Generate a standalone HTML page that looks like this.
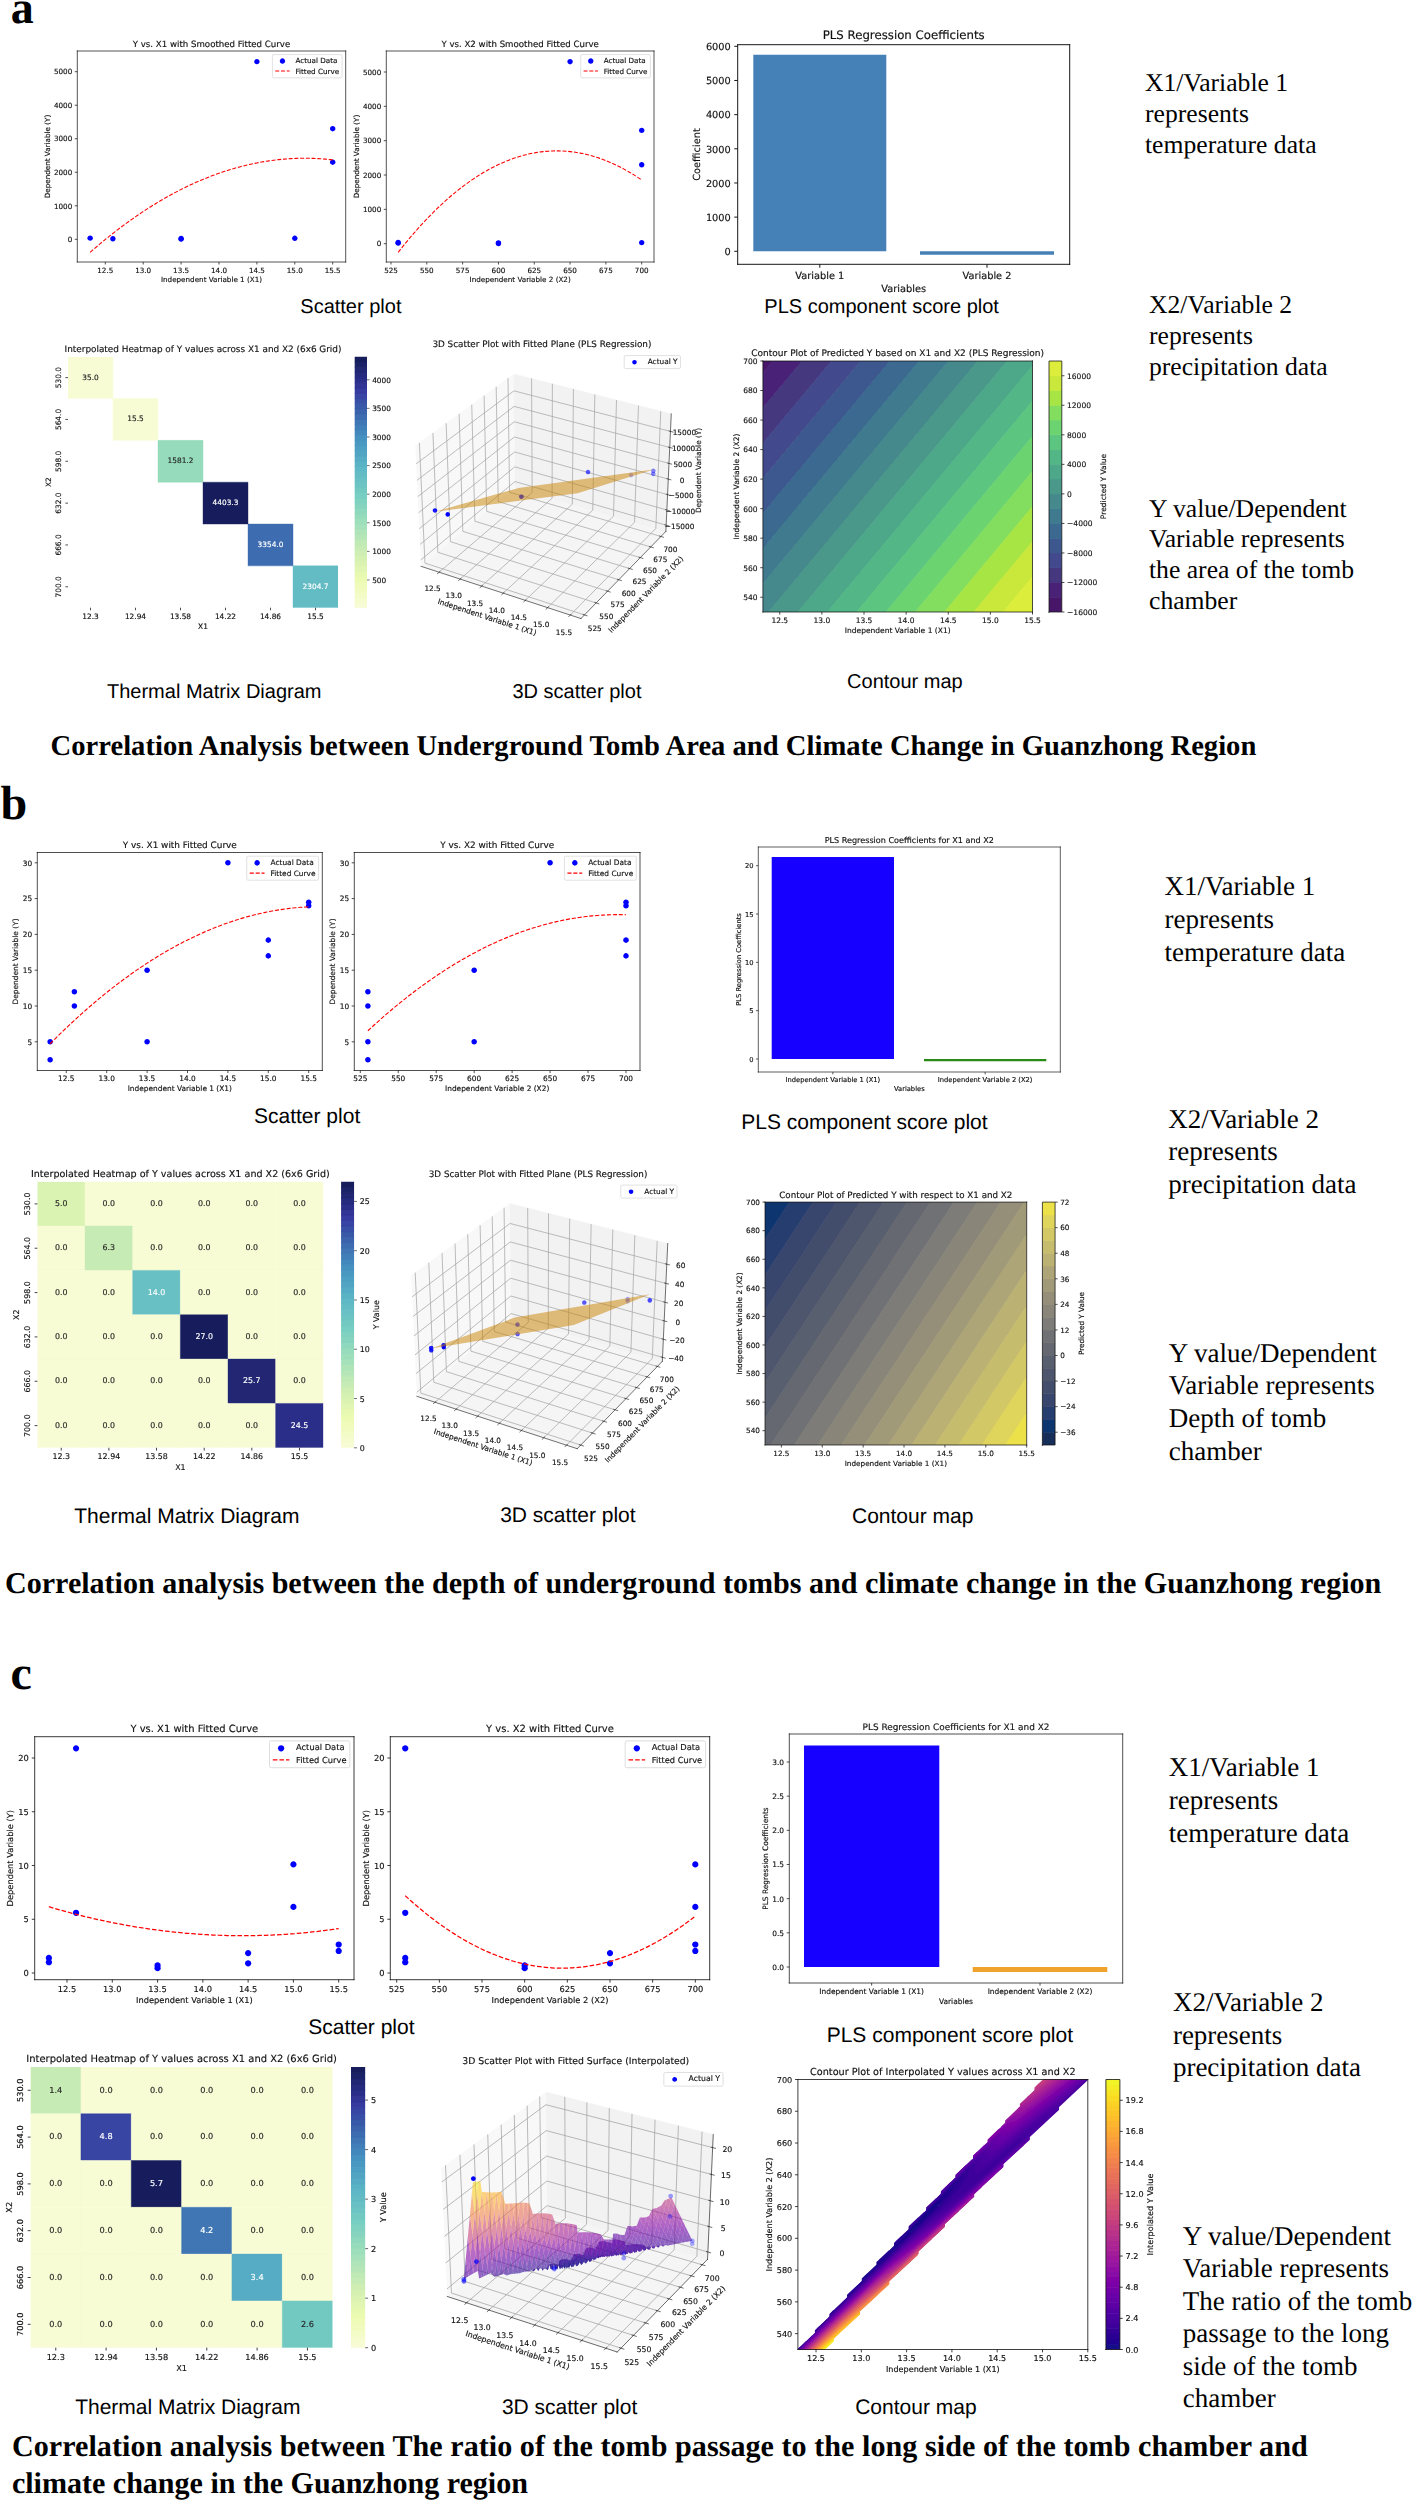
<!DOCTYPE html>
<html lang="en"><head><meta charset="utf-8"><title>Correlation analysis figures</title>
<style>
html,body{margin:0;padding:0;background:#fff}
#page{position:relative;width:1413px;height:2500px;overflow:hidden;background:#fff}
#page svg{position:absolute;left:0;top:0}
svg text{text-rendering:geometricPrecision}
.fig text{font-family:"DejaVu Sans",sans-serif}
.ar{font-family:"Liberation Sans",sans-serif;fill:#000}
.se{font-family:"Liberation Serif",serif;fill:#000}
.bd{font-family:"Liberation Serif",serif;font-weight:bold;fill:#000}
</style></head><body><div id="page">

<svg width="1413" height="2500" viewBox="0 0 1413 2500">
<defs>
<style type="text/css">*{stroke-linejoin: round; stroke-linecap: butt}</style>
</defs>
<filter id="soft" x="0" y="0" width="1" height="1" filterUnits="objectBoundingBox"><feGaussianBlur stdDeviation="0.4"/></filter><g class="fig" filter="url(#soft)">
<g><path d="M 0 2500 L 1413 2500 L 1413 0 L 0 0 z" style="fill: #ffffff"/></g>
<g><g><path d="M 77.3 262 L 345.7 262 L 345.7 51 L 77.3 51 z" style="fill: #ffffff"/></g>
<g id="matplotlib.axis_1">
<g><g><defs>
<path id="m2ba249a6d5" d="M 0 0 L 0 2.52" style="stroke: #111111; stroke-width: 0.72"/>
</defs>
<g><use href="#m2ba249a6d5" x="105.3" y="262" style="fill: #111111; stroke: #111111; stroke-width: 0.72"/></g></g>
<g><text style="font-size: 7.2px; text-anchor: middle; fill: #111111; stroke: #111111; stroke-width: 0.15" x="105.3" y="272.51">12.5</text></g></g>
<g><g><g><use href="#m2ba249a6d5" x="143.2" y="262" style="fill: #111111; stroke: #111111; stroke-width: 0.72"/></g></g>
<g><text style="font-size: 7.2px; text-anchor: middle; fill: #111111; stroke: #111111; stroke-width: 0.15" x="143.2" y="272.51">13.0</text></g></g>
<g><g><g><use href="#m2ba249a6d5" x="181.1" y="262" style="fill: #111111; stroke: #111111; stroke-width: 0.72"/></g></g>
<g><text style="font-size: 7.2px; text-anchor: middle; fill: #111111; stroke: #111111; stroke-width: 0.15" x="181.1" y="272.51">13.5</text></g></g>
<g><g><g><use href="#m2ba249a6d5" x="219" y="262" style="fill: #111111; stroke: #111111; stroke-width: 0.72"/></g></g>
<g><text style="font-size: 7.2px; text-anchor: middle; fill: #111111; stroke: #111111; stroke-width: 0.15" x="219" y="272.51">14.0</text></g></g>
<g><g><g><use href="#m2ba249a6d5" x="256.9" y="262" style="fill: #111111; stroke: #111111; stroke-width: 0.72"/></g></g>
<g><text style="font-size: 7.2px; text-anchor: middle; fill: #111111; stroke: #111111; stroke-width: 0.15" x="256.9" y="272.51">14.5</text></g></g>
<g><g><g><use href="#m2ba249a6d5" x="294.8" y="262" style="fill: #111111; stroke: #111111; stroke-width: 0.72"/></g></g>
<g><text style="font-size: 7.2px; text-anchor: middle; fill: #111111; stroke: #111111; stroke-width: 0.15" x="294.8" y="272.51">15.0</text></g></g>
<g><g><g><use href="#m2ba249a6d5" x="332.7" y="262" style="fill: #111111; stroke: #111111; stroke-width: 0.72"/></g></g>
<g><text style="font-size: 7.2px; text-anchor: middle; fill: #111111; stroke: #111111; stroke-width: 0.15" x="332.7" y="272.51">15.5</text></g></g>
<g><text style="font-size: 7.2px; text-anchor: middle; fill: #111111; stroke: #111111; stroke-width: 0.15" x="211.5" y="282.36">Independent Variable 1 (X1)</text></g></g>
<g id="matplotlib.axis_2">
<g><g><defs>
<path id="m06bb2922c9" d="M 0 0 L -2.52 0" style="stroke: #111111; stroke-width: 0.72"/>
</defs>
<g><use href="#m06bb2922c9" x="77.3" y="239.3" style="fill: #111111; stroke: #111111; stroke-width: 0.72"/></g></g>
<g><text style="font-size: 7.2px; text-anchor: end; fill: #111111; stroke: #111111; stroke-width: 0.15" x="72.26" y="242.04">0</text></g></g>
<g><g><g><use href="#m06bb2922c9" x="77.3" y="205.78" style="fill: #111111; stroke: #111111; stroke-width: 0.72"/></g></g>
<g><text style="font-size: 7.2px; text-anchor: end; fill: #111111; stroke: #111111; stroke-width: 0.15" x="72.26" y="208.52">1000</text></g></g>
<g><g><g><use href="#m06bb2922c9" x="77.3" y="172.26" style="fill: #111111; stroke: #111111; stroke-width: 0.72"/></g></g>
<g><text style="font-size: 7.2px; text-anchor: end; fill: #111111; stroke: #111111; stroke-width: 0.15" x="72.26" y="175">2000</text></g></g>
<g><g><g><use href="#m06bb2922c9" x="77.3" y="138.74" style="fill: #111111; stroke: #111111; stroke-width: 0.72"/></g></g>
<g><text style="font-size: 7.2px; text-anchor: end; fill: #111111; stroke: #111111; stroke-width: 0.15" x="72.26" y="141.48">3000</text></g></g>
<g><g><g><use href="#m06bb2922c9" x="77.3" y="105.22" style="fill: #111111; stroke: #111111; stroke-width: 0.72"/></g></g>
<g><text style="font-size: 7.2px; text-anchor: end; fill: #111111; stroke: #111111; stroke-width: 0.15" x="72.26" y="107.96">4000</text></g></g>
<g><g><g><use href="#m06bb2922c9" x="77.3" y="71.7" style="fill: #111111; stroke: #111111; stroke-width: 0.72"/></g></g>
<g><text style="font-size: 7.2px; text-anchor: end; fill: #111111; stroke: #111111; stroke-width: 0.15" x="72.26" y="74.44">5000</text></g></g>
<g><text style="font-size: 7.2px; text-anchor: middle; fill: #111111; stroke: #111111; stroke-width: 0.15" x="49.56" y="156.5" transform="rotate(-90 49.56 156.5)">Dependent Variable (Y)</text></g></g>
<g><path d="M 77.3 262 L 77.3 51" style="fill: none; stroke: #111111; stroke-width: 0.72; stroke-linejoin: miter; stroke-linecap: square"/></g>
<g><path d="M 345.7 262 L 345.7 51" style="fill: none; stroke: #111111; stroke-width: 0.72; stroke-linejoin: miter; stroke-linecap: square"/></g>
<g><path d="M 77.3 262 L 345.7 262" style="fill: none; stroke: #111111; stroke-width: 0.72; stroke-linejoin: miter; stroke-linecap: square"/></g>
<g><path d="M 77.3 51 L 345.7 51" style="fill: none; stroke: #111111; stroke-width: 0.72; stroke-linejoin: miter; stroke-linecap: square"/></g>
<g><defs>
<path id="m46b98c2aea" d="M 0 2.7 C 0.72 2.7 1.4 2.42 1.91 1.91 C 2.42 1.4 2.7 0.72 2.7 0 C 2.7 -0.72 2.42 -1.4 1.91 -1.91 C 1.4 -2.42 0.72 -2.7 0 -2.7 C -0.72 -2.7 -1.4 -2.42 -1.91 -1.91 C -2.42 -1.4 -2.7 -0.72 -2.7 0 C -2.7 0.72 -2.42 1.4 -1.91 1.91 C -1.4 2.42 -0.72 2.7 0 2.7 z"/>
</defs>
<g clip-path="url(#p2ca0eb7456)">
<use href="#m46b98c2aea" x="90.14" y="238.13" style="fill: #0000ff"/>
<use href="#m46b98c2aea" x="112.88" y="238.78" style="fill: #0000ff"/>
<use href="#m46b98c2aea" x="181.1" y="238.46" style="fill: #0000ff"/>
<use href="#m46b98c2aea" x="181.1" y="239.13" style="fill: #0000ff"/>
<use href="#m46b98c2aea" x="256.9" y="61.64" style="fill: #0000ff"/>
<use href="#m46b98c2aea" x="294.8" y="238.29" style="fill: #0000ff"/>
<use href="#m46b98c2aea" x="332.7" y="128.68" style="fill: #0000ff"/>
<use href="#m46b98c2aea" x="332.7" y="162.2" style="fill: #0000ff"/></g></g>
<g><text style="font-size: 8.64px; text-anchor: middle; fill: #111111; stroke: #111111; stroke-width: 0.15" x="211.5" y="46.68">Y vs. X1 with Smoothed Fitted Curve</text></g>
<g><path d="M 90.14 252.32 L 92.59 250.18 L 95.04 248.07 L 97.49 245.98 L 99.94 243.92 L 102.39 241.88 L 104.84 239.87 L 107.29 237.88 L 109.74 235.91 L 112.19 233.97 L 114.64 232.06 L 117.09 230.16 L 119.54 228.3 L 121.99 226.46 L 124.44 224.64 L 126.89 222.85 L 129.34 221.08 L 131.79 219.33 L 134.24 217.61 L 136.69 215.92 L 139.14 214.25 L 141.59 212.6 L 144.04 210.98 L 146.49 209.39 L 148.94 207.81 L 151.39 206.27 L 153.84 204.74 L 156.29 203.24 L 158.74 201.77 L 161.19 200.32 L 163.64 198.9 L 166.09 197.5 L 168.54 196.12 L 170.99 194.77 L 173.44 193.44 L 175.89 192.14 L 178.34 190.86 L 180.79 189.61 L 183.24 188.38 L 185.69 187.18 L 188.14 186 L 190.59 184.84 L 193.04 183.71 L 195.49 182.61 L 197.94 181.53 L 200.39 180.47 L 202.84 179.44 L 205.29 178.43 L 207.74 177.45 L 210.19 176.49 L 212.65 175.55 L 215.1 174.64 L 217.55 173.76 L 220 172.9 L 222.45 172.06 L 224.9 171.25 L 227.35 170.47 L 229.8 169.7 L 232.25 168.97 L 234.7 168.25 L 237.15 167.56 L 239.6 166.9 L 242.05 166.26 L 244.5 165.65 L 246.95 165.06 L 249.4 164.49 L 251.85 163.95 L 254.3 163.43 L 256.75 162.94 L 259.2 162.47 L 261.65 162.03 L 264.1 161.61 L 266.55 161.22 L 269 160.85 L 271.45 160.5 L 273.9 160.18 L 276.35 159.89 L 278.8 159.62 L 281.25 159.37 L 283.7 159.15 L 286.15 158.95 L 288.6 158.78 L 291.05 158.63 L 293.5 158.5 L 295.95 158.4 L 298.4 158.33 L 300.85 158.28 L 303.3 158.25 L 305.75 158.25 L 308.2 158.27 L 310.65 158.32 L 313.1 158.39 L 315.55 158.49 L 318 158.61 L 320.45 158.76 L 322.9 158.93 L 325.35 159.12 L 327.8 159.34 L 330.25 159.59 L 332.7 159.86" clip-path="url(#p2ca0eb7456)" style="fill: none; stroke-dasharray: 4,1.73; stroke-dashoffset: 0; stroke: #ff0000; stroke-width: 1.08"/></g>
<g><g><path d="M 273.82 77.9 L 340.66 77.9 Q 342.1 77.9 342.1 76.46 L 342.1 56.04 Q 342.1 54.6 340.66 54.6 L 273.82 54.6 Q 272.38 54.6 272.38 56.04 L 272.38 76.46 Q 272.38 77.9 273.82 77.9 z" style="fill: #ffffff; opacity: 0.8; stroke: #cccccc; stroke-width: 0.72; stroke-linejoin: miter"/></g>
<g><g><use href="#m46b98c2aea" x="282.46" y="61.06" style="fill: #0000ff"/></g></g>
<g><text style="font-size: 7.2px; text-anchor: start; fill: #111111; stroke: #111111; stroke-width: 0.15" x="295.42" y="62.95">Actual Data</text></g>
<g><path d="M 275.26 71 L 282.46 71 L 289.66 71" style="fill: none; stroke-dasharray: 4,1.73; stroke-dashoffset: 0; stroke: #ff0000; stroke-width: 1.08"/></g>
<g><text style="font-size: 7.2px; text-anchor: start; fill: #111111; stroke: #111111; stroke-width: 0.15" x="295.42" y="73.52">Fitted Curve</text></g></g></g>
<g><g><path d="M 386.3 262 L 654 262 L 654 51 L 386.3 51 z" style="fill: #ffffff"/></g>
<g id="matplotlib.axis_3">
<g><g><g><use href="#m2ba249a6d5" x="391" y="262" style="fill: #111111; stroke: #111111; stroke-width: 0.72"/></g></g>
<g><text style="font-size: 7.2px; text-anchor: middle; fill: #111111; stroke: #111111; stroke-width: 0.15" x="391" y="272.51">525</text></g></g>
<g><g><g><use href="#m2ba249a6d5" x="426.81" y="262" style="fill: #111111; stroke: #111111; stroke-width: 0.72"/></g></g>
<g><text style="font-size: 7.2px; text-anchor: middle; fill: #111111; stroke: #111111; stroke-width: 0.15" x="426.81" y="272.51">550</text></g></g>
<g><g><g><use href="#m2ba249a6d5" x="462.63" y="262" style="fill: #111111; stroke: #111111; stroke-width: 0.72"/></g></g>
<g><text style="font-size: 7.2px; text-anchor: middle; fill: #111111; stroke: #111111; stroke-width: 0.15" x="462.63" y="272.51">575</text></g></g>
<g><g><g><use href="#m2ba249a6d5" x="498.44" y="262" style="fill: #111111; stroke: #111111; stroke-width: 0.72"/></g></g>
<g><text style="font-size: 7.2px; text-anchor: middle; fill: #111111; stroke: #111111; stroke-width: 0.15" x="498.44" y="272.51">600</text></g></g>
<g><g><g><use href="#m2ba249a6d5" x="534.26" y="262" style="fill: #111111; stroke: #111111; stroke-width: 0.72"/></g></g>
<g><text style="font-size: 7.2px; text-anchor: middle; fill: #111111; stroke: #111111; stroke-width: 0.15" x="534.26" y="272.51">625</text></g></g>
<g><g><g><use href="#m2ba249a6d5" x="570.07" y="262" style="fill: #111111; stroke: #111111; stroke-width: 0.72"/></g></g>
<g><text style="font-size: 7.2px; text-anchor: middle; fill: #111111; stroke: #111111; stroke-width: 0.15" x="570.07" y="272.51">650</text></g></g>
<g><g><g><use href="#m2ba249a6d5" x="605.89" y="262" style="fill: #111111; stroke: #111111; stroke-width: 0.72"/></g></g>
<g><text style="font-size: 7.2px; text-anchor: middle; fill: #111111; stroke: #111111; stroke-width: 0.15" x="605.89" y="272.51">675</text></g></g>
<g><g><g><use href="#m2ba249a6d5" x="641.7" y="262" style="fill: #111111; stroke: #111111; stroke-width: 0.72"/></g></g>
<g><text style="font-size: 7.2px; text-anchor: middle; fill: #111111; stroke: #111111; stroke-width: 0.15" x="641.7" y="272.51">700</text></g></g>
<g><text style="font-size: 7.2px; text-anchor: middle; fill: #111111; stroke: #111111; stroke-width: 0.15" x="520.15" y="282.36">Independent Variable 2 (X2)</text></g></g>
<g id="matplotlib.axis_4">
<g><g><g><use href="#m06bb2922c9" x="386.3" y="243.7" style="fill: #111111; stroke: #111111; stroke-width: 0.72"/></g></g>
<g><text style="font-size: 7.2px; text-anchor: end; fill: #111111; stroke: #111111; stroke-width: 0.15" x="381.26" y="246.44">0</text></g></g>
<g><g><g><use href="#m06bb2922c9" x="386.3" y="209.36" style="fill: #111111; stroke: #111111; stroke-width: 0.72"/></g></g>
<g><text style="font-size: 7.2px; text-anchor: end; fill: #111111; stroke: #111111; stroke-width: 0.15" x="381.26" y="212.1">1000</text></g></g>
<g><g><g><use href="#m06bb2922c9" x="386.3" y="175.02" style="fill: #111111; stroke: #111111; stroke-width: 0.72"/></g></g>
<g><text style="font-size: 7.2px; text-anchor: end; fill: #111111; stroke: #111111; stroke-width: 0.15" x="381.26" y="177.76">2000</text></g></g>
<g><g><g><use href="#m06bb2922c9" x="386.3" y="140.68" style="fill: #111111; stroke: #111111; stroke-width: 0.72"/></g></g>
<g><text style="font-size: 7.2px; text-anchor: end; fill: #111111; stroke: #111111; stroke-width: 0.15" x="381.26" y="143.42">3000</text></g></g>
<g><g><g><use href="#m06bb2922c9" x="386.3" y="106.34" style="fill: #111111; stroke: #111111; stroke-width: 0.72"/></g></g>
<g><text style="font-size: 7.2px; text-anchor: end; fill: #111111; stroke: #111111; stroke-width: 0.15" x="381.26" y="109.08">4000</text></g></g>
<g><g><g><use href="#m06bb2922c9" x="386.3" y="72" style="fill: #111111; stroke: #111111; stroke-width: 0.72"/></g></g>
<g><text style="font-size: 7.2px; text-anchor: end; fill: #111111; stroke: #111111; stroke-width: 0.15" x="381.26" y="74.74">5000</text></g></g>
<g><text style="font-size: 7.2px; text-anchor: middle; fill: #111111; stroke: #111111; stroke-width: 0.15" x="358.56" y="156.5" transform="rotate(-90 358.56 156.5)">Dependent Variable (Y)</text></g></g>
<g><path d="M 386.3 262 L 386.3 51" style="fill: none; stroke: #111111; stroke-width: 0.72; stroke-linejoin: miter; stroke-linecap: square"/></g>
<g><path d="M 654 262 L 654 51" style="fill: none; stroke: #111111; stroke-width: 0.72; stroke-linejoin: miter; stroke-linecap: square"/></g>
<g><path d="M 386.3 262 L 654 262" style="fill: none; stroke: #111111; stroke-width: 0.72; stroke-linejoin: miter; stroke-linecap: square"/></g>
<g><path d="M 386.3 51 L 654 51" style="fill: none; stroke: #111111; stroke-width: 0.72; stroke-linejoin: miter; stroke-linecap: square"/></g>
<g><g clip-path="url(#p0b103eb5af)">
<use href="#m46b98c2aea" x="398.16" y="242.5" style="fill: #0000ff"/>
<use href="#m46b98c2aea" x="398.16" y="243.17" style="fill: #0000ff"/>
<use href="#m46b98c2aea" x="498.44" y="242.84" style="fill: #0000ff"/>
<use href="#m46b98c2aea" x="498.44" y="243.53" style="fill: #0000ff"/>
<use href="#m46b98c2aea" x="570.07" y="61.7" style="fill: #0000ff"/>
<use href="#m46b98c2aea" x="641.7" y="242.67" style="fill: #0000ff"/>
<use href="#m46b98c2aea" x="641.7" y="130.38" style="fill: #0000ff"/>
<use href="#m46b98c2aea" x="641.7" y="164.72" style="fill: #0000ff"/></g></g>
<g><text style="font-size: 8.64px; text-anchor: middle; fill: #111111; stroke: #111111; stroke-width: 0.15" x="520.15" y="46.68">Y vs. X2 with Smoothed Fitted Curve</text></g>
<g><path d="M 398.16 252.32 L 400.62 249.19 L 403.08 246.12 L 405.54 243.1 L 408 240.12 L 410.46 237.19 L 412.92 234.31 L 415.38 231.48 L 417.84 228.7 L 420.3 225.97 L 422.76 223.29 L 425.22 220.65 L 427.68 218.07 L 430.14 215.53 L 432.6 213.04 L 435.06 210.6 L 437.52 208.21 L 439.98 205.87 L 442.44 203.58 L 444.9 201.34 L 447.36 199.14 L 449.82 196.99 L 452.28 194.9 L 454.74 192.85 L 457.2 190.85 L 459.66 188.9 L 462.12 186.99 L 464.58 185.14 L 467.04 183.34 L 469.5 181.58 L 471.96 179.87 L 474.42 178.22 L 476.88 176.61 L 479.34 175.05 L 481.8 173.53 L 484.26 172.07 L 486.72 170.66 L 489.18 169.29 L 491.64 167.98 L 494.1 166.71 L 496.56 165.49 L 499.02 164.32 L 501.48 163.2 L 503.94 162.13 L 506.4 161.1 L 508.86 160.13 L 511.32 159.2 L 513.78 158.33 L 516.24 157.5 L 518.7 156.72 L 521.16 155.99 L 523.62 155.31 L 526.08 154.67 L 528.54 154.09 L 531 153.55 L 533.46 153.07 L 535.92 152.63 L 538.38 152.24 L 540.84 151.9 L 543.3 151.61 L 545.76 151.37 L 548.22 151.17 L 550.68 151.03 L 553.14 150.93 L 555.6 150.88 L 558.06 150.89 L 560.52 150.94 L 562.98 151.04 L 565.44 151.18 L 567.9 151.38 L 570.36 151.63 L 572.82 151.92 L 575.28 152.26 L 577.74 152.66 L 580.2 153.1 L 582.66 153.59 L 585.12 154.13 L 587.58 154.71 L 590.04 155.35 L 592.5 156.03 L 594.96 156.77 L 597.42 157.55 L 599.88 158.38 L 602.34 159.26 L 604.8 160.19 L 607.26 161.17 L 609.72 162.2 L 612.18 163.27 L 614.64 164.4 L 617.1 165.57 L 619.56 166.79 L 622.02 168.06 L 624.48 169.38 L 626.94 170.75 L 629.4 172.17 L 631.86 173.63 L 634.32 175.15 L 636.78 176.71 L 639.24 178.33 L 641.7 179.99" clip-path="url(#p0b103eb5af)" style="fill: none; stroke-dasharray: 4,1.73; stroke-dashoffset: 0; stroke: #ff0000; stroke-width: 1.08"/></g>
<g><g><path d="M 582.12 77.9 L 648.96 77.9 Q 650.4 77.9 650.4 76.46 L 650.4 56.04 Q 650.4 54.6 648.96 54.6 L 582.12 54.6 Q 580.68 54.6 580.68 56.04 L 580.68 76.46 Q 580.68 77.9 582.12 77.9 z" style="fill: #ffffff; opacity: 0.8; stroke: #cccccc; stroke-width: 0.72; stroke-linejoin: miter"/></g>
<g><g><use href="#m46b98c2aea" x="590.76" y="61.06" style="fill: #0000ff"/></g></g>
<g><text style="font-size: 7.2px; text-anchor: start; fill: #111111; stroke: #111111; stroke-width: 0.15" x="603.72" y="62.95">Actual Data</text></g>
<g><path d="M 583.56 71 L 590.76 71 L 597.96 71" style="fill: none; stroke-dasharray: 4,1.73; stroke-dashoffset: 0; stroke: #ff0000; stroke-width: 1.08"/></g>
<g><text style="font-size: 7.2px; text-anchor: start; fill: #111111; stroke: #111111; stroke-width: 0.15" x="603.72" y="73.52">Fitted Curve</text></g></g></g>
<g><g><path d="M 37.3 1070.5 L 322.3 1070.5 L 322.3 852.5 L 37.3 852.5 z" style="fill: #ffffff"/></g>
<g id="matplotlib.axis_5">
<g><g><defs>
<path id="m5240af882c" d="M 0 0 L 0 2.6" style="stroke: #111111; stroke-width: 0.74"/>
</defs>
<g><use href="#m5240af882c" x="66.3" y="1070.5" style="fill: #111111; stroke: #111111; stroke-width: 0.74"/></g></g>
<g><text style="font-size: 7.42px; text-anchor: middle; fill: #111111; stroke: #111111; stroke-width: 0.15" x="66.3" y="1081.33">12.5</text></g></g>
<g><g><g><use href="#m5240af882c" x="106.7" y="1070.5" style="fill: #111111; stroke: #111111; stroke-width: 0.74"/></g></g>
<g><text style="font-size: 7.42px; text-anchor: middle; fill: #111111; stroke: #111111; stroke-width: 0.15" x="106.7" y="1081.33">13.0</text></g></g>
<g><g><g><use href="#m5240af882c" x="147.1" y="1070.5" style="fill: #111111; stroke: #111111; stroke-width: 0.74"/></g></g>
<g><text style="font-size: 7.42px; text-anchor: middle; fill: #111111; stroke: #111111; stroke-width: 0.15" x="147.1" y="1081.33">13.5</text></g></g>
<g><g><g><use href="#m5240af882c" x="187.5" y="1070.5" style="fill: #111111; stroke: #111111; stroke-width: 0.74"/></g></g>
<g><text style="font-size: 7.42px; text-anchor: middle; fill: #111111; stroke: #111111; stroke-width: 0.15" x="187.5" y="1081.33">14.0</text></g></g>
<g><g><g><use href="#m5240af882c" x="227.9" y="1070.5" style="fill: #111111; stroke: #111111; stroke-width: 0.74"/></g></g>
<g><text style="font-size: 7.42px; text-anchor: middle; fill: #111111; stroke: #111111; stroke-width: 0.15" x="227.9" y="1081.33">14.5</text></g></g>
<g><g><g><use href="#m5240af882c" x="268.3" y="1070.5" style="fill: #111111; stroke: #111111; stroke-width: 0.74"/></g></g>
<g><text style="font-size: 7.42px; text-anchor: middle; fill: #111111; stroke: #111111; stroke-width: 0.15" x="268.3" y="1081.33">15.0</text></g></g>
<g><g><g><use href="#m5240af882c" x="308.7" y="1070.5" style="fill: #111111; stroke: #111111; stroke-width: 0.74"/></g></g>
<g><text style="font-size: 7.42px; text-anchor: middle; fill: #111111; stroke: #111111; stroke-width: 0.15" x="308.7" y="1081.33">15.5</text></g></g>
<g><text style="font-size: 7.42px; text-anchor: middle; fill: #111111; stroke: #111111; stroke-width: 0.15" x="179.8" y="1091.48">Independent Variable 1 (X1)</text></g></g>
<g id="matplotlib.axis_6">
<g><g><defs>
<path id="mcc1464dc10" d="M 0 0 L -2.6 0" style="stroke: #111111; stroke-width: 0.74"/>
</defs>
<g><use href="#mcc1464dc10" x="37.3" y="1041.8" style="fill: #111111; stroke: #111111; stroke-width: 0.74"/></g></g>
<g><text style="font-size: 7.42px; text-anchor: end; fill: #111111; stroke: #111111; stroke-width: 0.15" x="32.11" y="1044.62">5</text></g></g>
<g><g><g><use href="#mcc1464dc10" x="37.3" y="1006" style="fill: #111111; stroke: #111111; stroke-width: 0.74"/></g></g>
<g><text style="font-size: 7.42px; text-anchor: end; fill: #111111; stroke: #111111; stroke-width: 0.15" x="32.11" y="1008.82">10</text></g></g>
<g><g><g><use href="#mcc1464dc10" x="37.3" y="970.2" style="fill: #111111; stroke: #111111; stroke-width: 0.74"/></g></g>
<g><text style="font-size: 7.42px; text-anchor: end; fill: #111111; stroke: #111111; stroke-width: 0.15" x="32.11" y="973.02">15</text></g></g>
<g><g><g><use href="#mcc1464dc10" x="37.3" y="934.4" style="fill: #111111; stroke: #111111; stroke-width: 0.74"/></g></g>
<g><text style="font-size: 7.42px; text-anchor: end; fill: #111111; stroke: #111111; stroke-width: 0.15" x="32.11" y="937.22">20</text></g></g>
<g><g><g><use href="#mcc1464dc10" x="37.3" y="898.6" style="fill: #111111; stroke: #111111; stroke-width: 0.74"/></g></g>
<g><text style="font-size: 7.42px; text-anchor: end; fill: #111111; stroke: #111111; stroke-width: 0.15" x="32.11" y="901.42">25</text></g></g>
<g><g><g><use href="#mcc1464dc10" x="37.3" y="862.8" style="fill: #111111; stroke: #111111; stroke-width: 0.74"/></g></g>
<g><text style="font-size: 7.42px; text-anchor: end; fill: #111111; stroke: #111111; stroke-width: 0.15" x="32.11" y="865.62">30</text></g></g>
<g><text style="font-size: 7.42px; text-anchor: middle; fill: #111111; stroke: #111111; stroke-width: 0.15" x="18.15" y="961.5" transform="rotate(-90 18.15 961.5)">Dependent Variable (Y)</text></g></g>
<g><path d="M 37.3 1070.5 L 37.3 852.5" style="fill: none; stroke: #111111; stroke-width: 0.74; stroke-linejoin: miter; stroke-linecap: square"/></g>
<g><path d="M 322.3 1070.5 L 322.3 852.5" style="fill: none; stroke: #111111; stroke-width: 0.74; stroke-linejoin: miter; stroke-linecap: square"/></g>
<g><path d="M 37.3 1070.5 L 322.3 1070.5" style="fill: none; stroke: #111111; stroke-width: 0.74; stroke-linejoin: miter; stroke-linecap: square"/></g>
<g><path d="M 37.3 852.5 L 322.3 852.5" style="fill: none; stroke: #111111; stroke-width: 0.74; stroke-linejoin: miter; stroke-linecap: square"/></g>
<g><defs>
<path id="m7fffdc0427" d="M 0 2.78 C 0.74 2.78 1.45 2.49 1.97 1.97 C 2.49 1.45 2.78 0.74 2.78 0 C 2.78 -0.74 2.49 -1.45 1.97 -1.97 C 1.45 -2.49 0.74 -2.78 0 -2.78 C -0.74 -2.78 -1.45 -2.49 -1.97 -1.97 C -2.49 -1.45 -2.78 -0.74 -2.78 0 C -2.78 0.74 -2.49 1.45 -1.97 1.97 C -1.45 2.49 -0.74 2.78 0 2.78 z"/>
</defs>
<g clip-path="url(#p9f50dae199)">
<use href="#m7fffdc0427" x="50.14" y="1041.8" style="fill: #0000ff"/>
<use href="#m7fffdc0427" x="50.14" y="1059.7" style="fill: #0000ff"/>
<use href="#m7fffdc0427" x="74.38" y="991.68" style="fill: #0000ff"/>
<use href="#m7fffdc0427" x="74.38" y="1006" style="fill: #0000ff"/>
<use href="#m7fffdc0427" x="147.1" y="970.2" style="fill: #0000ff"/>
<use href="#m7fffdc0427" x="147.1" y="1041.8" style="fill: #0000ff"/>
<use href="#m7fffdc0427" x="227.9" y="862.8" style="fill: #0000ff"/>
<use href="#m7fffdc0427" x="268.3" y="940.13" style="fill: #0000ff"/>
<use href="#m7fffdc0427" x="268.3" y="955.88" style="fill: #0000ff"/>
<use href="#m7fffdc0427" x="308.7" y="902.18" style="fill: #0000ff"/>
<use href="#m7fffdc0427" x="308.7" y="905.76" style="fill: #0000ff"/></g></g>
<g><text style="font-size: 8.9px; text-anchor: middle; fill: #111111; stroke: #111111; stroke-width: 0.15" x="179.8" y="848.05">Y vs. X1 with Fitted Curve</text></g>
<g><path d="M 50.14 1043.8 L 52.75 1041.17 L 55.36 1038.57 L 57.98 1035.99 L 60.59 1033.43 L 63.2 1030.9 L 65.81 1028.4 L 68.42 1025.92 L 71.03 1023.46 L 73.65 1021.04 L 76.26 1018.63 L 78.87 1016.26 L 81.48 1013.91 L 84.09 1011.58 L 86.7 1009.28 L 89.32 1007 L 91.93 1004.75 L 94.54 1002.53 L 97.15 1000.33 L 99.76 998.16 L 102.37 996.01 L 104.99 993.89 L 107.6 991.79 L 110.21 989.72 L 112.82 987.67 L 115.43 985.65 L 118.04 983.66 L 120.66 981.69 L 123.27 979.75 L 125.88 977.83 L 128.49 975.93 L 131.1 974.07 L 133.71 972.22 L 136.33 970.41 L 138.94 968.62 L 141.55 966.85 L 144.16 965.11 L 146.77 963.4 L 149.39 961.71 L 152 960.04 L 154.61 958.4 L 157.22 956.79 L 159.83 955.2 L 162.44 953.64 L 165.06 952.11 L 167.67 950.6 L 170.28 949.11 L 172.89 947.65 L 175.5 946.22 L 178.11 944.81 L 180.73 943.42 L 183.34 942.06 L 185.95 940.73 L 188.56 939.42 L 191.17 938.14 L 193.78 936.89 L 196.4 935.66 L 199.01 934.45 L 201.62 933.27 L 204.23 932.12 L 206.84 930.99 L 209.45 929.89 L 212.07 928.81 L 214.68 927.75 L 217.29 926.73 L 219.9 925.73 L 222.51 924.75 L 225.13 923.8 L 227.74 922.87 L 230.35 921.98 L 232.96 921.1 L 235.57 920.25 L 238.18 919.43 L 240.8 918.63 L 243.41 917.86 L 246.02 917.11 L 248.63 916.39 L 251.24 915.7 L 253.85 915.03 L 256.47 914.38 L 259.08 913.76 L 261.69 913.17 L 264.3 912.6 L 266.91 912.06 L 269.52 911.54 L 272.14 911.05 L 274.75 910.58 L 277.36 910.14 L 279.97 909.72 L 282.58 909.33 L 285.19 908.97 L 287.81 908.63 L 290.42 908.32 L 293.03 908.03 L 295.64 907.77 L 298.25 907.53 L 300.86 907.32 L 303.48 907.13 L 306.09 906.97 L 308.7 906.83" clip-path="url(#p9f50dae199)" style="fill: none; stroke-dasharray: 4.12,1.78; stroke-dashoffset: 0; stroke: #ff0000; stroke-width: 1.11"/></g>
<g><g><path d="M 248.23 880.22 L 317.11 880.22 Q 318.59 880.22 318.59 878.73 L 318.59 857.69 Q 318.59 856.21 317.11 856.21 L 248.23 856.21 Q 246.74 856.21 246.74 857.69 L 246.74 878.73 Q 246.74 880.22 248.23 880.22 z" style="fill: #ffffff; opacity: 0.8; stroke: #cccccc; stroke-width: 0.74; stroke-linejoin: miter"/></g>
<g><g><use href="#m7fffdc0427" x="257.13" y="862.87" style="fill: #0000ff"/></g></g>
<g><text style="font-size: 7.42px; text-anchor: start; fill: #111111; stroke: #111111; stroke-width: 0.15" x="270.49" y="864.82">Actual Data</text></g>
<g><path d="M 249.71 873.11 L 257.13 873.11 L 264.55 873.11" style="fill: none; stroke-dasharray: 4.12,1.78; stroke-dashoffset: 0; stroke: #ff0000; stroke-width: 1.11"/></g>
<g><text style="font-size: 7.42px; text-anchor: start; fill: #111111; stroke: #111111; stroke-width: 0.15" x="270.49" y="875.71">Fitted Curve</text></g></g></g>
<g><g><path d="M 354.3 1070.5 L 640 1070.5 L 640 852.5 L 354.3 852.5 z" style="fill: #ffffff"/></g>
<g id="matplotlib.axis_7">
<g><g><g><use href="#m5240af882c" x="360.3" y="1070.5" style="fill: #111111; stroke: #111111; stroke-width: 0.74"/></g></g>
<g><text style="font-size: 7.42px; text-anchor: middle; fill: #111111; stroke: #111111; stroke-width: 0.15" x="360.3" y="1081.33">525</text></g></g>
<g><g><g><use href="#m5240af882c" x="398.26" y="1070.5" style="fill: #111111; stroke: #111111; stroke-width: 0.74"/></g></g>
<g><text style="font-size: 7.42px; text-anchor: middle; fill: #111111; stroke: #111111; stroke-width: 0.15" x="398.26" y="1081.33">550</text></g></g>
<g><g><g><use href="#m5240af882c" x="436.21" y="1070.5" style="fill: #111111; stroke: #111111; stroke-width: 0.74"/></g></g>
<g><text style="font-size: 7.42px; text-anchor: middle; fill: #111111; stroke: #111111; stroke-width: 0.15" x="436.21" y="1081.33">575</text></g></g>
<g><g><g><use href="#m5240af882c" x="474.17" y="1070.5" style="fill: #111111; stroke: #111111; stroke-width: 0.74"/></g></g>
<g><text style="font-size: 7.42px; text-anchor: middle; fill: #111111; stroke: #111111; stroke-width: 0.15" x="474.17" y="1081.33">600</text></g></g>
<g><g><g><use href="#m5240af882c" x="512.13" y="1070.5" style="fill: #111111; stroke: #111111; stroke-width: 0.74"/></g></g>
<g><text style="font-size: 7.42px; text-anchor: middle; fill: #111111; stroke: #111111; stroke-width: 0.15" x="512.13" y="1081.33">625</text></g></g>
<g><g><g><use href="#m5240af882c" x="550.09" y="1070.5" style="fill: #111111; stroke: #111111; stroke-width: 0.74"/></g></g>
<g><text style="font-size: 7.42px; text-anchor: middle; fill: #111111; stroke: #111111; stroke-width: 0.15" x="550.09" y="1081.33">650</text></g></g>
<g><g><g><use href="#m5240af882c" x="588.04" y="1070.5" style="fill: #111111; stroke: #111111; stroke-width: 0.74"/></g></g>
<g><text style="font-size: 7.42px; text-anchor: middle; fill: #111111; stroke: #111111; stroke-width: 0.15" x="588.04" y="1081.33">675</text></g></g>
<g><g><g><use href="#m5240af882c" x="626" y="1070.5" style="fill: #111111; stroke: #111111; stroke-width: 0.74"/></g></g>
<g><text style="font-size: 7.42px; text-anchor: middle; fill: #111111; stroke: #111111; stroke-width: 0.15" x="626" y="1081.33">700</text></g></g>
<g><text style="font-size: 7.42px; text-anchor: middle; fill: #111111; stroke: #111111; stroke-width: 0.15" x="497.15" y="1091.48">Independent Variable 2 (X2)</text></g></g>
<g id="matplotlib.axis_8">
<g><g><g><use href="#mcc1464dc10" x="354.3" y="1041.8" style="fill: #111111; stroke: #111111; stroke-width: 0.74"/></g></g>
<g><text style="font-size: 7.42px; text-anchor: end; fill: #111111; stroke: #111111; stroke-width: 0.15" x="349.11" y="1044.62">5</text></g></g>
<g><g><g><use href="#mcc1464dc10" x="354.3" y="1006" style="fill: #111111; stroke: #111111; stroke-width: 0.74"/></g></g>
<g><text style="font-size: 7.42px; text-anchor: end; fill: #111111; stroke: #111111; stroke-width: 0.15" x="349.11" y="1008.82">10</text></g></g>
<g><g><g><use href="#mcc1464dc10" x="354.3" y="970.2" style="fill: #111111; stroke: #111111; stroke-width: 0.74"/></g></g>
<g><text style="font-size: 7.42px; text-anchor: end; fill: #111111; stroke: #111111; stroke-width: 0.15" x="349.11" y="973.02">15</text></g></g>
<g><g><g><use href="#mcc1464dc10" x="354.3" y="934.4" style="fill: #111111; stroke: #111111; stroke-width: 0.74"/></g></g>
<g><text style="font-size: 7.42px; text-anchor: end; fill: #111111; stroke: #111111; stroke-width: 0.15" x="349.11" y="937.22">20</text></g></g>
<g><g><g><use href="#mcc1464dc10" x="354.3" y="898.6" style="fill: #111111; stroke: #111111; stroke-width: 0.74"/></g></g>
<g><text style="font-size: 7.42px; text-anchor: end; fill: #111111; stroke: #111111; stroke-width: 0.15" x="349.11" y="901.42">25</text></g></g>
<g><g><g><use href="#mcc1464dc10" x="354.3" y="862.8" style="fill: #111111; stroke: #111111; stroke-width: 0.74"/></g></g>
<g><text style="font-size: 7.42px; text-anchor: end; fill: #111111; stroke: #111111; stroke-width: 0.15" x="349.11" y="865.62">30</text></g></g>
<g><text style="font-size: 7.42px; text-anchor: middle; fill: #111111; stroke: #111111; stroke-width: 0.15" x="335.15" y="961.5" transform="rotate(-90 335.15 961.5)">Dependent Variable (Y)</text></g></g>
<g><path d="M 354.3 1070.5 L 354.3 852.5" style="fill: none; stroke: #111111; stroke-width: 0.74; stroke-linejoin: miter; stroke-linecap: square"/></g>
<g><path d="M 640 1070.5 L 640 852.5" style="fill: none; stroke: #111111; stroke-width: 0.74; stroke-linejoin: miter; stroke-linecap: square"/></g>
<g><path d="M 354.3 1070.5 L 640 1070.5" style="fill: none; stroke: #111111; stroke-width: 0.74; stroke-linejoin: miter; stroke-linecap: square"/></g>
<g><path d="M 354.3 852.5 L 640 852.5" style="fill: none; stroke: #111111; stroke-width: 0.74; stroke-linejoin: miter; stroke-linecap: square"/></g>
<g><g clip-path="url(#p8e01f671bc)">
<use href="#m7fffdc0427" x="367.89" y="1041.8" style="fill: #0000ff"/>
<use href="#m7fffdc0427" x="367.89" y="1059.7" style="fill: #0000ff"/>
<use href="#m7fffdc0427" x="367.89" y="991.68" style="fill: #0000ff"/>
<use href="#m7fffdc0427" x="367.89" y="1006" style="fill: #0000ff"/>
<use href="#m7fffdc0427" x="474.17" y="970.2" style="fill: #0000ff"/>
<use href="#m7fffdc0427" x="474.17" y="1041.8" style="fill: #0000ff"/>
<use href="#m7fffdc0427" x="550.09" y="862.8" style="fill: #0000ff"/>
<use href="#m7fffdc0427" x="626" y="940.13" style="fill: #0000ff"/>
<use href="#m7fffdc0427" x="626" y="955.88" style="fill: #0000ff"/>
<use href="#m7fffdc0427" x="626" y="902.18" style="fill: #0000ff"/>
<use href="#m7fffdc0427" x="626" y="905.76" style="fill: #0000ff"/></g></g>
<g><text style="font-size: 8.9px; text-anchor: middle; fill: #111111; stroke: #111111; stroke-width: 0.15" x="497.15" y="848.05">Y vs. X2 with Fitted Curve</text></g>
<g><path d="M 367.89 1030.77 L 370.5 1028.36 L 373.11 1025.98 L 375.71 1023.62 L 378.32 1021.29 L 380.93 1018.98 L 383.53 1016.69 L 386.14 1014.43 L 388.75 1012.2 L 391.36 1009.99 L 393.96 1007.81 L 396.57 1005.65 L 399.18 1003.52 L 401.78 1001.42 L 404.39 999.33 L 407 997.28 L 409.61 995.25 L 412.21 993.24 L 414.82 991.26 L 417.43 989.31 L 420.03 987.38 L 422.64 985.47 L 425.25 983.59 L 427.86 981.74 L 430.46 979.91 L 433.07 978.11 L 435.68 976.33 L 438.28 974.58 L 440.89 972.85 L 443.5 971.15 L 446.11 969.47 L 448.71 967.82 L 451.32 966.19 L 453.93 964.59 L 456.53 963.01 L 459.14 961.46 L 461.75 959.94 L 464.36 958.44 L 466.96 956.96 L 469.57 955.51 L 472.18 954.09 L 474.78 952.69 L 477.39 951.32 L 480 949.97 L 482.61 948.64 L 485.21 947.35 L 487.82 946.07 L 490.43 944.83 L 493.03 943.6 L 495.64 942.41 L 498.25 941.23 L 500.86 940.09 L 503.46 938.97 L 506.07 937.87 L 508.68 936.8 L 511.29 935.76 L 513.89 934.74 L 516.5 933.74 L 519.11 932.77 L 521.71 931.83 L 524.32 930.91 L 526.93 930.01 L 529.54 929.15 L 532.14 928.3 L 534.75 927.49 L 537.36 926.69 L 539.96 925.93 L 542.57 925.18 L 545.18 924.47 L 547.79 923.78 L 550.39 923.11 L 553 922.47 L 555.61 921.85 L 558.21 921.26 L 560.82 920.7 L 563.43 920.16 L 566.04 919.64 L 568.64 919.15 L 571.25 918.69 L 573.86 918.25 L 576.46 917.84 L 579.07 917.45 L 581.68 917.09 L 584.29 916.75 L 586.89 916.44 L 589.5 916.15 L 592.11 915.89 L 594.71 915.65 L 597.32 915.44 L 599.93 915.25 L 602.54 915.09 L 605.14 914.96 L 607.75 914.85 L 610.36 914.76 L 612.96 914.7 L 615.57 914.67 L 618.18 914.66 L 620.79 914.67 L 623.39 914.71 L 626 914.78" clip-path="url(#p8e01f671bc)" style="fill: none; stroke-dasharray: 4.12,1.78; stroke-dashoffset: 0; stroke: #ff0000; stroke-width: 1.11"/></g>
<g><g><path d="M 565.93 880.22 L 634.81 880.22 Q 636.29 880.22 636.29 878.73 L 636.29 857.69 Q 636.29 856.21 634.81 856.21 L 565.93 856.21 Q 564.44 856.21 564.44 857.69 L 564.44 878.73 Q 564.44 880.22 565.93 880.22 z" style="fill: #ffffff; opacity: 0.8; stroke: #cccccc; stroke-width: 0.74; stroke-linejoin: miter"/></g>
<g><g><use href="#m7fffdc0427" x="574.83" y="862.87" style="fill: #0000ff"/></g></g>
<g><text style="font-size: 7.42px; text-anchor: start; fill: #111111; stroke: #111111; stroke-width: 0.15" x="588.19" y="864.82">Actual Data</text></g>
<g><path d="M 567.41 873.11 L 574.83 873.11 L 582.25 873.11" style="fill: none; stroke-dasharray: 4.12,1.78; stroke-dashoffset: 0; stroke: #ff0000; stroke-width: 1.11"/></g>
<g><text style="font-size: 7.42px; text-anchor: start; fill: #111111; stroke: #111111; stroke-width: 0.15" x="588.19" y="875.71">Fitted Curve</text></g></g></g>
<g><g><path d="M 34.7 1979.7 L 354 1979.7 L 354 1736.7 L 34.7 1736.7 z" style="fill: #ffffff"/></g>
<g id="matplotlib.axis_9">
<g><g><defs>
<path id="m8047508dfc" d="M 0 0 L 0 2.9" style="stroke: #111111; stroke-width: 0.83"/>
</defs>
<g><use href="#m8047508dfc" x="67" y="1979.7" style="fill: #111111; stroke: #111111; stroke-width: 0.83"/></g></g>
<g><text style="font-size: 8.3px; text-anchor: middle; fill: #111111; stroke: #111111; stroke-width: 0.15" x="67" y="1991.82">12.5</text></g></g>
<g><g><g><use href="#m8047508dfc" x="112.28" y="1979.7" style="fill: #111111; stroke: #111111; stroke-width: 0.83"/></g></g>
<g><text style="font-size: 8.3px; text-anchor: middle; fill: #111111; stroke: #111111; stroke-width: 0.15" x="112.28" y="1991.82">13.0</text></g></g>
<g><g><g><use href="#m8047508dfc" x="157.57" y="1979.7" style="fill: #111111; stroke: #111111; stroke-width: 0.83"/></g></g>
<g><text style="font-size: 8.3px; text-anchor: middle; fill: #111111; stroke: #111111; stroke-width: 0.15" x="157.57" y="1991.82">13.5</text></g></g>
<g><g><g><use href="#m8047508dfc" x="202.85" y="1979.7" style="fill: #111111; stroke: #111111; stroke-width: 0.83"/></g></g>
<g><text style="font-size: 8.3px; text-anchor: middle; fill: #111111; stroke: #111111; stroke-width: 0.15" x="202.85" y="1991.82">14.0</text></g></g>
<g><g><g><use href="#m8047508dfc" x="248.13" y="1979.7" style="fill: #111111; stroke: #111111; stroke-width: 0.83"/></g></g>
<g><text style="font-size: 8.3px; text-anchor: middle; fill: #111111; stroke: #111111; stroke-width: 0.15" x="248.13" y="1991.82">14.5</text></g></g>
<g><g><g><use href="#m8047508dfc" x="293.42" y="1979.7" style="fill: #111111; stroke: #111111; stroke-width: 0.83"/></g></g>
<g><text style="font-size: 8.3px; text-anchor: middle; fill: #111111; stroke: #111111; stroke-width: 0.15" x="293.42" y="1991.82">15.0</text></g></g>
<g><g><g><use href="#m8047508dfc" x="338.7" y="1979.7" style="fill: #111111; stroke: #111111; stroke-width: 0.83"/></g></g>
<g><text style="font-size: 8.3px; text-anchor: middle; fill: #111111; stroke: #111111; stroke-width: 0.15" x="338.7" y="1991.82">15.5</text></g></g>
<g><text style="font-size: 8.3px; text-anchor: middle; fill: #111111; stroke: #111111; stroke-width: 0.15" x="194.35" y="2003.17">Independent Variable 1 (X1)</text></g></g>
<g id="matplotlib.axis_10">
<g><g><defs>
<path id="mdbe08dea62" d="M 0 0 L -2.9 0" style="stroke: #111111; stroke-width: 0.83"/>
</defs>
<g><use href="#mdbe08dea62" x="34.7" y="1973" style="fill: #111111; stroke: #111111; stroke-width: 0.83"/></g></g>
<g><text style="font-size: 8.3px; text-anchor: end; fill: #111111; stroke: #111111; stroke-width: 0.15" x="28.89" y="1976.15">0</text></g></g>
<g><g><g><use href="#mdbe08dea62" x="34.7" y="1919.25" style="fill: #111111; stroke: #111111; stroke-width: 0.83"/></g></g>
<g><text style="font-size: 8.3px; text-anchor: end; fill: #111111; stroke: #111111; stroke-width: 0.15" x="28.89" y="1922.4">5</text></g></g>
<g><g><g><use href="#mdbe08dea62" x="34.7" y="1865.5" style="fill: #111111; stroke: #111111; stroke-width: 0.83"/></g></g>
<g><text style="font-size: 8.3px; text-anchor: end; fill: #111111; stroke: #111111; stroke-width: 0.15" x="28.89" y="1868.65">10</text></g></g>
<g><g><g><use href="#mdbe08dea62" x="34.7" y="1811.75" style="fill: #111111; stroke: #111111; stroke-width: 0.83"/></g></g>
<g><text style="font-size: 8.3px; text-anchor: end; fill: #111111; stroke: #111111; stroke-width: 0.15" x="28.89" y="1814.9">15</text></g></g>
<g><g><g><use href="#mdbe08dea62" x="34.7" y="1758" style="fill: #111111; stroke: #111111; stroke-width: 0.83"/></g></g>
<g><text style="font-size: 8.3px; text-anchor: end; fill: #111111; stroke: #111111; stroke-width: 0.15" x="28.89" y="1761.15">20</text></g></g>
<g><text style="font-size: 8.3px; text-anchor: middle; fill: #111111; stroke: #111111; stroke-width: 0.15" x="13.28" y="1858.2" transform="rotate(-90 13.28 1858.2)">Dependent Variable (Y)</text></g></g>
<g><path d="M 34.7 1979.7 L 34.7 1736.7" style="fill: none; stroke: #111111; stroke-width: 0.83; stroke-linejoin: miter; stroke-linecap: square"/></g>
<g><path d="M 354 1979.7 L 354 1736.7" style="fill: none; stroke: #111111; stroke-width: 0.83; stroke-linejoin: miter; stroke-linecap: square"/></g>
<g><path d="M 34.7 1979.7 L 354 1979.7" style="fill: none; stroke: #111111; stroke-width: 0.83; stroke-linejoin: miter; stroke-linecap: square"/></g>
<g><path d="M 34.7 1736.7 L 354 1736.7" style="fill: none; stroke: #111111; stroke-width: 0.83; stroke-linejoin: miter; stroke-linecap: square"/></g>
<g><defs>
<path id="m84793958a3" d="M 0 3.11 C 0.83 3.11 1.62 2.78 2.2 2.2 C 2.78 1.62 3.11 0.83 3.11 0 C 3.11 -0.83 2.78 -1.62 2.2 -2.2 C 1.62 -2.78 0.83 -3.11 0 -3.11 C -0.83 -3.11 -1.62 -2.78 -2.2 -2.2 C -2.78 -1.62 -3.11 -0.83 -3.11 0 C -3.11 0.83 -2.78 1.62 -2.2 2.2 C -1.62 2.78 -0.83 3.11 0 3.11 z"/>
</defs>
<g clip-path="url(#pada82138fc)">
<use href="#m84793958a3" x="48.89" y="1957.95" style="fill: #0000ff"/>
<use href="#m84793958a3" x="48.89" y="1962.25" style="fill: #0000ff"/>
<use href="#m84793958a3" x="76.06" y="1748.33" style="fill: #0000ff"/>
<use href="#m84793958a3" x="76.06" y="1912.8" style="fill: #0000ff"/>
<use href="#m84793958a3" x="157.57" y="1965.47" style="fill: #0000ff"/>
<use href="#m84793958a3" x="157.57" y="1968.16" style="fill: #0000ff"/>
<use href="#m84793958a3" x="248.13" y="1953.11" style="fill: #0000ff"/>
<use href="#m84793958a3" x="248.13" y="1963.33" style="fill: #0000ff"/>
<use href="#m84793958a3" x="293.42" y="1864.42" style="fill: #0000ff"/>
<use href="#m84793958a3" x="293.42" y="1906.89" style="fill: #0000ff"/>
<use href="#m84793958a3" x="338.7" y="1944.51" style="fill: #0000ff"/>
<use href="#m84793958a3" x="338.7" y="1950.96" style="fill: #0000ff"/></g></g>
<g><text style="font-size: 9.96px; text-anchor: middle; fill: #111111; stroke: #111111; stroke-width: 0.15" x="194.35" y="1731.72">Y vs. X1 with Fitted Curve</text></g>
<g><path d="M 48.89 1906.72 L 51.81 1907.59 L 54.74 1908.44 L 57.67 1909.29 L 60.6 1910.11 L 63.52 1910.93 L 66.45 1911.73 L 69.38 1912.52 L 72.31 1913.3 L 75.23 1914.06 L 78.16 1914.81 L 81.09 1915.55 L 84.02 1916.27 L 86.94 1916.98 L 89.87 1917.68 L 92.8 1918.36 L 95.73 1919.03 L 98.65 1919.69 L 101.58 1920.33 L 104.51 1920.96 L 107.43 1921.58 L 110.36 1922.18 L 113.29 1922.77 L 116.22 1923.35 L 119.14 1923.92 L 122.07 1924.47 L 125 1925.01 L 127.93 1925.53 L 130.85 1926.04 L 133.78 1926.54 L 136.71 1927.03 L 139.64 1927.5 L 142.56 1927.96 L 145.49 1928.4 L 148.42 1928.84 L 151.35 1929.26 L 154.27 1929.66 L 157.2 1930.05 L 160.13 1930.43 L 163.06 1930.8 L 165.98 1931.15 L 168.91 1931.49 L 171.84 1931.82 L 174.77 1932.13 L 177.69 1932.43 L 180.62 1932.72 L 183.55 1932.99 L 186.47 1933.26 L 189.4 1933.5 L 192.33 1933.74 L 195.26 1933.96 L 198.18 1934.17 L 201.11 1934.36 L 204.04 1934.54 L 206.97 1934.71 L 209.89 1934.87 L 212.82 1935.01 L 215.75 1935.14 L 218.68 1935.25 L 221.6 1935.35 L 224.53 1935.44 L 227.46 1935.52 L 230.39 1935.58 L 233.31 1935.63 L 236.24 1935.67 L 239.17 1935.69 L 242.1 1935.7 L 245.02 1935.69 L 247.95 1935.68 L 250.88 1935.65 L 253.81 1935.6 L 256.73 1935.55 L 259.66 1935.48 L 262.59 1935.4 L 265.51 1935.3 L 268.44 1935.19 L 271.37 1935.07 L 274.3 1934.93 L 277.22 1934.78 L 280.15 1934.62 L 283.08 1934.45 L 286.01 1934.26 L 288.93 1934.05 L 291.86 1933.84 L 294.79 1933.61 L 297.72 1933.37 L 300.64 1933.12 L 303.57 1932.85 L 306.5 1932.57 L 309.43 1932.27 L 312.35 1931.96 L 315.28 1931.64 L 318.21 1931.31 L 321.14 1930.96 L 324.06 1930.6 L 326.99 1930.23 L 329.92 1929.84 L 332.85 1929.44 L 335.77 1929.03 L 338.7 1928.6" clip-path="url(#pada82138fc)" style="fill: none; stroke-dasharray: 4.61,1.99; stroke-dashoffset: 0; stroke: #ff0000; stroke-width: 1.25"/></g>
<g><g><path d="M 271.14 1767.71 L 348.19 1767.71 Q 349.85 1767.71 349.85 1766.05 L 349.85 1742.51 Q 349.85 1740.85 348.19 1740.85 L 271.14 1740.85 Q 269.48 1740.85 269.48 1742.51 L 269.48 1766.05 Q 269.48 1767.71 271.14 1767.71 z" style="fill: #ffffff; opacity: 0.8; stroke: #cccccc; stroke-width: 0.83; stroke-linejoin: miter"/></g>
<g><g><use href="#m84793958a3" x="281.1" y="1748.3" style="fill: #0000ff"/></g></g>
<g><text style="font-size: 8.3px; text-anchor: start; fill: #111111; stroke: #111111; stroke-width: 0.15" x="296.04" y="1750.48">Actual Data</text></g>
<g><path d="M 272.8 1759.75 L 281.1 1759.75 L 289.4 1759.75" style="fill: none; stroke-dasharray: 4.61,1.99; stroke-dashoffset: 0; stroke: #ff0000; stroke-width: 1.25"/></g>
<g><text style="font-size: 8.3px; text-anchor: start; fill: #111111; stroke: #111111; stroke-width: 0.15" x="296.04" y="1762.66">Fitted Curve</text></g></g></g>
<g><g><path d="M 390.3 1979.7 L 709.7 1979.7 L 709.7 1736.7 L 390.3 1736.7 z" style="fill: #ffffff"/></g>
<g id="matplotlib.axis_11">
<g><g><g><use href="#m8047508dfc" x="396.7" y="1979.7" style="fill: #111111; stroke: #111111; stroke-width: 0.83"/></g></g>
<g><text style="font-size: 8.3px; text-anchor: middle; fill: #111111; stroke: #111111; stroke-width: 0.15" x="396.7" y="1991.82">525</text></g></g>
<g><g><g><use href="#m8047508dfc" x="439.36" y="1979.7" style="fill: #111111; stroke: #111111; stroke-width: 0.83"/></g></g>
<g><text style="font-size: 8.3px; text-anchor: middle; fill: #111111; stroke: #111111; stroke-width: 0.15" x="439.36" y="1991.82">550</text></g></g>
<g><g><g><use href="#m8047508dfc" x="482.01" y="1979.7" style="fill: #111111; stroke: #111111; stroke-width: 0.83"/></g></g>
<g><text style="font-size: 8.3px; text-anchor: middle; fill: #111111; stroke: #111111; stroke-width: 0.15" x="482.01" y="1991.82">575</text></g></g>
<g><g><g><use href="#m8047508dfc" x="524.67" y="1979.7" style="fill: #111111; stroke: #111111; stroke-width: 0.83"/></g></g>
<g><text style="font-size: 8.3px; text-anchor: middle; fill: #111111; stroke: #111111; stroke-width: 0.15" x="524.67" y="1991.82">600</text></g></g>
<g><g><g><use href="#m8047508dfc" x="567.33" y="1979.7" style="fill: #111111; stroke: #111111; stroke-width: 0.83"/></g></g>
<g><text style="font-size: 8.3px; text-anchor: middle; fill: #111111; stroke: #111111; stroke-width: 0.15" x="567.33" y="1991.82">625</text></g></g>
<g><g><g><use href="#m8047508dfc" x="609.99" y="1979.7" style="fill: #111111; stroke: #111111; stroke-width: 0.83"/></g></g>
<g><text style="font-size: 8.3px; text-anchor: middle; fill: #111111; stroke: #111111; stroke-width: 0.15" x="609.99" y="1991.82">650</text></g></g>
<g><g><g><use href="#m8047508dfc" x="652.64" y="1979.7" style="fill: #111111; stroke: #111111; stroke-width: 0.83"/></g></g>
<g><text style="font-size: 8.3px; text-anchor: middle; fill: #111111; stroke: #111111; stroke-width: 0.15" x="652.64" y="1991.82">675</text></g></g>
<g><g><g><use href="#m8047508dfc" x="695.3" y="1979.7" style="fill: #111111; stroke: #111111; stroke-width: 0.83"/></g></g>
<g><text style="font-size: 8.3px; text-anchor: middle; fill: #111111; stroke: #111111; stroke-width: 0.15" x="695.3" y="1991.82">700</text></g></g>
<g><text style="font-size: 8.3px; text-anchor: middle; fill: #111111; stroke: #111111; stroke-width: 0.15" x="550" y="2003.17">Independent Variable 2 (X2)</text></g></g>
<g id="matplotlib.axis_12">
<g><g><g><use href="#mdbe08dea62" x="390.3" y="1973" style="fill: #111111; stroke: #111111; stroke-width: 0.83"/></g></g>
<g><text style="font-size: 8.3px; text-anchor: end; fill: #111111; stroke: #111111; stroke-width: 0.15" x="384.49" y="1976.15">0</text></g></g>
<g><g><g><use href="#mdbe08dea62" x="390.3" y="1919.25" style="fill: #111111; stroke: #111111; stroke-width: 0.83"/></g></g>
<g><text style="font-size: 8.3px; text-anchor: end; fill: #111111; stroke: #111111; stroke-width: 0.15" x="384.49" y="1922.4">5</text></g></g>
<g><g><g><use href="#mdbe08dea62" x="390.3" y="1865.5" style="fill: #111111; stroke: #111111; stroke-width: 0.83"/></g></g>
<g><text style="font-size: 8.3px; text-anchor: end; fill: #111111; stroke: #111111; stroke-width: 0.15" x="384.49" y="1868.65">10</text></g></g>
<g><g><g><use href="#mdbe08dea62" x="390.3" y="1811.75" style="fill: #111111; stroke: #111111; stroke-width: 0.83"/></g></g>
<g><text style="font-size: 8.3px; text-anchor: end; fill: #111111; stroke: #111111; stroke-width: 0.15" x="384.49" y="1814.9">15</text></g></g>
<g><g><g><use href="#mdbe08dea62" x="390.3" y="1758" style="fill: #111111; stroke: #111111; stroke-width: 0.83"/></g></g>
<g><text style="font-size: 8.3px; text-anchor: end; fill: #111111; stroke: #111111; stroke-width: 0.15" x="384.49" y="1761.15">20</text></g></g>
<g><text style="font-size: 8.3px; text-anchor: middle; fill: #111111; stroke: #111111; stroke-width: 0.15" x="368.88" y="1858.2" transform="rotate(-90 368.88 1858.2)">Dependent Variable (Y)</text></g></g>
<g><path d="M 390.3 1979.7 L 390.3 1736.7" style="fill: none; stroke: #111111; stroke-width: 0.83; stroke-linejoin: miter; stroke-linecap: square"/></g>
<g><path d="M 709.7 1979.7 L 709.7 1736.7" style="fill: none; stroke: #111111; stroke-width: 0.83; stroke-linejoin: miter; stroke-linecap: square"/></g>
<g><path d="M 390.3 1979.7 L 709.7 1979.7" style="fill: none; stroke: #111111; stroke-width: 0.83; stroke-linejoin: miter; stroke-linecap: square"/></g>
<g><path d="M 390.3 1736.7 L 709.7 1736.7" style="fill: none; stroke: #111111; stroke-width: 0.83; stroke-linejoin: miter; stroke-linecap: square"/></g>
<g><g clip-path="url(#p652fbb1881)">
<use href="#m84793958a3" x="405.23" y="1957.95" style="fill: #0000ff"/>
<use href="#m84793958a3" x="405.23" y="1962.25" style="fill: #0000ff"/>
<use href="#m84793958a3" x="405.23" y="1748.33" style="fill: #0000ff"/>
<use href="#m84793958a3" x="405.23" y="1912.8" style="fill: #0000ff"/>
<use href="#m84793958a3" x="524.67" y="1965.47" style="fill: #0000ff"/>
<use href="#m84793958a3" x="524.67" y="1968.16" style="fill: #0000ff"/>
<use href="#m84793958a3" x="609.99" y="1953.11" style="fill: #0000ff"/>
<use href="#m84793958a3" x="609.99" y="1963.33" style="fill: #0000ff"/>
<use href="#m84793958a3" x="695.3" y="1864.42" style="fill: #0000ff"/>
<use href="#m84793958a3" x="695.3" y="1906.89" style="fill: #0000ff"/>
<use href="#m84793958a3" x="695.3" y="1944.51" style="fill: #0000ff"/>
<use href="#m84793958a3" x="695.3" y="1950.96" style="fill: #0000ff"/></g></g>
<g><text style="font-size: 9.96px; text-anchor: middle; fill: #111111; stroke: #111111; stroke-width: 0.15" x="550" y="1731.72">Y vs. X2 with Fitted Curve</text></g>
<g><path d="M 405.23 1895.67 L 408.16 1898.35 L 411.09 1900.98 L 414.02 1903.56 L 416.95 1906.09 L 419.88 1908.57 L 422.81 1911 L 425.74 1913.38 L 428.67 1915.7 L 431.6 1917.98 L 434.53 1920.21 L 437.46 1922.38 L 440.39 1924.51 L 443.32 1926.58 L 446.25 1928.61 L 449.18 1930.58 L 452.11 1932.5 L 455.04 1934.38 L 457.97 1936.2 L 460.9 1937.97 L 463.83 1939.69 L 466.76 1941.36 L 469.69 1942.98 L 472.62 1944.55 L 475.55 1946.07 L 478.48 1947.54 L 481.41 1948.96 L 484.34 1950.33 L 487.27 1951.65 L 490.2 1952.91 L 493.13 1954.13 L 496.06 1955.29 L 498.99 1956.41 L 501.92 1957.47 L 504.85 1958.49 L 507.78 1959.45 L 510.71 1960.37 L 513.64 1961.23 L 516.57 1962.04 L 519.5 1962.8 L 522.43 1963.52 L 525.36 1964.18 L 528.29 1964.79 L 531.22 1965.35 L 534.15 1965.86 L 537.08 1966.32 L 540.01 1966.72 L 542.94 1967.08 L 545.87 1967.39 L 548.8 1967.65 L 551.73 1967.85 L 554.66 1968.01 L 557.59 1968.11 L 560.52 1968.17 L 563.45 1968.17 L 566.38 1968.13 L 569.31 1968.03 L 572.24 1967.88 L 575.17 1967.69 L 578.1 1967.44 L 581.03 1967.14 L 583.96 1966.79 L 586.89 1966.39 L 589.82 1965.94 L 592.75 1965.44 L 595.68 1964.89 L 598.61 1964.29 L 601.54 1963.64 L 604.47 1962.94 L 607.4 1962.18 L 610.33 1961.38 L 613.26 1960.53 L 616.19 1959.62 L 619.12 1958.67 L 622.05 1957.66 L 624.98 1956.61 L 627.91 1955.5 L 630.84 1954.34 L 633.77 1953.14 L 636.7 1951.88 L 639.63 1950.57 L 642.56 1949.21 L 645.49 1947.8 L 648.42 1946.34 L 651.35 1944.83 L 654.28 1943.27 L 657.21 1941.66 L 660.14 1940 L 663.07 1938.29 L 666 1936.52 L 668.93 1934.71 L 671.86 1932.85 L 674.79 1930.93 L 677.72 1928.97 L 680.65 1926.95 L 683.58 1924.89 L 686.51 1922.77 L 689.44 1920.61 L 692.37 1918.39 L 695.3 1916.12" clip-path="url(#p652fbb1881)" style="fill: none; stroke-dasharray: 4.61,1.99; stroke-dashoffset: 0; stroke: #ff0000; stroke-width: 1.25"/></g>
<g><g><path d="M 626.84 1767.71 L 703.89 1767.71 Q 705.55 1767.71 705.55 1766.05 L 705.55 1742.51 Q 705.55 1740.85 703.89 1740.85 L 626.84 1740.85 Q 625.18 1740.85 625.18 1742.51 L 625.18 1766.05 Q 625.18 1767.71 626.84 1767.71 z" style="fill: #ffffff; opacity: 0.8; stroke: #cccccc; stroke-width: 0.83; stroke-linejoin: miter"/></g>
<g><g><use href="#m84793958a3" x="636.8" y="1748.3" style="fill: #0000ff"/></g></g>
<g><text style="font-size: 8.3px; text-anchor: start; fill: #111111; stroke: #111111; stroke-width: 0.15" x="651.74" y="1750.48">Actual Data</text></g>
<g><path d="M 628.5 1759.75 L 636.8 1759.75 L 645.1 1759.75" style="fill: none; stroke-dasharray: 4.61,1.99; stroke-dashoffset: 0; stroke: #ff0000; stroke-width: 1.25"/></g>
<g><text style="font-size: 8.3px; text-anchor: start; fill: #111111; stroke: #111111; stroke-width: 0.15" x="651.74" y="1762.66">Fitted Curve</text></g></g></g>
<g><g><path d="M 737.7 264.3 L 1069.7 264.3 L 1069.7 44.7 L 737.7 44.7 z" style="fill: #ffffff"/></g>
<g><path d="M 753.3 251.3 L 886.3 251.3 L 886.3 54.84 L 753.3 54.84 z" clip-path="url(#pcd8ccc15bb)" style="fill: #4481b7"/></g>
<g><path d="M 920 251.3 L 1054 251.3 L 1054 254.72 L 920 254.72 z" clip-path="url(#pcd8ccc15bb)" style="fill: #4481b7"/></g>
<g id="matplotlib.axis_13">
<g><g><defs>
<path id="m2ddc53ecc3" d="M 0 0 L 0 3.43" style="stroke: #111111; stroke-width: 0.98"/>
</defs>
<g><use href="#m2ddc53ecc3" x="819.8" y="264.3" style="fill: #111111; stroke: #111111; stroke-width: 0.98"/></g></g>
<g><text style="font-size: 9.8px; text-anchor: middle; fill: #111111; stroke: #111111; stroke-width: 0.15" x="819.8" y="278.61">Variable 1</text></g></g>
<g><g><g><use href="#m2ddc53ecc3" x="987" y="264.3" style="fill: #111111; stroke: #111111; stroke-width: 0.98"/></g></g>
<g><text style="font-size: 9.8px; text-anchor: middle; fill: #111111; stroke: #111111; stroke-width: 0.15" x="987" y="278.61">Variable 2</text></g></g>
<g><text style="font-size: 9.8px; text-anchor: middle; fill: #111111; stroke: #111111; stroke-width: 0.15" x="903.7" y="292.01">Variables</text></g></g>
<g id="matplotlib.axis_14">
<g><g><defs>
<path id="m979627d5b2" d="M 0 0 L -3.43 0" style="stroke: #111111; stroke-width: 0.98"/>
</defs>
<g><use href="#m979627d5b2" x="737.7" y="251.3" style="fill: #111111; stroke: #111111; stroke-width: 0.98"/></g></g>
<g><text style="font-size: 9.8px; text-anchor: end; fill: #111111; stroke: #111111; stroke-width: 0.15" x="730.84" y="255.02">0</text></g></g>
<g><g><g><use href="#m979627d5b2" x="737.7" y="217.13" style="fill: #111111; stroke: #111111; stroke-width: 0.98"/></g></g>
<g><text style="font-size: 9.8px; text-anchor: end; fill: #111111; stroke: #111111; stroke-width: 0.15" x="730.84" y="220.86">1000</text></g></g>
<g><g><g><use href="#m979627d5b2" x="737.7" y="182.97" style="fill: #111111; stroke: #111111; stroke-width: 0.98"/></g></g>
<g><text style="font-size: 9.8px; text-anchor: end; fill: #111111; stroke: #111111; stroke-width: 0.15" x="730.84" y="186.69">2000</text></g></g>
<g><g><g><use href="#m979627d5b2" x="737.7" y="148.8" style="fill: #111111; stroke: #111111; stroke-width: 0.98"/></g></g>
<g><text style="font-size: 9.8px; text-anchor: end; fill: #111111; stroke: #111111; stroke-width: 0.15" x="730.84" y="152.52">3000</text></g></g>
<g><g><g><use href="#m979627d5b2" x="737.7" y="114.63" style="fill: #111111; stroke: #111111; stroke-width: 0.98"/></g></g>
<g><text style="font-size: 9.8px; text-anchor: end; fill: #111111; stroke: #111111; stroke-width: 0.15" x="730.84" y="118.36">4000</text></g></g>
<g><g><g><use href="#m979627d5b2" x="737.7" y="80.47" style="fill: #111111; stroke: #111111; stroke-width: 0.98"/></g></g>
<g><text style="font-size: 9.8px; text-anchor: end; fill: #111111; stroke: #111111; stroke-width: 0.15" x="730.84" y="84.19">5000</text></g></g>
<g><g><g><use href="#m979627d5b2" x="737.7" y="46.3" style="fill: #111111; stroke: #111111; stroke-width: 0.98"/></g></g>
<g><text style="font-size: 9.8px; text-anchor: end; fill: #111111; stroke: #111111; stroke-width: 0.15" x="730.84" y="50.02">6000</text></g></g>
<g><text style="font-size: 9.8px; text-anchor: middle; fill: #111111; stroke: #111111; stroke-width: 0.15" x="699.94" y="154.5" transform="rotate(-90 699.94 154.5)">Coefficient</text></g></g>
<g><path d="M 737.7 264.3 L 737.7 44.7" style="fill: none; stroke: #111111; stroke-width: 0.98; stroke-linejoin: miter; stroke-linecap: square"/></g>
<g><path d="M 1069.7 264.3 L 1069.7 44.7" style="fill: none; stroke: #111111; stroke-width: 0.98; stroke-linejoin: miter; stroke-linecap: square"/></g>
<g><path d="M 737.7 264.3 L 1069.7 264.3" style="fill: none; stroke: #111111; stroke-width: 0.98; stroke-linejoin: miter; stroke-linecap: square"/></g>
<g><path d="M 737.7 44.7 L 1069.7 44.7" style="fill: none; stroke: #111111; stroke-width: 0.98; stroke-linejoin: miter; stroke-linecap: square"/></g>
<g><text style="font-size: 11.76px; text-anchor: middle; fill: #111111; stroke: #111111; stroke-width: 0.15" x="903.7" y="38.82">PLS Regression Coefficients</text></g></g>
<g><g><path d="M 758.3 1072 L 1060.3 1072 L 1060.3 847 L 758.3 847 z" style="fill: #ffffff"/></g>
<g><path d="M 771.7 1059 L 894 1059 L 894 857 L 771.7 857 z" clip-path="url(#p6da63e842f)" style="fill: #1800ff"/></g>
<g><path d="M 924 1059 L 1046.3 1059 L 1046.3 1061.32 L 924 1061.32 z" clip-path="url(#p6da63e842f)" style="fill: #2a8a12"/></g>
<g id="matplotlib.axis_15">
<g><g><defs>
<path id="m7d9d31eb48" d="M 0 0 L 0 2.36" style="stroke: #111111; stroke-width: 0.67"/>
</defs>
<g><use href="#m7d9d31eb48" x="832.85" y="1072" style="fill: #111111; stroke: #111111; stroke-width: 0.67"/></g></g>
<g><text style="font-size: 6.73px; text-anchor: middle; fill: #111111; stroke: #111111; stroke-width: 0.15" x="832.85" y="1081.82">Independent Variable 1 (X1)</text></g></g>
<g><g><g><use href="#m7d9d31eb48" x="985.15" y="1072" style="fill: #111111; stroke: #111111; stroke-width: 0.67"/></g></g>
<g><text style="font-size: 6.73px; text-anchor: middle; fill: #111111; stroke: #111111; stroke-width: 0.15" x="985.15" y="1081.82">Independent Variable 2 (X2)</text></g></g>
<g><text style="font-size: 6.73px; text-anchor: middle; fill: #111111; stroke: #111111; stroke-width: 0.15" x="909.3" y="1091.03">Variables</text></g></g>
<g id="matplotlib.axis_16">
<g><g><defs>
<path id="mab981449fa" d="M 0 0 L -2.36 0" style="stroke: #111111; stroke-width: 0.67"/>
</defs>
<g><use href="#mab981449fa" x="758.3" y="1059" style="fill: #111111; stroke: #111111; stroke-width: 0.67"/></g></g>
<g><text style="font-size: 6.73px; text-anchor: end; fill: #111111; stroke: #111111; stroke-width: 0.15" x="753.59" y="1061.56">0</text></g></g>
<g><g><g><use href="#mab981449fa" x="758.3" y="1010.67" style="fill: #111111; stroke: #111111; stroke-width: 0.67"/></g></g>
<g><text style="font-size: 6.73px; text-anchor: end; fill: #111111; stroke: #111111; stroke-width: 0.15" x="753.59" y="1013.23">5</text></g></g>
<g><g><g><use href="#mab981449fa" x="758.3" y="962.35" style="fill: #111111; stroke: #111111; stroke-width: 0.67"/></g></g>
<g><text style="font-size: 6.73px; text-anchor: end; fill: #111111; stroke: #111111; stroke-width: 0.15" x="753.59" y="964.91">10</text></g></g>
<g><g><g><use href="#mab981449fa" x="758.3" y="914.02" style="fill: #111111; stroke: #111111; stroke-width: 0.67"/></g></g>
<g><text style="font-size: 6.73px; text-anchor: end; fill: #111111; stroke: #111111; stroke-width: 0.15" x="753.59" y="916.58">15</text></g></g>
<g><g><g><use href="#mab981449fa" x="758.3" y="865.7" style="fill: #111111; stroke: #111111; stroke-width: 0.67"/></g></g>
<g><text style="font-size: 6.73px; text-anchor: end; fill: #111111; stroke: #111111; stroke-width: 0.15" x="753.59" y="868.26">20</text></g></g>
<g><text style="font-size: 6.73px; text-anchor: middle; fill: #111111; stroke: #111111; stroke-width: 0.15" x="740.93" y="959.5" transform="rotate(-90 740.93 959.5)">PLS Regression Coefficients</text></g></g>
<g><path d="M 758.3 1072 L 758.3 847" style="fill: none; stroke: #111111; stroke-width: 0.67; stroke-linejoin: miter; stroke-linecap: square"/></g>
<g><path d="M 1060.3 1072 L 1060.3 847" style="fill: none; stroke: #111111; stroke-width: 0.67; stroke-linejoin: miter; stroke-linecap: square"/></g>
<g><path d="M 758.3 1072 L 1060.3 1072" style="fill: none; stroke: #111111; stroke-width: 0.67; stroke-linejoin: miter; stroke-linecap: square"/></g>
<g><path d="M 758.3 847 L 1060.3 847" style="fill: none; stroke: #111111; stroke-width: 0.67; stroke-linejoin: miter; stroke-linecap: square"/></g>
<g><text style="font-size: 8.08px; text-anchor: middle; fill: #111111; stroke: #111111; stroke-width: 0.15" x="909.3" y="842.96">PLS Regression Coefficients for X1 and X2</text></g></g>
<g><g><path d="M 789.3 1983 L 1122.7 1983 L 1122.7 1734 L 789.3 1734 z" style="fill: #ffffff"/></g>
<g><path d="M 804 1967 L 939.3 1967 L 939.3 1745.6 L 804 1745.6 z" clip-path="url(#pa552bdaac4)" style="fill: #1800ff"/></g>
<g><path d="M 972.7 1967 L 1107.3 1967 L 1107.3 1971.99 L 972.7 1971.99 z" clip-path="url(#pa552bdaac4)" style="fill: #f0a22e"/></g>
<g id="matplotlib.axis_17">
<g><g><defs>
<path id="m0c88253aad" d="M 0 0 L 0 2.61" style="stroke: #111111; stroke-width: 0.74"/>
</defs>
<g><use href="#m0c88253aad" x="871.65" y="1983" style="fill: #111111; stroke: #111111; stroke-width: 0.74"/></g></g>
<g><text style="font-size: 7.45px; text-anchor: middle; fill: #111111; stroke: #111111; stroke-width: 0.15" x="871.65" y="1993.88">Independent Variable 1 (X1)</text></g></g>
<g><g><g><use href="#m0c88253aad" x="1040" y="1983" style="fill: #111111; stroke: #111111; stroke-width: 0.74"/></g></g>
<g><text style="font-size: 7.45px; text-anchor: middle; fill: #111111; stroke: #111111; stroke-width: 0.15" x="1040" y="1993.88">Independent Variable 2 (X2)</text></g></g>
<g><text style="font-size: 7.45px; text-anchor: middle; fill: #111111; stroke: #111111; stroke-width: 0.15" x="956" y="2004.07">Variables</text></g></g>
<g id="matplotlib.axis_18">
<g><g><defs>
<path id="m0a42006f51" d="M 0 0 L -2.61 0" style="stroke: #111111; stroke-width: 0.74"/>
</defs>
<g><use href="#m0a42006f51" x="789.3" y="1967" style="fill: #111111; stroke: #111111; stroke-width: 0.74"/></g></g>
<g><text style="font-size: 7.45px; text-anchor: end; fill: #111111; stroke: #111111; stroke-width: 0.15" x="784.09" y="1969.83">0.0</text></g></g>
<g><g><g><use href="#m0a42006f51" x="789.3" y="1932.83" style="fill: #111111; stroke: #111111; stroke-width: 0.74"/></g></g>
<g><text style="font-size: 7.45px; text-anchor: end; fill: #111111; stroke: #111111; stroke-width: 0.15" x="784.09" y="1935.66">0.5</text></g></g>
<g><g><g><use href="#m0a42006f51" x="789.3" y="1898.67" style="fill: #111111; stroke: #111111; stroke-width: 0.74"/></g></g>
<g><text style="font-size: 7.45px; text-anchor: end; fill: #111111; stroke: #111111; stroke-width: 0.15" x="784.09" y="1901.5">1.0</text></g></g>
<g><g><g><use href="#m0a42006f51" x="789.3" y="1864.5" style="fill: #111111; stroke: #111111; stroke-width: 0.74"/></g></g>
<g><text style="font-size: 7.45px; text-anchor: end; fill: #111111; stroke: #111111; stroke-width: 0.15" x="784.09" y="1867.33">1.5</text></g></g>
<g><g><g><use href="#m0a42006f51" x="789.3" y="1830.33" style="fill: #111111; stroke: #111111; stroke-width: 0.74"/></g></g>
<g><text style="font-size: 7.45px; text-anchor: end; fill: #111111; stroke: #111111; stroke-width: 0.15" x="784.09" y="1833.16">2.0</text></g></g>
<g><g><g><use href="#m0a42006f51" x="789.3" y="1796.17" style="fill: #111111; stroke: #111111; stroke-width: 0.74"/></g></g>
<g><text style="font-size: 7.45px; text-anchor: end; fill: #111111; stroke: #111111; stroke-width: 0.15" x="784.09" y="1799">2.5</text></g></g>
<g><g><g><use href="#m0a42006f51" x="789.3" y="1762" style="fill: #111111; stroke: #111111; stroke-width: 0.74"/></g></g>
<g><text style="font-size: 7.45px; text-anchor: end; fill: #111111; stroke: #111111; stroke-width: 0.15" x="784.09" y="1764.83">3.0</text></g></g>
<g><text style="font-size: 7.45px; text-anchor: middle; fill: #111111; stroke: #111111; stroke-width: 0.15" x="767.71" y="1858.5" transform="rotate(-90 767.71 1858.5)">PLS Regression Coefficients</text></g></g>
<g><path d="M 789.3 1983 L 789.3 1734" style="fill: none; stroke: #111111; stroke-width: 0.74; stroke-linejoin: miter; stroke-linecap: square"/></g>
<g><path d="M 1122.7 1983 L 1122.7 1734" style="fill: none; stroke: #111111; stroke-width: 0.74; stroke-linejoin: miter; stroke-linecap: square"/></g>
<g><path d="M 789.3 1983 L 1122.7 1983" style="fill: none; stroke: #111111; stroke-width: 0.74; stroke-linejoin: miter; stroke-linecap: square"/></g>
<g><path d="M 789.3 1734 L 1122.7 1734" style="fill: none; stroke: #111111; stroke-width: 0.74; stroke-linejoin: miter; stroke-linecap: square"/></g>
<g><text style="font-size: 8.94px; text-anchor: middle; fill: #111111; stroke: #111111; stroke-width: 0.15" x="956" y="1729.53">PLS Regression Coefficients for X1 and X2</text></g></g>
<g><g><path d="M 68 607.7 L 338 607.7 L 338 356.7 L 68 356.7 z" style="fill: #ffffff"/></g>
<g><path d="M 68 356.7 L 113 356.7 L 113 398.53 L 68 398.53 L 68 356.7" clip-path="url(#p2136cf4d94)" style="fill: #f8fcd5; stroke: #f8fcd5; stroke-width: 0.4"/>
<path d="M 113 356.7 L 158 356.7 L 158 398.53 L 113 398.53 L 113 356.7" clip-path="url(#p2136cf4d94)" style="fill: none"/>
<path d="M 158 356.7 L 203 356.7 L 203 398.53 L 158 398.53 L 158 356.7" clip-path="url(#p2136cf4d94)" style="fill: none"/>
<path d="M 203 356.7 L 248 356.7 L 248 398.53 L 203 398.53 L 203 356.7" clip-path="url(#p2136cf4d94)" style="fill: none"/>
<path d="M 248 356.7 L 293 356.7 L 293 398.53 L 248 398.53 L 248 356.7" clip-path="url(#p2136cf4d94)" style="fill: none"/>
<path d="M 293 356.7 L 338 356.7 L 338 398.53 L 293 398.53 L 293 356.7" clip-path="url(#p2136cf4d94)" style="fill: none"/>
<path d="M 68 398.53 L 113 398.53 L 113 440.37 L 68 440.37 L 68 398.53" clip-path="url(#p2136cf4d94)" style="fill: none"/>
<path d="M 113 398.53 L 158 398.53 L 158 440.37 L 113 440.37 L 113 398.53" clip-path="url(#p2136cf4d94)" style="fill: #f8fcd5; stroke: #f8fcd5; stroke-width: 0.4"/>
<path d="M 158 398.53 L 203 398.53 L 203 440.37 L 158 440.37 L 158 398.53" clip-path="url(#p2136cf4d94)" style="fill: none"/>
<path d="M 203 398.53 L 248 398.53 L 248 440.37 L 203 440.37 L 203 398.53" clip-path="url(#p2136cf4d94)" style="fill: none"/>
<path d="M 248 398.53 L 293 398.53 L 293 440.37 L 248 440.37 L 248 398.53" clip-path="url(#p2136cf4d94)" style="fill: none"/>
<path d="M 293 398.53 L 338 398.53 L 338 440.37 L 293 440.37 L 293 398.53" clip-path="url(#p2136cf4d94)" style="fill: none"/>
<path d="M 68 440.37 L 113 440.37 L 113 482.2 L 68 482.2 L 68 440.37" clip-path="url(#p2136cf4d94)" style="fill: none"/>
<path d="M 113 440.37 L 158 440.37 L 158 482.2 L 113 482.2 L 113 440.37" clip-path="url(#p2136cf4d94)" style="fill: none"/>
<path d="M 158 440.37 L 203 440.37 L 203 482.2 L 158 482.2 L 158 440.37" clip-path="url(#p2136cf4d94)" style="fill: #95dbbc; stroke: #95dbbc; stroke-width: 0.4"/>
<path d="M 203 440.37 L 248 440.37 L 248 482.2 L 203 482.2 L 203 440.37" clip-path="url(#p2136cf4d94)" style="fill: none"/>
<path d="M 248 440.37 L 293 440.37 L 293 482.2 L 248 482.2 L 248 440.37" clip-path="url(#p2136cf4d94)" style="fill: none"/>
<path d="M 293 440.37 L 338 440.37 L 338 482.2 L 293 482.2 L 293 440.37" clip-path="url(#p2136cf4d94)" style="fill: none"/>
<path d="M 68 482.2 L 113 482.2 L 113 524.03 L 68 524.03 L 68 482.2" clip-path="url(#p2136cf4d94)" style="fill: none"/>
<path d="M 113 482.2 L 158 482.2 L 158 524.03 L 113 524.03 L 113 482.2" clip-path="url(#p2136cf4d94)" style="fill: none"/>
<path d="M 158 482.2 L 203 482.2 L 203 524.03 L 158 524.03 L 158 482.2" clip-path="url(#p2136cf4d94)" style="fill: none"/>
<path d="M 203 482.2 L 248 482.2 L 248 524.03 L 203 524.03 L 203 482.2" clip-path="url(#p2136cf4d94)" style="fill: #171f5c; stroke: #171f5c; stroke-width: 0.4"/>
<path d="M 248 482.2 L 293 482.2 L 293 524.03 L 248 524.03 L 248 482.2" clip-path="url(#p2136cf4d94)" style="fill: none"/>
<path d="M 293 482.2 L 338 482.2 L 338 524.03 L 293 524.03 L 293 482.2" clip-path="url(#p2136cf4d94)" style="fill: none"/>
<path d="M 68 524.03 L 113 524.03 L 113 565.87 L 68 565.87 L 68 524.03" clip-path="url(#p2136cf4d94)" style="fill: none"/>
<path d="M 113 524.03 L 158 524.03 L 158 565.87 L 113 565.87 L 113 524.03" clip-path="url(#p2136cf4d94)" style="fill: none"/>
<path d="M 158 524.03 L 203 524.03 L 203 565.87 L 158 565.87 L 158 524.03" clip-path="url(#p2136cf4d94)" style="fill: none"/>
<path d="M 203 524.03 L 248 524.03 L 248 565.87 L 203 565.87 L 203 524.03" clip-path="url(#p2136cf4d94)" style="fill: none"/>
<path d="M 248 524.03 L 293 524.03 L 293 565.87 L 248 565.87 L 248 524.03" clip-path="url(#p2136cf4d94)" style="fill: #3c6cb0; stroke: #3c6cb0; stroke-width: 0.4"/>
<path d="M 293 524.03 L 338 524.03 L 338 565.87 L 293 565.87 L 293 524.03" clip-path="url(#p2136cf4d94)" style="fill: none"/>
<path d="M 68 565.87 L 113 565.87 L 113 607.7 L 68 607.7 L 68 565.87" clip-path="url(#p2136cf4d94)" style="fill: none"/>
<path d="M 113 565.87 L 158 565.87 L 158 607.7 L 113 607.7 L 113 565.87" clip-path="url(#p2136cf4d94)" style="fill: none"/>
<path d="M 158 565.87 L 203 565.87 L 203 607.7 L 158 607.7 L 158 565.87" clip-path="url(#p2136cf4d94)" style="fill: none"/>
<path d="M 203 565.87 L 248 565.87 L 248 607.7 L 203 607.7 L 203 565.87" clip-path="url(#p2136cf4d94)" style="fill: none"/>
<path d="M 248 565.87 L 293 565.87 L 293 607.7 L 248 607.7 L 248 565.87" clip-path="url(#p2136cf4d94)" style="fill: none"/>
<path d="M 293 565.87 L 338 565.87 L 338 607.7 L 293 607.7 L 293 565.87" clip-path="url(#p2136cf4d94)" style="fill: #63bcc4; stroke: #63bcc4; stroke-width: 0.4"/></g>
<g id="matplotlib.axis_19">
<g><g><defs>
<path id="m7bb74257d6" d="M 0 0 L 0 2.59" style="stroke: #111111; stroke-width: 0.74"/>
</defs>
<g><use href="#m7bb74257d6" x="90.5" y="607.7" style="fill: #111111; stroke: #111111; stroke-width: 0.74"/></g></g>
<g><text style="font-size: 7.4px; text-anchor: middle; fill: #111111; stroke: #111111; stroke-width: 0.15" x="90.5" y="618.5">12.3</text></g></g>
<g><g><g><use href="#m7bb74257d6" x="135.5" y="607.7" style="fill: #111111; stroke: #111111; stroke-width: 0.74"/></g></g>
<g><text style="font-size: 7.4px; text-anchor: middle; fill: #111111; stroke: #111111; stroke-width: 0.15" x="135.5" y="618.5">12.94</text></g></g>
<g><g><g><use href="#m7bb74257d6" x="180.5" y="607.7" style="fill: #111111; stroke: #111111; stroke-width: 0.74"/></g></g>
<g><text style="font-size: 7.4px; text-anchor: middle; fill: #111111; stroke: #111111; stroke-width: 0.15" x="180.5" y="618.5">13.58</text></g></g>
<g><g><g><use href="#m7bb74257d6" x="225.5" y="607.7" style="fill: #111111; stroke: #111111; stroke-width: 0.74"/></g></g>
<g><text style="font-size: 7.4px; text-anchor: middle; fill: #111111; stroke: #111111; stroke-width: 0.15" x="225.5" y="618.5">14.22</text></g></g>
<g><g><g><use href="#m7bb74257d6" x="270.5" y="607.7" style="fill: #111111; stroke: #111111; stroke-width: 0.74"/></g></g>
<g><text style="font-size: 7.4px; text-anchor: middle; fill: #111111; stroke: #111111; stroke-width: 0.15" x="270.5" y="618.5">14.86</text></g></g>
<g><g><g><use href="#m7bb74257d6" x="315.5" y="607.7" style="fill: #111111; stroke: #111111; stroke-width: 0.74"/></g></g>
<g><text style="font-size: 7.4px; text-anchor: middle; fill: #111111; stroke: #111111; stroke-width: 0.15" x="315.5" y="618.5">15.5</text></g></g>
<g><text style="font-size: 7.4px; text-anchor: middle; fill: #111111; stroke: #111111; stroke-width: 0.15" x="203" y="628.62">X1</text></g></g>
<g id="matplotlib.axis_20">
<g><g><defs>
<path id="m932d576c75" d="M 0 0 L -2.59 0" style="stroke: #111111; stroke-width: 0.74"/>
</defs>
<g><use href="#m932d576c75" x="68" y="377.62" style="fill: #111111; stroke: #111111; stroke-width: 0.74"/></g></g>
<g><text style="font-size: 7.4px; fill: #111111; stroke: #111111; stroke-width: 0.15" transform="translate(61.28 388.21) rotate(-90)">530.0</text></g></g>
<g><g><g><use href="#m932d576c75" x="68" y="419.45" style="fill: #111111; stroke: #111111; stroke-width: 0.74"/></g></g>
<g><text style="font-size: 7.4px; fill: #111111; stroke: #111111; stroke-width: 0.15" transform="translate(61.28 430.04) rotate(-90)">564.0</text></g></g>
<g><g><g><use href="#m932d576c75" x="68" y="461.28" style="fill: #111111; stroke: #111111; stroke-width: 0.74"/></g></g>
<g><text style="font-size: 7.4px; fill: #111111; stroke: #111111; stroke-width: 0.15" transform="translate(61.28 471.88) rotate(-90)">598.0</text></g></g>
<g><g><g><use href="#m932d576c75" x="68" y="503.12" style="fill: #111111; stroke: #111111; stroke-width: 0.74"/></g></g>
<g><text style="font-size: 7.4px; fill: #111111; stroke: #111111; stroke-width: 0.15" transform="translate(61.28 513.71) rotate(-90)">632.0</text></g></g>
<g><g><g><use href="#m932d576c75" x="68" y="544.95" style="fill: #111111; stroke: #111111; stroke-width: 0.74"/></g></g>
<g><text style="font-size: 7.4px; fill: #111111; stroke: #111111; stroke-width: 0.15" transform="translate(61.28 555.54) rotate(-90)">666.0</text></g></g>
<g><g><g><use href="#m932d576c75" x="68" y="586.78" style="fill: #111111; stroke: #111111; stroke-width: 0.74"/></g></g>
<g><text style="font-size: 7.4px; fill: #111111; stroke: #111111; stroke-width: 0.15" transform="translate(61.28 597.38) rotate(-90)">700.0</text></g></g>
<g><text style="font-size: 7.4px; text-anchor: middle; fill: #111111; stroke: #111111; stroke-width: 0.15" x="51.16" y="482.2" transform="rotate(-90 51.16 482.2)">X2</text></g></g>
<g><text style="font-size: 7.4px; text-anchor: middle; fill: #262626; stroke: #262626; stroke-width: 0.15" x="90.5" y="379.66">35.0</text></g>
<g><text style="font-size: 7.4px; text-anchor: middle; fill: #262626; stroke: #262626; stroke-width: 0.15" x="135.5" y="421.49">15.5</text></g>
<g><text style="font-size: 7.4px; text-anchor: middle; fill: #262626; stroke: #262626; stroke-width: 0.15" x="180.5" y="463.33">1581.2</text></g>
<g><text style="font-size: 7.4px; text-anchor: middle; fill: #ffffff; stroke: #ffffff; stroke-width: 0.15" x="225.5" y="505.16">4403.3</text></g>
<g><text style="font-size: 7.4px; text-anchor: middle; fill: #ffffff; stroke: #ffffff; stroke-width: 0.15" x="270.5" y="546.99">3354.0</text></g>
<g><text style="font-size: 7.4px; text-anchor: middle; fill: #ffffff; stroke: #ffffff; stroke-width: 0.15" x="315.5" y="588.83">2304.7</text></g>
<g><text style="font-size: 8.88px; text-anchor: middle; fill: #111111; stroke: #111111; stroke-width: 0.15" x="203" y="352.26">Interpolated Heatmap of Y values across X1 and X2 (6x6 Grid)</text></g></g>
<g><g><path d="M 354.7 607.7 L 367 607.7 L 367 356.7 L 354.7 356.7 z" style="fill: #ffffff"/></g>
<g><path d="M 354.7 607.7 L 367 607.7 L 367 602.47 L 354.7 602.47 L 354.7 607.7" clip-path="url(#p40abf83371)" style="fill: #f8fcd5; stroke: #f8fcd5; stroke-width: 0.9"/>
<path d="M 354.7 602.47 L 367 602.47 L 367 597.24 L 354.7 597.24 L 354.7 602.47" clip-path="url(#p40abf83371)" style="fill: #f6fcce; stroke: #f6fcce; stroke-width: 0.9"/>
<path d="M 354.7 597.24 L 367 597.24 L 367 592.01 L 354.7 592.01 L 354.7 597.24" clip-path="url(#p40abf83371)" style="fill: #f3fcc7; stroke: #f3fcc7; stroke-width: 0.9"/>
<path d="M 354.7 592.01 L 367 592.01 L 367 586.78 L 354.7 586.78 L 354.7 592.01" clip-path="url(#p40abf83371)" style="fill: #f1fbc0; stroke: #f1fbc0; stroke-width: 0.9"/>
<path d="M 354.7 586.78 L 367 586.78 L 367 581.55 L 354.7 581.55 L 354.7 586.78" clip-path="url(#p40abf83371)" style="fill: #effbb9; stroke: #effbb9; stroke-width: 0.9"/>
<path d="M 354.7 581.55 L 367 581.55 L 367 576.33 L 354.7 576.33 L 354.7 581.55" clip-path="url(#p40abf83371)" style="fill: #ecfbb2; stroke: #ecfbb2; stroke-width: 0.9"/>
<path d="M 354.7 576.33 L 367 576.33 L 367 571.1 L 354.7 571.1 L 354.7 576.33" clip-path="url(#p40abf83371)" style="fill: #e7f9b1; stroke: #e7f9b1; stroke-width: 0.9"/>
<path d="M 354.7 571.1 L 367 571.1 L 367 565.87 L 354.7 565.87 L 354.7 571.1" clip-path="url(#p40abf83371)" style="fill: #e1f6b2; stroke: #e1f6b2; stroke-width: 0.9"/>
<path d="M 354.7 565.87 L 367 565.87 L 367 560.64 L 354.7 560.64 L 354.7 565.87" clip-path="url(#p40abf83371)" style="fill: #dbf3b2; stroke: #dbf3b2; stroke-width: 0.9"/>
<path d="M 354.7 560.64 L 367 560.64 L 367 555.41 L 354.7 555.41 L 354.7 560.64" clip-path="url(#p40abf83371)" style="fill: #d5f1b2; stroke: #d5f1b2; stroke-width: 0.9"/>
<path d="M 354.7 555.41 L 367 555.41 L 367 550.18 L 354.7 550.18 L 354.7 555.41" clip-path="url(#p40abf83371)" style="fill: #cfeeb3; stroke: #cfeeb3; stroke-width: 0.9"/>
<path d="M 354.7 550.18 L 367 550.18 L 367 544.95 L 354.7 544.95 L 354.7 550.18" clip-path="url(#p40abf83371)" style="fill: #c7ebb4; stroke: #c7ebb4; stroke-width: 0.9"/>
<path d="M 354.7 544.95 L 367 544.95 L 367 539.72 L 354.7 539.72 L 354.7 544.95" clip-path="url(#p40abf83371)" style="fill: #bfe9b5; stroke: #bfe9b5; stroke-width: 0.9"/>
<path d="M 354.7 539.72 L 367 539.72 L 367 534.49 L 354.7 534.49 L 354.7 539.72" clip-path="url(#p40abf83371)" style="fill: #b6e6b7; stroke: #b6e6b7; stroke-width: 0.9"/>
<path d="M 354.7 534.49 L 367 534.49 L 367 529.26 L 354.7 529.26 L 354.7 534.49" clip-path="url(#p40abf83371)" style="fill: #aee4b8; stroke: #aee4b8; stroke-width: 0.9"/>
<path d="M 354.7 529.26 L 367 529.26 L 367 524.03 L 354.7 524.03 L 354.7 529.26" clip-path="url(#p40abf83371)" style="fill: #a5e1ba; stroke: #a5e1ba; stroke-width: 0.9"/>
<path d="M 354.7 524.03 L 367 524.03 L 367 518.8 L 354.7 518.8 L 354.7 524.03" clip-path="url(#p40abf83371)" style="fill: #9ddfbb; stroke: #9ddfbb; stroke-width: 0.9"/>
<path d="M 354.7 518.8 L 367 518.8 L 367 513.58 L 354.7 513.58 L 354.7 518.8" clip-path="url(#p40abf83371)" style="fill: #95dbbc; stroke: #95dbbc; stroke-width: 0.9"/>
<path d="M 354.7 513.58 L 367 513.58 L 367 508.35 L 354.7 508.35 L 354.7 513.58" clip-path="url(#p40abf83371)" style="fill: #8ed8be; stroke: #8ed8be; stroke-width: 0.9"/>
<path d="M 354.7 508.35 L 367 508.35 L 367 503.12 L 354.7 503.12 L 354.7 508.35" clip-path="url(#p40abf83371)" style="fill: #86d4bf; stroke: #86d4bf; stroke-width: 0.9"/>
<path d="M 354.7 503.12 L 367 503.12 L 367 497.89 L 354.7 497.89 L 354.7 503.12" clip-path="url(#p40abf83371)" style="fill: #7fd1c0; stroke: #7fd1c0; stroke-width: 0.9"/>
<path d="M 354.7 497.89 L 367 497.89 L 367 492.66 L 354.7 492.66 L 354.7 497.89" clip-path="url(#p40abf83371)" style="fill: #77cec2; stroke: #77cec2; stroke-width: 0.9"/>
<path d="M 354.7 492.66 L 367 492.66 L 367 487.43 L 354.7 487.43 L 354.7 492.66" clip-path="url(#p40abf83371)" style="fill: #72c9c2; stroke: #72c9c2; stroke-width: 0.9"/>
<path d="M 354.7 487.43 L 367 487.43 L 367 482.2 L 354.7 482.2 L 354.7 487.43" clip-path="url(#p40abf83371)" style="fill: #6dc5c3; stroke: #6dc5c3; stroke-width: 0.9"/>
<path d="M 354.7 482.2 L 367 482.2 L 367 476.97 L 354.7 476.97 L 354.7 482.2" clip-path="url(#p40abf83371)" style="fill: #68c0c4; stroke: #68c0c4; stroke-width: 0.9"/>
<path d="M 354.7 476.97 L 367 476.97 L 367 471.74 L 354.7 471.74 L 354.7 476.97" clip-path="url(#p40abf83371)" style="fill: #63bcc4; stroke: #63bcc4; stroke-width: 0.9"/>
<path d="M 354.7 471.74 L 367 471.74 L 367 466.51 L 354.7 466.51 L 354.7 471.74" clip-path="url(#p40abf83371)" style="fill: #5eb8c5; stroke: #5eb8c5; stroke-width: 0.9"/>
<path d="M 354.7 466.51 L 367 466.51 L 367 461.28 L 354.7 461.28 L 354.7 466.51" clip-path="url(#p40abf83371)" style="fill: #59b3c5; stroke: #59b3c5; stroke-width: 0.9"/>
<path d="M 354.7 461.28 L 367 461.28 L 367 456.05 L 354.7 456.05 L 354.7 461.28" clip-path="url(#p40abf83371)" style="fill: #55acc4; stroke: #55acc4; stroke-width: 0.9"/>
<path d="M 354.7 456.05 L 367 456.05 L 367 450.82 L 354.7 450.82 L 354.7 456.05" clip-path="url(#p40abf83371)" style="fill: #51a5c3; stroke: #51a5c3; stroke-width: 0.9"/>
<path d="M 354.7 450.82 L 367 450.82 L 367 445.6 L 354.7 445.6 L 354.7 450.82" clip-path="url(#p40abf83371)" style="fill: #4d9fc3; stroke: #4d9fc3; stroke-width: 0.9"/>
<path d="M 354.7 445.6 L 367 445.6 L 367 440.37 L 354.7 440.37 L 354.7 445.6" clip-path="url(#p40abf83371)" style="fill: #4998c2; stroke: #4998c2; stroke-width: 0.9"/>
<path d="M 354.7 440.37 L 367 440.37 L 367 435.14 L 354.7 435.14 L 354.7 440.37" clip-path="url(#p40abf83371)" style="fill: #4592c1; stroke: #4592c1; stroke-width: 0.9"/>
<path d="M 354.7 435.14 L 367 435.14 L 367 429.91 L 354.7 429.91 L 354.7 435.14" clip-path="url(#p40abf83371)" style="fill: #4388bd; stroke: #4388bd; stroke-width: 0.9"/>
<path d="M 354.7 429.91 L 367 429.91 L 367 424.68 L 354.7 424.68 L 354.7 429.91" clip-path="url(#p40abf83371)" style="fill: #417fb8; stroke: #417fb8; stroke-width: 0.9"/>
<path d="M 354.7 424.68 L 367 424.68 L 367 419.45 L 354.7 419.45 L 354.7 424.68" clip-path="url(#p40abf83371)" style="fill: #3f76b4; stroke: #3f76b4; stroke-width: 0.9"/>
<path d="M 354.7 419.45 L 367 419.45 L 367 414.22 L 354.7 414.22 L 354.7 419.45" clip-path="url(#p40abf83371)" style="fill: #3c6cb0; stroke: #3c6cb0; stroke-width: 0.9"/>
<path d="M 354.7 414.22 L 367 414.22 L 367 408.99 L 354.7 408.99 L 354.7 414.22" clip-path="url(#p40abf83371)" style="fill: #3a63ac; stroke: #3a63ac; stroke-width: 0.9"/>
<path d="M 354.7 408.99 L 367 408.99 L 367 403.76 L 354.7 403.76 L 354.7 408.99" clip-path="url(#p40abf83371)" style="fill: #3959a8; stroke: #3959a8; stroke-width: 0.9"/>
<path d="M 354.7 403.76 L 367 403.76 L 367 398.53 L 354.7 398.53 L 354.7 403.76" clip-path="url(#p40abf83371)" style="fill: #384fa6; stroke: #384fa6; stroke-width: 0.9"/>
<path d="M 354.7 398.53 L 367 398.53 L 367 393.3 L 354.7 393.3 L 354.7 398.53" clip-path="url(#p40abf83371)" style="fill: #3744a3; stroke: #3744a3; stroke-width: 0.9"/>
<path d="M 354.7 393.3 L 367 393.3 L 367 388.07 L 354.7 388.07 L 354.7 393.3" clip-path="url(#p40abf83371)" style="fill: #353a9f; stroke: #353a9f; stroke-width: 0.9"/>
<path d="M 354.7 388.07 L 367 388.07 L 367 382.85 L 354.7 382.85 L 354.7 388.07" clip-path="url(#p40abf83371)" style="fill: #303494; stroke: #303494; stroke-width: 0.9"/>
<path d="M 354.7 382.85 L 367 382.85 L 367 377.62 L 354.7 377.62 L 354.7 382.85" clip-path="url(#p40abf83371)" style="fill: #2a2e89; stroke: #2a2e89; stroke-width: 0.9"/>
<path d="M 354.7 377.62 L 367 377.62 L 367 372.39 L 354.7 372.39 L 354.7 377.62" clip-path="url(#p40abf83371)" style="fill: #252a7e; stroke: #252a7e; stroke-width: 0.9"/>
<path d="M 354.7 372.39 L 367 372.39 L 367 367.16 L 354.7 367.16 L 354.7 372.39" clip-path="url(#p40abf83371)" style="fill: #202773; stroke: #202773; stroke-width: 0.9"/>
<path d="M 354.7 367.16 L 367 367.16 L 367 361.93 L 354.7 361.93 L 354.7 367.16" clip-path="url(#p40abf83371)" style="fill: #1c2367; stroke: #1c2367; stroke-width: 0.9"/>
<path d="M 354.7 361.93 L 367 361.93 L 367 356.7 L 354.7 356.7 L 354.7 361.93" clip-path="url(#p40abf83371)" style="fill: #171f5c; stroke: #171f5c; stroke-width: 0.9"/></g>
<g id="matplotlib.axis_21"/>
<g id="matplotlib.axis_22">
<g><g><defs>
<path id="m17a43ba12e" d="M 0 0 L 2.59 0" style="stroke: #111111; stroke-width: 0.59"/>
</defs>
<g><use href="#m17a43ba12e" x="367" y="579.98" style="fill: #111111; stroke: #111111; stroke-width: 0.59"/></g></g>
<g><text style="font-size: 7.4px; text-anchor: start; fill: #111111; stroke: #111111; stroke-width: 0.15" x="372.18" y="582.8">500</text></g></g>
<g><g><g><use href="#m17a43ba12e" x="367" y="551.38" style="fill: #111111; stroke: #111111; stroke-width: 0.59"/></g></g>
<g><text style="font-size: 7.4px; text-anchor: start; fill: #111111; stroke: #111111; stroke-width: 0.15" x="372.18" y="554.19">1000</text></g></g>
<g><g><g><use href="#m17a43ba12e" x="367" y="522.78" style="fill: #111111; stroke: #111111; stroke-width: 0.59"/></g></g>
<g><text style="font-size: 7.4px; text-anchor: start; fill: #111111; stroke: #111111; stroke-width: 0.15" x="372.18" y="525.59">1500</text></g></g>
<g><g><g><use href="#m17a43ba12e" x="367" y="494.18" style="fill: #111111; stroke: #111111; stroke-width: 0.59"/></g></g>
<g><text style="font-size: 7.4px; text-anchor: start; fill: #111111; stroke: #111111; stroke-width: 0.15" x="372.18" y="496.99">2000</text></g></g>
<g><g><g><use href="#m17a43ba12e" x="367" y="465.58" style="fill: #111111; stroke: #111111; stroke-width: 0.59"/></g></g>
<g><text style="font-size: 7.4px; text-anchor: start; fill: #111111; stroke: #111111; stroke-width: 0.15" x="372.18" y="468.39">2500</text></g></g>
<g><g><g><use href="#m17a43ba12e" x="367" y="436.97" style="fill: #111111; stroke: #111111; stroke-width: 0.59"/></g></g>
<g><text style="font-size: 7.4px; text-anchor: start; fill: #111111; stroke: #111111; stroke-width: 0.15" x="372.18" y="439.79">3000</text></g></g>
<g><g><g><use href="#m17a43ba12e" x="367" y="408.37" style="fill: #111111; stroke: #111111; stroke-width: 0.59"/></g></g>
<g><text style="font-size: 7.4px; text-anchor: start; fill: #111111; stroke: #111111; stroke-width: 0.15" x="372.18" y="411.18">3500</text></g></g>
<g><g><g><use href="#m17a43ba12e" x="367" y="379.77" style="fill: #111111; stroke: #111111; stroke-width: 0.59"/></g></g>
<g><text style="font-size: 7.4px; text-anchor: start; fill: #111111; stroke: #111111; stroke-width: 0.15" x="372.18" y="382.58">4000</text></g></g></g>
<g id="LineCollection_1"/></g>
<g><g><path d="M 37.4 1447.8 L 323.3 1447.8 L 323.3 1181.7 L 37.4 1181.7 z" style="fill: #ffffff"/></g>
<g><path d="M 37.4 1181.7 L 85.05 1181.7 L 85.05 1226.05 L 37.4 1226.05 L 37.4 1181.7" clip-path="url(#p9fa69020cc)" style="fill: #dbf3b2; stroke: #dbf3b2; stroke-width: 0.4"/>
<path d="M 85.05 1181.7 L 132.7 1181.7 L 132.7 1226.05 L 85.05 1226.05 L 85.05 1181.7" clip-path="url(#p9fa69020cc)" style="fill: #f8fcd5; stroke: #f8fcd5; stroke-width: 0.4"/>
<path d="M 132.7 1181.7 L 180.35 1181.7 L 180.35 1226.05 L 132.7 1226.05 L 132.7 1181.7" clip-path="url(#p9fa69020cc)" style="fill: #f8fcd5; stroke: #f8fcd5; stroke-width: 0.4"/>
<path d="M 180.35 1181.7 L 228 1181.7 L 228 1226.05 L 180.35 1226.05 L 180.35 1181.7" clip-path="url(#p9fa69020cc)" style="fill: #f8fcd5; stroke: #f8fcd5; stroke-width: 0.4"/>
<path d="M 228 1181.7 L 275.65 1181.7 L 275.65 1226.05 L 228 1226.05 L 228 1181.7" clip-path="url(#p9fa69020cc)" style="fill: #f8fcd5; stroke: #f8fcd5; stroke-width: 0.4"/>
<path d="M 275.65 1181.7 L 323.3 1181.7 L 323.3 1226.05 L 275.65 1226.05 L 275.65 1181.7" clip-path="url(#p9fa69020cc)" style="fill: #f8fcd5; stroke: #f8fcd5; stroke-width: 0.4"/>
<path d="M 37.4 1226.05 L 85.05 1226.05 L 85.05 1270.4 L 37.4 1270.4 L 37.4 1226.05" clip-path="url(#p9fa69020cc)" style="fill: #f8fcd5; stroke: #f8fcd5; stroke-width: 0.4"/>
<path d="M 85.05 1226.05 L 132.7 1226.05 L 132.7 1270.4 L 85.05 1270.4 L 85.05 1226.05" clip-path="url(#p9fa69020cc)" style="fill: #c7ebb4; stroke: #c7ebb4; stroke-width: 0.4"/>
<path d="M 132.7 1226.05 L 180.35 1226.05 L 180.35 1270.4 L 132.7 1270.4 L 132.7 1226.05" clip-path="url(#p9fa69020cc)" style="fill: #f8fcd5; stroke: #f8fcd5; stroke-width: 0.4"/>
<path d="M 180.35 1226.05 L 228 1226.05 L 228 1270.4 L 180.35 1270.4 L 180.35 1226.05" clip-path="url(#p9fa69020cc)" style="fill: #f8fcd5; stroke: #f8fcd5; stroke-width: 0.4"/>
<path d="M 228 1226.05 L 275.65 1226.05 L 275.65 1270.4 L 228 1270.4 L 228 1226.05" clip-path="url(#p9fa69020cc)" style="fill: #f8fcd5; stroke: #f8fcd5; stroke-width: 0.4"/>
<path d="M 275.65 1226.05 L 323.3 1226.05 L 323.3 1270.4 L 275.65 1270.4 L 275.65 1226.05" clip-path="url(#p9fa69020cc)" style="fill: #f8fcd5; stroke: #f8fcd5; stroke-width: 0.4"/>
<path d="M 37.4 1270.4 L 85.05 1270.4 L 85.05 1314.75 L 37.4 1314.75 L 37.4 1270.4" clip-path="url(#p9fa69020cc)" style="fill: #f8fcd5; stroke: #f8fcd5; stroke-width: 0.4"/>
<path d="M 85.05 1270.4 L 132.7 1270.4 L 132.7 1314.75 L 85.05 1314.75 L 85.05 1270.4" clip-path="url(#p9fa69020cc)" style="fill: #f8fcd5; stroke: #f8fcd5; stroke-width: 0.4"/>
<path d="M 132.7 1270.4 L 180.35 1270.4 L 180.35 1314.75 L 132.7 1314.75 L 132.7 1270.4" clip-path="url(#p9fa69020cc)" style="fill: #68c0c4; stroke: #68c0c4; stroke-width: 0.4"/>
<path d="M 180.35 1270.4 L 228 1270.4 L 228 1314.75 L 180.35 1314.75 L 180.35 1270.4" clip-path="url(#p9fa69020cc)" style="fill: #f8fcd5; stroke: #f8fcd5; stroke-width: 0.4"/>
<path d="M 228 1270.4 L 275.65 1270.4 L 275.65 1314.75 L 228 1314.75 L 228 1270.4" clip-path="url(#p9fa69020cc)" style="fill: #f8fcd5; stroke: #f8fcd5; stroke-width: 0.4"/>
<path d="M 275.65 1270.4 L 323.3 1270.4 L 323.3 1314.75 L 275.65 1314.75 L 275.65 1270.4" clip-path="url(#p9fa69020cc)" style="fill: #f8fcd5; stroke: #f8fcd5; stroke-width: 0.4"/>
<path d="M 37.4 1314.75 L 85.05 1314.75 L 85.05 1359.1 L 37.4 1359.1 L 37.4 1314.75" clip-path="url(#p9fa69020cc)" style="fill: #f8fcd5; stroke: #f8fcd5; stroke-width: 0.4"/>
<path d="M 85.05 1314.75 L 132.7 1314.75 L 132.7 1359.1 L 85.05 1359.1 L 85.05 1314.75" clip-path="url(#p9fa69020cc)" style="fill: #f8fcd5; stroke: #f8fcd5; stroke-width: 0.4"/>
<path d="M 132.7 1314.75 L 180.35 1314.75 L 180.35 1359.1 L 132.7 1359.1 L 132.7 1314.75" clip-path="url(#p9fa69020cc)" style="fill: #f8fcd5; stroke: #f8fcd5; stroke-width: 0.4"/>
<path d="M 180.35 1314.75 L 228 1314.75 L 228 1359.1 L 180.35 1359.1 L 180.35 1314.75" clip-path="url(#p9fa69020cc)" style="fill: #171f5c; stroke: #171f5c; stroke-width: 0.4"/>
<path d="M 228 1314.75 L 275.65 1314.75 L 275.65 1359.1 L 228 1359.1 L 228 1314.75" clip-path="url(#p9fa69020cc)" style="fill: #f8fcd5; stroke: #f8fcd5; stroke-width: 0.4"/>
<path d="M 275.65 1314.75 L 323.3 1314.75 L 323.3 1359.1 L 275.65 1359.1 L 275.65 1314.75" clip-path="url(#p9fa69020cc)" style="fill: #f8fcd5; stroke: #f8fcd5; stroke-width: 0.4"/>
<path d="M 37.4 1359.1 L 85.05 1359.1 L 85.05 1403.45 L 37.4 1403.45 L 37.4 1359.1" clip-path="url(#p9fa69020cc)" style="fill: #f8fcd5; stroke: #f8fcd5; stroke-width: 0.4"/>
<path d="M 85.05 1359.1 L 132.7 1359.1 L 132.7 1403.45 L 85.05 1403.45 L 85.05 1359.1" clip-path="url(#p9fa69020cc)" style="fill: #f8fcd5; stroke: #f8fcd5; stroke-width: 0.4"/>
<path d="M 132.7 1359.1 L 180.35 1359.1 L 180.35 1403.45 L 132.7 1403.45 L 132.7 1359.1" clip-path="url(#p9fa69020cc)" style="fill: #f8fcd5; stroke: #f8fcd5; stroke-width: 0.4"/>
<path d="M 180.35 1359.1 L 228 1359.1 L 228 1403.45 L 180.35 1403.45 L 180.35 1359.1" clip-path="url(#p9fa69020cc)" style="fill: #f8fcd5; stroke: #f8fcd5; stroke-width: 0.4"/>
<path d="M 228 1359.1 L 275.65 1359.1 L 275.65 1403.45 L 228 1403.45 L 228 1359.1" clip-path="url(#p9fa69020cc)" style="fill: #202773; stroke: #202773; stroke-width: 0.4"/>
<path d="M 275.65 1359.1 L 323.3 1359.1 L 323.3 1403.45 L 275.65 1403.45 L 275.65 1359.1" clip-path="url(#p9fa69020cc)" style="fill: #f8fcd5; stroke: #f8fcd5; stroke-width: 0.4"/>
<path d="M 37.4 1403.45 L 85.05 1403.45 L 85.05 1447.8 L 37.4 1447.8 L 37.4 1403.45" clip-path="url(#p9fa69020cc)" style="fill: #f8fcd5; stroke: #f8fcd5; stroke-width: 0.4"/>
<path d="M 85.05 1403.45 L 132.7 1403.45 L 132.7 1447.8 L 85.05 1447.8 L 85.05 1403.45" clip-path="url(#p9fa69020cc)" style="fill: #f8fcd5; stroke: #f8fcd5; stroke-width: 0.4"/>
<path d="M 132.7 1403.45 L 180.35 1403.45 L 180.35 1447.8 L 132.7 1447.8 L 132.7 1403.45" clip-path="url(#p9fa69020cc)" style="fill: #f8fcd5; stroke: #f8fcd5; stroke-width: 0.4"/>
<path d="M 180.35 1403.45 L 228 1403.45 L 228 1447.8 L 180.35 1447.8 L 180.35 1403.45" clip-path="url(#p9fa69020cc)" style="fill: #f8fcd5; stroke: #f8fcd5; stroke-width: 0.4"/>
<path d="M 228 1403.45 L 275.65 1403.45 L 275.65 1447.8 L 228 1447.8 L 228 1403.45" clip-path="url(#p9fa69020cc)" style="fill: #f8fcd5; stroke: #f8fcd5; stroke-width: 0.4"/>
<path d="M 275.65 1403.45 L 323.3 1403.45 L 323.3 1447.8 L 275.65 1447.8 L 275.65 1403.45" clip-path="url(#p9fa69020cc)" style="fill: #2a2e89; stroke: #2a2e89; stroke-width: 0.4"/></g>
<g id="matplotlib.axis_23">
<g><g><defs>
<path id="mee3710aee1" d="M 0 0 L 0 2.77" style="stroke: #111111; stroke-width: 0.79"/>
</defs>
<g><use href="#mee3710aee1" x="61.23" y="1447.8" style="fill: #111111; stroke: #111111; stroke-width: 0.79"/></g></g>
<g><text style="font-size: 7.9px; text-anchor: middle; fill: #111111; stroke: #111111; stroke-width: 0.15" x="61.23" y="1459.33">12.3</text></g></g>
<g><g><g><use href="#mee3710aee1" x="108.88" y="1447.8" style="fill: #111111; stroke: #111111; stroke-width: 0.79"/></g></g>
<g><text style="font-size: 7.9px; text-anchor: middle; fill: #111111; stroke: #111111; stroke-width: 0.15" x="108.88" y="1459.33">12.94</text></g></g>
<g><g><g><use href="#mee3710aee1" x="156.53" y="1447.8" style="fill: #111111; stroke: #111111; stroke-width: 0.79"/></g></g>
<g><text style="font-size: 7.9px; text-anchor: middle; fill: #111111; stroke: #111111; stroke-width: 0.15" x="156.53" y="1459.33">13.58</text></g></g>
<g><g><g><use href="#mee3710aee1" x="204.18" y="1447.8" style="fill: #111111; stroke: #111111; stroke-width: 0.79"/></g></g>
<g><text style="font-size: 7.9px; text-anchor: middle; fill: #111111; stroke: #111111; stroke-width: 0.15" x="204.18" y="1459.33">14.22</text></g></g>
<g><g><g><use href="#mee3710aee1" x="251.82" y="1447.8" style="fill: #111111; stroke: #111111; stroke-width: 0.79"/></g></g>
<g><text style="font-size: 7.9px; text-anchor: middle; fill: #111111; stroke: #111111; stroke-width: 0.15" x="251.82" y="1459.33">14.86</text></g></g>
<g><g><g><use href="#mee3710aee1" x="299.48" y="1447.8" style="fill: #111111; stroke: #111111; stroke-width: 0.79"/></g></g>
<g><text style="font-size: 7.9px; text-anchor: middle; fill: #111111; stroke: #111111; stroke-width: 0.15" x="299.48" y="1459.33">15.5</text></g></g>
<g><text style="font-size: 7.9px; text-anchor: middle; fill: #111111; stroke: #111111; stroke-width: 0.15" x="180.35" y="1470.14">X1</text></g></g>
<g id="matplotlib.axis_24">
<g><g><defs>
<path id="m83c83ac491" d="M 0 0 L -2.77 0" style="stroke: #111111; stroke-width: 0.79"/>
</defs>
<g><use href="#m83c83ac491" x="37.4" y="1203.88" style="fill: #111111; stroke: #111111; stroke-width: 0.79"/></g></g>
<g><text style="font-size: 7.9px; fill: #111111; stroke: #111111; stroke-width: 0.15" transform="translate(30.23 1215.18) rotate(-90)">530.0</text></g></g>
<g><g><g><use href="#m83c83ac491" x="37.4" y="1248.22" style="fill: #111111; stroke: #111111; stroke-width: 0.79"/></g></g>
<g><text style="font-size: 7.9px; fill: #111111; stroke: #111111; stroke-width: 0.15" transform="translate(30.23 1259.53) rotate(-90)">564.0</text></g></g>
<g><g><g><use href="#m83c83ac491" x="37.4" y="1292.58" style="fill: #111111; stroke: #111111; stroke-width: 0.79"/></g></g>
<g><text style="font-size: 7.9px; fill: #111111; stroke: #111111; stroke-width: 0.15" transform="translate(30.23 1303.88) rotate(-90)">598.0</text></g></g>
<g><g><g><use href="#m83c83ac491" x="37.4" y="1336.92" style="fill: #111111; stroke: #111111; stroke-width: 0.79"/></g></g>
<g><text style="font-size: 7.9px; fill: #111111; stroke: #111111; stroke-width: 0.15" transform="translate(30.23 1348.23) rotate(-90)">632.0</text></g></g>
<g><g><g><use href="#m83c83ac491" x="37.4" y="1381.28" style="fill: #111111; stroke: #111111; stroke-width: 0.79"/></g></g>
<g><text style="font-size: 7.9px; fill: #111111; stroke: #111111; stroke-width: 0.15" transform="translate(30.23 1392.58) rotate(-90)">666.0</text></g></g>
<g><g><g><use href="#m83c83ac491" x="37.4" y="1425.62" style="fill: #111111; stroke: #111111; stroke-width: 0.79"/></g></g>
<g><text style="font-size: 7.9px; fill: #111111; stroke: #111111; stroke-width: 0.15" transform="translate(30.23 1436.93) rotate(-90)">700.0</text></g></g>
<g><text style="font-size: 7.9px; text-anchor: middle; fill: #111111; stroke: #111111; stroke-width: 0.15" x="19.42" y="1314.75" transform="rotate(-90 19.42 1314.75)">X2</text></g></g>
<g><text style="font-size: 7.9px; text-anchor: middle; fill: #262626; stroke: #262626; stroke-width: 0.15" x="61.23" y="1206.05">5.0</text></g>
<g><text style="font-size: 7.9px; text-anchor: middle; fill: #262626; stroke: #262626; stroke-width: 0.15" x="108.88" y="1206.05">0.0</text></g>
<g><text style="font-size: 7.9px; text-anchor: middle; fill: #262626; stroke: #262626; stroke-width: 0.15" x="156.53" y="1206.05">0.0</text></g>
<g><text style="font-size: 7.9px; text-anchor: middle; fill: #262626; stroke: #262626; stroke-width: 0.15" x="204.18" y="1206.05">0.0</text></g>
<g><text style="font-size: 7.9px; text-anchor: middle; fill: #262626; stroke: #262626; stroke-width: 0.15" x="251.82" y="1206.05">0.0</text></g>
<g><text style="font-size: 7.9px; text-anchor: middle; fill: #262626; stroke: #262626; stroke-width: 0.15" x="299.48" y="1206.05">0.0</text></g>
<g><text style="font-size: 7.9px; text-anchor: middle; fill: #262626; stroke: #262626; stroke-width: 0.15" x="61.23" y="1250.4">0.0</text></g>
<g><text style="font-size: 7.9px; text-anchor: middle; fill: #262626; stroke: #262626; stroke-width: 0.15" x="108.88" y="1250.4">6.3</text></g>
<g><text style="font-size: 7.9px; text-anchor: middle; fill: #262626; stroke: #262626; stroke-width: 0.15" x="156.53" y="1250.4">0.0</text></g>
<g><text style="font-size: 7.9px; text-anchor: middle; fill: #262626; stroke: #262626; stroke-width: 0.15" x="204.18" y="1250.4">0.0</text></g>
<g><text style="font-size: 7.9px; text-anchor: middle; fill: #262626; stroke: #262626; stroke-width: 0.15" x="251.82" y="1250.4">0.0</text></g>
<g><text style="font-size: 7.9px; text-anchor: middle; fill: #262626; stroke: #262626; stroke-width: 0.15" x="299.48" y="1250.4">0.0</text></g>
<g><text style="font-size: 7.9px; text-anchor: middle; fill: #262626; stroke: #262626; stroke-width: 0.15" x="61.23" y="1294.75">0.0</text></g>
<g><text style="font-size: 7.9px; text-anchor: middle; fill: #262626; stroke: #262626; stroke-width: 0.15" x="108.88" y="1294.75">0.0</text></g>
<g><text style="font-size: 7.9px; text-anchor: middle; fill: #ffffff; stroke: #ffffff; stroke-width: 0.15" x="156.53" y="1294.75">14.0</text></g>
<g><text style="font-size: 7.9px; text-anchor: middle; fill: #262626; stroke: #262626; stroke-width: 0.15" x="204.18" y="1294.75">0.0</text></g>
<g><text style="font-size: 7.9px; text-anchor: middle; fill: #262626; stroke: #262626; stroke-width: 0.15" x="251.82" y="1294.75">0.0</text></g>
<g><text style="font-size: 7.9px; text-anchor: middle; fill: #262626; stroke: #262626; stroke-width: 0.15" x="299.48" y="1294.75">0.0</text></g>
<g><text style="font-size: 7.9px; text-anchor: middle; fill: #262626; stroke: #262626; stroke-width: 0.15" x="61.23" y="1339.1">0.0</text></g>
<g><text style="font-size: 7.9px; text-anchor: middle; fill: #262626; stroke: #262626; stroke-width: 0.15" x="108.88" y="1339.1">0.0</text></g>
<g><text style="font-size: 7.9px; text-anchor: middle; fill: #262626; stroke: #262626; stroke-width: 0.15" x="156.53" y="1339.1">0.0</text></g>
<g><text style="font-size: 7.9px; text-anchor: middle; fill: #ffffff; stroke: #ffffff; stroke-width: 0.15" x="204.18" y="1339.1">27.0</text></g>
<g><text style="font-size: 7.9px; text-anchor: middle; fill: #262626; stroke: #262626; stroke-width: 0.15" x="251.82" y="1339.1">0.0</text></g>
<g><text style="font-size: 7.9px; text-anchor: middle; fill: #262626; stroke: #262626; stroke-width: 0.15" x="299.48" y="1339.1">0.0</text></g>
<g><text style="font-size: 7.9px; text-anchor: middle; fill: #262626; stroke: #262626; stroke-width: 0.15" x="61.23" y="1383.45">0.0</text></g>
<g><text style="font-size: 7.9px; text-anchor: middle; fill: #262626; stroke: #262626; stroke-width: 0.15" x="108.88" y="1383.45">0.0</text></g>
<g><text style="font-size: 7.9px; text-anchor: middle; fill: #262626; stroke: #262626; stroke-width: 0.15" x="156.53" y="1383.45">0.0</text></g>
<g><text style="font-size: 7.9px; text-anchor: middle; fill: #262626; stroke: #262626; stroke-width: 0.15" x="204.18" y="1383.45">0.0</text></g>
<g><text style="font-size: 7.9px; text-anchor: middle; fill: #ffffff; stroke: #ffffff; stroke-width: 0.15" x="251.82" y="1383.45">25.7</text></g>
<g><text style="font-size: 7.9px; text-anchor: middle; fill: #262626; stroke: #262626; stroke-width: 0.15" x="299.48" y="1383.45">0.0</text></g>
<g><text style="font-size: 7.9px; text-anchor: middle; fill: #262626; stroke: #262626; stroke-width: 0.15" x="61.23" y="1427.8">0.0</text></g>
<g><text style="font-size: 7.9px; text-anchor: middle; fill: #262626; stroke: #262626; stroke-width: 0.15" x="108.88" y="1427.8">0.0</text></g>
<g><text style="font-size: 7.9px; text-anchor: middle; fill: #262626; stroke: #262626; stroke-width: 0.15" x="156.53" y="1427.8">0.0</text></g>
<g><text style="font-size: 7.9px; text-anchor: middle; fill: #262626; stroke: #262626; stroke-width: 0.15" x="204.18" y="1427.8">0.0</text></g>
<g><text style="font-size: 7.9px; text-anchor: middle; fill: #262626; stroke: #262626; stroke-width: 0.15" x="251.82" y="1427.8">0.0</text></g>
<g><text style="font-size: 7.9px; text-anchor: middle; fill: #ffffff; stroke: #ffffff; stroke-width: 0.15" x="299.48" y="1427.8">24.5</text></g>
<g><text style="font-size: 9.59px; text-anchor: middle; fill: #111111; stroke: #111111; stroke-width: 0.15" x="180.35" y="1176.96">Interpolated Heatmap of Y values across X1 and X2 (6x6 Grid)</text></g></g>
<g><g><path d="M 341.1 1447.8 L 354.1 1447.8 L 354.1 1181.7 L 341.1 1181.7 z" style="fill: #ffffff"/></g>
<g><path d="M 341.1 1447.8 L 354.1 1447.8 L 354.1 1442.26 L 341.1 1442.26 L 341.1 1447.8" clip-path="url(#p4d873676b3)" style="fill: #f8fcd5; stroke: #f8fcd5; stroke-width: 0.9"/>
<path d="M 341.1 1442.26 L 354.1 1442.26 L 354.1 1436.71 L 341.1 1436.71 L 341.1 1442.26" clip-path="url(#p4d873676b3)" style="fill: #f6fcce; stroke: #f6fcce; stroke-width: 0.9"/>
<path d="M 341.1 1436.71 L 354.1 1436.71 L 354.1 1431.17 L 341.1 1431.17 L 341.1 1436.71" clip-path="url(#p4d873676b3)" style="fill: #f3fcc7; stroke: #f3fcc7; stroke-width: 0.9"/>
<path d="M 341.1 1431.17 L 354.1 1431.17 L 354.1 1425.62 L 341.1 1425.62 L 341.1 1431.17" clip-path="url(#p4d873676b3)" style="fill: #f1fbc0; stroke: #f1fbc0; stroke-width: 0.9"/>
<path d="M 341.1 1425.62 L 354.1 1425.62 L 354.1 1420.08 L 341.1 1420.08 L 341.1 1425.62" clip-path="url(#p4d873676b3)" style="fill: #effbb9; stroke: #effbb9; stroke-width: 0.9"/>
<path d="M 341.1 1420.08 L 354.1 1420.08 L 354.1 1414.54 L 341.1 1414.54 L 341.1 1420.08" clip-path="url(#p4d873676b3)" style="fill: #ecfbb2; stroke: #ecfbb2; stroke-width: 0.9"/>
<path d="M 341.1 1414.54 L 354.1 1414.54 L 354.1 1408.99 L 341.1 1408.99 L 341.1 1414.54" clip-path="url(#p4d873676b3)" style="fill: #e7f9b1; stroke: #e7f9b1; stroke-width: 0.9"/>
<path d="M 341.1 1408.99 L 354.1 1408.99 L 354.1 1403.45 L 341.1 1403.45 L 341.1 1408.99" clip-path="url(#p4d873676b3)" style="fill: #e1f6b2; stroke: #e1f6b2; stroke-width: 0.9"/>
<path d="M 341.1 1403.45 L 354.1 1403.45 L 354.1 1397.91 L 341.1 1397.91 L 341.1 1403.45" clip-path="url(#p4d873676b3)" style="fill: #dbf3b2; stroke: #dbf3b2; stroke-width: 0.9"/>
<path d="M 341.1 1397.91 L 354.1 1397.91 L 354.1 1392.36 L 341.1 1392.36 L 341.1 1397.91" clip-path="url(#p4d873676b3)" style="fill: #d5f1b2; stroke: #d5f1b2; stroke-width: 0.9"/>
<path d="M 341.1 1392.36 L 354.1 1392.36 L 354.1 1386.82 L 341.1 1386.82 L 341.1 1392.36" clip-path="url(#p4d873676b3)" style="fill: #cfeeb3; stroke: #cfeeb3; stroke-width: 0.9"/>
<path d="M 341.1 1386.82 L 354.1 1386.82 L 354.1 1381.28 L 341.1 1381.28 L 341.1 1386.82" clip-path="url(#p4d873676b3)" style="fill: #c7ebb4; stroke: #c7ebb4; stroke-width: 0.9"/>
<path d="M 341.1 1381.28 L 354.1 1381.28 L 354.1 1375.73 L 341.1 1375.73 L 341.1 1381.28" clip-path="url(#p4d873676b3)" style="fill: #bfe9b5; stroke: #bfe9b5; stroke-width: 0.9"/>
<path d="M 341.1 1375.73 L 354.1 1375.73 L 354.1 1370.19 L 341.1 1370.19 L 341.1 1375.73" clip-path="url(#p4d873676b3)" style="fill: #b6e6b7; stroke: #b6e6b7; stroke-width: 0.9"/>
<path d="M 341.1 1370.19 L 354.1 1370.19 L 354.1 1364.64 L 341.1 1364.64 L 341.1 1370.19" clip-path="url(#p4d873676b3)" style="fill: #aee4b8; stroke: #aee4b8; stroke-width: 0.9"/>
<path d="M 341.1 1364.64 L 354.1 1364.64 L 354.1 1359.1 L 341.1 1359.1 L 341.1 1364.64" clip-path="url(#p4d873676b3)" style="fill: #a5e1ba; stroke: #a5e1ba; stroke-width: 0.9"/>
<path d="M 341.1 1359.1 L 354.1 1359.1 L 354.1 1353.56 L 341.1 1353.56 L 341.1 1359.1" clip-path="url(#p4d873676b3)" style="fill: #9ddfbb; stroke: #9ddfbb; stroke-width: 0.9"/>
<path d="M 341.1 1353.56 L 354.1 1353.56 L 354.1 1348.01 L 341.1 1348.01 L 341.1 1353.56" clip-path="url(#p4d873676b3)" style="fill: #95dbbc; stroke: #95dbbc; stroke-width: 0.9"/>
<path d="M 341.1 1348.01 L 354.1 1348.01 L 354.1 1342.47 L 341.1 1342.47 L 341.1 1348.01" clip-path="url(#p4d873676b3)" style="fill: #8ed8be; stroke: #8ed8be; stroke-width: 0.9"/>
<path d="M 341.1 1342.47 L 354.1 1342.47 L 354.1 1336.92 L 341.1 1336.92 L 341.1 1342.47" clip-path="url(#p4d873676b3)" style="fill: #86d4bf; stroke: #86d4bf; stroke-width: 0.9"/>
<path d="M 341.1 1336.92 L 354.1 1336.92 L 354.1 1331.38 L 341.1 1331.38 L 341.1 1336.92" clip-path="url(#p4d873676b3)" style="fill: #7fd1c0; stroke: #7fd1c0; stroke-width: 0.9"/>
<path d="M 341.1 1331.38 L 354.1 1331.38 L 354.1 1325.84 L 341.1 1325.84 L 341.1 1331.38" clip-path="url(#p4d873676b3)" style="fill: #77cec2; stroke: #77cec2; stroke-width: 0.9"/>
<path d="M 341.1 1325.84 L 354.1 1325.84 L 354.1 1320.29 L 341.1 1320.29 L 341.1 1325.84" clip-path="url(#p4d873676b3)" style="fill: #72c9c2; stroke: #72c9c2; stroke-width: 0.9"/>
<path d="M 341.1 1320.29 L 354.1 1320.29 L 354.1 1314.75 L 341.1 1314.75 L 341.1 1320.29" clip-path="url(#p4d873676b3)" style="fill: #6dc5c3; stroke: #6dc5c3; stroke-width: 0.9"/>
<path d="M 341.1 1314.75 L 354.1 1314.75 L 354.1 1309.21 L 341.1 1309.21 L 341.1 1314.75" clip-path="url(#p4d873676b3)" style="fill: #68c0c4; stroke: #68c0c4; stroke-width: 0.9"/>
<path d="M 341.1 1309.21 L 354.1 1309.21 L 354.1 1303.66 L 341.1 1303.66 L 341.1 1309.21" clip-path="url(#p4d873676b3)" style="fill: #63bcc4; stroke: #63bcc4; stroke-width: 0.9"/>
<path d="M 341.1 1303.66 L 354.1 1303.66 L 354.1 1298.12 L 341.1 1298.12 L 341.1 1303.66" clip-path="url(#p4d873676b3)" style="fill: #5eb8c5; stroke: #5eb8c5; stroke-width: 0.9"/>
<path d="M 341.1 1298.12 L 354.1 1298.12 L 354.1 1292.58 L 341.1 1292.58 L 341.1 1298.12" clip-path="url(#p4d873676b3)" style="fill: #59b3c5; stroke: #59b3c5; stroke-width: 0.9"/>
<path d="M 341.1 1292.58 L 354.1 1292.58 L 354.1 1287.03 L 341.1 1287.03 L 341.1 1292.58" clip-path="url(#p4d873676b3)" style="fill: #55acc4; stroke: #55acc4; stroke-width: 0.9"/>
<path d="M 341.1 1287.03 L 354.1 1287.03 L 354.1 1281.49 L 341.1 1281.49 L 341.1 1287.03" clip-path="url(#p4d873676b3)" style="fill: #51a5c3; stroke: #51a5c3; stroke-width: 0.9"/>
<path d="M 341.1 1281.49 L 354.1 1281.49 L 354.1 1275.94 L 341.1 1275.94 L 341.1 1281.49" clip-path="url(#p4d873676b3)" style="fill: #4d9fc3; stroke: #4d9fc3; stroke-width: 0.9"/>
<path d="M 341.1 1275.94 L 354.1 1275.94 L 354.1 1270.4 L 341.1 1270.4 L 341.1 1275.94" clip-path="url(#p4d873676b3)" style="fill: #4998c2; stroke: #4998c2; stroke-width: 0.9"/>
<path d="M 341.1 1270.4 L 354.1 1270.4 L 354.1 1264.86 L 341.1 1264.86 L 341.1 1270.4" clip-path="url(#p4d873676b3)" style="fill: #4592c1; stroke: #4592c1; stroke-width: 0.9"/>
<path d="M 341.1 1264.86 L 354.1 1264.86 L 354.1 1259.31 L 341.1 1259.31 L 341.1 1264.86" clip-path="url(#p4d873676b3)" style="fill: #4388bd; stroke: #4388bd; stroke-width: 0.9"/>
<path d="M 341.1 1259.31 L 354.1 1259.31 L 354.1 1253.77 L 341.1 1253.77 L 341.1 1259.31" clip-path="url(#p4d873676b3)" style="fill: #417fb8; stroke: #417fb8; stroke-width: 0.9"/>
<path d="M 341.1 1253.77 L 354.1 1253.77 L 354.1 1248.22 L 341.1 1248.22 L 341.1 1253.77" clip-path="url(#p4d873676b3)" style="fill: #3f76b4; stroke: #3f76b4; stroke-width: 0.9"/>
<path d="M 341.1 1248.22 L 354.1 1248.22 L 354.1 1242.68 L 341.1 1242.68 L 341.1 1248.22" clip-path="url(#p4d873676b3)" style="fill: #3c6cb0; stroke: #3c6cb0; stroke-width: 0.9"/>
<path d="M 341.1 1242.68 L 354.1 1242.68 L 354.1 1237.14 L 341.1 1237.14 L 341.1 1242.68" clip-path="url(#p4d873676b3)" style="fill: #3a63ac; stroke: #3a63ac; stroke-width: 0.9"/>
<path d="M 341.1 1237.14 L 354.1 1237.14 L 354.1 1231.59 L 341.1 1231.59 L 341.1 1237.14" clip-path="url(#p4d873676b3)" style="fill: #3959a8; stroke: #3959a8; stroke-width: 0.9"/>
<path d="M 341.1 1231.59 L 354.1 1231.59 L 354.1 1226.05 L 341.1 1226.05 L 341.1 1231.59" clip-path="url(#p4d873676b3)" style="fill: #384fa6; stroke: #384fa6; stroke-width: 0.9"/>
<path d="M 341.1 1226.05 L 354.1 1226.05 L 354.1 1220.51 L 341.1 1220.51 L 341.1 1226.05" clip-path="url(#p4d873676b3)" style="fill: #3744a3; stroke: #3744a3; stroke-width: 0.9"/>
<path d="M 341.1 1220.51 L 354.1 1220.51 L 354.1 1214.96 L 341.1 1214.96 L 341.1 1220.51" clip-path="url(#p4d873676b3)" style="fill: #353a9f; stroke: #353a9f; stroke-width: 0.9"/>
<path d="M 341.1 1214.96 L 354.1 1214.96 L 354.1 1209.42 L 341.1 1209.42 L 341.1 1214.96" clip-path="url(#p4d873676b3)" style="fill: #303494; stroke: #303494; stroke-width: 0.9"/>
<path d="M 341.1 1209.42 L 354.1 1209.42 L 354.1 1203.88 L 341.1 1203.88 L 341.1 1209.42" clip-path="url(#p4d873676b3)" style="fill: #2a2e89; stroke: #2a2e89; stroke-width: 0.9"/>
<path d="M 341.1 1203.88 L 354.1 1203.88 L 354.1 1198.33 L 341.1 1198.33 L 341.1 1203.88" clip-path="url(#p4d873676b3)" style="fill: #252a7e; stroke: #252a7e; stroke-width: 0.9"/>
<path d="M 341.1 1198.33 L 354.1 1198.33 L 354.1 1192.79 L 341.1 1192.79 L 341.1 1198.33" clip-path="url(#p4d873676b3)" style="fill: #202773; stroke: #202773; stroke-width: 0.9"/>
<path d="M 341.1 1192.79 L 354.1 1192.79 L 354.1 1187.24 L 341.1 1187.24 L 341.1 1192.79" clip-path="url(#p4d873676b3)" style="fill: #1c2367; stroke: #1c2367; stroke-width: 0.9"/>
<path d="M 341.1 1187.24 L 354.1 1187.24 L 354.1 1181.7 L 341.1 1181.7 L 341.1 1187.24" clip-path="url(#p4d873676b3)" style="fill: #171f5c; stroke: #171f5c; stroke-width: 0.9"/></g>
<g id="matplotlib.axis_25"/>
<g id="matplotlib.axis_26">
<g><g><defs>
<path id="mfd2addb60a" d="M 0 0 L 2.77 0" style="stroke: #111111; stroke-width: 0.63"/>
</defs>
<g><use href="#mfd2addb60a" x="354.1" y="1447.8" style="fill: #111111; stroke: #111111; stroke-width: 0.63"/></g></g>
<g><text style="font-size: 7.9px; text-anchor: start; fill: #111111; stroke: #111111; stroke-width: 0.15" x="359.63" y="1450.8">0</text></g></g>
<g><g><g><use href="#mfd2addb60a" x="354.1" y="1398.52" style="fill: #111111; stroke: #111111; stroke-width: 0.63"/></g></g>
<g><text style="font-size: 7.9px; text-anchor: start; fill: #111111; stroke: #111111; stroke-width: 0.15" x="359.63" y="1401.52">5</text></g></g>
<g><g><g><use href="#mfd2addb60a" x="354.1" y="1349.24" style="fill: #111111; stroke: #111111; stroke-width: 0.63"/></g></g>
<g><text style="font-size: 7.9px; text-anchor: start; fill: #111111; stroke: #111111; stroke-width: 0.15" x="359.63" y="1352.25">10</text></g></g>
<g><g><g><use href="#mfd2addb60a" x="354.1" y="1299.97" style="fill: #111111; stroke: #111111; stroke-width: 0.63"/></g></g>
<g><text style="font-size: 7.9px; text-anchor: start; fill: #111111; stroke: #111111; stroke-width: 0.15" x="359.63" y="1302.97">15</text></g></g>
<g><g><g><use href="#mfd2addb60a" x="354.1" y="1250.69" style="fill: #111111; stroke: #111111; stroke-width: 0.63"/></g></g>
<g><text style="font-size: 7.9px; text-anchor: start; fill: #111111; stroke: #111111; stroke-width: 0.15" x="359.63" y="1253.69">20</text></g></g>
<g><g><g><use href="#mfd2addb60a" x="354.1" y="1201.41" style="fill: #111111; stroke: #111111; stroke-width: 0.63"/></g></g>
<g><text style="font-size: 7.9px; text-anchor: start; fill: #111111; stroke: #111111; stroke-width: 0.15" x="359.63" y="1204.41">25</text></g></g>
<g><text style="font-size: 7.9px; text-anchor: middle; fill: #111111; stroke: #111111; stroke-width: 0.15" x="378.85" y="1314.75" transform="rotate(-90 378.85 1314.75)">Y Value</text></g></g>
<g id="LineCollection_2"/></g>
<g><g><path d="M 30.6 2347.7 L 332.6 2347.7 L 332.6 2066.9 L 30.6 2066.9 z" style="fill: #ffffff"/></g>
<g><path d="M 30.6 2066.9 L 80.93 2066.9 L 80.93 2113.7 L 30.6 2113.7 L 30.6 2066.9" clip-path="url(#p22197df7d2)" style="fill: #c7ebb4; stroke: #c7ebb4; stroke-width: 0.4"/>
<path d="M 80.93 2066.9 L 131.27 2066.9 L 131.27 2113.7 L 80.93 2113.7 L 80.93 2066.9" clip-path="url(#p22197df7d2)" style="fill: #f8fcd5; stroke: #f8fcd5; stroke-width: 0.4"/>
<path d="M 131.27 2066.9 L 181.6 2066.9 L 181.6 2113.7 L 131.27 2113.7 L 131.27 2066.9" clip-path="url(#p22197df7d2)" style="fill: #f8fcd5; stroke: #f8fcd5; stroke-width: 0.4"/>
<path d="M 181.6 2066.9 L 231.93 2066.9 L 231.93 2113.7 L 181.6 2113.7 L 181.6 2066.9" clip-path="url(#p22197df7d2)" style="fill: #f8fcd5; stroke: #f8fcd5; stroke-width: 0.4"/>
<path d="M 231.93 2066.9 L 282.27 2066.9 L 282.27 2113.7 L 231.93 2113.7 L 231.93 2066.9" clip-path="url(#p22197df7d2)" style="fill: #f8fcd5; stroke: #f8fcd5; stroke-width: 0.4"/>
<path d="M 282.27 2066.9 L 332.6 2066.9 L 332.6 2113.7 L 282.27 2113.7 L 282.27 2066.9" clip-path="url(#p22197df7d2)" style="fill: #f8fcd5; stroke: #f8fcd5; stroke-width: 0.4"/>
<path d="M 30.6 2113.7 L 80.93 2113.7 L 80.93 2160.5 L 30.6 2160.5 L 30.6 2113.7" clip-path="url(#p22197df7d2)" style="fill: #f8fcd5; stroke: #f8fcd5; stroke-width: 0.4"/>
<path d="M 80.93 2113.7 L 131.27 2113.7 L 131.27 2160.5 L 80.93 2160.5 L 80.93 2113.7" clip-path="url(#p22197df7d2)" style="fill: #3744a3; stroke: #3744a3; stroke-width: 0.4"/>
<path d="M 131.27 2113.7 L 181.6 2113.7 L 181.6 2160.5 L 131.27 2160.5 L 131.27 2113.7" clip-path="url(#p22197df7d2)" style="fill: #f8fcd5; stroke: #f8fcd5; stroke-width: 0.4"/>
<path d="M 181.6 2113.7 L 231.93 2113.7 L 231.93 2160.5 L 181.6 2160.5 L 181.6 2113.7" clip-path="url(#p22197df7d2)" style="fill: #f8fcd5; stroke: #f8fcd5; stroke-width: 0.4"/>
<path d="M 231.93 2113.7 L 282.27 2113.7 L 282.27 2160.5 L 231.93 2160.5 L 231.93 2113.7" clip-path="url(#p22197df7d2)" style="fill: #f8fcd5; stroke: #f8fcd5; stroke-width: 0.4"/>
<path d="M 282.27 2113.7 L 332.6 2113.7 L 332.6 2160.5 L 282.27 2160.5 L 282.27 2113.7" clip-path="url(#p22197df7d2)" style="fill: #f8fcd5; stroke: #f8fcd5; stroke-width: 0.4"/>
<path d="M 30.6 2160.5 L 80.93 2160.5 L 80.93 2207.3 L 30.6 2207.3 L 30.6 2160.5" clip-path="url(#p22197df7d2)" style="fill: #f8fcd5; stroke: #f8fcd5; stroke-width: 0.4"/>
<path d="M 80.93 2160.5 L 131.27 2160.5 L 131.27 2207.3 L 80.93 2207.3 L 80.93 2160.5" clip-path="url(#p22197df7d2)" style="fill: #f8fcd5; stroke: #f8fcd5; stroke-width: 0.4"/>
<path d="M 131.27 2160.5 L 181.6 2160.5 L 181.6 2207.3 L 131.27 2207.3 L 131.27 2160.5" clip-path="url(#p22197df7d2)" style="fill: #171f5c; stroke: #171f5c; stroke-width: 0.4"/>
<path d="M 181.6 2160.5 L 231.93 2160.5 L 231.93 2207.3 L 181.6 2207.3 L 181.6 2160.5" clip-path="url(#p22197df7d2)" style="fill: #f8fcd5; stroke: #f8fcd5; stroke-width: 0.4"/>
<path d="M 231.93 2160.5 L 282.27 2160.5 L 282.27 2207.3 L 231.93 2207.3 L 231.93 2160.5" clip-path="url(#p22197df7d2)" style="fill: #f8fcd5; stroke: #f8fcd5; stroke-width: 0.4"/>
<path d="M 282.27 2160.5 L 332.6 2160.5 L 332.6 2207.3 L 282.27 2207.3 L 282.27 2160.5" clip-path="url(#p22197df7d2)" style="fill: #f8fcd5; stroke: #f8fcd5; stroke-width: 0.4"/>
<path d="M 30.6 2207.3 L 80.93 2207.3 L 80.93 2254.1 L 30.6 2254.1 L 30.6 2207.3" clip-path="url(#p22197df7d2)" style="fill: #f8fcd5; stroke: #f8fcd5; stroke-width: 0.4"/>
<path d="M 80.93 2207.3 L 131.27 2207.3 L 131.27 2254.1 L 80.93 2254.1 L 80.93 2207.3" clip-path="url(#p22197df7d2)" style="fill: #f8fcd5; stroke: #f8fcd5; stroke-width: 0.4"/>
<path d="M 131.27 2207.3 L 181.6 2207.3 L 181.6 2254.1 L 131.27 2254.1 L 131.27 2207.3" clip-path="url(#p22197df7d2)" style="fill: #f8fcd5; stroke: #f8fcd5; stroke-width: 0.4"/>
<path d="M 181.6 2207.3 L 231.93 2207.3 L 231.93 2254.1 L 181.6 2254.1 L 181.6 2207.3" clip-path="url(#p22197df7d2)" style="fill: #3f76b4; stroke: #3f76b4; stroke-width: 0.4"/>
<path d="M 231.93 2207.3 L 282.27 2207.3 L 282.27 2254.1 L 231.93 2254.1 L 231.93 2207.3" clip-path="url(#p22197df7d2)" style="fill: #f8fcd5; stroke: #f8fcd5; stroke-width: 0.4"/>
<path d="M 282.27 2207.3 L 332.6 2207.3 L 332.6 2254.1 L 282.27 2254.1 L 282.27 2207.3" clip-path="url(#p22197df7d2)" style="fill: #f8fcd5; stroke: #f8fcd5; stroke-width: 0.4"/>
<path d="M 30.6 2254.1 L 80.93 2254.1 L 80.93 2300.9 L 30.6 2300.9 L 30.6 2254.1" clip-path="url(#p22197df7d2)" style="fill: #f8fcd5; stroke: #f8fcd5; stroke-width: 0.4"/>
<path d="M 80.93 2254.1 L 131.27 2254.1 L 131.27 2300.9 L 80.93 2300.9 L 80.93 2254.1" clip-path="url(#p22197df7d2)" style="fill: #f8fcd5; stroke: #f8fcd5; stroke-width: 0.4"/>
<path d="M 131.27 2254.1 L 181.6 2254.1 L 181.6 2300.9 L 131.27 2300.9 L 131.27 2254.1" clip-path="url(#p22197df7d2)" style="fill: #f8fcd5; stroke: #f8fcd5; stroke-width: 0.4"/>
<path d="M 181.6 2254.1 L 231.93 2254.1 L 231.93 2300.9 L 181.6 2300.9 L 181.6 2254.1" clip-path="url(#p22197df7d2)" style="fill: #f8fcd5; stroke: #f8fcd5; stroke-width: 0.4"/>
<path d="M 231.93 2254.1 L 282.27 2254.1 L 282.27 2300.9 L 231.93 2300.9 L 231.93 2254.1" clip-path="url(#p22197df7d2)" style="fill: #55acc4; stroke: #55acc4; stroke-width: 0.4"/>
<path d="M 282.27 2254.1 L 332.6 2254.1 L 332.6 2300.9 L 282.27 2300.9 L 282.27 2254.1" clip-path="url(#p22197df7d2)" style="fill: #f8fcd5; stroke: #f8fcd5; stroke-width: 0.4"/>
<path d="M 30.6 2300.9 L 80.93 2300.9 L 80.93 2347.7 L 30.6 2347.7 L 30.6 2300.9" clip-path="url(#p22197df7d2)" style="fill: #f8fcd5; stroke: #f8fcd5; stroke-width: 0.4"/>
<path d="M 80.93 2300.9 L 131.27 2300.9 L 131.27 2347.7 L 80.93 2347.7 L 80.93 2300.9" clip-path="url(#p22197df7d2)" style="fill: #f8fcd5; stroke: #f8fcd5; stroke-width: 0.4"/>
<path d="M 131.27 2300.9 L 181.6 2300.9 L 181.6 2347.7 L 131.27 2347.7 L 131.27 2300.9" clip-path="url(#p22197df7d2)" style="fill: #f8fcd5; stroke: #f8fcd5; stroke-width: 0.4"/>
<path d="M 181.6 2300.9 L 231.93 2300.9 L 231.93 2347.7 L 181.6 2347.7 L 181.6 2300.9" clip-path="url(#p22197df7d2)" style="fill: #f8fcd5; stroke: #f8fcd5; stroke-width: 0.4"/>
<path d="M 231.93 2300.9 L 282.27 2300.9 L 282.27 2347.7 L 231.93 2347.7 L 231.93 2300.9" clip-path="url(#p22197df7d2)" style="fill: #f8fcd5; stroke: #f8fcd5; stroke-width: 0.4"/>
<path d="M 282.27 2300.9 L 332.6 2300.9 L 332.6 2347.7 L 282.27 2347.7 L 282.27 2300.9" clip-path="url(#p22197df7d2)" style="fill: #72c9c2; stroke: #72c9c2; stroke-width: 0.4"/></g>
<g id="matplotlib.axis_27">
<g><g><defs>
<path id="ma626953b0b" d="M 0 0 L 0 2.87" style="stroke: #111111; stroke-width: 0.82"/>
</defs>
<g><use href="#ma626953b0b" x="55.77" y="2347.7" style="fill: #111111; stroke: #111111; stroke-width: 0.82"/></g></g>
<g><text style="font-size: 8.2px; text-anchor: middle; fill: #111111; stroke: #111111; stroke-width: 0.15" x="55.77" y="2359.67">12.3</text></g></g>
<g><g><g><use href="#ma626953b0b" x="106.1" y="2347.7" style="fill: #111111; stroke: #111111; stroke-width: 0.82"/></g></g>
<g><text style="font-size: 8.2px; text-anchor: middle; fill: #111111; stroke: #111111; stroke-width: 0.15" x="106.1" y="2359.67">12.94</text></g></g>
<g><g><g><use href="#ma626953b0b" x="156.43" y="2347.7" style="fill: #111111; stroke: #111111; stroke-width: 0.82"/></g></g>
<g><text style="font-size: 8.2px; text-anchor: middle; fill: #111111; stroke: #111111; stroke-width: 0.15" x="156.43" y="2359.67">13.58</text></g></g>
<g><g><g><use href="#ma626953b0b" x="206.77" y="2347.7" style="fill: #111111; stroke: #111111; stroke-width: 0.82"/></g></g>
<g><text style="font-size: 8.2px; text-anchor: middle; fill: #111111; stroke: #111111; stroke-width: 0.15" x="206.77" y="2359.67">14.22</text></g></g>
<g><g><g><use href="#ma626953b0b" x="257.1" y="2347.7" style="fill: #111111; stroke: #111111; stroke-width: 0.82"/></g></g>
<g><text style="font-size: 8.2px; text-anchor: middle; fill: #111111; stroke: #111111; stroke-width: 0.15" x="257.1" y="2359.67">14.86</text></g></g>
<g><g><g><use href="#ma626953b0b" x="307.43" y="2347.7" style="fill: #111111; stroke: #111111; stroke-width: 0.82"/></g></g>
<g><text style="font-size: 8.2px; text-anchor: middle; fill: #111111; stroke: #111111; stroke-width: 0.15" x="307.43" y="2359.67">15.5</text></g></g>
<g><text style="font-size: 8.2px; text-anchor: middle; fill: #111111; stroke: #111111; stroke-width: 0.15" x="181.6" y="2370.89">X1</text></g></g>
<g id="matplotlib.axis_28">
<g><g><defs>
<path id="m98f815550e" d="M 0 0 L -2.87 0" style="stroke: #111111; stroke-width: 0.82"/>
</defs>
<g><use href="#m98f815550e" x="30.6" y="2090.3" style="fill: #111111; stroke: #111111; stroke-width: 0.82"/></g></g>
<g><text style="font-size: 8.2px; fill: #111111; stroke: #111111; stroke-width: 0.15" transform="translate(23.15 2102.04) rotate(-90)">530.0</text></g></g>
<g><g><g><use href="#m98f815550e" x="30.6" y="2137.1" style="fill: #111111; stroke: #111111; stroke-width: 0.82"/></g></g>
<g><text style="font-size: 8.2px; fill: #111111; stroke: #111111; stroke-width: 0.15" transform="translate(23.15 2148.84) rotate(-90)">564.0</text></g></g>
<g><g><g><use href="#m98f815550e" x="30.6" y="2183.9" style="fill: #111111; stroke: #111111; stroke-width: 0.82"/></g></g>
<g><text style="font-size: 8.2px; fill: #111111; stroke: #111111; stroke-width: 0.15" transform="translate(23.15 2195.64) rotate(-90)">598.0</text></g></g>
<g><g><g><use href="#m98f815550e" x="30.6" y="2230.7" style="fill: #111111; stroke: #111111; stroke-width: 0.82"/></g></g>
<g><text style="font-size: 8.2px; fill: #111111; stroke: #111111; stroke-width: 0.15" transform="translate(23.15 2242.44) rotate(-90)">632.0</text></g></g>
<g><g><g><use href="#m98f815550e" x="30.6" y="2277.5" style="fill: #111111; stroke: #111111; stroke-width: 0.82"/></g></g>
<g><text style="font-size: 8.2px; fill: #111111; stroke: #111111; stroke-width: 0.15" transform="translate(23.15 2289.24) rotate(-90)">666.0</text></g></g>
<g><g><g><use href="#m98f815550e" x="30.6" y="2324.3" style="fill: #111111; stroke: #111111; stroke-width: 0.82"/></g></g>
<g><text style="font-size: 8.2px; fill: #111111; stroke: #111111; stroke-width: 0.15" transform="translate(23.15 2336.04) rotate(-90)">700.0</text></g></g>
<g><text style="font-size: 8.2px; text-anchor: middle; fill: #111111; stroke: #111111; stroke-width: 0.15" x="11.94" y="2207.3" transform="rotate(-90 11.94 2207.3)">X2</text></g></g>
<g><text style="font-size: 8.2px; text-anchor: middle; fill: #262626; stroke: #262626; stroke-width: 0.15" x="55.77" y="2092.56">1.4</text></g>
<g><text style="font-size: 8.2px; text-anchor: middle; fill: #262626; stroke: #262626; stroke-width: 0.15" x="106.1" y="2092.56">0.0</text></g>
<g><text style="font-size: 8.2px; text-anchor: middle; fill: #262626; stroke: #262626; stroke-width: 0.15" x="156.43" y="2092.56">0.0</text></g>
<g><text style="font-size: 8.2px; text-anchor: middle; fill: #262626; stroke: #262626; stroke-width: 0.15" x="206.77" y="2092.56">0.0</text></g>
<g><text style="font-size: 8.2px; text-anchor: middle; fill: #262626; stroke: #262626; stroke-width: 0.15" x="257.1" y="2092.56">0.0</text></g>
<g><text style="font-size: 8.2px; text-anchor: middle; fill: #262626; stroke: #262626; stroke-width: 0.15" x="307.43" y="2092.56">0.0</text></g>
<g><text style="font-size: 8.2px; text-anchor: middle; fill: #262626; stroke: #262626; stroke-width: 0.15" x="55.77" y="2139.36">0.0</text></g>
<g><text style="font-size: 8.2px; text-anchor: middle; fill: #ffffff; stroke: #ffffff; stroke-width: 0.15" x="106.1" y="2139.36">4.8</text></g>
<g><text style="font-size: 8.2px; text-anchor: middle; fill: #262626; stroke: #262626; stroke-width: 0.15" x="156.43" y="2139.36">0.0</text></g>
<g><text style="font-size: 8.2px; text-anchor: middle; fill: #262626; stroke: #262626; stroke-width: 0.15" x="206.77" y="2139.36">0.0</text></g>
<g><text style="font-size: 8.2px; text-anchor: middle; fill: #262626; stroke: #262626; stroke-width: 0.15" x="257.1" y="2139.36">0.0</text></g>
<g><text style="font-size: 8.2px; text-anchor: middle; fill: #262626; stroke: #262626; stroke-width: 0.15" x="307.43" y="2139.36">0.0</text></g>
<g><text style="font-size: 8.2px; text-anchor: middle; fill: #262626; stroke: #262626; stroke-width: 0.15" x="55.77" y="2186.16">0.0</text></g>
<g><text style="font-size: 8.2px; text-anchor: middle; fill: #262626; stroke: #262626; stroke-width: 0.15" x="106.1" y="2186.16">0.0</text></g>
<g><text style="font-size: 8.2px; text-anchor: middle; fill: #ffffff; stroke: #ffffff; stroke-width: 0.15" x="156.43" y="2186.16">5.7</text></g>
<g><text style="font-size: 8.2px; text-anchor: middle; fill: #262626; stroke: #262626; stroke-width: 0.15" x="206.77" y="2186.16">0.0</text></g>
<g><text style="font-size: 8.2px; text-anchor: middle; fill: #262626; stroke: #262626; stroke-width: 0.15" x="257.1" y="2186.16">0.0</text></g>
<g><text style="font-size: 8.2px; text-anchor: middle; fill: #262626; stroke: #262626; stroke-width: 0.15" x="307.43" y="2186.16">0.0</text></g>
<g><text style="font-size: 8.2px; text-anchor: middle; fill: #262626; stroke: #262626; stroke-width: 0.15" x="55.77" y="2232.96">0.0</text></g>
<g><text style="font-size: 8.2px; text-anchor: middle; fill: #262626; stroke: #262626; stroke-width: 0.15" x="106.1" y="2232.96">0.0</text></g>
<g><text style="font-size: 8.2px; text-anchor: middle; fill: #262626; stroke: #262626; stroke-width: 0.15" x="156.43" y="2232.96">0.0</text></g>
<g><text style="font-size: 8.2px; text-anchor: middle; fill: #ffffff; stroke: #ffffff; stroke-width: 0.15" x="206.77" y="2232.96">4.2</text></g>
<g><text style="font-size: 8.2px; text-anchor: middle; fill: #262626; stroke: #262626; stroke-width: 0.15" x="257.1" y="2232.96">0.0</text></g>
<g><text style="font-size: 8.2px; text-anchor: middle; fill: #262626; stroke: #262626; stroke-width: 0.15" x="307.43" y="2232.96">0.0</text></g>
<g><text style="font-size: 8.2px; text-anchor: middle; fill: #262626; stroke: #262626; stroke-width: 0.15" x="55.77" y="2279.76">0.0</text></g>
<g><text style="font-size: 8.2px; text-anchor: middle; fill: #262626; stroke: #262626; stroke-width: 0.15" x="106.1" y="2279.76">0.0</text></g>
<g><text style="font-size: 8.2px; text-anchor: middle; fill: #262626; stroke: #262626; stroke-width: 0.15" x="156.43" y="2279.76">0.0</text></g>
<g><text style="font-size: 8.2px; text-anchor: middle; fill: #262626; stroke: #262626; stroke-width: 0.15" x="206.77" y="2279.76">0.0</text></g>
<g><text style="font-size: 8.2px; text-anchor: middle; fill: #ffffff; stroke: #ffffff; stroke-width: 0.15" x="257.1" y="2279.76">3.4</text></g>
<g><text style="font-size: 8.2px; text-anchor: middle; fill: #262626; stroke: #262626; stroke-width: 0.15" x="307.43" y="2279.76">0.0</text></g>
<g><text style="font-size: 8.2px; text-anchor: middle; fill: #262626; stroke: #262626; stroke-width: 0.15" x="55.77" y="2326.56">0.0</text></g>
<g><text style="font-size: 8.2px; text-anchor: middle; fill: #262626; stroke: #262626; stroke-width: 0.15" x="106.1" y="2326.56">0.0</text></g>
<g><text style="font-size: 8.2px; text-anchor: middle; fill: #262626; stroke: #262626; stroke-width: 0.15" x="156.43" y="2326.56">0.0</text></g>
<g><text style="font-size: 8.2px; text-anchor: middle; fill: #262626; stroke: #262626; stroke-width: 0.15" x="206.77" y="2326.56">0.0</text></g>
<g><text style="font-size: 8.2px; text-anchor: middle; fill: #262626; stroke: #262626; stroke-width: 0.15" x="257.1" y="2326.56">0.0</text></g>
<g><text style="font-size: 8.2px; text-anchor: middle; fill: #262626; stroke: #262626; stroke-width: 0.15" x="307.43" y="2326.56">2.6</text></g>
<g><text style="font-size: 9.96px; text-anchor: middle; fill: #111111; stroke: #111111; stroke-width: 0.15" x="181.6" y="2061.98">Interpolated Heatmap of Y values across X1 and X2 (6x6 Grid)</text></g></g>
<g><g><path d="M 351 2347.7 L 365.2 2347.7 L 365.2 2066.9 L 351 2066.9 z" style="fill: #ffffff"/></g>
<g><path d="M 351 2347.7 L 365.2 2347.7 L 365.2 2341.85 L 351 2341.85 L 351 2347.7" clip-path="url(#pb5b67e1386)" style="fill: #f8fcd5; stroke: #f8fcd5; stroke-width: 0.9"/>
<path d="M 351 2341.85 L 365.2 2341.85 L 365.2 2336 L 351 2336 L 351 2341.85" clip-path="url(#pb5b67e1386)" style="fill: #f6fcce; stroke: #f6fcce; stroke-width: 0.9"/>
<path d="M 351 2336 L 365.2 2336 L 365.2 2330.15 L 351 2330.15 L 351 2336" clip-path="url(#pb5b67e1386)" style="fill: #f3fcc7; stroke: #f3fcc7; stroke-width: 0.9"/>
<path d="M 351 2330.15 L 365.2 2330.15 L 365.2 2324.3 L 351 2324.3 L 351 2330.15" clip-path="url(#pb5b67e1386)" style="fill: #f1fbc0; stroke: #f1fbc0; stroke-width: 0.9"/>
<path d="M 351 2324.3 L 365.2 2324.3 L 365.2 2318.45 L 351 2318.45 L 351 2324.3" clip-path="url(#pb5b67e1386)" style="fill: #effbb9; stroke: #effbb9; stroke-width: 0.9"/>
<path d="M 351 2318.45 L 365.2 2318.45 L 365.2 2312.6 L 351 2312.6 L 351 2318.45" clip-path="url(#pb5b67e1386)" style="fill: #ecfbb2; stroke: #ecfbb2; stroke-width: 0.9"/>
<path d="M 351 2312.6 L 365.2 2312.6 L 365.2 2306.75 L 351 2306.75 L 351 2312.6" clip-path="url(#pb5b67e1386)" style="fill: #e7f9b1; stroke: #e7f9b1; stroke-width: 0.9"/>
<path d="M 351 2306.75 L 365.2 2306.75 L 365.2 2300.9 L 351 2300.9 L 351 2306.75" clip-path="url(#pb5b67e1386)" style="fill: #e1f6b2; stroke: #e1f6b2; stroke-width: 0.9"/>
<path d="M 351 2300.9 L 365.2 2300.9 L 365.2 2295.05 L 351 2295.05 L 351 2300.9" clip-path="url(#pb5b67e1386)" style="fill: #dbf3b2; stroke: #dbf3b2; stroke-width: 0.9"/>
<path d="M 351 2295.05 L 365.2 2295.05 L 365.2 2289.2 L 351 2289.2 L 351 2295.05" clip-path="url(#pb5b67e1386)" style="fill: #d5f1b2; stroke: #d5f1b2; stroke-width: 0.9"/>
<path d="M 351 2289.2 L 365.2 2289.2 L 365.2 2283.35 L 351 2283.35 L 351 2289.2" clip-path="url(#pb5b67e1386)" style="fill: #cfeeb3; stroke: #cfeeb3; stroke-width: 0.9"/>
<path d="M 351 2283.35 L 365.2 2283.35 L 365.2 2277.5 L 351 2277.5 L 351 2283.35" clip-path="url(#pb5b67e1386)" style="fill: #c7ebb4; stroke: #c7ebb4; stroke-width: 0.9"/>
<path d="M 351 2277.5 L 365.2 2277.5 L 365.2 2271.65 L 351 2271.65 L 351 2277.5" clip-path="url(#pb5b67e1386)" style="fill: #bfe9b5; stroke: #bfe9b5; stroke-width: 0.9"/>
<path d="M 351 2271.65 L 365.2 2271.65 L 365.2 2265.8 L 351 2265.8 L 351 2271.65" clip-path="url(#pb5b67e1386)" style="fill: #b6e6b7; stroke: #b6e6b7; stroke-width: 0.9"/>
<path d="M 351 2265.8 L 365.2 2265.8 L 365.2 2259.95 L 351 2259.95 L 351 2265.8" clip-path="url(#pb5b67e1386)" style="fill: #aee4b8; stroke: #aee4b8; stroke-width: 0.9"/>
<path d="M 351 2259.95 L 365.2 2259.95 L 365.2 2254.1 L 351 2254.1 L 351 2259.95" clip-path="url(#pb5b67e1386)" style="fill: #a5e1ba; stroke: #a5e1ba; stroke-width: 0.9"/>
<path d="M 351 2254.1 L 365.2 2254.1 L 365.2 2248.25 L 351 2248.25 L 351 2254.1" clip-path="url(#pb5b67e1386)" style="fill: #9ddfbb; stroke: #9ddfbb; stroke-width: 0.9"/>
<path d="M 351 2248.25 L 365.2 2248.25 L 365.2 2242.4 L 351 2242.4 L 351 2248.25" clip-path="url(#pb5b67e1386)" style="fill: #95dbbc; stroke: #95dbbc; stroke-width: 0.9"/>
<path d="M 351 2242.4 L 365.2 2242.4 L 365.2 2236.55 L 351 2236.55 L 351 2242.4" clip-path="url(#pb5b67e1386)" style="fill: #8ed8be; stroke: #8ed8be; stroke-width: 0.9"/>
<path d="M 351 2236.55 L 365.2 2236.55 L 365.2 2230.7 L 351 2230.7 L 351 2236.55" clip-path="url(#pb5b67e1386)" style="fill: #86d4bf; stroke: #86d4bf; stroke-width: 0.9"/>
<path d="M 351 2230.7 L 365.2 2230.7 L 365.2 2224.85 L 351 2224.85 L 351 2230.7" clip-path="url(#pb5b67e1386)" style="fill: #7fd1c0; stroke: #7fd1c0; stroke-width: 0.9"/>
<path d="M 351 2224.85 L 365.2 2224.85 L 365.2 2219 L 351 2219 L 351 2224.85" clip-path="url(#pb5b67e1386)" style="fill: #77cec2; stroke: #77cec2; stroke-width: 0.9"/>
<path d="M 351 2219 L 365.2 2219 L 365.2 2213.15 L 351 2213.15 L 351 2219" clip-path="url(#pb5b67e1386)" style="fill: #72c9c2; stroke: #72c9c2; stroke-width: 0.9"/>
<path d="M 351 2213.15 L 365.2 2213.15 L 365.2 2207.3 L 351 2207.3 L 351 2213.15" clip-path="url(#pb5b67e1386)" style="fill: #6dc5c3; stroke: #6dc5c3; stroke-width: 0.9"/>
<path d="M 351 2207.3 L 365.2 2207.3 L 365.2 2201.45 L 351 2201.45 L 351 2207.3" clip-path="url(#pb5b67e1386)" style="fill: #68c0c4; stroke: #68c0c4; stroke-width: 0.9"/>
<path d="M 351 2201.45 L 365.2 2201.45 L 365.2 2195.6 L 351 2195.6 L 351 2201.45" clip-path="url(#pb5b67e1386)" style="fill: #63bcc4; stroke: #63bcc4; stroke-width: 0.9"/>
<path d="M 351 2195.6 L 365.2 2195.6 L 365.2 2189.75 L 351 2189.75 L 351 2195.6" clip-path="url(#pb5b67e1386)" style="fill: #5eb8c5; stroke: #5eb8c5; stroke-width: 0.9"/>
<path d="M 351 2189.75 L 365.2 2189.75 L 365.2 2183.9 L 351 2183.9 L 351 2189.75" clip-path="url(#pb5b67e1386)" style="fill: #59b3c5; stroke: #59b3c5; stroke-width: 0.9"/>
<path d="M 351 2183.9 L 365.2 2183.9 L 365.2 2178.05 L 351 2178.05 L 351 2183.9" clip-path="url(#pb5b67e1386)" style="fill: #55acc4; stroke: #55acc4; stroke-width: 0.9"/>
<path d="M 351 2178.05 L 365.2 2178.05 L 365.2 2172.2 L 351 2172.2 L 351 2178.05" clip-path="url(#pb5b67e1386)" style="fill: #51a5c3; stroke: #51a5c3; stroke-width: 0.9"/>
<path d="M 351 2172.2 L 365.2 2172.2 L 365.2 2166.35 L 351 2166.35 L 351 2172.2" clip-path="url(#pb5b67e1386)" style="fill: #4d9fc3; stroke: #4d9fc3; stroke-width: 0.9"/>
<path d="M 351 2166.35 L 365.2 2166.35 L 365.2 2160.5 L 351 2160.5 L 351 2166.35" clip-path="url(#pb5b67e1386)" style="fill: #4998c2; stroke: #4998c2; stroke-width: 0.9"/>
<path d="M 351 2160.5 L 365.2 2160.5 L 365.2 2154.65 L 351 2154.65 L 351 2160.5" clip-path="url(#pb5b67e1386)" style="fill: #4592c1; stroke: #4592c1; stroke-width: 0.9"/>
<path d="M 351 2154.65 L 365.2 2154.65 L 365.2 2148.8 L 351 2148.8 L 351 2154.65" clip-path="url(#pb5b67e1386)" style="fill: #4388bd; stroke: #4388bd; stroke-width: 0.9"/>
<path d="M 351 2148.8 L 365.2 2148.8 L 365.2 2142.95 L 351 2142.95 L 351 2148.8" clip-path="url(#pb5b67e1386)" style="fill: #417fb8; stroke: #417fb8; stroke-width: 0.9"/>
<path d="M 351 2142.95 L 365.2 2142.95 L 365.2 2137.1 L 351 2137.1 L 351 2142.95" clip-path="url(#pb5b67e1386)" style="fill: #3f76b4; stroke: #3f76b4; stroke-width: 0.9"/>
<path d="M 351 2137.1 L 365.2 2137.1 L 365.2 2131.25 L 351 2131.25 L 351 2137.1" clip-path="url(#pb5b67e1386)" style="fill: #3c6cb0; stroke: #3c6cb0; stroke-width: 0.9"/>
<path d="M 351 2131.25 L 365.2 2131.25 L 365.2 2125.4 L 351 2125.4 L 351 2131.25" clip-path="url(#pb5b67e1386)" style="fill: #3a63ac; stroke: #3a63ac; stroke-width: 0.9"/>
<path d="M 351 2125.4 L 365.2 2125.4 L 365.2 2119.55 L 351 2119.55 L 351 2125.4" clip-path="url(#pb5b67e1386)" style="fill: #3959a8; stroke: #3959a8; stroke-width: 0.9"/>
<path d="M 351 2119.55 L 365.2 2119.55 L 365.2 2113.7 L 351 2113.7 L 351 2119.55" clip-path="url(#pb5b67e1386)" style="fill: #384fa6; stroke: #384fa6; stroke-width: 0.9"/>
<path d="M 351 2113.7 L 365.2 2113.7 L 365.2 2107.85 L 351 2107.85 L 351 2113.7" clip-path="url(#pb5b67e1386)" style="fill: #3744a3; stroke: #3744a3; stroke-width: 0.9"/>
<path d="M 351 2107.85 L 365.2 2107.85 L 365.2 2102 L 351 2102 L 351 2107.85" clip-path="url(#pb5b67e1386)" style="fill: #353a9f; stroke: #353a9f; stroke-width: 0.9"/>
<path d="M 351 2102 L 365.2 2102 L 365.2 2096.15 L 351 2096.15 L 351 2102" clip-path="url(#pb5b67e1386)" style="fill: #303494; stroke: #303494; stroke-width: 0.9"/>
<path d="M 351 2096.15 L 365.2 2096.15 L 365.2 2090.3 L 351 2090.3 L 351 2096.15" clip-path="url(#pb5b67e1386)" style="fill: #2a2e89; stroke: #2a2e89; stroke-width: 0.9"/>
<path d="M 351 2090.3 L 365.2 2090.3 L 365.2 2084.45 L 351 2084.45 L 351 2090.3" clip-path="url(#pb5b67e1386)" style="fill: #252a7e; stroke: #252a7e; stroke-width: 0.9"/>
<path d="M 351 2084.45 L 365.2 2084.45 L 365.2 2078.6 L 351 2078.6 L 351 2084.45" clip-path="url(#pb5b67e1386)" style="fill: #202773; stroke: #202773; stroke-width: 0.9"/>
<path d="M 351 2078.6 L 365.2 2078.6 L 365.2 2072.75 L 351 2072.75 L 351 2078.6" clip-path="url(#pb5b67e1386)" style="fill: #1c2367; stroke: #1c2367; stroke-width: 0.9"/>
<path d="M 351 2072.75 L 365.2 2072.75 L 365.2 2066.9 L 351 2066.9 L 351 2072.75" clip-path="url(#pb5b67e1386)" style="fill: #171f5c; stroke: #171f5c; stroke-width: 0.9"/></g>
<g id="matplotlib.axis_29"/>
<g id="matplotlib.axis_30">
<g><g><defs>
<path id="m76a1e75292" d="M 0 0 L 2.87 0" style="stroke: #111111; stroke-width: 0.66"/>
</defs>
<g><use href="#m76a1e75292" x="365.2" y="2347.7" style="fill: #111111; stroke: #111111; stroke-width: 0.66"/></g></g>
<g><text style="font-size: 8.2px; text-anchor: start; fill: #111111; stroke: #111111; stroke-width: 0.15" x="370.94" y="2350.82">0</text></g></g>
<g><g><g><use href="#m76a1e75292" x="365.2" y="2298.18" style="fill: #111111; stroke: #111111; stroke-width: 0.66"/></g></g>
<g><text style="font-size: 8.2px; text-anchor: start; fill: #111111; stroke: #111111; stroke-width: 0.15" x="370.94" y="2301.29">1</text></g></g>
<g><g><g><use href="#m76a1e75292" x="365.2" y="2248.65" style="fill: #111111; stroke: #111111; stroke-width: 0.66"/></g></g>
<g><text style="font-size: 8.2px; text-anchor: start; fill: #111111; stroke: #111111; stroke-width: 0.15" x="370.94" y="2251.77">2</text></g></g>
<g><g><g><use href="#m76a1e75292" x="365.2" y="2199.13" style="fill: #111111; stroke: #111111; stroke-width: 0.66"/></g></g>
<g><text style="font-size: 8.2px; text-anchor: start; fill: #111111; stroke: #111111; stroke-width: 0.15" x="370.94" y="2202.24">3</text></g></g>
<g><g><g><use href="#m76a1e75292" x="365.2" y="2149.6" style="fill: #111111; stroke: #111111; stroke-width: 0.66"/></g></g>
<g><text style="font-size: 8.2px; text-anchor: start; fill: #111111; stroke: #111111; stroke-width: 0.15" x="370.94" y="2152.72">4</text></g></g>
<g><g><g><use href="#m76a1e75292" x="365.2" y="2100.08" style="fill: #111111; stroke: #111111; stroke-width: 0.66"/></g></g>
<g><text style="font-size: 8.2px; text-anchor: start; fill: #111111; stroke: #111111; stroke-width: 0.15" x="370.94" y="2103.2">5</text></g></g>
<g><text style="font-size: 8.2px; text-anchor: middle; fill: #111111; stroke: #111111; stroke-width: 0.15" x="385.67" y="2207.3" transform="rotate(-90 385.67 2207.3)">Y Value</text></g></g>
<g id="LineCollection_3"/></g>
<g><g><path d="M 762.9 612 L 1032.5 612 L 1032.5 361 L 762.9 361 z" style="fill: #ffffff"/></g>
<g><path d="M 772.86 361 L 762.9 361 L 762.9 372.95 z" clip-path="url(#pacffe6cf81)" style="fill: #471867; stroke: #471867; stroke-width: 0.8"/>
<path d="M 802.17 361 L 772.86 361 L 762.9 372.95 L 762.9 408.11 z" clip-path="url(#pacffe6cf81)" style="fill: #4a2277; stroke: #4a2277; stroke-width: 0.8"/>
<path d="M 831.47 361 L 802.17 361 L 762.9 408.11 L 762.9 443.26 z" clip-path="url(#pacffe6cf81)" style="fill: #44377f; stroke: #44377f; stroke-width: 0.8"/>
<path d="M 860.78 361 L 831.47 361 L 762.9 443.26 L 762.9 478.41 z" clip-path="url(#pacffe6cf81)" style="fill: #42498c; stroke: #42498c; stroke-width: 0.8"/>
<path d="M 785.46 486.5 L 890.08 361 L 860.78 361 L 762.9 478.41 L 762.9 486.5 L 762.9 513.57 z" clip-path="url(#pacffe6cf81)" style="fill: #3d598e; stroke: #3d598e; stroke-width: 0.8"/>
<path d="M 814.77 486.5 L 897.7 387.01 L 919.39 361 L 897.7 361 L 890.08 361 L 785.46 486.5 L 762.9 513.57 L 762.9 548.72 z" clip-path="url(#pacffe6cf81)" style="fill: #3a698f; stroke: #3a698f; stroke-width: 0.8"/>
<path d="M 844.07 486.5 L 897.7 422.17 L 948.69 361 L 919.39 361 L 897.7 387.01 L 814.77 486.5 L 762.9 548.72 L 762.9 583.88 z" clip-path="url(#pacffe6cf81)" style="fill: #3f7a8f; stroke: #3f7a8f; stroke-width: 0.8"/>
<path d="M 873.38 486.5 L 897.7 457.32 L 977.99 361 L 948.69 361 L 897.7 422.17 L 844.07 486.5 L 762.9 583.88 L 762.9 612 L 768.76 612 z" clip-path="url(#pacffe6cf81)" style="fill: #44898c; stroke: #44898c; stroke-width: 0.8"/>
<path d="M 897.7 492.48 L 902.68 486.5 L 1007.3 361 L 977.99 361 L 897.7 457.32 L 873.38 486.5 L 768.76 612 L 798.07 612 z" clip-path="url(#pacffe6cf81)" style="fill: #499889; stroke: #499889; stroke-width: 0.8"/>
<path d="M 897.7 527.63 L 931.99 486.5 L 1032.5 365.92 L 1032.5 361 L 1007.3 361 L 902.68 486.5 L 897.7 492.48 L 798.07 612 L 827.37 612 z" clip-path="url(#pacffe6cf81)" style="fill: #4ea789; stroke: #4ea789; stroke-width: 0.8"/>
<path d="M 897.7 562.78 L 961.29 486.5 L 1032.5 401.08 L 1032.5 365.92 L 931.99 486.5 L 897.7 527.63 L 827.37 612 L 856.67 612 z" clip-path="url(#pacffe6cf81)" style="fill: #52b687; stroke: #52b687; stroke-width: 0.8"/>
<path d="M 897.7 597.94 L 990.59 486.5 L 1032.5 436.23 L 1032.5 401.08 L 961.29 486.5 L 897.7 562.78 L 856.67 612 L 885.98 612 z" clip-path="url(#pacffe6cf81)" style="fill: #5cc580; stroke: #5cc580; stroke-width: 0.8"/>
<path d="M 897.7 612 L 915.28 612 L 1019.9 486.5 L 1032.5 471.38 L 1032.5 436.23 L 990.59 486.5 L 897.7 597.94 L 885.98 612 z" clip-path="url(#pacffe6cf81)" style="fill: #6cd371; stroke: #6cd371; stroke-width: 0.8"/>
<path d="M 1032.5 506.54 L 1032.5 486.5 L 1032.5 471.38 L 1019.9 486.5 L 915.28 612 L 944.59 612 z" clip-path="url(#pacffe6cf81)" style="fill: #83de5f; stroke: #83de5f; stroke-width: 0.8"/>
<path d="M 1032.5 541.69 L 1032.5 506.54 L 944.59 612 L 973.89 612 z" clip-path="url(#pacffe6cf81)" style="fill: #a7e545; stroke: #a7e545; stroke-width: 0.8"/>
<path d="M 1032.5 576.85 L 1032.5 541.69 L 973.89 612 L 1003.2 612 z" clip-path="url(#pacffe6cf81)" style="fill: #cae83a; stroke: #cae83a; stroke-width: 0.8"/>
<path d="M 1032.5 612 L 1032.5 576.85 L 1003.2 612 z" clip-path="url(#pacffe6cf81)" style="fill: #dced3b; stroke: #dced3b; stroke-width: 0.8"/></g>
<g id="matplotlib.axis_31">
<g><g><defs>
<path id="m515dc5b088" d="M 0 0 L 0 2.63" style="stroke: #111111; stroke-width: 0.75"/>
</defs>
<g><use href="#m515dc5b088" x="779.75" y="612" style="fill: #111111; stroke: #111111; stroke-width: 0.75"/></g></g>
<g><text style="font-size: 7.52px; text-anchor: middle; fill: #111111; stroke: #111111; stroke-width: 0.15" x="779.75" y="622.98">12.5</text></g></g>
<g><g><g><use href="#m515dc5b088" x="821.88" y="612" style="fill: #111111; stroke: #111111; stroke-width: 0.75"/></g></g>
<g><text style="font-size: 7.52px; text-anchor: middle; fill: #111111; stroke: #111111; stroke-width: 0.15" x="821.88" y="622.98">13.0</text></g></g>
<g><g><g><use href="#m515dc5b088" x="864" y="612" style="fill: #111111; stroke: #111111; stroke-width: 0.75"/></g></g>
<g><text style="font-size: 7.52px; text-anchor: middle; fill: #111111; stroke: #111111; stroke-width: 0.15" x="864" y="622.98">13.5</text></g></g>
<g><g><g><use href="#m515dc5b088" x="906.12" y="612" style="fill: #111111; stroke: #111111; stroke-width: 0.75"/></g></g>
<g><text style="font-size: 7.52px; text-anchor: middle; fill: #111111; stroke: #111111; stroke-width: 0.15" x="906.12" y="622.98">14.0</text></g></g>
<g><g><g><use href="#m515dc5b088" x="948.25" y="612" style="fill: #111111; stroke: #111111; stroke-width: 0.75"/></g></g>
<g><text style="font-size: 7.52px; text-anchor: middle; fill: #111111; stroke: #111111; stroke-width: 0.15" x="948.25" y="622.98">14.5</text></g></g>
<g><g><g><use href="#m515dc5b088" x="990.38" y="612" style="fill: #111111; stroke: #111111; stroke-width: 0.75"/></g></g>
<g><text style="font-size: 7.52px; text-anchor: middle; fill: #111111; stroke: #111111; stroke-width: 0.15" x="990.38" y="622.98">15.0</text></g></g>
<g><g><g><use href="#m515dc5b088" x="1032.5" y="612" style="fill: #111111; stroke: #111111; stroke-width: 0.75"/></g></g>
<g><text style="font-size: 7.52px; text-anchor: middle; fill: #111111; stroke: #111111; stroke-width: 0.15" x="1032.5" y="622.98">15.5</text></g></g>
<g><text style="font-size: 7.52px; text-anchor: middle; fill: #111111; stroke: #111111; stroke-width: 0.15" x="897.7" y="633.26">Independent Variable 1 (X1)</text></g></g>
<g id="matplotlib.axis_32">
<g><g><defs>
<path id="m73d420f9c3" d="M 0 0 L -2.63 0" style="stroke: #111111; stroke-width: 0.75"/>
</defs>
<g><use href="#m73d420f9c3" x="762.9" y="597.24" style="fill: #111111; stroke: #111111; stroke-width: 0.75"/></g></g>
<g><text style="font-size: 7.52px; text-anchor: end; fill: #111111; stroke: #111111; stroke-width: 0.15" x="757.64" y="600.09">540</text></g></g>
<g><g><g><use href="#m73d420f9c3" x="762.9" y="567.71" style="fill: #111111; stroke: #111111; stroke-width: 0.75"/></g></g>
<g><text style="font-size: 7.52px; text-anchor: end; fill: #111111; stroke: #111111; stroke-width: 0.15" x="757.64" y="570.56">560</text></g></g>
<g><g><g><use href="#m73d420f9c3" x="762.9" y="538.18" style="fill: #111111; stroke: #111111; stroke-width: 0.75"/></g></g>
<g><text style="font-size: 7.52px; text-anchor: end; fill: #111111; stroke: #111111; stroke-width: 0.15" x="757.64" y="541.03">580</text></g></g>
<g><g><g><use href="#m73d420f9c3" x="762.9" y="508.65" style="fill: #111111; stroke: #111111; stroke-width: 0.75"/></g></g>
<g><text style="font-size: 7.52px; text-anchor: end; fill: #111111; stroke: #111111; stroke-width: 0.15" x="757.64" y="511.5">600</text></g></g>
<g><g><g><use href="#m73d420f9c3" x="762.9" y="479.12" style="fill: #111111; stroke: #111111; stroke-width: 0.75"/></g></g>
<g><text style="font-size: 7.52px; text-anchor: end; fill: #111111; stroke: #111111; stroke-width: 0.15" x="757.64" y="481.97">620</text></g></g>
<g><g><g><use href="#m73d420f9c3" x="762.9" y="449.59" style="fill: #111111; stroke: #111111; stroke-width: 0.75"/></g></g>
<g><text style="font-size: 7.52px; text-anchor: end; fill: #111111; stroke: #111111; stroke-width: 0.15" x="757.64" y="452.45">640</text></g></g>
<g><g><g><use href="#m73d420f9c3" x="762.9" y="420.06" style="fill: #111111; stroke: #111111; stroke-width: 0.75"/></g></g>
<g><text style="font-size: 7.52px; text-anchor: end; fill: #111111; stroke: #111111; stroke-width: 0.15" x="757.64" y="422.92">660</text></g></g>
<g><g><g><use href="#m73d420f9c3" x="762.9" y="390.53" style="fill: #111111; stroke: #111111; stroke-width: 0.75"/></g></g>
<g><text style="font-size: 7.52px; text-anchor: end; fill: #111111; stroke: #111111; stroke-width: 0.15" x="757.64" y="393.39">680</text></g></g>
<g><g><g><use href="#m73d420f9c3" x="762.9" y="361" style="fill: #111111; stroke: #111111; stroke-width: 0.75"/></g></g>
<g><text style="font-size: 7.52px; text-anchor: end; fill: #111111; stroke: #111111; stroke-width: 0.15" x="757.64" y="363.86">700</text></g></g>
<g><text style="font-size: 7.52px; text-anchor: middle; fill: #111111; stroke: #111111; stroke-width: 0.15" x="738.71" y="486.5" transform="rotate(-90 738.71 486.5)">Independent Variable 2 (X2)</text></g></g>
<g><path d="M 762.9 612 L 762.9 361" style="fill: none; stroke: #111111; stroke-width: 0.75; stroke-linejoin: miter; stroke-linecap: square"/></g>
<g><path d="M 1032.5 612 L 1032.5 361" style="fill: none; stroke: #111111; stroke-width: 0.75; stroke-linejoin: miter; stroke-linecap: square"/></g>
<g><path d="M 762.9 612 L 1032.5 612" style="fill: none; stroke: #111111; stroke-width: 0.75; stroke-linejoin: miter; stroke-linecap: square"/></g>
<g><path d="M 762.9 361 L 1032.5 361" style="fill: none; stroke: #111111; stroke-width: 0.75; stroke-linejoin: miter; stroke-linecap: square"/></g>
<g><text style="font-size: 9.02px; text-anchor: middle; fill: #111111; stroke: #111111; stroke-width: 0.15" x="897.7" y="356.49">Contour Plot of Predicted Y based on X1 and X2 (PLS Regression)</text></g></g>
<g><g><path d="M 1049 612 L 1061.8 612 L 1061.8 361 L 1049 361 z" style="fill: #ffffff"/></g>
<g><path d="M 1049 612 L 1061.8 612 L 1061.8 597.24 L 1049 597.24 L 1049 612" clip-path="url(#p66155dbe3a)" style="fill: #471867; stroke: #471867; stroke-width: 0.75"/>
<path d="M 1049 597.24 L 1061.8 597.24 L 1061.8 582.47 L 1049 582.47 L 1049 597.24" clip-path="url(#p66155dbe3a)" style="fill: #4a2277; stroke: #4a2277; stroke-width: 0.75"/>
<path d="M 1049 582.47 L 1061.8 582.47 L 1061.8 567.71 L 1049 567.71 L 1049 582.47" clip-path="url(#p66155dbe3a)" style="fill: #44377f; stroke: #44377f; stroke-width: 0.75"/>
<path d="M 1049 567.71 L 1061.8 567.71 L 1061.8 552.94 L 1049 552.94 L 1049 567.71" clip-path="url(#p66155dbe3a)" style="fill: #42498c; stroke: #42498c; stroke-width: 0.75"/>
<path d="M 1049 552.94 L 1061.8 552.94 L 1061.8 538.18 L 1049 538.18 L 1049 552.94" clip-path="url(#p66155dbe3a)" style="fill: #3d598e; stroke: #3d598e; stroke-width: 0.75"/>
<path d="M 1049 538.18 L 1061.8 538.18 L 1061.8 523.41 L 1049 523.41 L 1049 538.18" clip-path="url(#p66155dbe3a)" style="fill: #3a698f; stroke: #3a698f; stroke-width: 0.75"/>
<path d="M 1049 523.41 L 1061.8 523.41 L 1061.8 508.65 L 1049 508.65 L 1049 523.41" clip-path="url(#p66155dbe3a)" style="fill: #3f7a8f; stroke: #3f7a8f; stroke-width: 0.75"/>
<path d="M 1049 508.65 L 1061.8 508.65 L 1061.8 493.88 L 1049 493.88 L 1049 508.65" clip-path="url(#p66155dbe3a)" style="fill: #44898c; stroke: #44898c; stroke-width: 0.75"/>
<path d="M 1049 493.88 L 1061.8 493.88 L 1061.8 479.12 L 1049 479.12 L 1049 493.88" clip-path="url(#p66155dbe3a)" style="fill: #499889; stroke: #499889; stroke-width: 0.75"/>
<path d="M 1049 479.12 L 1061.8 479.12 L 1061.8 464.35 L 1049 464.35 L 1049 479.12" clip-path="url(#p66155dbe3a)" style="fill: #4ea789; stroke: #4ea789; stroke-width: 0.75"/>
<path d="M 1049 464.35 L 1061.8 464.35 L 1061.8 449.59 L 1049 449.59 L 1049 464.35" clip-path="url(#p66155dbe3a)" style="fill: #52b687; stroke: #52b687; stroke-width: 0.75"/>
<path d="M 1049 449.59 L 1061.8 449.59 L 1061.8 434.82 L 1049 434.82 L 1049 449.59" clip-path="url(#p66155dbe3a)" style="fill: #5cc580; stroke: #5cc580; stroke-width: 0.75"/>
<path d="M 1049 434.82 L 1061.8 434.82 L 1061.8 420.06 L 1049 420.06 L 1049 434.82" clip-path="url(#p66155dbe3a)" style="fill: #6cd371; stroke: #6cd371; stroke-width: 0.75"/>
<path d="M 1049 420.06 L 1061.8 420.06 L 1061.8 405.29 L 1049 405.29 L 1049 420.06" clip-path="url(#p66155dbe3a)" style="fill: #83de5f; stroke: #83de5f; stroke-width: 0.75"/>
<path d="M 1049 405.29 L 1061.8 405.29 L 1061.8 390.53 L 1049 390.53 L 1049 405.29" clip-path="url(#p66155dbe3a)" style="fill: #a7e545; stroke: #a7e545; stroke-width: 0.75"/>
<path d="M 1049 390.53 L 1061.8 390.53 L 1061.8 375.76 L 1049 375.76 L 1049 390.53" clip-path="url(#p66155dbe3a)" style="fill: #cae83a; stroke: #cae83a; stroke-width: 0.75"/>
<path d="M 1049 375.76 L 1061.8 375.76 L 1061.8 361 L 1049 361 L 1049 375.76" clip-path="url(#p66155dbe3a)" style="fill: #dced3b; stroke: #dced3b; stroke-width: 0.75"/></g>
<g id="matplotlib.axis_33"/>
<g id="matplotlib.axis_34">
<g><g><defs>
<path id="mac444cfc15" d="M 0 0 L 2.63 0" style="stroke: #111111; stroke-width: 0.75"/>
</defs>
<g><use href="#mac444cfc15" x="1061.8" y="612" style="fill: #111111; stroke: #111111; stroke-width: 0.75"/></g></g>
<g><text style="font-size: 7.52px; text-anchor: start; fill: #111111; stroke: #111111; stroke-width: 0.15" x="1067.06" y="614.86">−16000</text></g></g>
<g><g><g><use href="#mac444cfc15" x="1061.8" y="582.47" style="fill: #111111; stroke: #111111; stroke-width: 0.75"/></g></g>
<g><text style="font-size: 7.52px; text-anchor: start; fill: #111111; stroke: #111111; stroke-width: 0.15" x="1067.06" y="585.33">−12000</text></g></g>
<g><g><g><use href="#mac444cfc15" x="1061.8" y="552.94" style="fill: #111111; stroke: #111111; stroke-width: 0.75"/></g></g>
<g><text style="font-size: 7.52px; text-anchor: start; fill: #111111; stroke: #111111; stroke-width: 0.15" x="1067.06" y="555.8">−8000</text></g></g>
<g><g><g><use href="#mac444cfc15" x="1061.8" y="523.41" style="fill: #111111; stroke: #111111; stroke-width: 0.75"/></g></g>
<g><text style="font-size: 7.52px; text-anchor: start; fill: #111111; stroke: #111111; stroke-width: 0.15" x="1067.06" y="526.27">−4000</text></g></g>
<g><g><g><use href="#mac444cfc15" x="1061.8" y="493.88" style="fill: #111111; stroke: #111111; stroke-width: 0.75"/></g></g>
<g><text style="font-size: 7.52px; text-anchor: start; fill: #111111; stroke: #111111; stroke-width: 0.15" x="1067.06" y="496.74">0</text></g></g>
<g><g><g><use href="#mac444cfc15" x="1061.8" y="464.35" style="fill: #111111; stroke: #111111; stroke-width: 0.75"/></g></g>
<g><text style="font-size: 7.52px; text-anchor: start; fill: #111111; stroke: #111111; stroke-width: 0.15" x="1067.06" y="467.21">4000</text></g></g>
<g><g><g><use href="#mac444cfc15" x="1061.8" y="434.82" style="fill: #111111; stroke: #111111; stroke-width: 0.75"/></g></g>
<g><text style="font-size: 7.52px; text-anchor: start; fill: #111111; stroke: #111111; stroke-width: 0.15" x="1067.06" y="437.68">8000</text></g></g>
<g><g><g><use href="#mac444cfc15" x="1061.8" y="405.29" style="fill: #111111; stroke: #111111; stroke-width: 0.75"/></g></g>
<g><text style="font-size: 7.52px; text-anchor: start; fill: #111111; stroke: #111111; stroke-width: 0.15" x="1067.06" y="408.15">12000</text></g></g>
<g><g><g><use href="#mac444cfc15" x="1061.8" y="375.76" style="fill: #111111; stroke: #111111; stroke-width: 0.75"/></g></g>
<g><text style="font-size: 7.52px; text-anchor: start; fill: #111111; stroke: #111111; stroke-width: 0.15" x="1067.06" y="378.62">16000</text></g></g>
<g><text style="font-size: 7.52px; text-anchor: middle; fill: #111111; stroke: #111111; stroke-width: 0.15" x="1106.01" y="486.5" transform="rotate(-90 1106.01 486.5)">Predicted Y Value</text></g></g>
<g id="LineCollection_4"/>
<g><path d="M 1049 612 L 1055.4 612 L 1061.8 612 L 1061.8 361 L 1055.4 361 L 1049 361 L 1049 612 z" style="fill: none; stroke: #111111; stroke-width: 0.75; stroke-linejoin: miter; stroke-linecap: square"/></g></g>
<g><g><path d="M 765 1445 L 1026.7 1445 L 1026.7 1202.1 L 765 1202.1 z" style="fill: #ffffff"/></g>
<g><path d="M 766.17 1202.1 L 765 1202.1 L 765 1203.89 z" clip-path="url(#pdb44d9960f)" style="fill: #152e58; stroke: #152e58; stroke-width: 0.8"/>
<path d="M 789.65 1202.1 L 766.17 1202.1 L 765 1203.89 L 765 1239.61 z" clip-path="url(#pdb44d9960f)" style="fill: #113670; stroke: #113670; stroke-width: 0.8"/>
<path d="M 813.13 1202.1 L 789.65 1202.1 L 765 1239.61 L 765 1275.33 z" clip-path="url(#pdb44d9960f)" style="fill: #283d6f; stroke: #283d6f; stroke-width: 0.8"/>
<path d="M 836.61 1202.1 L 813.13 1202.1 L 765 1275.33 L 765 1311.05 z" clip-path="url(#pdb44d9960f)" style="fill: #39456d; stroke: #39456d; stroke-width: 0.8"/>
<path d="M 780.26 1323.55 L 860.09 1202.1 L 836.61 1202.1 L 765 1311.05 L 765 1323.55 L 765 1346.77 z" clip-path="url(#pdb44d9960f)" style="fill: #434d6c; stroke: #434d6c; stroke-width: 0.8"/>
<path d="M 803.74 1323.55 L 883.56 1202.1 L 860.09 1202.1 L 780.26 1323.55 L 765 1346.77 L 765 1382.49 z" clip-path="url(#pdb44d9960f)" style="fill: #4e566c; stroke: #4e566c; stroke-width: 0.8"/>
<path d="M 827.22 1323.55 L 895.85 1219.13 L 907.04 1202.1 L 895.85 1202.1 L 883.56 1202.1 L 803.74 1323.55 L 765 1382.49 L 765 1418.21 z" clip-path="url(#pdb44d9960f)" style="fill: #595e6e; stroke: #595e6e; stroke-width: 0.8"/>
<path d="M 850.69 1323.55 L 895.85 1254.85 L 930.52 1202.1 L 907.04 1202.1 L 895.85 1219.13 L 827.22 1323.55 L 765 1418.21 L 765 1445 L 770.87 1445 z" clip-path="url(#pdb44d9960f)" style="fill: #656870; stroke: #656870; stroke-width: 0.8"/>
<path d="M 874.17 1323.55 L 895.85 1290.57 L 954 1202.1 L 930.52 1202.1 L 895.85 1254.85 L 850.69 1323.55 L 770.87 1445 L 794.35 1445 z" clip-path="url(#pdb44d9960f)" style="fill: #707174; stroke: #707174; stroke-width: 0.8"/>
<path d="M 895.85 1326.29 L 897.65 1323.55 L 977.47 1202.1 L 954 1202.1 L 895.85 1290.57 L 874.17 1323.55 L 794.35 1445 L 817.83 1445 z" clip-path="url(#pdb44d9960f)" style="fill: #7d7c78; stroke: #7d7c78; stroke-width: 0.8"/>
<path d="M 895.85 1362.01 L 921.13 1323.55 L 1000.95 1202.1 L 977.47 1202.1 L 897.65 1323.55 L 895.85 1326.29 L 817.83 1445 L 841.3 1445 z" clip-path="url(#pdb44d9960f)" style="fill: #898679; stroke: #898679; stroke-width: 0.8"/>
<path d="M 895.85 1397.73 L 944.61 1323.55 L 1024.43 1202.1 L 1000.95 1202.1 L 921.13 1323.55 L 895.85 1362.01 L 841.3 1445 L 864.78 1445 z" clip-path="url(#pdb44d9960f)" style="fill: #958f79; stroke: #958f79; stroke-width: 0.8"/>
<path d="M 895.85 1433.45 L 968.08 1323.55 L 1026.7 1234.37 L 1026.7 1202.1 L 1024.43 1202.1 L 944.61 1323.55 L 895.85 1397.73 L 864.78 1445 L 888.26 1445 z" clip-path="url(#pdb44d9960f)" style="fill: #a19a79; stroke: #a19a79; stroke-width: 0.8"/>
<path d="M 895.85 1445 L 911.74 1445 L 991.56 1323.55 L 1026.7 1270.09 L 1026.7 1234.37 L 968.08 1323.55 L 895.85 1433.45 L 888.26 1445 z" clip-path="url(#pdb44d9960f)" style="fill: #ada477; stroke: #ada477; stroke-width: 0.8"/>
<path d="M 1015.04 1323.55 L 1026.7 1305.81 L 1026.7 1270.09 L 991.56 1323.55 L 911.74 1445 L 935.21 1445 z" clip-path="url(#pdb44d9960f)" style="fill: #bab173; stroke: #bab173; stroke-width: 0.8"/>
<path d="M 1026.7 1341.53 L 1026.7 1323.55 L 1026.7 1305.81 L 1015.04 1323.55 L 935.21 1445 L 958.69 1445 z" clip-path="url(#pdb44d9960f)" style="fill: #c6bc6e; stroke: #c6bc6e; stroke-width: 0.8"/>
<path d="M 1026.7 1377.25 L 1026.7 1341.53 L 958.69 1445 L 982.17 1445 z" clip-path="url(#pdb44d9960f)" style="fill: #d3c866; stroke: #d3c866; stroke-width: 0.8"/>
<path d="M 1026.7 1412.97 L 1026.7 1377.25 L 982.17 1445 L 1005.65 1445 z" clip-path="url(#pdb44d9960f)" style="fill: #dfd45b; stroke: #dfd45b; stroke-width: 0.8"/>
<path d="M 1026.7 1445 L 1026.7 1412.97 L 1005.65 1445 z" clip-path="url(#pdb44d9960f)" style="fill: #ece149; stroke: #ece149; stroke-width: 0.8"/></g>
<g id="matplotlib.axis_35">
<g><g><defs>
<path id="m507b48fec6" d="M 0 0 L 0 2.55" style="stroke: #111111; stroke-width: 0.73"/>
</defs>
<g><use href="#m507b48fec6" x="781.36" y="1445" style="fill: #111111; stroke: #111111; stroke-width: 0.73"/></g></g>
<g><text style="font-size: 7.28px; text-anchor: middle; fill: #111111; stroke: #111111; stroke-width: 0.15" x="781.36" y="1455.63">12.5</text></g></g>
<g><g><g><use href="#m507b48fec6" x="822.25" y="1445" style="fill: #111111; stroke: #111111; stroke-width: 0.73"/></g></g>
<g><text style="font-size: 7.28px; text-anchor: middle; fill: #111111; stroke: #111111; stroke-width: 0.15" x="822.25" y="1455.63">13.0</text></g></g>
<g><g><g><use href="#m507b48fec6" x="863.14" y="1445" style="fill: #111111; stroke: #111111; stroke-width: 0.73"/></g></g>
<g><text style="font-size: 7.28px; text-anchor: middle; fill: #111111; stroke: #111111; stroke-width: 0.15" x="863.14" y="1455.63">13.5</text></g></g>
<g><g><g><use href="#m507b48fec6" x="904.03" y="1445" style="fill: #111111; stroke: #111111; stroke-width: 0.73"/></g></g>
<g><text style="font-size: 7.28px; text-anchor: middle; fill: #111111; stroke: #111111; stroke-width: 0.15" x="904.03" y="1455.63">14.0</text></g></g>
<g><g><g><use href="#m507b48fec6" x="944.92" y="1445" style="fill: #111111; stroke: #111111; stroke-width: 0.73"/></g></g>
<g><text style="font-size: 7.28px; text-anchor: middle; fill: #111111; stroke: #111111; stroke-width: 0.15" x="944.92" y="1455.63">14.5</text></g></g>
<g><g><g><use href="#m507b48fec6" x="985.81" y="1445" style="fill: #111111; stroke: #111111; stroke-width: 0.73"/></g></g>
<g><text style="font-size: 7.28px; text-anchor: middle; fill: #111111; stroke: #111111; stroke-width: 0.15" x="985.81" y="1455.63">15.0</text></g></g>
<g><g><g><use href="#m507b48fec6" x="1026.7" y="1445" style="fill: #111111; stroke: #111111; stroke-width: 0.73"/></g></g>
<g><text style="font-size: 7.28px; text-anchor: middle; fill: #111111; stroke: #111111; stroke-width: 0.15" x="1026.7" y="1455.63">15.5</text></g></g>
<g><text style="font-size: 7.28px; text-anchor: middle; fill: #111111; stroke: #111111; stroke-width: 0.15" x="895.85" y="1465.59">Independent Variable 1 (X1)</text></g></g>
<g id="matplotlib.axis_36">
<g><g><defs>
<path id="m28702d7c6e" d="M 0 0 L -2.55 0" style="stroke: #111111; stroke-width: 0.73"/>
</defs>
<g><use href="#m28702d7c6e" x="765" y="1430.71" style="fill: #111111; stroke: #111111; stroke-width: 0.73"/></g></g>
<g><text style="font-size: 7.28px; text-anchor: end; fill: #111111; stroke: #111111; stroke-width: 0.15" x="759.9" y="1433.48">540</text></g></g>
<g><g><g><use href="#m28702d7c6e" x="765" y="1402.14" style="fill: #111111; stroke: #111111; stroke-width: 0.73"/></g></g>
<g><text style="font-size: 7.28px; text-anchor: end; fill: #111111; stroke: #111111; stroke-width: 0.15" x="759.9" y="1404.9">560</text></g></g>
<g><g><g><use href="#m28702d7c6e" x="765" y="1373.56" style="fill: #111111; stroke: #111111; stroke-width: 0.73"/></g></g>
<g><text style="font-size: 7.28px; text-anchor: end; fill: #111111; stroke: #111111; stroke-width: 0.15" x="759.9" y="1376.32">580</text></g></g>
<g><g><g><use href="#m28702d7c6e" x="765" y="1344.98" style="fill: #111111; stroke: #111111; stroke-width: 0.73"/></g></g>
<g><text style="font-size: 7.28px; text-anchor: end; fill: #111111; stroke: #111111; stroke-width: 0.15" x="759.9" y="1347.75">600</text></g></g>
<g><g><g><use href="#m28702d7c6e" x="765" y="1316.41" style="fill: #111111; stroke: #111111; stroke-width: 0.73"/></g></g>
<g><text style="font-size: 7.28px; text-anchor: end; fill: #111111; stroke: #111111; stroke-width: 0.15" x="759.9" y="1319.17">620</text></g></g>
<g><g><g><use href="#m28702d7c6e" x="765" y="1287.83" style="fill: #111111; stroke: #111111; stroke-width: 0.73"/></g></g>
<g><text style="font-size: 7.28px; text-anchor: end; fill: #111111; stroke: #111111; stroke-width: 0.15" x="759.9" y="1290.6">640</text></g></g>
<g><g><g><use href="#m28702d7c6e" x="765" y="1259.25" style="fill: #111111; stroke: #111111; stroke-width: 0.73"/></g></g>
<g><text style="font-size: 7.28px; text-anchor: end; fill: #111111; stroke: #111111; stroke-width: 0.15" x="759.9" y="1262.02">660</text></g></g>
<g><g><g><use href="#m28702d7c6e" x="765" y="1230.68" style="fill: #111111; stroke: #111111; stroke-width: 0.73"/></g></g>
<g><text style="font-size: 7.28px; text-anchor: end; fill: #111111; stroke: #111111; stroke-width: 0.15" x="759.9" y="1233.44">680</text></g></g>
<g><g><g><use href="#m28702d7c6e" x="765" y="1202.1" style="fill: #111111; stroke: #111111; stroke-width: 0.73"/></g></g>
<g><text style="font-size: 7.28px; text-anchor: end; fill: #111111; stroke: #111111; stroke-width: 0.15" x="759.9" y="1204.87">700</text></g></g>
<g><text style="font-size: 7.28px; text-anchor: middle; fill: #111111; stroke: #111111; stroke-width: 0.15" x="741.58" y="1323.55" transform="rotate(-90 741.58 1323.55)">Independent Variable 2 (X2)</text></g></g>
<g><path d="M 765 1445 L 765 1202.1" style="fill: none; stroke: #111111; stroke-width: 0.73; stroke-linejoin: miter; stroke-linecap: square"/></g>
<g><path d="M 1026.7 1445 L 1026.7 1202.1" style="fill: none; stroke: #111111; stroke-width: 0.73; stroke-linejoin: miter; stroke-linecap: square"/></g>
<g><path d="M 765 1445 L 1026.7 1445" style="fill: none; stroke: #111111; stroke-width: 0.73; stroke-linejoin: miter; stroke-linecap: square"/></g>
<g><path d="M 765 1202.1 L 1026.7 1202.1" style="fill: none; stroke: #111111; stroke-width: 0.73; stroke-linejoin: miter; stroke-linecap: square"/></g>
<g><text style="font-size: 8.74px; text-anchor: middle; fill: #111111; stroke: #111111; stroke-width: 0.15" x="895.85" y="1197.73">Contour Plot of Predicted Y with respect to X1 and X2</text></g></g>
<g><g><path d="M 1042.4 1445 L 1055.1 1445 L 1055.1 1202.1 L 1042.4 1202.1 z" style="fill: #ffffff"/></g>
<g><path d="M 1042.4 1445 L 1055.1 1445 L 1055.1 1432.22 L 1042.4 1432.22 L 1042.4 1445" clip-path="url(#pf51bc879b7)" style="fill: #152e58; stroke: #152e58; stroke-width: 0.73"/>
<path d="M 1042.4 1432.22 L 1055.1 1432.22 L 1055.1 1419.43 L 1042.4 1419.43 L 1042.4 1432.22" clip-path="url(#pf51bc879b7)" style="fill: #113670; stroke: #113670; stroke-width: 0.73"/>
<path d="M 1042.4 1419.43 L 1055.1 1419.43 L 1055.1 1406.65 L 1042.4 1406.65 L 1042.4 1419.43" clip-path="url(#pf51bc879b7)" style="fill: #283d6f; stroke: #283d6f; stroke-width: 0.73"/>
<path d="M 1042.4 1406.65 L 1055.1 1406.65 L 1055.1 1393.86 L 1042.4 1393.86 L 1042.4 1406.65" clip-path="url(#pf51bc879b7)" style="fill: #39456d; stroke: #39456d; stroke-width: 0.73"/>
<path d="M 1042.4 1393.86 L 1055.1 1393.86 L 1055.1 1381.08 L 1042.4 1381.08 L 1042.4 1393.86" clip-path="url(#pf51bc879b7)" style="fill: #434d6c; stroke: #434d6c; stroke-width: 0.73"/>
<path d="M 1042.4 1381.08 L 1055.1 1381.08 L 1055.1 1368.29 L 1042.4 1368.29 L 1042.4 1381.08" clip-path="url(#pf51bc879b7)" style="fill: #4e566c; stroke: #4e566c; stroke-width: 0.73"/>
<path d="M 1042.4 1368.29 L 1055.1 1368.29 L 1055.1 1355.51 L 1042.4 1355.51 L 1042.4 1368.29" clip-path="url(#pf51bc879b7)" style="fill: #595e6e; stroke: #595e6e; stroke-width: 0.73"/>
<path d="M 1042.4 1355.51 L 1055.1 1355.51 L 1055.1 1342.73 L 1042.4 1342.73 L 1042.4 1355.51" clip-path="url(#pf51bc879b7)" style="fill: #656870; stroke: #656870; stroke-width: 0.73"/>
<path d="M 1042.4 1342.73 L 1055.1 1342.73 L 1055.1 1329.94 L 1042.4 1329.94 L 1042.4 1342.73" clip-path="url(#pf51bc879b7)" style="fill: #707174; stroke: #707174; stroke-width: 0.73"/>
<path d="M 1042.4 1329.94 L 1055.1 1329.94 L 1055.1 1317.16 L 1042.4 1317.16 L 1042.4 1329.94" clip-path="url(#pf51bc879b7)" style="fill: #7d7c78; stroke: #7d7c78; stroke-width: 0.73"/>
<path d="M 1042.4 1317.16 L 1055.1 1317.16 L 1055.1 1304.37 L 1042.4 1304.37 L 1042.4 1317.16" clip-path="url(#pf51bc879b7)" style="fill: #898679; stroke: #898679; stroke-width: 0.73"/>
<path d="M 1042.4 1304.37 L 1055.1 1304.37 L 1055.1 1291.59 L 1042.4 1291.59 L 1042.4 1304.37" clip-path="url(#pf51bc879b7)" style="fill: #958f79; stroke: #958f79; stroke-width: 0.73"/>
<path d="M 1042.4 1291.59 L 1055.1 1291.59 L 1055.1 1278.81 L 1042.4 1278.81 L 1042.4 1291.59" clip-path="url(#pf51bc879b7)" style="fill: #a19a79; stroke: #a19a79; stroke-width: 0.73"/>
<path d="M 1042.4 1278.81 L 1055.1 1278.81 L 1055.1 1266.02 L 1042.4 1266.02 L 1042.4 1278.81" clip-path="url(#pf51bc879b7)" style="fill: #ada477; stroke: #ada477; stroke-width: 0.73"/>
<path d="M 1042.4 1266.02 L 1055.1 1266.02 L 1055.1 1253.24 L 1042.4 1253.24 L 1042.4 1266.02" clip-path="url(#pf51bc879b7)" style="fill: #bab173; stroke: #bab173; stroke-width: 0.73"/>
<path d="M 1042.4 1253.24 L 1055.1 1253.24 L 1055.1 1240.45 L 1042.4 1240.45 L 1042.4 1253.24" clip-path="url(#pf51bc879b7)" style="fill: #c6bc6e; stroke: #c6bc6e; stroke-width: 0.73"/>
<path d="M 1042.4 1240.45 L 1055.1 1240.45 L 1055.1 1227.67 L 1042.4 1227.67 L 1042.4 1240.45" clip-path="url(#pf51bc879b7)" style="fill: #d3c866; stroke: #d3c866; stroke-width: 0.73"/>
<path d="M 1042.4 1227.67 L 1055.1 1227.67 L 1055.1 1214.88 L 1042.4 1214.88 L 1042.4 1227.67" clip-path="url(#pf51bc879b7)" style="fill: #dfd45b; stroke: #dfd45b; stroke-width: 0.73"/>
<path d="M 1042.4 1214.88 L 1055.1 1214.88 L 1055.1 1202.1 L 1042.4 1202.1 L 1042.4 1214.88" clip-path="url(#pf51bc879b7)" style="fill: #ece149; stroke: #ece149; stroke-width: 0.73"/></g>
<g id="matplotlib.axis_37"/>
<g id="matplotlib.axis_38">
<g><g><defs>
<path id="m152755891c" d="M 0 0 L 2.55 0" style="stroke: #111111; stroke-width: 0.73"/>
</defs>
<g><use href="#m152755891c" x="1055.1" y="1432.22" style="fill: #111111; stroke: #111111; stroke-width: 0.73"/></g></g>
<g><text style="font-size: 7.28px; text-anchor: start; fill: #111111; stroke: #111111; stroke-width: 0.15" x="1060.2" y="1434.98">−36</text></g></g>
<g><g><g><use href="#m152755891c" x="1055.1" y="1406.65" style="fill: #111111; stroke: #111111; stroke-width: 0.73"/></g></g>
<g><text style="font-size: 7.28px; text-anchor: start; fill: #111111; stroke: #111111; stroke-width: 0.15" x="1060.2" y="1409.41">−24</text></g></g>
<g><g><g><use href="#m152755891c" x="1055.1" y="1381.08" style="fill: #111111; stroke: #111111; stroke-width: 0.73"/></g></g>
<g><text style="font-size: 7.28px; text-anchor: start; fill: #111111; stroke: #111111; stroke-width: 0.15" x="1060.2" y="1383.84">−12</text></g></g>
<g><g><g><use href="#m152755891c" x="1055.1" y="1355.51" style="fill: #111111; stroke: #111111; stroke-width: 0.73"/></g></g>
<g><text style="font-size: 7.28px; text-anchor: start; fill: #111111; stroke: #111111; stroke-width: 0.15" x="1060.2" y="1358.28">0</text></g></g>
<g><g><g><use href="#m152755891c" x="1055.1" y="1329.94" style="fill: #111111; stroke: #111111; stroke-width: 0.73"/></g></g>
<g><text style="font-size: 7.28px; text-anchor: start; fill: #111111; stroke: #111111; stroke-width: 0.15" x="1060.2" y="1332.71">12</text></g></g>
<g><g><g><use href="#m152755891c" x="1055.1" y="1304.37" style="fill: #111111; stroke: #111111; stroke-width: 0.73"/></g></g>
<g><text style="font-size: 7.28px; text-anchor: start; fill: #111111; stroke: #111111; stroke-width: 0.15" x="1060.2" y="1307.14">24</text></g></g>
<g><g><g><use href="#m152755891c" x="1055.1" y="1278.81" style="fill: #111111; stroke: #111111; stroke-width: 0.73"/></g></g>
<g><text style="font-size: 7.28px; text-anchor: start; fill: #111111; stroke: #111111; stroke-width: 0.15" x="1060.2" y="1281.57">36</text></g></g>
<g><g><g><use href="#m152755891c" x="1055.1" y="1253.24" style="fill: #111111; stroke: #111111; stroke-width: 0.73"/></g></g>
<g><text style="font-size: 7.28px; text-anchor: start; fill: #111111; stroke: #111111; stroke-width: 0.15" x="1060.2" y="1256">48</text></g></g>
<g><g><g><use href="#m152755891c" x="1055.1" y="1227.67" style="fill: #111111; stroke: #111111; stroke-width: 0.73"/></g></g>
<g><text style="font-size: 7.28px; text-anchor: start; fill: #111111; stroke: #111111; stroke-width: 0.15" x="1060.2" y="1230.43">60</text></g></g>
<g><g><g><use href="#m152755891c" x="1055.1" y="1202.1" style="fill: #111111; stroke: #111111; stroke-width: 0.73"/></g></g>
<g><text style="font-size: 7.28px; text-anchor: start; fill: #111111; stroke: #111111; stroke-width: 0.15" x="1060.2" y="1204.87">72</text></g></g>
<g><text style="font-size: 7.28px; text-anchor: middle; fill: #111111; stroke: #111111; stroke-width: 0.15" x="1084" y="1323.55" transform="rotate(-90 1084 1323.55)">Predicted Y Value</text></g></g>
<g id="LineCollection_5"/>
<g><path d="M 1042.4 1445 L 1048.75 1445 L 1055.1 1445 L 1055.1 1202.1 L 1048.75 1202.1 L 1042.4 1202.1 L 1042.4 1445 z" style="fill: none; stroke: #111111; stroke-width: 0.73; stroke-linejoin: miter; stroke-linecap: square"/></g></g>
<g><path d="M 399.6 636.5 L 684.2 636.5 L 684.2 351.9 L 399.6 351.9 L 399.6 636.5 z" style="fill: none; opacity: 0"/></g>
<g><g><path d="M 421.09 566.33 L 515.07 487.55 L 513.77 373.93 L 415.29 445.8" style="fill: #f2f2f2; opacity: 0.5; stroke: #f2f2f2; stroke-width: 0.44; stroke-linejoin: miter"/></g></g>
<g><g><path d="M 515.07 487.55 L 665.88 531.38 L 671.27 413.85 L 513.77 373.93" style="fill: #e6e6e6; opacity: 0.5; stroke: #e6e6e6; stroke-width: 0.44; stroke-linejoin: miter"/></g></g>
<g><g><path d="M 421.09 566.33 L 580.96 618.54 L 665.88 531.38 L 515.07 487.55" style="fill: #ececec; opacity: 0.5; stroke: #ececec; stroke-width: 0.44; stroke-linejoin: miter"/></g></g>
<g><g><path d="M 439.12 572.22 L 532.15 492.51 L 531.57 378.45" style="fill: none; stroke: #a4a4a4; stroke-width: 0.73"/>
<path d="M 460.2 579.1 L 552.1 498.31 L 552.37 383.72" style="fill: none; stroke: #a4a4a4; stroke-width: 0.73"/>
<path d="M 481.59 586.09 L 572.3 504.18 L 573.45 389.06" style="fill: none; stroke: #a4a4a4; stroke-width: 0.73"/>
<path d="M 503.28 593.17 L 592.77 510.13 L 594.83 394.48" style="fill: none; stroke: #a4a4a4; stroke-width: 0.73"/>
<path d="M 525.28 600.36 L 613.52 516.16 L 616.5 399.97" style="fill: none; stroke: #a4a4a4; stroke-width: 0.73"/>
<path d="M 547.61 607.65 L 634.54 522.27 L 638.48 405.54" style="fill: none; stroke: #a4a4a4; stroke-width: 0.73"/>
<path d="M 570.27 615.05 L 655.84 528.46 L 660.76 411.19" style="fill: none; stroke: #a4a4a4; stroke-width: 0.73"/></g></g>
<g><g><path d="M 419.36 442.83 L 424.96 563.08 L 584.47 614.93" style="fill: none; stroke: #a4a4a4; stroke-width: 0.73"/>
<path d="M 432.92 432.93 L 437.86 552.27 L 596.17 602.93" style="fill: none; stroke: #a4a4a4; stroke-width: 0.73"/>
<path d="M 446.16 423.27 L 450.48 541.69 L 607.59 591.2" style="fill: none; stroke: #a4a4a4; stroke-width: 0.73"/>
<path d="M 459.1 413.83 L 462.81 531.35 L 618.75 579.75" style="fill: none; stroke: #a4a4a4; stroke-width: 0.73"/>
<path d="M 471.74 404.6 L 474.88 521.24 L 629.65 568.56" style="fill: none; stroke: #a4a4a4; stroke-width: 0.73"/>
<path d="M 484.1 395.58 L 486.69 511.34 L 640.31 557.63" style="fill: none; stroke: #a4a4a4; stroke-width: 0.73"/>
<path d="M 496.18 386.76 L 498.24 501.66 L 650.73 546.94" style="fill: none; stroke: #a4a4a4; stroke-width: 0.73"/>
<path d="M 508 378.14 L 509.55 492.18 L 660.92 536.48" style="fill: none; stroke: #a4a4a4; stroke-width: 0.73"/></g></g>
<g><g><path d="M 666.17 525.18 L 515 481.54 L 420.78 559.97" style="fill: none; stroke: #a4a4a4; stroke-width: 0.73"/>
<path d="M 666.86 510 L 514.84 466.84 L 420.03 544.43" style="fill: none; stroke: #a4a4a4; stroke-width: 0.73"/>
<path d="M 667.57 494.64 L 514.66 451.98 L 419.28 528.69" style="fill: none; stroke: #a4a4a4; stroke-width: 0.73"/>
<path d="M 668.28 479.1 L 514.49 436.95 L 418.51 512.77" style="fill: none; stroke: #a4a4a4; stroke-width: 0.73"/>
<path d="M 669 463.39 L 514.32 421.76 L 417.73 496.64" style="fill: none; stroke: #a4a4a4; stroke-width: 0.73"/>
<path d="M 669.73 447.48 L 514.14 406.39 L 416.95 480.33" style="fill: none; stroke: #a4a4a4; stroke-width: 0.73"/>
<path d="M 670.46 431.39 L 513.96 390.85 L 416.15 463.81" style="fill: none; stroke: #a4a4a4; stroke-width: 0.73"/></g></g>
<g><g><path d="M 421.09 566.33 L 580.96 618.54" style="fill: none; stroke: #111111; stroke-width: 0.59; stroke-linecap: square"/></g>
<g><g><path d="M 439.93 571.52 L 437.5 573.61" style="fill: none; stroke: #111111; stroke-width: 0.59; stroke-linecap: square"/></g>
<g><text style="font-size: 7.35px; text-anchor: middle; fill: #111111; stroke: #111111; stroke-width: 0.15" x="432.62" y="591.43">12.5</text></g></g>
<g><g><path d="M 461 578.4 L 458.6 580.51" style="fill: none; stroke: #111111; stroke-width: 0.59; stroke-linecap: square"/></g>
<g><text style="font-size: 7.35px; text-anchor: middle; fill: #111111; stroke: #111111; stroke-width: 0.15" x="453.72" y="598.44">13.0</text></g></g>
<g><g><path d="M 482.38 585.37 L 480 587.52" style="fill: none; stroke: #111111; stroke-width: 0.59; stroke-linecap: square"/></g>
<g><text style="font-size: 7.35px; text-anchor: middle; fill: #111111; stroke: #111111; stroke-width: 0.15" x="475.12" y="605.54">13.5</text></g></g>
<g><g><path d="M 504.06 592.45 L 501.71 594.62" style="fill: none; stroke: #111111; stroke-width: 0.59; stroke-linecap: square"/></g>
<g><text style="font-size: 7.35px; text-anchor: middle; fill: #111111; stroke: #111111; stroke-width: 0.15" x="496.83" y="612.75">14.0</text></g></g>
<g><g><path d="M 526.06 599.62 L 523.74 601.83" style="fill: none; stroke: #111111; stroke-width: 0.59; stroke-linecap: square"/></g>
<g><text style="font-size: 7.35px; text-anchor: middle; fill: #111111; stroke: #111111; stroke-width: 0.15" x="518.86" y="620.06">14.5</text></g></g>
<g><g><path d="M 548.37 606.9 L 546.09 609.14" style="fill: none; stroke: #111111; stroke-width: 0.59; stroke-linecap: square"/></g>
<g><text style="font-size: 7.35px; text-anchor: middle; fill: #111111; stroke: #111111; stroke-width: 0.15" x="541.21" y="627.48">15.0</text></g></g>
<g><g><path d="M 571.02 614.29 L 568.77 616.57" style="fill: none; stroke: #111111; stroke-width: 0.59; stroke-linecap: square"/></g>
<g><text style="font-size: 7.35px; text-anchor: middle; fill: #111111; stroke: #111111; stroke-width: 0.15" x="563.89" y="635.01">15.5</text></g></g>
<g><text style="font-size: 7.35px; text-anchor: middle; fill: #111111; stroke: #111111; stroke-width: 0.15" x="486.34" y="619.53" transform="rotate(-341.91 486.34 619.53)">Independent Variable 1 (X1)</text></g></g>
<g><g><path d="M 665.88 531.38 L 580.96 618.54" style="fill: none; stroke: #111111; stroke-width: 0.59; stroke-linecap: square"/></g>
<g><g><path d="M 583.13 614.5 L 587.16 615.81" style="fill: none; stroke: #111111; stroke-width: 0.59; stroke-linecap: square"/></g>
<g><text style="font-size: 7.35px; text-anchor: middle; fill: #111111; stroke: #111111; stroke-width: 0.15" x="594.74" y="631.23">525</text></g></g>
<g><g><path d="M 594.83 602.5 L 598.84 603.78" style="fill: none; stroke: #111111; stroke-width: 0.59; stroke-linecap: square"/></g>
<g><text style="font-size: 7.35px; text-anchor: middle; fill: #111111; stroke: #111111; stroke-width: 0.15" x="606.32" y="619.09">550</text></g></g>
<g><g><path d="M 606.27 590.79 L 610.24 592.04" style="fill: none; stroke: #111111; stroke-width: 0.59; stroke-linecap: square"/></g>
<g><text style="font-size: 7.35px; text-anchor: middle; fill: #111111; stroke: #111111; stroke-width: 0.15" x="617.63" y="607.24">575</text></g></g>
<g><g><path d="M 617.44 579.35 L 621.38 580.57" style="fill: none; stroke: #111111; stroke-width: 0.59; stroke-linecap: square"/></g>
<g><text style="font-size: 7.35px; text-anchor: middle; fill: #111111; stroke: #111111; stroke-width: 0.15" x="628.68" y="595.66">600</text></g></g>
<g><g><path d="M 628.35 568.17 L 632.26 569.36" style="fill: none; stroke: #111111; stroke-width: 0.59; stroke-linecap: square"/></g>
<g><text style="font-size: 7.35px; text-anchor: middle; fill: #111111; stroke: #111111; stroke-width: 0.15" x="639.48" y="584.35">625</text></g></g>
<g><g><path d="M 639.02 557.24 L 642.9 558.41" style="fill: none; stroke: #111111; stroke-width: 0.59; stroke-linecap: square"/></g>
<g><text style="font-size: 7.35px; text-anchor: middle; fill: #111111; stroke: #111111; stroke-width: 0.15" x="650.03" y="573.29">650</text></g></g>
<g><g><path d="M 649.45 546.56 L 653.29 547.7" style="fill: none; stroke: #111111; stroke-width: 0.59; stroke-linecap: square"/></g>
<g><text style="font-size: 7.35px; text-anchor: middle; fill: #111111; stroke: #111111; stroke-width: 0.15" x="660.34" y="562.48">675</text></g></g>
<g><g><path d="M 659.65 536.11 L 663.46 537.23" style="fill: none; stroke: #111111; stroke-width: 0.59; stroke-linecap: square"/></g>
<g><text style="font-size: 7.35px; text-anchor: middle; fill: #111111; stroke: #111111; stroke-width: 0.15" x="670.43" y="551.91">700</text></g></g>
<g><text style="font-size: 7.35px; text-anchor: middle; fill: #111111; stroke: #111111; stroke-width: 0.15" x="647.67" y="596.13" transform="rotate(-45.74 647.67 596.13)">Independent Variable 2 (X2)</text></g></g>
<g><g><path d="M 665.88 531.38 L 671.27 413.85" style="fill: none; stroke: #111111; stroke-width: 0.59; stroke-linecap: square"/></g>
<g><g><path d="M 664.9 524.81 L 668.71 525.91" style="fill: none; stroke: #111111; stroke-width: 0.59; stroke-linecap: square"/></g>
<g><text style="font-size: 7.35px; text-anchor: middle; fill: #111111; stroke: #111111; stroke-width: 0.15" x="679.63" y="528.85">−15000</text></g></g>
<g><g><path d="M 665.59 509.64 L 669.42 510.72" style="fill: none; stroke: #111111; stroke-width: 0.59; stroke-linecap: square"/></g>
<g><text style="font-size: 7.35px; text-anchor: middle; fill: #111111; stroke: #111111; stroke-width: 0.15" x="680.4" y="513.69">−10000</text></g></g>
<g><g><path d="M 666.28 494.28 L 670.14 495.36" style="fill: none; stroke: #111111; stroke-width: 0.59; stroke-linecap: square"/></g>
<g><text style="font-size: 7.35px; text-anchor: middle; fill: #111111; stroke: #111111; stroke-width: 0.15" x="681.18" y="498.36">−5000</text></g></g>
<g><g><path d="M 666.99 478.75 L 670.87 479.81" style="fill: none; stroke: #111111; stroke-width: 0.59; stroke-linecap: square"/></g>
<g><text style="font-size: 7.35px; text-anchor: middle; fill: #111111; stroke: #111111; stroke-width: 0.15" x="681.97" y="482.84">0</text></g></g>
<g><g><path d="M 667.7 463.04 L 671.6 464.09" style="fill: none; stroke: #111111; stroke-width: 0.59; stroke-linecap: square"/></g>
<g><text style="font-size: 7.35px; text-anchor: middle; fill: #111111; stroke: #111111; stroke-width: 0.15" x="682.76" y="467.15">5000</text></g></g>
<g><g><path d="M 668.42 447.14 L 672.35 448.17" style="fill: none; stroke: #111111; stroke-width: 0.59; stroke-linecap: square"/></g>
<g><text style="font-size: 7.35px; text-anchor: middle; fill: #111111; stroke: #111111; stroke-width: 0.15" x="683.57" y="451.27">10000</text></g></g>
<g><g><path d="M 669.15 431.05 L 673.1 432.07" style="fill: none; stroke: #111111; stroke-width: 0.59; stroke-linecap: square"/></g>
<g><text style="font-size: 7.35px; text-anchor: middle; fill: #111111; stroke: #111111; stroke-width: 0.15" x="684.39" y="435.2">15000</text></g></g></g>
<g><g><defs>
<path id="C0_0_483770eff7" d="M 0 2.28 C 0.6 2.28 1.18 2.04 1.61 1.61 C 2.04 1.18 2.28 0.6 2.28 -0 C 2.28 -0.6 2.04 -1.18 1.61 -1.61 C 1.18 -2.04 0.6 -2.28 0 -2.28 C -0.6 -2.28 -1.18 -2.04 -1.61 -1.61 C -2.04 -1.18 -2.28 -0.6 -2.28 0 C -2.28 0.6 -2.04 1.18 -1.61 1.61 C -1.18 2.04 -0.6 2.28 0 2.28 z"/>
</defs>
<g clip-path="url(#peca098c1ae)">
<use href="#C0_0_483770eff7" x="631.11" y="475.05" style="fill: #0000ff; fill-opacity: 0.3"/></g>
<g clip-path="url(#peca098c1ae)">
<use href="#C0_0_483770eff7" x="653.23" y="473.95" style="fill: #0000ff; fill-opacity: 0.45"/></g>
<g clip-path="url(#peca098c1ae)">
<use href="#C0_0_483770eff7" x="653.35" y="470.8" style="fill: #0000ff; fill-opacity: 0.47"/></g>
<g clip-path="url(#peca098c1ae)">
<use href="#C0_0_483770eff7" x="588.01" y="472.09" style="fill: #0000ff; fill-opacity: 0.64"/></g>
<g clip-path="url(#peca098c1ae)">
<use href="#C0_0_483770eff7" x="521.41" y="496.72" style="fill: #0000ff; fill-opacity: 0.68"/></g>
<g clip-path="url(#peca098c1ae)">
<use href="#C0_0_483770eff7" x="521.41" y="496.66" style="fill: #0000ff; fill-opacity: 0.68"/></g>
<g clip-path="url(#peca098c1ae)">
<use href="#C0_0_483770eff7" x="434.97" y="510.43" style="fill: #0000ff; fill-opacity: 0.93"/></g>
<g clip-path="url(#peca098c1ae)">
<use href="#C0_0_483770eff7" x="447.72" y="514.4" style="fill: #0000ff"/></g></g>
<g><text style="font-size: 8.82px; text-anchor: middle; fill: #111111; stroke: #111111; stroke-width: 0.15" x="541.9" y="347.49">3D Scatter Plot with Fitted Plane (PLS Regression)</text></g>
<g><path d="M 435.03 511.83 L 577.57 493.26 L 653.4 469.48 L 518.69 487.89 z" clip-path="url(#peca098c1ae)" style="fill: #c98200; fill-opacity: 0.5"/></g>
<g><g><path d="M 625.68 368.57 L 679.05 368.57 Q 680.52 368.57 680.52 367.1 L 680.52 357.05 Q 680.52 355.57 679.05 355.57 L 625.68 355.57 Q 624.21 355.57 624.21 357.05 L 624.21 367.1 Q 624.21 368.57 625.68 368.57 z" style="fill: #ffffff; opacity: 0.8; stroke: #cccccc; stroke-width: 0.73; stroke-linejoin: miter"/></g>
<g><defs>
<path id="m2e65d9a366" d="M 0 2.28 C 0.6 2.28 1.18 2.04 1.61 1.61 C 2.04 1.18 2.28 0.6 2.28 0 C 2.28 -0.6 2.04 -1.18 1.61 -1.61 C 1.18 -2.04 0.6 -2.28 0 -2.28 C -0.6 -2.28 -1.18 -2.04 -1.61 -1.61 C -2.04 -1.18 -2.28 -0.6 -2.28 0 C -2.28 0.6 -2.04 1.18 -1.61 1.61 C -1.18 2.04 -0.6 2.28 0 2.28 z"/>
</defs>
<g><use href="#m2e65d9a366" x="634.5" y="362.17" style="fill: #0000ff"/></g></g>
<g><text style="font-size: 7.35px; text-anchor: start; fill: #111111; stroke: #111111; stroke-width: 0.15" x="647.73" y="364.1">Actual Y</text></g></g></g>
<g><path d="M 395.4 1466.7 L 680.7 1466.7 L 680.7 1181.4 L 395.4 1181.4 L 395.4 1466.7 z" style="fill: none; opacity: 0"/></g>
<g><g><path d="M 416.94 1396.35 L 511.16 1317.38 L 509.85 1203.49 L 411.12 1275.53" style="fill: #f2f2f2; opacity: 0.5; stroke: #f2f2f2; stroke-width: 0.44; stroke-linejoin: miter"/></g></g>
<g><g><path d="M 511.16 1317.38 L 662.34 1361.32 L 667.73 1243.51 L 509.85 1203.49" style="fill: #e6e6e6; opacity: 0.5; stroke: #e6e6e6; stroke-width: 0.44; stroke-linejoin: miter"/></g></g>
<g><g><path d="M 416.94 1396.35 L 577.2 1448.7 L 662.34 1361.32 L 511.16 1317.38" style="fill: #ececec; opacity: 0.5; stroke: #ececec; stroke-width: 0.44; stroke-linejoin: miter"/></g></g>
<g><g><path d="M 435.02 1402.26 L 528.28 1322.36 L 527.69 1208.01" style="fill: none; stroke: #a4a4a4; stroke-width: 0.73"/>
<path d="M 456.15 1409.16 L 548.27 1328.17 L 548.55 1213.3" style="fill: none; stroke: #a4a4a4; stroke-width: 0.73"/>
<path d="M 477.59 1416.16 L 568.53 1334.06 L 569.68 1218.65" style="fill: none; stroke: #a4a4a4; stroke-width: 0.73"/>
<path d="M 499.33 1423.26 L 589.05 1340.02 L 591.11 1224.09" style="fill: none; stroke: #a4a4a4; stroke-width: 0.73"/>
<path d="M 521.39 1430.47 L 609.84 1346.07 L 612.84 1229.59" style="fill: none; stroke: #a4a4a4; stroke-width: 0.73"/>
<path d="M 543.78 1437.78 L 630.92 1352.19 L 634.86 1235.18" style="fill: none; stroke: #a4a4a4; stroke-width: 0.73"/>
<path d="M 566.49 1445.2 L 652.27 1358.4 L 657.2 1240.84" style="fill: none; stroke: #a4a4a4; stroke-width: 0.73"/></g></g>
<g><g><path d="M 415.21 1272.55 L 420.82 1393.1 L 580.73 1445.08" style="fill: none; stroke: #a4a4a4; stroke-width: 0.73"/>
<path d="M 428.8 1262.63 L 433.76 1382.26 L 592.45 1433.05" style="fill: none; stroke: #a4a4a4; stroke-width: 0.73"/>
<path d="M 442.07 1252.95 L 446.4 1371.66 L 603.9 1421.29" style="fill: none; stroke: #a4a4a4; stroke-width: 0.73"/>
<path d="M 455.04 1243.48 L 458.77 1361.3 L 615.09 1409.81" style="fill: none; stroke: #a4a4a4; stroke-width: 0.73"/>
<path d="M 467.72 1234.23 L 470.86 1351.16 L 626.02 1398.6" style="fill: none; stroke: #a4a4a4; stroke-width: 0.73"/>
<path d="M 480.11 1225.19 L 482.7 1341.24 L 636.7 1387.63" style="fill: none; stroke: #a4a4a4; stroke-width: 0.73"/>
<path d="M 492.22 1216.35 L 494.28 1331.53 L 647.15 1376.92" style="fill: none; stroke: #a4a4a4; stroke-width: 0.73"/>
<path d="M 504.07 1207.7 L 505.62 1322.02 L 657.36 1366.43" style="fill: none; stroke: #a4a4a4; stroke-width: 0.73"/></g></g>
<g><g><path d="M 662.52 1357.37 L 511.11 1313.55 L 416.75 1392.31" style="fill: none; stroke: #a4a4a4; stroke-width: 0.73"/>
<path d="M 663.35 1339.25 L 510.91 1296.01 L 415.85 1373.75" style="fill: none; stroke: #a4a4a4; stroke-width: 0.73"/>
<path d="M 664.19 1320.88 L 510.71 1278.23 L 414.95 1354.92" style="fill: none; stroke: #a4a4a4; stroke-width: 0.73"/>
<path d="M 665.04 1302.25 L 510.5 1260.22 L 414.03 1335.83" style="fill: none; stroke: #a4a4a4; stroke-width: 0.73"/>
<path d="M 665.91 1283.36 L 510.29 1241.96 L 413.09 1316.45" style="fill: none; stroke: #a4a4a4; stroke-width: 0.73"/>
<path d="M 666.79 1264.21 L 510.08 1223.46 L 412.15 1296.79" style="fill: none; stroke: #a4a4a4; stroke-width: 0.73"/></g></g>
<g><g><path d="M 416.94 1396.35 L 577.2 1448.7" style="fill: none; stroke: #111111; stroke-width: 0.59; stroke-linecap: square"/></g>
<g><g><path d="M 435.83 1401.56 L 433.39 1403.65" style="fill: none; stroke: #111111; stroke-width: 0.59; stroke-linecap: square"/></g>
<g><text style="font-size: 7.34px; text-anchor: middle; fill: #111111; stroke: #111111; stroke-width: 0.15" x="428.52" y="1421.45">12.5</text></g></g>
<g><g><path d="M 456.96 1408.45 L 454.54 1410.58" style="fill: none; stroke: #111111; stroke-width: 0.59; stroke-linecap: square"/></g>
<g><text style="font-size: 7.34px; text-anchor: middle; fill: #111111; stroke: #111111; stroke-width: 0.15" x="449.67" y="1428.47">13.0</text></g></g>
<g><g><path d="M 478.38 1415.45 L 476 1417.6" style="fill: none; stroke: #111111; stroke-width: 0.59; stroke-linecap: square"/></g>
<g><text style="font-size: 7.34px; text-anchor: middle; fill: #111111; stroke: #111111; stroke-width: 0.15" x="471.13" y="1435.59">13.5</text></g></g>
<g><g><path d="M 500.12 1422.54 L 497.76 1424.72" style="fill: none; stroke: #111111; stroke-width: 0.59; stroke-linecap: square"/></g>
<g><text style="font-size: 7.34px; text-anchor: middle; fill: #111111; stroke: #111111; stroke-width: 0.15" x="492.89" y="1442.82">14.0</text></g></g>
<g><g><path d="M 522.17 1429.73 L 519.85 1431.95" style="fill: none; stroke: #111111; stroke-width: 0.59; stroke-linecap: square"/></g>
<g><text style="font-size: 7.34px; text-anchor: middle; fill: #111111; stroke: #111111; stroke-width: 0.15" x="514.98" y="1450.15">14.5</text></g></g>
<g><g><path d="M 544.54 1437.03 L 542.25 1439.28" style="fill: none; stroke: #111111; stroke-width: 0.59; stroke-linecap: square"/></g>
<g><text style="font-size: 7.34px; text-anchor: middle; fill: #111111; stroke: #111111; stroke-width: 0.15" x="537.38" y="1457.58">15.0</text></g></g>
<g><g><path d="M 567.24 1444.44 L 564.99 1446.72" style="fill: none; stroke: #111111; stroke-width: 0.59; stroke-linecap: square"/></g>
<g><text style="font-size: 7.34px; text-anchor: middle; fill: #111111; stroke: #111111; stroke-width: 0.15" x="560.12" y="1465.13">15.5</text></g></g>
<g><text style="font-size: 7.34px; text-anchor: middle; fill: #111111; stroke: #111111; stroke-width: 0.15" x="482.4" y="1449.58" transform="rotate(-341.91 482.4 1449.58)">Independent Variable 1 (X1)</text></g></g>
<g><g><path d="M 662.34 1361.32 L 577.2 1448.7" style="fill: none; stroke: #111111; stroke-width: 0.59; stroke-linecap: square"/></g>
<g><g><path d="M 579.38 1444.64 L 583.42 1445.96" style="fill: none; stroke: #111111; stroke-width: 0.59; stroke-linecap: square"/></g>
<g><text style="font-size: 7.34px; text-anchor: middle; fill: #111111; stroke: #111111; stroke-width: 0.15" x="590.99" y="1461.35">525</text></g></g>
<g><g><path d="M 591.12 1432.62 L 595.13 1433.9" style="fill: none; stroke: #111111; stroke-width: 0.59; stroke-linecap: square"/></g>
<g><text style="font-size: 7.34px; text-anchor: middle; fill: #111111; stroke: #111111; stroke-width: 0.15" x="602.6" y="1449.19">550</text></g></g>
<g><g><path d="M 602.58 1420.88 L 606.56 1422.13" style="fill: none; stroke: #111111; stroke-width: 0.59; stroke-linecap: square"/></g>
<g><text style="font-size: 7.34px; text-anchor: middle; fill: #111111; stroke: #111111; stroke-width: 0.15" x="613.93" y="1437.3">575</text></g></g>
<g><g><path d="M 613.77 1409.41 L 617.72 1410.63" style="fill: none; stroke: #111111; stroke-width: 0.59; stroke-linecap: square"/></g>
<g><text style="font-size: 7.34px; text-anchor: middle; fill: #111111; stroke: #111111; stroke-width: 0.15" x="625.01" y="1425.7">600</text></g></g>
<g><g><path d="M 624.72 1398.2 L 628.63 1399.4" style="fill: none; stroke: #111111; stroke-width: 0.59; stroke-linecap: square"/></g>
<g><text style="font-size: 7.34px; text-anchor: middle; fill: #111111; stroke: #111111; stroke-width: 0.15" x="635.83" y="1414.36">625</text></g></g>
<g><g><path d="M 635.41 1387.24 L 639.29 1388.41" style="fill: none; stroke: #111111; stroke-width: 0.59; stroke-linecap: square"/></g>
<g><text style="font-size: 7.34px; text-anchor: middle; fill: #111111; stroke: #111111; stroke-width: 0.15" x="646.41" y="1403.28">650</text></g></g>
<g><g><path d="M 645.86 1376.53 L 649.72 1377.68" style="fill: none; stroke: #111111; stroke-width: 0.59; stroke-linecap: square"/></g>
<g><text style="font-size: 7.34px; text-anchor: middle; fill: #111111; stroke: #111111; stroke-width: 0.15" x="656.75" y="1392.44">675</text></g></g>
<g><g><path d="M 656.09 1366.06 L 659.91 1367.18" style="fill: none; stroke: #111111; stroke-width: 0.59; stroke-linecap: square"/></g>
<g><text style="font-size: 7.34px; text-anchor: middle; fill: #111111; stroke: #111111; stroke-width: 0.15" x="666.86" y="1381.85">700</text></g></g>
<g><text style="font-size: 7.34px; text-anchor: middle; fill: #111111; stroke: #111111; stroke-width: 0.15" x="644" y="1426.14" transform="rotate(-45.74 644 1426.14)">Independent Variable 2 (X2)</text></g></g>
<g><g><path d="M 662.34 1361.32 L 667.73 1243.51" style="fill: none; stroke: #111111; stroke-width: 0.59; stroke-linecap: square"/></g>
<g><g><path d="M 661.25 1357 L 665.07 1358.11" style="fill: none; stroke: #111111; stroke-width: 0.59; stroke-linecap: square"/></g>
<g><text style="font-size: 7.34px; text-anchor: middle; fill: #111111; stroke: #111111; stroke-width: 0.15" x="675.95" y="1361.04">−40</text></g></g>
<g><g><path d="M 662.07 1338.89 L 665.91 1339.98" style="fill: none; stroke: #111111; stroke-width: 0.59; stroke-linecap: square"/></g>
<g><text style="font-size: 7.34px; text-anchor: middle; fill: #111111; stroke: #111111; stroke-width: 0.15" x="676.87" y="1342.94">−20</text></g></g>
<g><g><path d="M 662.9 1320.52 L 666.77 1321.6" style="fill: none; stroke: #111111; stroke-width: 0.59; stroke-linecap: square"/></g>
<g><text style="font-size: 7.34px; text-anchor: middle; fill: #111111; stroke: #111111; stroke-width: 0.15" x="677.8" y="1324.6">0</text></g></g>
<g><g><path d="M 663.75 1301.9 L 667.64 1302.96" style="fill: none; stroke: #111111; stroke-width: 0.59; stroke-linecap: square"/></g>
<g><text style="font-size: 7.34px; text-anchor: middle; fill: #111111; stroke: #111111; stroke-width: 0.15" x="678.75" y="1306">20</text></g></g>
<g><g><path d="M 664.6 1283.02 L 668.53 1284.06" style="fill: none; stroke: #111111; stroke-width: 0.59; stroke-linecap: square"/></g>
<g><text style="font-size: 7.34px; text-anchor: middle; fill: #111111; stroke: #111111; stroke-width: 0.15" x="679.71" y="1287.14">40</text></g></g>
<g><g><path d="M 665.47 1263.87 L 669.42 1264.89" style="fill: none; stroke: #111111; stroke-width: 0.59; stroke-linecap: square"/></g>
<g><text style="font-size: 7.34px; text-anchor: middle; fill: #111111; stroke: #111111; stroke-width: 0.15" x="680.68" y="1268.01">60</text></g></g></g>
<g><g><defs>
<path id="C1_0_c01b9822a0" d="M 0 2.28 C 0.6 2.28 1.18 2.04 1.61 1.61 C 2.04 1.18 2.28 0.6 2.28 -0 C 2.28 -0.6 2.04 -1.18 1.61 -1.61 C 1.18 -2.04 0.6 -2.28 0 -2.28 C -0.6 -2.28 -1.18 -2.04 -1.61 -1.61 C -2.04 -1.18 -2.28 -0.6 -2.28 0 C -2.28 0.6 -2.04 1.18 -1.61 1.61 C -1.18 2.04 -0.6 2.28 0 2.28 z"/>
</defs>
<g clip-path="url(#p6e7cc7ef3e)">
<use href="#C1_0_c01b9822a0" x="627.6" y="1301.11" style="fill: #0000ff; fill-opacity: 0.3"/></g>
<g clip-path="url(#p6e7cc7ef3e)">
<use href="#C1_0_c01b9822a0" x="627.67" y="1299.05" style="fill: #0000ff; fill-opacity: 0.31"/></g>
<g clip-path="url(#p6e7cc7ef3e)">
<use href="#C1_0_c01b9822a0" x="649.78" y="1300.55" style="fill: #0000ff; fill-opacity: 0.45"/></g>
<g clip-path="url(#p6e7cc7ef3e)">
<use href="#C1_0_c01b9822a0" x="649.8" y="1300.08" style="fill: #0000ff; fill-opacity: 0.45"/></g>
<g clip-path="url(#p6e7cc7ef3e)">
<use href="#C1_0_c01b9822a0" x="517.58" y="1334.02" style="fill: #0000ff; fill-opacity: 0.63"/></g>
<g clip-path="url(#p6e7cc7ef3e)">
<use href="#C1_0_c01b9822a0" x="584.27" y="1302.53" style="fill: #0000ff; fill-opacity: 0.63"/></g>
<g clip-path="url(#p6e7cc7ef3e)">
<use href="#C1_0_c01b9822a0" x="517.49" y="1324.58" style="fill: #0000ff; fill-opacity: 0.69"/></g>
<g clip-path="url(#p6e7cc7ef3e)">
<use href="#C1_0_c01b9822a0" x="431.27" y="1350.31" style="fill: #0000ff; fill-opacity: 0.87"/></g>
<g clip-path="url(#p6e7cc7ef3e)">
<use href="#C1_0_c01b9822a0" x="431.18" y="1347.94" style="fill: #0000ff; fill-opacity: 0.89"/></g>
<g clip-path="url(#p6e7cc7ef3e)">
<use href="#C1_0_c01b9822a0" x="443.74" y="1347.1" style="fill: #0000ff; fill-opacity: 0.99"/></g>
<g clip-path="url(#p6e7cc7ef3e)">
<use href="#C1_0_c01b9822a0" x="443.67" y="1345.19" style="fill: #0000ff"/></g></g>
<g><text style="font-size: 8.81px; text-anchor: middle; fill: #111111; stroke: #111111; stroke-width: 0.15" x="538.05" y="1177">3D Scatter Plot with Fitted Plane (PLS Regression)</text></g>
<g><path d="M 431.2 1348.41 L 573.79 1325.09 L 650.03 1294.34 L 514.78 1317.62 z" clip-path="url(#p6e7cc7ef3e)" style="fill: #c98200; fill-opacity: 0.5"/></g>
<g><g><path d="M 622.26 1198.05 L 675.56 1198.05 Q 677.03 1198.05 677.03 1196.58 L 677.03 1186.54 Q 677.03 1185.07 675.56 1185.07 L 622.26 1185.07 Q 620.8 1185.07 620.8 1186.54 L 620.8 1196.58 Q 620.8 1198.05 622.26 1198.05 z" style="fill: #ffffff; opacity: 0.8; stroke: #cccccc; stroke-width: 0.73; stroke-linejoin: miter"/></g>
<g><defs>
<path id="md24b6733ed" d="M 0 2.28 C 0.6 2.28 1.18 2.04 1.61 1.61 C 2.04 1.18 2.28 0.6 2.28 0 C 2.28 -0.6 2.04 -1.18 1.61 -1.61 C 1.18 -2.04 0.6 -2.28 0 -2.28 C -0.6 -2.28 -1.18 -2.04 -1.61 -1.61 C -2.04 -1.18 -2.28 -0.6 -2.28 0 C -2.28 0.6 -2.04 1.18 -1.61 1.61 C -1.18 2.04 -0.6 2.28 0 2.28 z"/>
</defs>
<g><use href="#md24b6733ed" x="631.07" y="1191.66" style="fill: #0000ff"/></g></g>
<g><text style="font-size: 7.34px; text-anchor: start; fill: #111111; stroke: #111111; stroke-width: 0.15" x="644.28" y="1193.58">Actual Y</text></g></g></g>
<g><path d="M 424.5 2371.1 L 727 2371.1 L 727 2068.6 L 424.5 2068.6 L 424.5 2371.1 z" style="fill: none; opacity: 0"/></g>
<g><g><path d="M 447.34 2296.51 L 547.24 2212.78 L 545.85 2092.02 L 441.17 2168.41" style="fill: #f2f2f2; opacity: 0.5; stroke: #f2f2f2; stroke-width: 0.46; stroke-linejoin: miter"/></g></g>
<g><g><path d="M 547.24 2212.78 L 707.53 2259.37 L 713.25 2134.45 L 545.85 2092.02" style="fill: #e6e6e6; opacity: 0.5; stroke: #e6e6e6; stroke-width: 0.46; stroke-linejoin: miter"/></g></g>
<g><g><path d="M 447.34 2296.51 L 617.26 2352.01 L 707.53 2259.37 L 547.24 2212.78" style="fill: #ececec; opacity: 0.5; stroke: #ececec; stroke-width: 0.46; stroke-linejoin: miter"/></g></g>
<g><g><path d="M 466.51 2302.77 L 565.39 2218.05 L 564.77 2096.82" style="fill: none; stroke: #a4a4a4; stroke-width: 0.77"/>
<path d="M 488.92 2310.09 L 586.59 2224.22 L 586.88 2102.42" style="fill: none; stroke: #a4a4a4; stroke-width: 0.77"/>
<path d="M 511.64 2317.51 L 608.06 2230.46 L 609.29 2108.1" style="fill: none; stroke: #a4a4a4; stroke-width: 0.77"/>
<path d="M 534.7 2325.04 L 629.82 2236.78 L 632.01 2113.86" style="fill: none; stroke: #a4a4a4; stroke-width: 0.77"/>
<path d="M 558.09 2332.68 L 651.87 2243.19 L 655.04 2119.7" style="fill: none; stroke: #a4a4a4; stroke-width: 0.77"/>
<path d="M 581.82 2340.43 L 674.22 2249.69 L 678.4 2125.62" style="fill: none; stroke: #a4a4a4; stroke-width: 0.77"/>
<path d="M 605.9 2348.3 L 696.86 2256.27 L 702.09 2131.62" style="fill: none; stroke: #a4a4a4; stroke-width: 0.77"/></g></g>
<g><g><path d="M 445.5 2165.25 L 451.46 2293.06 L 621 2348.18" style="fill: none; stroke: #a4a4a4; stroke-width: 0.77"/>
<path d="M 459.91 2154.73 L 465.17 2281.57 L 633.43 2335.42" style="fill: none; stroke: #a4a4a4; stroke-width: 0.77"/>
<path d="M 473.99 2144.46 L 478.58 2270.33 L 645.57 2322.96" style="fill: none; stroke: #a4a4a4; stroke-width: 0.77"/>
<path d="M 487.74 2134.42 L 491.69 2259.34 L 657.43 2310.78" style="fill: none; stroke: #a4a4a4; stroke-width: 0.77"/>
<path d="M 501.18 2124.62 L 504.51 2248.59 L 669.02 2298.89" style="fill: none; stroke: #a4a4a4; stroke-width: 0.77"/>
<path d="M 514.31 2115.03 L 517.06 2238.07 L 680.35 2287.27" style="fill: none; stroke: #a4a4a4; stroke-width: 0.77"/>
<path d="M 527.16 2105.66 L 529.34 2227.78 L 691.42 2275.9" style="fill: none; stroke: #a4a4a4; stroke-width: 0.77"/>
<path d="M 539.72 2096.49 L 541.37 2217.7 L 702.25 2264.79" style="fill: none; stroke: #a4a4a4; stroke-width: 0.77"/></g></g>
<g><g><path d="M 707.87 2251.99 L 547.15 2205.63 L 446.98 2288.96" style="fill: none; stroke: #a4a4a4; stroke-width: 0.77"/>
<path d="M 709.03 2226.61 L 546.87 2181.06 L 445.72 2262.96" style="fill: none; stroke: #a4a4a4; stroke-width: 0.77"/>
<path d="M 710.22 2200.76 L 546.58 2156.06 L 444.45 2236.46" style="fill: none; stroke: #a4a4a4; stroke-width: 0.77"/>
<path d="M 711.42 2174.43 L 546.29 2130.61 L 443.15 2209.45" style="fill: none; stroke: #a4a4a4; stroke-width: 0.77"/>
<path d="M 712.65 2147.61 L 545.99 2104.72 L 441.82 2181.92" style="fill: none; stroke: #a4a4a4; stroke-width: 0.77"/></g></g>
<g><g><path d="M 447.34 2296.51 L 617.26 2352.01" style="fill: none; stroke: #111111; stroke-width: 0.62; stroke-linecap: square"/></g>
<g><g><path d="M 467.37 2302.04 L 464.78 2304.25" style="fill: none; stroke: #111111; stroke-width: 0.62; stroke-linecap: square"/></g>
<g><text style="font-size: 7.74px; text-anchor: middle; fill: #111111; stroke: #111111; stroke-width: 0.15" x="459.71" y="2322.9">12.5</text></g></g>
<g><g><path d="M 489.77 2309.34 L 487.21 2311.59" style="fill: none; stroke: #111111; stroke-width: 0.62; stroke-linecap: square"/></g>
<g><text style="font-size: 7.74px; text-anchor: middle; fill: #111111; stroke: #111111; stroke-width: 0.15" x="482.14" y="2330.34">13.0</text></g></g>
<g><g><path d="M 512.48 2316.76 L 509.96 2319.04" style="fill: none; stroke: #111111; stroke-width: 0.62; stroke-linecap: square"/></g>
<g><text style="font-size: 7.74px; text-anchor: middle; fill: #111111; stroke: #111111; stroke-width: 0.15" x="504.88" y="2337.89">13.5</text></g></g>
<g><g><path d="M 535.53 2324.27 L 533.04 2326.59" style="fill: none; stroke: #111111; stroke-width: 0.62; stroke-linecap: square"/></g>
<g><text style="font-size: 7.74px; text-anchor: middle; fill: #111111; stroke: #111111; stroke-width: 0.15" x="527.96" y="2345.55">14.0</text></g></g>
<g><g><path d="M 558.91 2331.9 L 556.45 2334.25" style="fill: none; stroke: #111111; stroke-width: 0.62; stroke-linecap: square"/></g>
<g><text style="font-size: 7.74px; text-anchor: middle; fill: #111111; stroke: #111111; stroke-width: 0.15" x="551.37" y="2353.32">14.5</text></g></g>
<g><g><path d="M 582.63 2339.64 L 580.2 2342.02" style="fill: none; stroke: #111111; stroke-width: 0.62; stroke-linecap: square"/></g>
<g><text style="font-size: 7.74px; text-anchor: middle; fill: #111111; stroke: #111111; stroke-width: 0.15" x="575.13" y="2361.2">15.0</text></g></g>
<g><g><path d="M 606.7 2347.5 L 604.31 2349.91" style="fill: none; stroke: #111111; stroke-width: 0.62; stroke-linecap: square"/></g>
<g><text style="font-size: 7.74px; text-anchor: middle; fill: #111111; stroke: #111111; stroke-width: 0.15" x="599.24" y="2369.2">15.5</text></g></g>
<g><text style="font-size: 7.74px; text-anchor: middle; fill: #111111; stroke: #111111; stroke-width: 0.15" x="516.82" y="2352.79" transform="rotate(-341.91 516.82 2352.79)">Independent Variable 1 (X1)</text></g></g>
<g><g><path d="M 707.53 2259.37 L 617.26 2352.01" style="fill: none; stroke: #111111; stroke-width: 0.62; stroke-linecap: square"/></g>
<g><g><path d="M 619.57 2347.71 L 623.86 2349.11" style="fill: none; stroke: #111111; stroke-width: 0.62; stroke-linecap: square"/></g>
<g><text style="font-size: 7.74px; text-anchor: middle; fill: #111111; stroke: #111111; stroke-width: 0.15" x="631.78" y="2365.29">525</text></g></g>
<g><g><path d="M 632.01 2334.96 L 636.27 2336.32" style="fill: none; stroke: #111111; stroke-width: 0.62; stroke-linecap: square"/></g>
<g><text style="font-size: 7.74px; text-anchor: middle; fill: #111111; stroke: #111111; stroke-width: 0.15" x="644.09" y="2352.39">550</text></g></g>
<g><g><path d="M 644.17 2322.51 L 648.39 2323.84" style="fill: none; stroke: #111111; stroke-width: 0.62; stroke-linecap: square"/></g>
<g><text style="font-size: 7.74px; text-anchor: middle; fill: #111111; stroke: #111111; stroke-width: 0.15" x="656.11" y="2339.8">575</text></g></g>
<g><g><path d="M 656.04 2310.35 L 660.23 2311.65" style="fill: none; stroke: #111111; stroke-width: 0.62; stroke-linecap: square"/></g>
<g><text style="font-size: 7.74px; text-anchor: middle; fill: #111111; stroke: #111111; stroke-width: 0.15" x="667.85" y="2327.49">600</text></g></g>
<g><g><path d="M 667.64 2298.47 L 671.79 2299.74" style="fill: none; stroke: #111111; stroke-width: 0.62; stroke-linecap: square"/></g>
<g><text style="font-size: 7.74px; text-anchor: middle; fill: #111111; stroke: #111111; stroke-width: 0.15" x="679.33" y="2315.47">625</text></g></g>
<g><g><path d="M 678.98 2286.85 L 683.1 2288.09" style="fill: none; stroke: #111111; stroke-width: 0.62; stroke-linecap: square"/></g>
<g><text style="font-size: 7.74px; text-anchor: middle; fill: #111111; stroke: #111111; stroke-width: 0.15" x="690.54" y="2303.72">650</text></g></g>
<g><g><path d="M 690.06 2275.5 L 694.15 2276.71" style="fill: none; stroke: #111111; stroke-width: 0.62; stroke-linecap: square"/></g>
<g><text style="font-size: 7.74px; text-anchor: middle; fill: #111111; stroke: #111111; stroke-width: 0.15" x="701.51" y="2292.23">675</text></g></g>
<g><g><path d="M 700.9 2264.39 L 704.96 2265.58" style="fill: none; stroke: #111111; stroke-width: 0.62; stroke-linecap: square"/></g>
<g><text style="font-size: 7.74px; text-anchor: middle; fill: #111111; stroke: #111111; stroke-width: 0.15" x="712.23" y="2281">700</text></g></g>
<g><text style="font-size: 7.74px; text-anchor: middle; fill: #111111; stroke: #111111; stroke-width: 0.15" x="687.89" y="2327.9" transform="rotate(-45.74 687.89 2327.9)">Independent Variable 2 (X2)</text></g></g>
<g><g><path d="M 707.53 2259.37 L 713.25 2134.45" style="fill: none; stroke: #111111; stroke-width: 0.62; stroke-linecap: square"/></g>
<g><g><path d="M 706.52 2251.61 L 710.57 2252.77" style="fill: none; stroke: #111111; stroke-width: 0.62; stroke-linecap: square"/></g>
<g><text style="font-size: 7.74px; text-anchor: middle; fill: #111111; stroke: #111111; stroke-width: 0.15" x="722.05" y="2255.87">0</text></g></g>
<g><g><path d="M 707.67 2226.23 L 711.76 2227.38" style="fill: none; stroke: #111111; stroke-width: 0.62; stroke-linecap: square"/></g>
<g><text style="font-size: 7.74px; text-anchor: middle; fill: #111111; stroke: #111111; stroke-width: 0.15" x="723.33" y="2230.52">5</text></g></g>
<g><g><path d="M 708.84 2200.38 L 712.97 2201.51" style="fill: none; stroke: #111111; stroke-width: 0.62; stroke-linecap: square"/></g>
<g><text style="font-size: 7.74px; text-anchor: middle; fill: #111111; stroke: #111111; stroke-width: 0.15" x="724.65" y="2204.7">10</text></g></g>
<g><g><path d="M 710.03 2174.06 L 714.2 2175.17" style="fill: none; stroke: #111111; stroke-width: 0.62; stroke-linecap: square"/></g>
<g><text style="font-size: 7.74px; text-anchor: middle; fill: #111111; stroke: #111111; stroke-width: 0.15" x="725.98" y="2178.41">15</text></g></g>
<g><g><path d="M 711.25 2147.25 L 715.46 2148.33" style="fill: none; stroke: #111111; stroke-width: 0.62; stroke-linecap: square"/></g>
<g><text style="font-size: 7.74px; text-anchor: middle; fill: #111111; stroke: #111111; stroke-width: 0.15" x="727.34" y="2151.63">20</text></g></g></g>
<g><g><path d="M 690.13 2241.22 L 692.37 2240.85 L 690.98 2237.97 z" clip-path="url(#p8be2cc9b7b)" style="fill: #4903a0; fill-opacity: 0.6"/>
<path d="M 690.13 2241.22 z" clip-path="url(#p8be2cc9b7b)" style="fill: #46039f; fill-opacity: 0.6"/>
<path d="M 687.34 2235.58 L 688.73 2238.42 L 690.13 2241.22 L 690.98 2237.97 L 689.58 2235.09 L 688.19 2232.21 z" clip-path="url(#p8be2cc9b7b)" style="fill: #5502a4; fill-opacity: 0.6"/>
<path d="M 685.65 2242.01 L 690.13 2241.22 L 688.73 2238.42 L 687.34 2235.58 L 686.49 2238.96 z" clip-path="url(#p8be2cc9b7b)" style="fill: #4c02a1; fill-opacity: 0.6"/>
<path d="M 685.65 2242.01 z" clip-path="url(#p8be2cc9b7b)" style="fill: #44039e; fill-opacity: 0.6"/>
<path d="M 681.15 2242.86 L 685.65 2242.01 L 684.23 2239.53 L 682.83 2236.8 L 681.98 2240.11 z" clip-path="url(#p8be2cc9b7b)" style="fill: #4b03a1; fill-opacity: 0.6"/>
<path d="M 682.83 2236.8 L 684.23 2239.53 L 685.65 2242.01 L 686.49 2238.96 L 687.34 2235.58 L 685.94 2232.74 L 684.54 2229.89 L 683.68 2233.35 z" clip-path="url(#p8be2cc9b7b)" style="fill: #5901a5; fill-opacity: 0.6"/>
<path d="M 681.15 2242.86 z" clip-path="url(#p8be2cc9b7b)" style="fill: #44039e; fill-opacity: 0.6"/>
<path d="M 684.54 2229.89 L 685.94 2232.74 L 687.34 2235.58 L 688.19 2232.21 L 686.79 2229.32 L 685.39 2226.43 z" clip-path="url(#p8be2cc9b7b)" style="fill: #6900a8; fill-opacity: 0.6"/>
<path d="M 676.65 2243.74 L 681.15 2242.86 L 679.73 2240.7 L 678.31 2238.2 L 677.47 2241.3 z" clip-path="url(#p8be2cc9b7b)" style="fill: #4903a0; fill-opacity: 0.6"/>
<path d="M 678.31 2238.2 L 679.73 2240.7 L 681.15 2242.86 L 681.98 2240.11 L 682.83 2236.8 L 681.43 2234.02 L 680.02 2231.24 L 679.17 2234.75 z" clip-path="url(#p8be2cc9b7b)" style="fill: #5601a4; fill-opacity: 0.6"/>
<path d="M 676.65 2243.74 z" clip-path="url(#p8be2cc9b7b)" style="fill: #43039e; fill-opacity: 0.6"/>
<path d="M 680.02 2231.24 L 681.43 2234.02 L 682.83 2236.8 L 683.68 2233.35 L 684.54 2229.89 L 683.14 2227.04 L 681.74 2224.19 L 680.88 2227.72 z" clip-path="url(#p8be2cc9b7b)" style="fill: #6c00a8; fill-opacity: 0.6"/>
<path d="M 673.79 2239.61 L 675.21 2241.91 L 676.65 2243.74 L 677.47 2241.3 L 678.31 2238.2 L 676.9 2235.52 L 675.49 2232.79 L 674.64 2236.31 z" clip-path="url(#p8be2cc9b7b)" style="fill: #5302a3; fill-opacity: 0.6"/>
<path d="M 672.15 2244.66 L 676.65 2243.74 L 675.21 2241.91 L 673.79 2239.61 L 672.96 2242.53 z" clip-path="url(#p8be2cc9b7b)" style="fill: #48039f; fill-opacity: 0.6"/>
<path d="M 681.74 2224.19 L 683.14 2227.04 L 684.54 2229.89 L 685.39 2226.43 L 683.99 2223.54 L 682.59 2220.65 z" clip-path="url(#p8be2cc9b7b)" style="fill: #7d03a8; fill-opacity: 0.6"/>
<path d="M 675.49 2232.79 L 676.9 2235.52 L 678.31 2238.2 L 679.17 2234.75 L 680.02 2231.24 L 678.62 2228.46 L 677.21 2225.67 L 676.35 2229.24 z" clip-path="url(#p8be2cc9b7b)" style="fill: #6900a8; fill-opacity: 0.6"/>
<path d="M 672.15 2244.66 z" clip-path="url(#p8be2cc9b7b)" style="fill: #41049d; fill-opacity: 0.6"/>
<path d="M 669.27 2241.02 L 670.7 2243.15 L 672.15 2244.66 L 672.96 2242.53 L 673.79 2239.61 L 672.37 2237.1 L 670.96 2234.46 L 670.11 2237.88 z" clip-path="url(#p8be2cc9b7b)" style="fill: #5002a2; fill-opacity: 0.6"/>
<path d="M 670.96 2234.46 L 672.37 2237.1 L 673.79 2239.61 L 674.64 2236.31 L 675.49 2232.79 L 674.09 2230.06 L 672.67 2227.32 L 671.82 2230.9 z" clip-path="url(#p8be2cc9b7b)" style="fill: #6400a7; fill-opacity: 0.6"/>
<path d="M 667.64 2245.6 L 669.15 2245.18 L 672.15 2244.66 L 670.7 2243.15 L 669.27 2241.02 L 668.44 2243.79 z" clip-path="url(#p8be2cc9b7b)" style="fill: #44039e; fill-opacity: 0.6"/>
<path d="M 664.74 2242.42 L 666.17 2244.42 L 667.64 2245.6 L 668.44 2243.79 L 669.27 2241.02 L 667.84 2238.65 L 666.43 2236.1 L 665.58 2239.41 z" clip-path="url(#p8be2cc9b7b)" style="fill: #4c02a1; fill-opacity: 0.6"/>
<path d="M 677.21 2225.67 L 678.62 2228.46 L 680.02 2231.24 L 680.88 2227.72 L 681.74 2224.19 L 680.33 2221.34 L 678.93 2218.48 L 678.07 2222.08 z" clip-path="url(#p8be2cc9b7b)" style="fill: #8004a8; fill-opacity: 0.6"/>
<path d="M 666.43 2236.1 L 667.84 2238.65 L 669.27 2241.02 L 670.11 2237.88 L 670.96 2234.46 L 669.55 2231.75 L 668.13 2229.05 L 667.28 2232.61 z" clip-path="url(#p8be2cc9b7b)" style="fill: #6100a7; fill-opacity: 0.6"/>
<path d="M 672.67 2227.32 L 674.09 2230.06 L 675.49 2232.79 L 676.35 2229.24 L 677.21 2225.67 L 675.8 2222.88 L 674.39 2220.09 L 673.53 2223.72 z" clip-path="url(#p8be2cc9b7b)" style="fill: #7b02a8; fill-opacity: 0.6"/>
<path d="M 678.93 2218.48 L 680.33 2221.34 L 681.74 2224.19 L 682.59 2220.65 L 681.19 2217.75 L 679.79 2214.85 z" clip-path="url(#p8be2cc9b7b)" style="fill: #8f0da4; fill-opacity: 0.6"/>
<path d="M 660.21 2243.81 L 661.65 2245.7 L 663.12 2246.55 L 663.91 2245.06 L 664.74 2242.42 L 663.31 2240.15 L 661.89 2237.68 L 661.04 2240.89 z" clip-path="url(#p8be2cc9b7b)" style="fill: #4903a0; fill-opacity: 0.6"/>
<path d="M 661.89 2237.68 L 663.31 2240.15 L 664.74 2242.42 L 665.58 2239.41 L 666.43 2236.1 L 665.01 2233.45 L 663.59 2230.77 L 662.74 2234.28 z" clip-path="url(#p8be2cc9b7b)" style="fill: #5c01a6; fill-opacity: 0.6"/>
<path d="M 663.12 2246.55 L 664.66 2245.26 L 666.9 2245.18 L 667.64 2245.6 L 666.17 2244.42 L 664.74 2242.42 L 663.91 2245.06 z" clip-path="url(#p8be2cc9b7b)" style="fill: #43039e; fill-opacity: 0.6"/>
<path d="M 668.13 2229.05 L 669.55 2231.75 L 670.96 2234.46 L 671.82 2230.9 L 672.67 2227.32 L 671.26 2224.58 L 669.85 2221.84 L 668.99 2225.46 z" clip-path="url(#p8be2cc9b7b)" style="fill: #7701a8; fill-opacity: 0.6"/>
<path d="M 669.15 2245.18 L 667.64 2245.6 L 666.9 2245.18 z" clip-path="url(#p8be2cc9b7b)" style="fill: #43039e; fill-opacity: 0.6"/>
<path d="M 655.68 2245.16 L 657.12 2246.98 L 658.6 2247.51 L 659.38 2246.34 L 660.21 2243.81 L 658.78 2241.61 L 657.35 2239.18 L 656.51 2242.32 z" clip-path="url(#p8be2cc9b7b)" style="fill: #46039f; fill-opacity: 0.6"/>
<path d="M 657.35 2239.18 L 658.78 2241.61 L 660.21 2243.81 L 661.04 2240.89 L 661.89 2237.68 L 660.47 2235.07 L 659.05 2232.39 L 658.2 2235.84 z" clip-path="url(#p8be2cc9b7b)" style="fill: #5901a5; fill-opacity: 0.6"/>
<path d="M 674.39 2220.09 L 675.8 2222.88 L 677.21 2225.67 L 678.07 2222.08 L 678.93 2218.48 L 677.52 2215.62 L 676.12 2212.76 L 675.25 2216.44 z" clip-path="url(#p8be2cc9b7b)" style="fill: #910ea3; fill-opacity: 0.6"/>
<path d="M 663.59 2230.77 L 665.01 2233.45 L 666.43 2236.1 L 667.28 2232.61 L 668.13 2229.05 L 666.72 2226.34 L 665.3 2223.63 L 664.45 2227.22 z" clip-path="url(#p8be2cc9b7b)" style="fill: #7201a8; fill-opacity: 0.6"/>
<path d="M 669.85 2221.84 L 671.26 2224.58 L 672.67 2227.32 L 673.53 2223.72 L 674.39 2220.09 L 672.98 2217.3 L 671.57 2214.5 L 670.71 2218.19 z" clip-path="url(#p8be2cc9b7b)" style="fill: #8d0ba5; fill-opacity: 0.6"/>
<path d="M 658.6 2247.51 L 660.15 2245.6 L 662.4 2245.4 L 663.12 2246.55 L 661.65 2245.7 L 660.21 2243.81 L 659.38 2246.34 z" clip-path="url(#p8be2cc9b7b)" style="fill: #43039e; fill-opacity: 0.6"/>
<path d="M 659.05 2232.39 L 660.47 2235.07 L 661.89 2237.68 L 662.74 2234.28 L 663.59 2230.77 L 662.18 2228.07 L 660.76 2225.37 L 659.9 2228.9 z" clip-path="url(#p8be2cc9b7b)" style="fill: #6f00a8; fill-opacity: 0.6"/>
<path d="M 652.81 2240.58 L 654.24 2243.01 L 655.68 2245.16 L 656.51 2242.32 L 657.35 2239.18 L 655.93 2236.57 L 654.51 2233.89 L 653.66 2237.28 z" clip-path="url(#p8be2cc9b7b)" style="fill: #5601a4; fill-opacity: 0.6"/>
<path d="M 651.14 2246.47 L 652.59 2248.24 L 654.07 2248.47 L 654.85 2247.61 L 655.68 2245.16 L 654.24 2243.01 L 652.81 2240.58 L 651.97 2243.68 z" clip-path="url(#p8be2cc9b7b)" style="fill: #44039e; fill-opacity: 0.6"/>
<path d="M 676.12 2212.76 L 677.52 2215.62 L 678.93 2218.48 L 679.79 2214.85 L 678.39 2211.95 L 676.98 2209.05 z" clip-path="url(#p8be2cc9b7b)" style="fill: #a11b9b; fill-opacity: 0.6"/>
<path d="M 665.3 2223.63 L 666.72 2226.34 L 668.13 2229.05 L 668.99 2225.46 L 669.85 2221.84 L 668.44 2219.1 L 667.02 2216.35 L 666.16 2220.01 z" clip-path="url(#p8be2cc9b7b)" style="fill: #8808a6; fill-opacity: 0.6"/>
<path d="M 654.51 2233.89 L 655.93 2236.57 L 657.35 2239.18 L 658.2 2235.84 L 659.05 2232.39 L 657.63 2229.69 L 656.21 2226.99 L 655.36 2230.46 z" clip-path="url(#p8be2cc9b7b)" style="fill: #6a00a8; fill-opacity: 0.6"/>
<path d="M 664.66 2245.26 L 663.12 2246.55 L 662.4 2245.4 z" clip-path="url(#p8be2cc9b7b)" style="fill: #44039e; fill-opacity: 0.6"/>
<path d="M 648.28 2241.89 L 649.71 2244.33 L 651.14 2246.47 L 651.97 2243.68 L 652.81 2240.58 L 651.39 2237.96 L 649.97 2235.3 L 649.12 2238.62 z" clip-path="url(#p8be2cc9b7b)" style="fill: #5302a3; fill-opacity: 0.6"/>
<path d="M 660.76 2225.37 L 662.18 2228.07 L 663.59 2230.77 L 664.45 2227.22 L 665.3 2223.63 L 663.89 2220.92 L 662.47 2218.18 L 661.61 2221.8 z" clip-path="url(#p8be2cc9b7b)" style="fill: #8405a7; fill-opacity: 0.6"/>
<path d="M 646.6 2247.73 L 648.05 2249.45 L 649.54 2249.42 L 650.32 2248.85 L 651.14 2246.47 L 649.71 2244.33 L 648.28 2241.89 L 647.44 2244.96 z" clip-path="url(#p8be2cc9b7b)" style="fill: #41049d; fill-opacity: 0.6"/>
<path d="M 654.07 2248.47 L 655.63 2246.17 L 657.89 2245.86 L 658.6 2247.51 L 657.12 2246.98 L 655.68 2245.16 L 654.85 2247.61 z" clip-path="url(#p8be2cc9b7b)" style="fill: #41049d; fill-opacity: 0.6"/>
<path d="M 671.57 2214.5 L 672.98 2217.3 L 674.39 2220.09 L 675.25 2216.44 L 676.12 2212.76 L 674.71 2209.89 L 673.3 2207.03 L 672.43 2210.78 z" clip-path="url(#p8be2cc9b7b)" style="fill: #a21d9a; fill-opacity: 0.6"/>
<path d="M 649.97 2235.3 L 651.39 2237.96 L 652.81 2240.58 L 653.66 2237.28 L 654.51 2233.89 L 653.09 2231.21 L 651.67 2228.51 L 650.82 2231.93 z" clip-path="url(#p8be2cc9b7b)" style="fill: #6700a8; fill-opacity: 0.6"/>
<path d="M 656.21 2226.99 L 657.63 2229.69 L 659.05 2232.39 L 659.9 2228.9 L 660.76 2225.37 L 659.34 2222.64 L 657.92 2219.89 L 657.07 2223.47 z" clip-path="url(#p8be2cc9b7b)" style="fill: #8104a7; fill-opacity: 0.6"/>
<path d="M 667.02 2216.35 L 668.44 2219.1 L 669.85 2221.84 L 670.71 2218.19 L 671.57 2214.5 L 670.16 2211.71 L 668.75 2208.91 L 667.88 2212.65 z" clip-path="url(#p8be2cc9b7b)" style="fill: #9e199d; fill-opacity: 0.6"/>
<path d="M 643.74 2243.08 L 645.17 2245.57 L 646.6 2247.73 L 647.44 2244.96 L 648.28 2241.89 L 646.85 2239.25 L 645.43 2236.61 L 644.58 2239.87 z" clip-path="url(#p8be2cc9b7b)" style="fill: #5002a2; fill-opacity: 0.6"/>
<path d="M 642.06 2248.92 L 643.51 2250.61 L 645.01 2250.35 L 645.78 2250.04 L 646.6 2247.73 L 645.17 2245.57 L 643.74 2243.08 L 642.9 2246.16 z" clip-path="url(#p8be2cc9b7b)" style="fill: #3f049c; fill-opacity: 0.6"/>
<path d="M 673.3 2207.03 L 674.71 2209.89 L 676.12 2212.76 L 676.98 2209.05 L 675.57 2206.14 L 674.17 2203.23 z" clip-path="url(#p8be2cc9b7b)" style="fill: #b12a90; fill-opacity: 0.6"/>
<path d="M 662.47 2218.18 L 663.89 2220.92 L 665.3 2223.63 L 666.16 2220.01 L 667.02 2216.35 L 665.61 2213.6 L 664.19 2210.81 L 663.33 2214.52 z" clip-path="url(#p8be2cc9b7b)" style="fill: #99159f; fill-opacity: 0.6"/>
<path d="M 649.54 2249.42 L 651.1 2246.84 L 653.36 2246.5 L 654.07 2248.47 L 652.59 2248.24 L 651.14 2246.47 L 650.32 2248.85 z" clip-path="url(#p8be2cc9b7b)" style="fill: #3f049c; fill-opacity: 0.6"/>
<path d="M 660.15 2245.6 L 658.6 2247.51 L 657.89 2245.86 z" clip-path="url(#p8be2cc9b7b)" style="fill: #44039e; fill-opacity: 0.6"/>
<path d="M 651.67 2228.51 L 653.09 2231.21 L 654.51 2233.89 L 655.36 2230.46 L 656.21 2226.99 L 654.79 2224.26 L 653.37 2221.51 L 652.52 2225.03 z" clip-path="url(#p8be2cc9b7b)" style="fill: #7d03a8; fill-opacity: 0.6"/>
<path d="M 645.43 2236.61 L 646.85 2239.25 L 648.28 2241.89 L 649.12 2238.62 L 649.97 2235.3 L 648.54 2232.62 L 647.12 2229.94 L 646.27 2233.3 z" clip-path="url(#p8be2cc9b7b)" style="fill: #6400a7; fill-opacity: 0.6"/>
<path d="M 621.32 2241.19 L 622.78 2242.6 L 624.26 2242.13 L 625.07 2240.99 L 625.89 2238.86 L 624.48 2235.05 L 622.21 2235.06 z" clip-path="url(#p8be2cc9b7b)" style="fill: #5901a5; fill-opacity: 0.6"/>
<path d="M 657.92 2219.89 L 659.34 2222.64 L 660.76 2225.37 L 661.61 2221.8 L 662.47 2218.18 L 661.05 2215.41 L 659.64 2212.6 L 658.78 2216.27 z" clip-path="url(#p8be2cc9b7b)" style="fill: #9511a1; fill-opacity: 0.6"/>
<path d="M 639.2 2244.18 L 640.63 2246.72 L 642.06 2248.92 L 642.9 2246.16 L 643.74 2243.08 L 642.31 2240.47 L 640.88 2237.86 L 640.04 2241.05 z" clip-path="url(#p8be2cc9b7b)" style="fill: #4e02a2; fill-opacity: 0.6"/>
<path d="M 668.75 2208.91 L 670.16 2211.71 L 671.57 2214.5 L 672.43 2210.78 L 673.3 2207.03 L 671.89 2204.16 L 670.48 2201.29 L 669.61 2205.12 z" clip-path="url(#p8be2cc9b7b)" style="fill: #b12a90; fill-opacity: 0.6"/>
<path d="M 632.21 2226.42 L 633.59 2231.57 L 635.06 2232.41 L 635.88 2230.19 L 636.75 2225.86 z" clip-path="url(#p8be2cc9b7b)" style="fill: #7a02a8; fill-opacity: 0.6"/>
<path d="M 647.12 2229.94 L 648.54 2232.62 L 649.97 2235.3 L 650.82 2231.93 L 651.67 2228.51 L 650.24 2225.78 L 648.82 2223.23 L 647.97 2226.52 z" clip-path="url(#p8be2cc9b7b)" style="fill: #7a02a8; fill-opacity: 0.6"/>
<path d="M 615.09 2248.51 L 616.57 2247.77 L 618.05 2247.49 L 618.86 2246.31 L 619.67 2245.43 L 618.2 2245.5 L 616.76 2242.84 L 615.92 2246.76 z" clip-path="url(#p8be2cc9b7b)" style="fill: #44039e; fill-opacity: 0.6"/>
<path d="M 625.89 2238.86 L 627.36 2239.28 L 628.84 2238.92 L 629.65 2237.48 L 630.47 2235.9 L 629.03 2233.77 L 627.69 2225.69 L 626.75 2234.58 z" clip-path="url(#p8be2cc9b7b)" style="fill: #6600a7; fill-opacity: 0.6"/>
<path d="M 610.52 2251.27 L 611.99 2250.65 L 613.47 2249.95 L 614.28 2249.22 L 615.09 2248.51 L 613.63 2247.89 L 612.22 2243.27 L 611.35 2248.88 z" clip-path="url(#p8be2cc9b7b)" style="fill: #3e049c; fill-opacity: 0.6"/>
<path d="M 630.47 2235.9 L 631.95 2235.71 L 633.43 2235.97 L 634.25 2234.02 L 635.06 2232.41 L 633.59 2231.57 L 632.21 2226.42 L 631.31 2232.77 z" clip-path="url(#p8be2cc9b7b)" style="fill: #6e00a8; fill-opacity: 0.6"/>
<path d="M 616.76 2242.84 L 618.2 2245.5 L 619.67 2245.43 L 620.49 2244.11 L 621.32 2241.19 L 619.94 2234.64 L 617.68 2233.84 z" clip-path="url(#p8be2cc9b7b)" style="fill: #5601a4; fill-opacity: 0.6"/>
<path d="M 637.52 2250.05 L 638.97 2251.69 L 640.47 2251.24 L 641.24 2251.16 L 642.06 2248.92 L 640.63 2246.72 L 639.2 2244.18 L 638.36 2247.25 z" clip-path="url(#p8be2cc9b7b)" style="fill: #3c049b; fill-opacity: 0.6"/>
<path d="M 640.88 2237.86 L 642.31 2240.47 L 643.74 2243.08 L 644.58 2239.87 L 645.43 2236.61 L 644 2233.96 L 642.57 2231.4 L 641.73 2234.6 z" clip-path="url(#p8be2cc9b7b)" style="fill: #6100a7; fill-opacity: 0.6"/>
<path d="M 607.68 2242.19 L 609.07 2249.71 L 610.52 2251.27 L 611.35 2248.88 L 612.22 2243.27 z" clip-path="url(#p8be2cc9b7b)" style="fill: #43039e; fill-opacity: 0.6"/>
<path d="M 653.37 2221.51 L 654.79 2224.26 L 656.21 2226.99 L 657.07 2223.47 L 657.92 2219.89 L 656.5 2217.11 L 655.07 2214.63 L 654.22 2217.95 z" clip-path="url(#p8be2cc9b7b)" style="fill: #920fa3; fill-opacity: 0.6"/>
<path d="M 619.67 2245.43 L 621.15 2244.86 L 622.63 2245.05 L 623.45 2243.43 L 624.26 2242.13 L 622.78 2242.6 L 621.32 2241.19 L 620.49 2244.11 z" clip-path="url(#p8be2cc9b7b)" style="fill: #4e02a2; fill-opacity: 0.6"/>
<path d="M 636.75 2225.86 z" clip-path="url(#p8be2cc9b7b)" style="fill: #8405a7; fill-opacity: 0.6"/>
<path d="M 664.19 2210.81 L 665.61 2213.6 L 667.02 2216.35 L 667.88 2212.65 L 668.75 2208.91 L 667.33 2206.1 L 665.92 2203.24 L 665.05 2207.05 z" clip-path="url(#p8be2cc9b7b)" style="fill: #ad2793; fill-opacity: 0.6"/>
<path d="M 635.06 2232.41 L 636.54 2232.43 L 638 2233.42 L 638.83 2230.95 L 639.65 2228.79 L 638.17 2228.63 L 636.75 2225.86 L 635.88 2230.19 z" clip-path="url(#p8be2cc9b7b)" style="fill: #7701a8; fill-opacity: 0.6"/>
<path d="M 645.01 2250.35 L 646.56 2247.54 L 648.83 2247.19 L 649.54 2249.42 L 648.05 2249.45 L 646.6 2247.73 L 645.78 2250.04 z" clip-path="url(#p8be2cc9b7b)" style="fill: #3e049c; fill-opacity: 0.6"/>
<path d="M 605.95 2253.65 L 607.42 2253.41 L 608.9 2252.36 L 609.71 2252.05 L 610.52 2251.27 L 609.07 2249.71 L 607.68 2242.19 L 606.79 2250.39 z" clip-path="url(#p8be2cc9b7b)" style="fill: #370499; fill-opacity: 0.6"/>
<path d="M 636.75 2225.86 L 638.17 2228.63 L 639.65 2228.79 L 640.47 2226.91 L 641.31 2223.86 L 639.96 2217.56 z" clip-path="url(#p8be2cc9b7b)" style="fill: #8606a6; fill-opacity: 0.6"/>
<path d="M 624.48 2235.05 L 625.89 2238.86 L 626.75 2234.58 L 627.69 2225.69 z" clip-path="url(#p8be2cc9b7b)" style="fill: #6e00a8; fill-opacity: 0.6"/>
<path d="M 655.63 2246.17 L 654.07 2248.47 L 653.36 2246.5 z" clip-path="url(#p8be2cc9b7b)" style="fill: #43039e; fill-opacity: 0.6"/>
<path d="M 624.26 2242.13 L 625.74 2242.03 L 627.2 2242.75 L 628.03 2240.69 L 628.84 2238.92 L 627.36 2239.28 L 625.89 2238.86 L 625.07 2240.99 z" clip-path="url(#p8be2cc9b7b)" style="fill: #5801a4; fill-opacity: 0.6"/>
<path d="M 627.69 2225.69 L 629.03 2233.77 L 630.47 2235.9 L 631.31 2232.77 L 632.21 2226.42 z" clip-path="url(#p8be2cc9b7b)" style="fill: #7501a8; fill-opacity: 0.6"/>
<path d="M 648.82 2223.23 L 650.24 2225.78 L 651.67 2228.51 L 652.52 2225.03 L 653.37 2221.51 L 651.94 2218.98 L 650.49 2217.54 L 649.66 2220.22 z" clip-path="url(#p8be2cc9b7b)" style="fill: #8d0ba5; fill-opacity: 0.6"/>
<path d="M 642.57 2231.4 L 644 2233.96 L 645.43 2236.61 L 646.27 2233.3 L 647.12 2229.94 L 645.69 2227.37 L 644.24 2225.68 L 643.41 2228.41 z" clip-path="url(#p8be2cc9b7b)" style="fill: #7501a8; fill-opacity: 0.6"/>
<path d="M 639.65 2228.79 L 641.12 2229.61 L 642.57 2231.4 L 643.41 2228.41 L 644.24 2225.68 L 642.77 2225.05 L 641.31 2223.86 L 640.47 2226.91 z" clip-path="url(#p8be2cc9b7b)" style="fill: #8004a8; fill-opacity: 0.6"/>
<path d="M 619.94 2234.64 L 621.32 2241.19 L 622.21 2235.06 z" clip-path="url(#p8be2cc9b7b)" style="fill: #6300a7; fill-opacity: 0.6"/>
<path d="M 659.64 2212.6 L 661.05 2215.41 L 662.47 2218.18 L 663.33 2214.52 L 664.19 2210.81 L 662.77 2207.97 L 661.34 2205.62 L 660.49 2208.95 z" clip-path="url(#p8be2cc9b7b)" style="fill: #aa2395; fill-opacity: 0.6"/>
<path d="M 644.24 2225.68 L 645.69 2227.37 L 647.12 2229.94 L 647.97 2226.52 L 648.82 2223.23 L 647.36 2221.66 L 645.89 2221.02 L 645.07 2223.28 z" clip-path="url(#p8be2cc9b7b)" style="fill: #8707a6; fill-opacity: 0.6"/>
<path d="M 634.65 2245.23 L 636.08 2247.76 L 637.52 2250.05 L 638.36 2247.25 L 639.2 2244.18 L 637.76 2241.61 L 636.33 2239.09 L 635.49 2242.17 z" clip-path="url(#p8be2cc9b7b)" style="fill: #4b03a1; fill-opacity: 0.6"/>
<path d="M 641.31 2223.86 L 642.77 2225.05 L 644.24 2225.68 L 645.07 2223.28 L 645.89 2221.02 L 644.48 2217.54 L 642.22 2217.6 z" clip-path="url(#p8be2cc9b7b)" style="fill: #8f0da4; fill-opacity: 0.6"/>
<path d="M 645.89 2221.02 L 647.36 2221.66 L 648.82 2223.23 L 649.66 2220.22 L 650.49 2217.54 L 649.04 2215.95 L 646.75 2216.93 z" clip-path="url(#p8be2cc9b7b)" style="fill: #9613a1; fill-opacity: 0.6"/>
<path d="M 670.48 2201.29 L 671.89 2204.16 L 673.3 2207.03 L 674.17 2203.23 L 672.76 2200.32 L 671.35 2197.41 z" clip-path="url(#p8be2cc9b7b)" style="fill: #be3885; fill-opacity: 0.6"/>
<path d="M 628.84 2238.92 L 630.31 2239.41 L 631.77 2240.72 L 632.6 2238.22 L 633.43 2235.97 L 631.95 2235.71 L 630.47 2235.9 L 629.65 2237.48 z" clip-path="url(#p8be2cc9b7b)" style="fill: #6100a7; fill-opacity: 0.6"/>
<path d="M 644.48 2217.54 L 645.89 2221.02 L 646.75 2216.93 z" clip-path="url(#p8be2cc9b7b)" style="fill: #99159f; fill-opacity: 0.6"/>
<path d="M 612.22 2243.27 L 613.63 2247.89 L 615.09 2248.51 L 615.92 2246.76 L 616.76 2242.84 L 615.41 2233.43 L 613.13 2233.81 z" clip-path="url(#p8be2cc9b7b)" style="fill: #5302a3; fill-opacity: 0.6"/>
<path d="M 636.33 2239.09 L 637.76 2241.61 L 639.2 2244.18 L 640.04 2241.05 L 640.88 2237.86 L 639.45 2235.31 L 638 2233.42 L 637.17 2236.15 z" clip-path="url(#p8be2cc9b7b)" style="fill: #5e01a6; fill-opacity: 0.6"/>
<path d="M 655.07 2214.63 L 656.5 2217.11 L 657.92 2219.89 L 658.78 2216.27 L 659.64 2212.6 L 658.21 2210.17 L 656.77 2208.06 L 655.91 2211.64 z" clip-path="url(#p8be2cc9b7b)" style="fill: #a51f99; fill-opacity: 0.6"/>
<path d="M 638 2233.42 L 639.45 2235.31 L 640.88 2237.86 L 641.73 2234.6 L 642.57 2231.4 L 641.12 2229.61 L 639.65 2228.79 L 638.83 2230.95 z" clip-path="url(#p8be2cc9b7b)" style="fill: #7100a8; fill-opacity: 0.6"/>
<path d="M 633.43 2235.97 L 634.89 2237.13 L 636.33 2239.09 L 637.17 2236.15 L 638 2233.42 L 636.54 2232.43 L 635.06 2232.41 L 634.25 2234.02 z" clip-path="url(#p8be2cc9b7b)" style="fill: #6900a8; fill-opacity: 0.6"/>
<path d="M 632.98 2251.08 L 634.43 2252.7 L 635.92 2252.1 L 636.7 2252.21 L 637.52 2250.05 L 636.08 2247.76 L 634.65 2245.23 L 633.81 2248.24 z" clip-path="url(#p8be2cc9b7b)" style="fill: #3a049a; fill-opacity: 0.6"/>
<path d="M 601.38 2255.58 L 602.84 2255.97 L 604.32 2254.74 L 605.13 2254.72 L 605.95 2253.65 L 604.51 2250.76 L 603.13 2240.72 L 602.24 2250.8 z" clip-path="url(#p8be2cc9b7b)" style="fill: #330597; fill-opacity: 0.6"/>
<path d="M 650.49 2217.54 L 651.94 2218.98 L 653.37 2221.51 L 654.22 2217.95 L 655.07 2214.63 L 653.61 2213.27 L 652.23 2209.11 L 651.32 2214.72 z" clip-path="url(#p8be2cc9b7b)" style="fill: #a01a9c; fill-opacity: 0.6"/>
<path d="M 665.92 2203.24 L 667.33 2206.1 L 668.75 2208.91 L 669.61 2205.12 L 670.48 2201.29 L 669.06 2198.41 L 666.78 2199.5 z" clip-path="url(#p8be2cc9b7b)" style="fill: #bd3786; fill-opacity: 0.6"/>
<path d="M 649.04 2215.95 L 650.49 2217.54 L 651.32 2214.72 L 652.23 2209.11 z" clip-path="url(#p8be2cc9b7b)" style="fill: #a31e9a; fill-opacity: 0.6"/>
<path d="M 661.34 2205.62 L 662.77 2207.97 L 664.19 2210.81 L 665.05 2207.05 L 665.92 2203.24 L 664.5 2200.41 z" clip-path="url(#p8be2cc9b7b)" style="fill: #b7318a; fill-opacity: 0.6"/>
<path d="M 656.77 2208.06 L 658.21 2210.17 L 659.64 2212.6 L 660.49 2208.95 L 661.34 2205.62 z" clip-path="url(#p8be2cc9b7b)" style="fill: #b12a90; fill-opacity: 0.6"/>
<path d="M 631.77 2240.72 L 633.22 2242.74 L 634.65 2245.23 L 635.49 2242.17 L 636.33 2239.09 L 634.89 2237.13 L 633.43 2235.97 L 632.6 2238.22 z" clip-path="url(#p8be2cc9b7b)" style="fill: #5b01a5; fill-opacity: 0.6"/>
<path d="M 603.13 2240.72 L 604.51 2250.76 L 605.95 2253.65 L 606.79 2250.39 L 607.68 2242.19 z" clip-path="url(#p8be2cc9b7b)" style="fill: #43039e; fill-opacity: 0.6"/>
<path d="M 632.21 2226.42 z" clip-path="url(#p8be2cc9b7b)" style="fill: #8405a7; fill-opacity: 0.6"/>
<path d="M 652.23 2209.11 L 653.61 2213.27 L 655.07 2214.63 L 655.91 2211.64 L 656.77 2208.06 z" clip-path="url(#p8be2cc9b7b)" style="fill: #ab2494; fill-opacity: 0.6"/>
<path d="M 630.1 2246.26 L 631.54 2248.71 L 632.98 2251.08 L 633.81 2248.24 L 634.65 2245.23 L 633.22 2242.74 L 631.77 2240.72 L 630.94 2243.42 z" clip-path="url(#p8be2cc9b7b)" style="fill: #4903a0; fill-opacity: 0.6"/>
<path d="M 651.1 2246.84 L 649.54 2249.42 L 648.83 2247.19 z" clip-path="url(#p8be2cc9b7b)" style="fill: #43039e; fill-opacity: 0.6"/>
<path d="M 661.34 2205.62 z" clip-path="url(#p8be2cc9b7b)" style="fill: #b83289; fill-opacity: 0.6"/>
<path d="M 656.77 2208.06 z" clip-path="url(#p8be2cc9b7b)" style="fill: #b32c8e; fill-opacity: 0.6"/>
<path d="M 639.96 2217.56 L 641.31 2223.86 L 642.22 2217.6 z" clip-path="url(#p8be2cc9b7b)" style="fill: #9613a1; fill-opacity: 0.6"/>
<path d="M 669.06 2198.41 L 670.48 2201.29 L 671.35 2197.41 z" clip-path="url(#p8be2cc9b7b)" style="fill: #c6417d; fill-opacity: 0.6"/>
<path d="M 596.82 2256.96 L 598.27 2258.26 L 599.74 2257.08 L 600.56 2257.15 L 601.38 2255.58 L 599.96 2250.5 L 598.56 2241.92 L 597.68 2249.91 z" clip-path="url(#p8be2cc9b7b)" style="fill: #2f0596; fill-opacity: 0.6"/>
<path d="M 627.2 2242.75 L 628.66 2244.19 L 630.1 2246.26 L 630.94 2243.42 L 631.77 2240.72 L 630.31 2239.41 L 628.84 2238.92 L 628.03 2240.69 z" clip-path="url(#p8be2cc9b7b)" style="fill: #5601a4; fill-opacity: 0.6"/>
<path d="M 622.63 2245.05 L 624.09 2245.98 L 625.54 2247.54 L 626.37 2245.05 L 627.2 2242.75 L 625.74 2242.03 L 624.26 2242.13 L 623.45 2243.43 z" clip-path="url(#p8be2cc9b7b)" style="fill: #4e02a2; fill-opacity: 0.6"/>
<path d="M 618.05 2247.49 L 619.52 2247.96 L 620.98 2249.08 L 621.8 2246.95 L 622.63 2245.05 L 621.15 2244.86 L 619.67 2245.43 L 618.86 2246.31 z" clip-path="url(#p8be2cc9b7b)" style="fill: #48039f; fill-opacity: 0.6"/>
<path d="M 664.5 2200.41 L 665.92 2203.24 L 666.78 2199.5 z" clip-path="url(#p8be2cc9b7b)" style="fill: #c23c81; fill-opacity: 0.6"/>
<path d="M 613.47 2249.95 L 614.94 2250 L 616.41 2250.71 L 617.23 2248.99 L 618.05 2247.49 L 616.57 2247.77 L 615.09 2248.51 L 614.28 2249.22 z" clip-path="url(#p8be2cc9b7b)" style="fill: #3f049c; fill-opacity: 0.6"/>
<path d="M 628.43 2252.02 L 629.88 2253.62 L 631.37 2252.91 L 632.15 2253.17 L 632.98 2251.08 L 631.54 2248.71 L 630.1 2246.26 L 629.26 2249.17 z" clip-path="url(#p8be2cc9b7b)" style="fill: #3a049a; fill-opacity: 0.6"/>
<path d="M 608.9 2252.36 L 610.37 2251.99 L 611.84 2252.29 L 612.66 2251 L 613.47 2249.95 L 611.99 2250.65 L 610.52 2251.27 L 609.71 2252.05 z" clip-path="url(#p8be2cc9b7b)" style="fill: #38049a; fill-opacity: 0.6"/>
<path d="M 640.47 2251.24 L 642.02 2248.24 L 643.59 2244.64 L 644.29 2247.89 L 645.01 2250.35 L 643.51 2250.61 L 642.06 2248.92 L 641.24 2251.16 z" clip-path="url(#p8be2cc9b7b)" style="fill: #3f049c; fill-opacity: 0.6"/>
<path d="M 604.32 2254.74 L 605.79 2253.94 L 607.26 2253.82 L 608.08 2252.97 L 608.9 2252.36 L 607.42 2253.41 L 605.95 2253.65 L 605.13 2254.72 z" clip-path="url(#p8be2cc9b7b)" style="fill: #2f0596; fill-opacity: 0.6"/>
<path d="M 592.26 2257.39 L 593.7 2260.21 L 595.17 2259.36 L 595.99 2259.29 L 596.82 2256.96 L 595.41 2249.03 L 593.12 2248.06 z" clip-path="url(#p8be2cc9b7b)" style="fill: #280592; fill-opacity: 0.6"/>
<path d="M 625.54 2247.54 L 626.99 2249.64 L 628.43 2252.02 L 629.26 2249.17 L 630.1 2246.26 L 628.66 2244.19 L 627.2 2242.75 L 626.37 2245.05 z" clip-path="url(#p8be2cc9b7b)" style="fill: #46039f; fill-opacity: 0.6"/>
<path d="M 615.41 2233.43 L 616.76 2242.84 L 617.68 2233.84 z" clip-path="url(#p8be2cc9b7b)" style="fill: #6700a8; fill-opacity: 0.6"/>
<path d="M 599.74 2257.08 L 601.22 2255.85 L 602.69 2255.32 L 603.5 2254.9 L 604.32 2254.74 L 602.84 2255.97 L 601.38 2255.58 L 600.56 2257.15 z" clip-path="url(#p8be2cc9b7b)" style="fill: #280592; fill-opacity: 0.6"/>
<path d="M 652.23 2209.11 z" clip-path="url(#p8be2cc9b7b)" style="fill: #b22b8f; fill-opacity: 0.6"/>
<path d="M 595.17 2259.36 L 596.64 2257.72 L 598.11 2256.77 L 598.93 2256.79 L 599.74 2257.08 L 598.27 2258.26 L 596.82 2256.96 L 595.99 2259.29 z" clip-path="url(#p8be2cc9b7b)" style="fill: #220690; fill-opacity: 0.6"/>
<path d="M 612.22 2243.27 L 613.13 2233.81 z" clip-path="url(#p8be2cc9b7b)" style="fill: #6100a7; fill-opacity: 0.6"/>
<path d="M 598.56 2241.92 L 599.96 2250.5 L 601.38 2255.58 L 602.24 2250.8 L 603.13 2240.72 z" clip-path="url(#p8be2cc9b7b)" style="fill: #44039e; fill-opacity: 0.6"/>
<path d="M 607.68 2242.19 z" clip-path="url(#p8be2cc9b7b)" style="fill: #5801a4; fill-opacity: 0.6"/>
<path d="M 620.98 2249.08 L 622.43 2250.75 L 623.88 2252.87 L 624.71 2250.16 L 625.54 2247.54 L 624.09 2245.98 L 622.63 2245.05 L 621.8 2246.95 z" clip-path="url(#p8be2cc9b7b)" style="fill: #43039e; fill-opacity: 0.6"/>
<path d="M 623.88 2252.87 L 625.33 2254.44 L 626.82 2253.67 L 627.6 2254.04 L 628.43 2252.02 L 626.99 2249.64 L 625.54 2247.54 L 624.71 2250.16 z" clip-path="url(#p8be2cc9b7b)" style="fill: #38049a; fill-opacity: 0.6"/>
<path d="M 590.59 2261.5 L 592.06 2259.57 L 593.52 2258.19 L 594.35 2258.65 L 595.17 2259.36 L 593.7 2260.21 L 592.26 2257.39 L 591.42 2261.04 z" clip-path="url(#p8be2cc9b7b)" style="fill: #1b068d; fill-opacity: 0.6"/>
<path d="M 635.92 2252.1 L 637.47 2248.95 L 639.06 2244.31 L 639.75 2248.59 L 640.47 2251.24 L 638.97 2251.69 L 637.52 2250.05 L 636.7 2252.21 z" clip-path="url(#p8be2cc9b7b)" style="fill: #3f049c; fill-opacity: 0.6"/>
<path d="M 595.41 2249.03 L 596.82 2256.96 L 597.68 2249.91 L 598.56 2241.92 z" clip-path="url(#p8be2cc9b7b)" style="fill: #41049d; fill-opacity: 0.6"/>
<path d="M 616.41 2250.71 L 617.87 2251.98 L 619.32 2253.71 L 620.15 2251.37 L 620.98 2249.08 L 619.52 2247.96 L 618.05 2247.49 L 617.23 2248.99 z" clip-path="url(#p8be2cc9b7b)" style="fill: #3f049c; fill-opacity: 0.6"/>
<path d="M 627.69 2225.69 z" clip-path="url(#p8be2cc9b7b)" style="fill: #8808a6; fill-opacity: 0.6"/>
<path d="M 587.69 2256.72 L 589.13 2261.75 L 590.59 2261.5 L 591.42 2261.04 L 592.26 2257.39 L 590.84 2247.49 L 588.55 2247.51 z" clip-path="url(#p8be2cc9b7b)" style="fill: #2a0593; fill-opacity: 0.6"/>
<path d="M 586.01 2263.4 L 587.47 2261.38 L 588.94 2259.58 L 589.76 2260.48 L 590.59 2261.5 L 589.13 2261.75 L 587.69 2256.72 L 586.84 2262.33 z" clip-path="url(#p8be2cc9b7b)" style="fill: #16078a; fill-opacity: 0.6"/>
<path d="M 619.32 2253.71 L 620.77 2255.16 L 622.26 2254.36 L 623.05 2254.82 L 623.88 2252.87 L 622.43 2250.75 L 620.98 2249.08 L 620.15 2251.37 z" clip-path="url(#p8be2cc9b7b)" style="fill: #370499; fill-opacity: 0.6"/>
<path d="M 643.59 2244.64 L 646.56 2247.54 L 645.01 2250.35 L 644.29 2247.89 z" clip-path="url(#p8be2cc9b7b)" style="fill: #48039f; fill-opacity: 0.6"/>
<path d="M 611.84 2252.29 L 613.3 2253.16 L 614.76 2254.51 L 615.58 2252.58 L 616.41 2250.71 L 614.94 2250 L 613.47 2249.95 L 612.66 2251 z" clip-path="url(#p8be2cc9b7b)" style="fill: #3a049a; fill-opacity: 0.6"/>
<path d="M 583.11 2255.15 L 584.56 2262.68 L 586.01 2263.4 L 586.84 2262.33 L 587.69 2256.72 L 586.25 2248.27 z" clip-path="url(#p8be2cc9b7b)" style="fill: #240691; fill-opacity: 0.6"/>
<path d="M 631.37 2252.91 L 632.92 2249.64 L 634.51 2244.28 L 635.2 2249.3 L 635.92 2252.1 L 634.43 2252.7 L 632.98 2251.08 L 632.15 2253.17 z" clip-path="url(#p8be2cc9b7b)" style="fill: #3e049c; fill-opacity: 0.6"/>
<path d="M 607.26 2253.82 L 608.73 2254.29 L 610.19 2255.25 L 611.01 2253.73 L 611.84 2252.29 L 610.37 2251.99 L 608.9 2252.36 L 608.08 2252.97 z" clip-path="url(#p8be2cc9b7b)" style="fill: #370499; fill-opacity: 0.6"/>
<path d="M 590.84 2247.49 L 592.26 2257.39 L 593.12 2248.06 z" clip-path="url(#p8be2cc9b7b)" style="fill: #3e049c; fill-opacity: 0.6"/>
<path d="M 581.43 2265 L 582.89 2263.17 L 584.35 2260.95 L 585.18 2262.28 L 586.01 2263.4 L 584.56 2262.68 L 583.11 2255.15 L 582.27 2262.79 z" clip-path="url(#p8be2cc9b7b)" style="fill: #130789; fill-opacity: 0.6"/>
<path d="M 614.76 2254.51 L 616.22 2255.79 L 617.7 2254.97 L 618.5 2255.48 L 619.32 2253.71 L 617.87 2251.98 L 616.41 2250.71 L 615.58 2252.58 z" clip-path="url(#p8be2cc9b7b)" style="fill: #350498; fill-opacity: 0.6"/>
<path d="M 578.52 2253.7 L 579.98 2262.68 L 581.43 2265 L 582.27 2262.79 L 583.11 2255.15 z" clip-path="url(#p8be2cc9b7b)" style="fill: #1d068e; fill-opacity: 0.6"/>
<path d="M 602.69 2255.32 L 604.15 2255.38 L 605.62 2255.95 L 606.44 2254.84 L 607.26 2253.82 L 605.79 2253.94 L 604.32 2254.74 L 603.5 2254.9 z" clip-path="url(#p8be2cc9b7b)" style="fill: #310597; fill-opacity: 0.6"/>
<path d="M 626.82 2253.67 L 628.36 2250.32 L 629.95 2244.5 L 630.64 2249.98 L 631.37 2252.91 L 629.88 2253.62 L 628.43 2252.02 L 627.6 2254.04 z" clip-path="url(#p8be2cc9b7b)" style="fill: #3e049c; fill-opacity: 0.6"/>
<path d="M 603.13 2240.72 z" clip-path="url(#p8be2cc9b7b)" style="fill: #6001a6; fill-opacity: 0.6"/>
<path d="M 639.06 2244.31 L 643.59 2244.64 L 642.02 2248.24 L 640.47 2251.24 L 639.75 2248.59 z" clip-path="url(#p8be2cc9b7b)" style="fill: #4b03a1; fill-opacity: 0.6"/>
<path d="M 598.11 2256.77 L 599.58 2256.44 L 601.04 2256.6 L 601.87 2255.91 L 602.69 2255.32 L 601.22 2255.85 L 599.74 2257.08 L 598.93 2256.79 z" clip-path="url(#p8be2cc9b7b)" style="fill: #2e0595; fill-opacity: 0.6"/>
<path d="M 576.85 2266.22 L 578.3 2264.92 L 579.76 2262.28 L 580.6 2264.05 L 581.43 2265 L 579.98 2262.68 L 578.52 2253.7 L 577.69 2262.38 z" clip-path="url(#p8be2cc9b7b)" style="fill: #130789; fill-opacity: 0.6"/>
<path d="M 610.19 2255.25 L 611.65 2256.4 L 613.14 2255.5 L 613.93 2256.1 L 614.76 2254.51 L 613.3 2253.16 L 611.84 2252.29 L 611.01 2253.73 z" clip-path="url(#p8be2cc9b7b)" style="fill: #330597; fill-opacity: 0.6"/>
<path d="M 583.11 2255.15 z" clip-path="url(#p8be2cc9b7b)" style="fill: #330597; fill-opacity: 0.6"/>
<path d="M 598.56 2241.92 z" clip-path="url(#p8be2cc9b7b)" style="fill: #5e01a6; fill-opacity: 0.6"/>
<path d="M 586.25 2248.27 L 587.69 2256.72 L 588.55 2247.51 z" clip-path="url(#p8be2cc9b7b)" style="fill: #41049d; fill-opacity: 0.6"/>
<path d="M 593.52 2258.19 L 594.99 2257.45 L 596.46 2257.2 L 597.28 2256.95 L 598.11 2256.77 L 596.64 2257.72 L 595.17 2259.36 L 594.35 2258.65 z" clip-path="url(#p8be2cc9b7b)" style="fill: #2a0593; fill-opacity: 0.6"/>
<path d="M 622.26 2254.36 L 623.8 2250.97 L 625.38 2244.91 L 626.08 2250.65 L 626.82 2253.67 L 625.33 2254.44 L 623.88 2252.87 L 623.05 2254.82 z" clip-path="url(#p8be2cc9b7b)" style="fill: #3e049c; fill-opacity: 0.6"/>
<path d="M 573.93 2254.15 L 575.39 2261.9 L 576.85 2266.22 L 577.69 2262.38 L 578.52 2253.7 z" clip-path="url(#p8be2cc9b7b)" style="fill: #240691; fill-opacity: 0.6"/>
<path d="M 605.62 2255.95 L 607.08 2256.82 L 608.56 2255.99 L 609.37 2256.63 L 610.19 2255.25 L 608.73 2254.29 L 607.26 2253.82 L 606.44 2254.84 z" clip-path="url(#p8be2cc9b7b)" style="fill: #330597; fill-opacity: 0.6"/>
<path d="M 572.26 2266.76 L 573.71 2266.52 L 575.16 2263.6 L 576.01 2265.75 L 576.85 2266.22 L 575.39 2261.9 L 573.93 2254.15 L 573.1 2261.27 z" clip-path="url(#p8be2cc9b7b)" style="fill: #130789; fill-opacity: 0.6"/>
<path d="M 634.51 2244.28 L 639.06 2244.31 L 637.47 2248.95 L 635.92 2252.1 L 635.2 2249.3 z" clip-path="url(#p8be2cc9b7b)" style="fill: #4c02a1; fill-opacity: 0.6"/>
<path d="M 588.94 2259.58 L 590.4 2258.43 L 591.87 2257.77 L 592.7 2257.94 L 593.52 2258.19 L 592.06 2259.57 L 590.59 2261.5 L 589.76 2260.48 z" clip-path="url(#p8be2cc9b7b)" style="fill: #260591; fill-opacity: 0.6"/>
<path d="M 617.7 2254.97 L 619.23 2251.59 L 620.8 2245.44 L 621.51 2251.29 L 622.26 2254.36 L 620.77 2255.16 L 619.32 2253.71 L 618.5 2255.48 z" clip-path="url(#p8be2cc9b7b)" style="fill: #3e049c; fill-opacity: 0.6"/>
<path d="M 584.35 2260.95 L 585.81 2259.38 L 587.28 2258.29 L 588.11 2258.91 L 588.94 2259.58 L 587.47 2261.38 L 586.01 2263.4 L 585.18 2262.28 z" clip-path="url(#p8be2cc9b7b)" style="fill: #220690; fill-opacity: 0.6"/>
<path d="M 570.79 2260.51 L 572.26 2266.76 L 573.1 2261.27 L 573.93 2254.15 z" clip-path="url(#p8be2cc9b7b)" style="fill: #220690; fill-opacity: 0.6"/>
<path d="M 643.59 2244.64 z" clip-path="url(#p8be2cc9b7b)" style="fill: #5801a4; fill-opacity: 0.6"/>
<path d="M 601.04 2256.6 L 602.51 2257.08 L 603.98 2256.46 L 604.8 2256.96 L 605.62 2255.95 L 604.15 2255.38 L 602.69 2255.32 L 601.87 2255.91 z" clip-path="url(#p8be2cc9b7b)" style="fill: #330597; fill-opacity: 0.6"/>
<path d="M 567.66 2266.63 L 569.12 2267.85 L 570.56 2264.89 L 571.42 2267.22 L 572.26 2266.76 L 570.79 2260.51 L 568.49 2259.78 z" clip-path="url(#p8be2cc9b7b)" style="fill: #0d0887; fill-opacity: 0.6"/>
<path d="M 629.95 2244.5 L 634.51 2244.28 L 632.92 2249.64 L 631.37 2252.91 L 630.64 2249.98 z" clip-path="url(#p8be2cc9b7b)" style="fill: #4c02a1; fill-opacity: 0.6"/>
<path d="M 579.76 2262.28 L 581.21 2260.3 L 582.68 2258.78 L 583.51 2259.84 L 584.35 2260.95 L 582.89 2263.17 L 581.43 2265 L 580.6 2264.05 z" clip-path="url(#p8be2cc9b7b)" style="fill: #1d068e; fill-opacity: 0.6"/>
<path d="M 578.52 2253.7 z" clip-path="url(#p8be2cc9b7b)" style="fill: #3c049b; fill-opacity: 0.6"/>
<path d="M 613.14 2255.5 L 614.65 2252.17 L 616.21 2246.04 L 616.94 2251.89 L 617.7 2254.97 L 616.22 2255.79 L 614.76 2254.51 L 613.93 2256.1 z" clip-path="url(#p8be2cc9b7b)" style="fill: #3e049c; fill-opacity: 0.6"/>
<path d="M 596.46 2257.2 L 597.93 2257.28 L 599.4 2256.89 L 600.22 2257.19 L 601.04 2256.6 L 599.58 2256.44 L 598.11 2256.77 L 597.28 2256.95 z" clip-path="url(#p8be2cc9b7b)" style="fill: #310597; fill-opacity: 0.6"/>
<path d="M 566.18 2259.26 L 567.66 2266.63 L 568.49 2259.78 z" clip-path="url(#p8be2cc9b7b)" style="fill: #20068f; fill-opacity: 0.6"/>
<path d="M 575.16 2263.6 L 576.61 2261.19 L 578.07 2259.24 L 578.91 2260.75 L 579.76 2262.28 L 578.3 2264.92 L 576.85 2266.22 L 576.01 2265.75 z" clip-path="url(#p8be2cc9b7b)" style="fill: #1b068d; fill-opacity: 0.6"/>
<path d="M 625.38 2244.91 L 629.95 2244.5 L 628.36 2250.32 L 626.82 2253.67 L 626.08 2250.65 z" clip-path="url(#p8be2cc9b7b)" style="fill: #4e02a2; fill-opacity: 0.6"/>
<path d="M 563.06 2266.01 L 564.52 2268.77 L 565.95 2266.17 L 566.82 2268.38 L 567.66 2266.63 L 566.18 2259.26 L 563.87 2259.11 z" clip-path="url(#p8be2cc9b7b)" style="fill: #100788; fill-opacity: 0.6"/>
<path d="M 639.06 2244.31 z" clip-path="url(#p8be2cc9b7b)" style="fill: #5c01a6; fill-opacity: 0.6"/>
<path d="M 573.93 2254.15 z" clip-path="url(#p8be2cc9b7b)" style="fill: #3e049c; fill-opacity: 0.6"/>
<path d="M 608.56 2255.99 L 610.07 2252.69 L 611.62 2246.64 L 612.37 2252.43 L 613.14 2255.5 L 611.65 2256.4 L 610.19 2255.25 L 609.37 2256.63 z" clip-path="url(#p8be2cc9b7b)" style="fill: #3e049c; fill-opacity: 0.6"/>
<path d="M 591.87 2257.77 L 593.34 2257.44 L 594.81 2257.11 L 595.63 2257.37 L 596.46 2257.2 L 594.99 2257.45 L 593.52 2258.19 L 592.7 2257.94 z" clip-path="url(#p8be2cc9b7b)" style="fill: #310597; fill-opacity: 0.6"/>
<path d="M 570.56 2264.89 L 572 2262.06 L 573.45 2259.66 L 574.31 2261.63 L 575.16 2263.6 L 573.71 2266.52 L 572.26 2266.76 L 571.42 2267.22 z" clip-path="url(#p8be2cc9b7b)" style="fill: #19068c; fill-opacity: 0.6"/>
<path d="M 558.43 2265.08 L 559.91 2269.16 L 561.34 2267.43 L 562.22 2269.03 L 563.06 2266.01 L 561.57 2259.48 L 559.26 2260.54 z" clip-path="url(#p8be2cc9b7b)" style="fill: #130789; fill-opacity: 0.6"/>
<path d="M 561.57 2259.48 L 563.06 2266.01 L 563.87 2259.11 z" clip-path="url(#p8be2cc9b7b)" style="fill: #260591; fill-opacity: 0.6"/>
<path d="M 634.51 2244.28 z" clip-path="url(#p8be2cc9b7b)" style="fill: #5e01a6; fill-opacity: 0.6"/>
<path d="M 603.98 2256.46 L 605.49 2253.15 L 607.02 2247.21 L 607.78 2252.92 L 608.56 2255.99 L 607.08 2256.82 L 605.62 2255.95 L 604.8 2256.96 z" clip-path="url(#p8be2cc9b7b)" style="fill: #3f049c; fill-opacity: 0.6"/>
<path d="M 565.95 2266.17 L 567.39 2262.9 L 568.83 2260.06 L 569.7 2262.48 L 570.56 2264.89 L 569.12 2267.85 L 567.66 2266.63 L 566.82 2268.38 z" clip-path="url(#p8be2cc9b7b)" style="fill: #16078a; fill-opacity: 0.6"/>
<path d="M 587.28 2258.29 L 588.74 2257.55 L 590.21 2257.1 L 591.04 2257.5 L 591.87 2257.77 L 590.4 2258.43 L 588.94 2259.58 L 588.11 2258.91 z" clip-path="url(#p8be2cc9b7b)" style="fill: #330597; fill-opacity: 0.6"/>
<path d="M 558.43 2265.08 L 559.26 2260.54 z" clip-path="url(#p8be2cc9b7b)" style="fill: #220690; fill-opacity: 0.6"/>
<path d="M 553.8 2264.11 L 555.29 2269.22 L 556.73 2268.56 L 557.6 2269.22 L 558.43 2265.08 z" clip-path="url(#p8be2cc9b7b)" style="fill: #0d0887; fill-opacity: 0.6"/>
<path d="M 561.34 2267.43 L 562.77 2263.72 L 564.2 2260.42 L 565.08 2263.31 L 565.95 2266.17 L 564.52 2268.77 L 563.06 2266.01 L 562.22 2269.03 z" clip-path="url(#p8be2cc9b7b)" style="fill: #16078a; fill-opacity: 0.6"/>
<path d="M 599.4 2256.89 L 600.9 2253.59 L 602.42 2247.76 L 603.19 2253.37 L 603.98 2256.46 L 602.51 2257.08 L 601.04 2256.6 L 600.22 2257.19 z" clip-path="url(#p8be2cc9b7b)" style="fill: #3f049c; fill-opacity: 0.6"/>
<path d="M 629.95 2244.5 z" clip-path="url(#p8be2cc9b7b)" style="fill: #6001a6; fill-opacity: 0.6"/>
<path d="M 582.68 2258.78 L 584.14 2257.63 L 585.61 2256.89 L 586.44 2257.6 L 587.28 2258.29 L 585.81 2259.38 L 584.35 2260.95 L 583.51 2259.84 z" clip-path="url(#p8be2cc9b7b)" style="fill: #330597; fill-opacity: 0.6"/>
<path d="M 620.8 2245.44 L 622.36 2240.88 L 624.64 2241.48 L 625.38 2244.91 L 623.8 2250.97 L 622.26 2254.36 L 621.51 2251.29 z" clip-path="url(#p8be2cc9b7b)" style="fill: #5901a5; fill-opacity: 0.6"/>
<path d="M 549.17 2264.21 L 550.66 2269.07 L 552.11 2269.4 L 552.98 2269.17 L 553.8 2264.11 z" clip-path="url(#p8be2cc9b7b)" style="fill: #100788; fill-opacity: 0.6"/>
<path d="M 553.8 2264.11 z" clip-path="url(#p8be2cc9b7b)" style="fill: #20068f; fill-opacity: 0.6"/>
<path d="M 556.73 2268.56 L 558.15 2264.52 L 559.57 2260.77 L 560.46 2264.12 L 561.34 2267.43 L 559.91 2269.16 L 558.43 2265.08 L 557.6 2269.22 z" clip-path="url(#p8be2cc9b7b)" style="fill: #19068c; fill-opacity: 0.6"/>
<path d="M 594.81 2257.11 L 596.3 2253.99 L 597.81 2248.27 L 598.6 2253.79 L 599.4 2256.89 L 597.93 2257.28 L 596.46 2257.2 L 595.63 2257.37 z" clip-path="url(#p8be2cc9b7b)" style="fill: #41049d; fill-opacity: 0.6"/>
<path d="M 578.07 2259.24 L 579.53 2257.66 L 580.99 2256.54 L 581.84 2257.65 L 582.68 2258.78 L 581.21 2260.3 L 579.76 2262.28 L 578.91 2260.75 z" clip-path="url(#p8be2cc9b7b)" style="fill: #330597; fill-opacity: 0.6"/>
<path d="M 616.21 2246.04 L 617.78 2240.02 L 620.07 2240.4 L 620.8 2245.44 L 619.23 2251.59 L 617.7 2254.97 L 616.94 2251.89 z" clip-path="url(#p8be2cc9b7b)" style="fill: #5b01a5; fill-opacity: 0.6"/>
<path d="M 546.02 2268.73 L 547.48 2270.09 L 548.34 2268.93 L 549.17 2264.21 z" clip-path="url(#p8be2cc9b7b)" style="fill: #100788; fill-opacity: 0.6"/>
<path d="M 552.11 2269.4 L 553.52 2265.31 L 554.93 2261.09 L 555.83 2264.92 L 556.73 2268.56 L 555.29 2269.22 L 553.8 2264.11 L 552.98 2269.17 z" clip-path="url(#p8be2cc9b7b)" style="fill: #19068c; fill-opacity: 0.6"/>
<path d="M 549.17 2264.21 z" clip-path="url(#p8be2cc9b7b)" style="fill: #240691; fill-opacity: 0.6"/>
<path d="M 573.45 2259.66 L 574.91 2257.66 L 576.37 2256.13 L 577.22 2257.66 L 578.07 2259.24 L 576.61 2261.19 L 575.16 2263.6 L 574.31 2261.63 z" clip-path="url(#p8be2cc9b7b)" style="fill: #350498; fill-opacity: 0.6"/>
<path d="M 590.21 2257.1 L 591.69 2254.35 L 593.19 2248.74 L 594 2254.18 L 594.81 2257.11 L 593.34 2257.44 L 591.87 2257.77 L 591.04 2257.5 z" clip-path="url(#p8be2cc9b7b)" style="fill: #43039e; fill-opacity: 0.6"/>
<path d="M 611.62 2246.64 L 613.19 2239.55 L 615.49 2239.74 L 616.21 2246.04 L 614.65 2252.17 L 613.14 2255.5 L 612.37 2252.43 z" clip-path="url(#p8be2cc9b7b)" style="fill: #5c01a6; fill-opacity: 0.6"/>
<path d="M 625.38 2244.91 L 624.64 2241.48 z" clip-path="url(#p8be2cc9b7b)" style="fill: #6900a8; fill-opacity: 0.6"/>
<path d="M 541.37 2268.2 L 542.84 2270.64 L 543.7 2268.48 z" clip-path="url(#p8be2cc9b7b)" style="fill: #100788; fill-opacity: 0.6"/>
<path d="M 547.48 2270.09 L 548.88 2266.29 L 550.28 2261.47 L 551.2 2265.76 L 552.11 2269.4 L 550.66 2269.07 L 549.17 2264.21 L 548.34 2268.93 z" clip-path="url(#p8be2cc9b7b)" style="fill: #1b068d; fill-opacity: 0.6"/>
<path d="M 568.83 2260.06 L 570.28 2257.62 L 571.74 2255.68 L 572.6 2257.65 L 573.45 2259.66 L 572 2262.06 L 570.56 2264.89 L 569.7 2262.48 z" clip-path="url(#p8be2cc9b7b)" style="fill: #350498; fill-opacity: 0.6"/>
<path d="M 585.61 2256.89 L 587.08 2254.64 L 588.57 2249.17 L 589.39 2254.5 L 590.21 2257.1 L 588.74 2257.55 L 587.28 2258.29 L 586.44 2257.6 z" clip-path="url(#p8be2cc9b7b)" style="fill: #44039e; fill-opacity: 0.6"/>
<path d="M 607.02 2247.21 L 608.58 2239.41 L 610.89 2239.44 L 611.62 2246.64 L 610.07 2252.69 L 608.56 2255.99 L 607.78 2252.92 z" clip-path="url(#p8be2cc9b7b)" style="fill: #5e01a6; fill-opacity: 0.6"/>
<path d="M 542.84 2270.64 L 544.24 2267.41 L 545.62 2262.17 L 546.56 2266.85 L 547.48 2270.09 L 546.02 2268.73 L 543.7 2268.48 z" clip-path="url(#p8be2cc9b7b)" style="fill: #1b068d; fill-opacity: 0.6"/>
<path d="M 536.72 2268.26 L 538.2 2271.04 L 539.04 2268.07 z" clip-path="url(#p8be2cc9b7b)" style="fill: #130789; fill-opacity: 0.6"/>
<path d="M 564.2 2260.42 L 565.65 2257.56 L 567.09 2255.2 L 567.96 2257.59 L 568.83 2260.06 L 567.39 2262.9 L 565.95 2266.17 L 565.08 2263.31 z" clip-path="url(#p8be2cc9b7b)" style="fill: #370499; fill-opacity: 0.6"/>
<path d="M 622.36 2240.88 L 620.8 2245.44 L 620.07 2240.4 z" clip-path="url(#p8be2cc9b7b)" style="fill: #7100a8; fill-opacity: 0.6"/>
<path d="M 580.99 2256.54 L 582.46 2254.72 L 583.94 2249.53 L 584.77 2254.72 L 585.61 2256.89 L 584.14 2257.63 L 582.68 2258.78 L 581.84 2257.65 z" clip-path="url(#p8be2cc9b7b)" style="fill: #46039f; fill-opacity: 0.6"/>
<path d="M 602.42 2247.76 L 603.97 2239.54 L 606.28 2239.45 L 607.02 2247.21 L 605.49 2253.15 L 603.98 2256.46 L 603.19 2253.37 z" clip-path="url(#p8be2cc9b7b)" style="fill: #6001a6; fill-opacity: 0.6"/>
<path d="M 532.09 2270.21 L 533.55 2271.3 L 534.4 2268.92 z" clip-path="url(#p8be2cc9b7b)" style="fill: #100788; fill-opacity: 0.6"/>
<path d="M 538.2 2271.04 L 539.6 2268.56 L 540.97 2263.2 L 541.92 2267.98 L 542.84 2270.64 L 541.37 2268.2 L 539.04 2268.07 z" clip-path="url(#p8be2cc9b7b)" style="fill: #1b068d; fill-opacity: 0.6"/>
<path d="M 559.57 2260.77 L 561 2257.46 L 562.44 2254.68 L 563.32 2257.51 L 564.2 2260.42 L 562.77 2263.72 L 561.34 2267.43 L 560.46 2264.12 z" clip-path="url(#p8be2cc9b7b)" style="fill: #38049a; fill-opacity: 0.6"/>
<path d="M 576.37 2256.13 L 577.83 2254.49 L 579.3 2249.82 L 580.15 2254.64 L 580.99 2256.54 L 579.53 2257.66 L 578.07 2259.24 L 577.22 2257.66 z" clip-path="url(#p8be2cc9b7b)" style="fill: #4903a0; fill-opacity: 0.6"/>
<path d="M 617.78 2240.02 L 616.21 2246.04 L 615.49 2239.74 z" clip-path="url(#p8be2cc9b7b)" style="fill: #7401a8; fill-opacity: 0.6"/>
<path d="M 533.55 2271.3 L 534.96 2269.71 L 536.31 2264.34 L 537.28 2269.15 L 538.2 2271.04 L 536.72 2268.26 L 534.4 2268.92 z" clip-path="url(#p8be2cc9b7b)" style="fill: #1b068d; fill-opacity: 0.6"/>
<path d="M 528.88 2271.41 z" clip-path="url(#p8be2cc9b7b)" style="fill: #100788; fill-opacity: 0.6"/>
<path d="M 554.93 2261.09 L 556.35 2257.34 L 557.78 2254.13 L 558.67 2257.4 L 559.57 2260.77 L 558.15 2264.52 L 556.73 2268.56 L 555.83 2264.92 z" clip-path="url(#p8be2cc9b7b)" style="fill: #3a049a; fill-opacity: 0.6"/>
<path d="M 597.81 2248.27 L 599.34 2239.89 L 600.87 2234.52 L 601.66 2239.69 L 602.42 2247.76 L 600.9 2253.59 L 599.4 2256.89 L 598.6 2253.79 z" clip-path="url(#p8be2cc9b7b)" style="fill: #6700a8; fill-opacity: 0.6"/>
<path d="M 528.88 2271.41 L 530.31 2270.78 L 531.65 2265.53 L 532.63 2270.26 L 533.55 2271.3 L 532.09 2270.21 z" clip-path="url(#p8be2cc9b7b)" style="fill: #1b068d; fill-opacity: 0.6"/>
<path d="M 571.74 2255.68 L 573.2 2254.01 L 574.65 2250.02 L 575.52 2254.28 L 576.37 2256.13 L 574.91 2257.66 L 573.45 2259.66 L 572.6 2257.65 z" clip-path="url(#p8be2cc9b7b)" style="fill: #4c02a1; fill-opacity: 0.6"/>
<path d="M 613.19 2239.55 L 611.62 2246.64 L 610.89 2239.44 z" clip-path="url(#p8be2cc9b7b)" style="fill: #7701a8; fill-opacity: 0.6"/>
<path d="M 550.28 2261.47 L 551.68 2257.2 L 553.1 2253.55 L 554.02 2257.27 L 554.93 2261.09 L 553.52 2265.31 L 552.11 2269.4 L 551.2 2265.76 z" clip-path="url(#p8be2cc9b7b)" style="fill: #3c049b; fill-opacity: 0.6"/>
<path d="M 524.21 2271.58 z" clip-path="url(#p8be2cc9b7b)" style="fill: #130789; fill-opacity: 0.6"/>
<path d="M 519.56 2273.17 z" clip-path="url(#p8be2cc9b7b)" style="fill: #0d0887; fill-opacity: 0.6"/>
<path d="M 593.19 2248.74 L 594.71 2240.39 L 596.24 2233.27 L 597.03 2240.12 L 597.81 2248.27 L 596.3 2253.99 L 594.81 2257.11 L 594 2254.18 z" clip-path="url(#p8be2cc9b7b)" style="fill: #6900a8; fill-opacity: 0.6"/>
<path d="M 608.58 2239.41 L 607.02 2247.21 L 606.28 2239.45 z" clip-path="url(#p8be2cc9b7b)" style="fill: #7801a8; fill-opacity: 0.6"/>
<path d="M 524.21 2271.58 L 525.65 2271.75 L 526.99 2266.78 L 527.98 2271.28 L 528.88 2271.41 z" clip-path="url(#p8be2cc9b7b)" style="fill: #1b068d; fill-opacity: 0.6"/>
<path d="M 567.09 2255.2 L 568.55 2253.32 L 570 2249.99 L 570.87 2253.69 L 571.74 2255.68 L 570.28 2257.62 L 568.83 2260.06 L 567.96 2257.59 z" clip-path="url(#p8be2cc9b7b)" style="fill: #5102a3; fill-opacity: 0.6"/>
<path d="M 545.62 2262.17 L 547.01 2257.23 L 548.42 2253 L 549.35 2257.18 L 550.28 2261.47 L 548.88 2266.29 L 547.48 2270.09 L 546.56 2266.85 z" clip-path="url(#p8be2cc9b7b)" style="fill: #3c049b; fill-opacity: 0.6"/>
<path d="M 519.56 2273.17 L 520.98 2272.63 L 522.32 2268.1 L 523.32 2272.2 L 524.21 2271.58 z" clip-path="url(#p8be2cc9b7b)" style="fill: #19068c; fill-opacity: 0.6"/>
<path d="M 588.57 2249.17 L 590.07 2240.99 L 591.59 2232.49 L 592.39 2240.68 L 593.19 2248.74 L 591.69 2254.35 L 590.21 2257.1 L 589.39 2254.5 z" clip-path="url(#p8be2cc9b7b)" style="fill: #6a00a8; fill-opacity: 0.6"/>
<path d="M 540.97 2263.2 L 542.34 2257.59 L 543.73 2252.65 L 544.68 2257.36 L 545.62 2262.17 L 544.24 2267.41 L 542.84 2270.64 L 541.92 2267.98 z" clip-path="url(#p8be2cc9b7b)" style="fill: #3c049b; fill-opacity: 0.6"/>
<path d="M 562.44 2254.68 L 563.89 2252.48 L 565.34 2249.6 L 566.22 2252.92 L 567.09 2255.2 L 565.65 2257.56 L 564.2 2260.42 L 563.32 2257.51 z" clip-path="url(#p8be2cc9b7b)" style="fill: #5502a4; fill-opacity: 0.6"/>
<path d="M 516.31 2273.41 L 517.65 2269.51 L 518.65 2273.03 L 519.56 2273.17 z" clip-path="url(#p8be2cc9b7b)" style="fill: #19068c; fill-opacity: 0.6"/>
<path d="M 536.31 2264.34 L 537.67 2258.39 L 539.03 2252.62 L 540 2257.93 L 540.97 2263.2 L 539.6 2268.56 L 538.2 2271.04 L 537.28 2269.15 z" clip-path="url(#p8be2cc9b7b)" style="fill: #3c049b; fill-opacity: 0.6"/>
<path d="M 583.94 2249.53 L 585.43 2241.59 L 586.93 2232.14 L 587.75 2241.3 L 588.57 2249.17 L 587.08 2254.64 L 585.61 2256.89 L 584.77 2254.72 z" clip-path="url(#p8be2cc9b7b)" style="fill: #6c00a8; fill-opacity: 0.6"/>
<path d="M 600.87 2234.52 L 603.97 2239.54 L 602.42 2247.76 L 601.66 2239.69 z" clip-path="url(#p8be2cc9b7b)" style="fill: #8305a7; fill-opacity: 0.6"/>
<path d="M 531.65 2265.53 L 532.99 2259.41 L 534.34 2253.04 L 535.33 2258.89 L 536.31 2264.34 L 534.96 2269.71 L 533.55 2271.3 L 532.63 2270.26 z" clip-path="url(#p8be2cc9b7b)" style="fill: #3a049a; fill-opacity: 0.6"/>
<path d="M 557.78 2254.13 L 559.22 2251.54 L 560.66 2248.89 L 561.56 2252.02 L 562.44 2254.68 L 561 2257.46 L 559.57 2260.77 L 558.67 2257.4 z" clip-path="url(#p8be2cc9b7b)" style="fill: #5901a5; fill-opacity: 0.6"/>
<path d="M 511.63 2274.08 L 512.98 2271.02 L 513.97 2273.76 z" clip-path="url(#p8be2cc9b7b)" style="fill: #1b068d; fill-opacity: 0.6"/>
<path d="M 579.3 2249.82 L 580.77 2242.13 L 582.26 2232.15 L 583.1 2241.87 L 583.94 2249.53 L 582.46 2254.72 L 580.99 2256.54 L 580.15 2254.64 z" clip-path="url(#p8be2cc9b7b)" style="fill: #6f00a8; fill-opacity: 0.6"/>
<path d="M 526.99 2266.78 L 528.31 2260.54 L 529.64 2253.92 L 530.65 2259.96 L 531.65 2265.53 L 530.31 2270.78 L 528.88 2271.41 L 527.98 2271.28 z" clip-path="url(#p8be2cc9b7b)" style="fill: #3a049a; fill-opacity: 0.6"/>
<path d="M 506.96 2275.41 L 508.31 2272.53 L 509.29 2274.54 z" clip-path="url(#p8be2cc9b7b)" style="fill: #16078a; fill-opacity: 0.6"/>
<path d="M 522.32 2268.1 L 523.63 2261.75 L 524.94 2254.93 L 525.97 2261.14 L 526.99 2266.78 L 525.65 2271.75 L 524.21 2271.58 L 523.32 2272.2 z" clip-path="url(#p8be2cc9b7b)" style="fill: #38049a; fill-opacity: 0.6"/>
<path d="M 574.65 2250.02 L 576.11 2242.59 L 577.58 2232.46 L 578.44 2242.37 L 579.3 2249.82 L 577.83 2254.49 L 576.37 2256.13 L 575.52 2254.28 z" clip-path="url(#p8be2cc9b7b)" style="fill: #7100a8; fill-opacity: 0.6"/>
<path d="M 596.24 2233.27 L 600.87 2234.52 L 599.34 2239.89 L 597.81 2248.27 L 597.03 2240.12 z" clip-path="url(#p8be2cc9b7b)" style="fill: #8a09a5; fill-opacity: 0.6"/>
<path d="M 553.1 2253.55 L 554.54 2250.55 L 555.97 2247.91 L 556.88 2251.05 L 557.78 2254.13 L 556.35 2257.34 L 554.93 2261.09 L 554.02 2257.27 z" clip-path="url(#p8be2cc9b7b)" style="fill: #5e01a6; fill-opacity: 0.6"/>
<path d="M 517.65 2269.51 L 518.95 2263.04 L 520.24 2256.03 L 521.29 2262.39 L 522.32 2268.1 L 520.98 2272.63 L 519.56 2273.17 L 518.65 2273.03 z" clip-path="url(#p8be2cc9b7b)" style="fill: #350498; fill-opacity: 0.6"/>
<path d="M 570 2249.99 L 571.45 2242.95 L 572.9 2233.01 L 573.78 2242.78 L 574.65 2250.02 L 573.2 2254.01 L 571.74 2255.68 L 570.87 2253.69 z" clip-path="url(#p8be2cc9b7b)" style="fill: #7401a8; fill-opacity: 0.6"/>
<path d="M 591.59 2232.49 L 596.24 2233.27 L 594.71 2240.39 L 593.19 2248.74 L 592.39 2240.68 z" clip-path="url(#p8be2cc9b7b)" style="fill: #8b0aa5; fill-opacity: 0.6"/>
<path d="M 503.63 2274 z" clip-path="url(#p8be2cc9b7b)" style="fill: #20068f; fill-opacity: 0.6"/>
<path d="M 548.42 2253 L 549.84 2249.52 L 551.27 2246.72 L 552.19 2250.04 L 553.1 2253.55 L 551.68 2257.2 L 550.28 2261.47 L 549.35 2257.18 z" clip-path="url(#p8be2cc9b7b)" style="fill: #6300a7; fill-opacity: 0.6"/>
<path d="M 512.98 2271.02 L 514.26 2264.4 L 515.53 2257.24 L 516.6 2263.71 L 517.65 2269.51 L 516.31 2273.41 L 513.97 2273.76 z" clip-path="url(#p8be2cc9b7b)" style="fill: #38049a; fill-opacity: 0.6"/>
<path d="M 498.95 2275.42 z" clip-path="url(#p8be2cc9b7b)" style="fill: #1b068d; fill-opacity: 0.6"/>
<path d="M 586.93 2232.14 L 591.59 2232.49 L 590.07 2240.99 L 588.57 2249.17 L 587.75 2241.3 z" clip-path="url(#p8be2cc9b7b)" style="fill: #8e0ca4; fill-opacity: 0.6"/>
<path d="M 565.34 2249.6 L 566.78 2243.21 L 568.21 2233.65 L 569.11 2243.1 L 570 2249.99 L 568.55 2253.32 L 567.09 2255.2 L 566.22 2252.92 z" clip-path="url(#p8be2cc9b7b)" style="fill: #7701a8; fill-opacity: 0.6"/>
<path d="M 508.31 2272.53 L 509.57 2265.87 L 510.83 2258.53 L 511.92 2265.12 L 512.98 2271.02 L 511.63 2274.08 L 509.29 2274.54 z" clip-path="url(#p8be2cc9b7b)" style="fill: #350498; fill-opacity: 0.6"/>
<path d="M 494.27 2276.87 z" clip-path="url(#p8be2cc9b7b)" style="fill: #16078a; fill-opacity: 0.6"/>
<path d="M 600.87 2234.52 z" clip-path="url(#p8be2cc9b7b)" style="fill: #9a169f; fill-opacity: 0.6"/>
<path d="M 543.73 2252.65 L 545.13 2248.56 L 546.56 2245.36 L 547.49 2249.03 L 548.42 2253 L 547.01 2257.23 L 545.62 2262.17 L 544.68 2257.36 z" clip-path="url(#p8be2cc9b7b)" style="fill: #6700a8; fill-opacity: 0.6"/>
<path d="M 582.26 2232.15 L 586.93 2232.14 L 585.43 2241.59 L 583.94 2249.53 L 583.1 2241.87 z" clip-path="url(#p8be2cc9b7b)" style="fill: #8f0da4; fill-opacity: 0.6"/>
<path d="M 503.63 2274 L 504.89 2267.45 L 506.12 2259.92 L 507.23 2266.64 L 508.31 2272.53 L 506.96 2275.41 z" clip-path="url(#p8be2cc9b7b)" style="fill: #370499; fill-opacity: 0.6"/>
<path d="M 560.66 2248.89 L 562.09 2243.36 L 563.51 2234.19 L 564.44 2243.3 L 565.34 2249.6 L 563.89 2252.48 L 562.44 2254.68 L 561.56 2252.02 z" clip-path="url(#p8be2cc9b7b)" style="fill: #7a02a8; fill-opacity: 0.6"/>
<path d="M 539.03 2252.62 L 540.42 2247.79 L 541.83 2243.95 L 542.78 2248.15 L 543.73 2252.65 L 542.34 2257.59 L 540.97 2263.2 L 540 2257.93 z" clip-path="url(#p8be2cc9b7b)" style="fill: #6a00a8; fill-opacity: 0.6"/>
<path d="M 596.24 2233.27 z" clip-path="url(#p8be2cc9b7b)" style="fill: #a11b9b; fill-opacity: 0.6"/>
<path d="M 577.58 2232.46 L 582.26 2232.15 L 580.77 2242.13 L 579.3 2249.82 L 578.44 2242.37 z" clip-path="url(#p8be2cc9b7b)" style="fill: #910ea3; fill-opacity: 0.6"/>
<path d="M 498.95 2275.42 L 500.2 2269.16 L 501.41 2261.41 L 502.54 2268.28 L 503.63 2274 z" clip-path="url(#p8be2cc9b7b)" style="fill: #38049a; fill-opacity: 0.6"/>
<path d="M 555.97 2247.91 L 557.4 2243.27 L 558.81 2234.6 L 559.75 2243.37 L 560.66 2248.89 L 559.22 2251.54 L 557.78 2254.13 L 556.88 2251.05 z" clip-path="url(#p8be2cc9b7b)" style="fill: #7e03a8; fill-opacity: 0.6"/>
<path d="M 534.34 2253.04 L 535.7 2247.34 L 537.09 2242.71 L 538.06 2247.52 L 539.03 2252.62 L 537.67 2258.39 L 536.31 2264.34 L 535.33 2258.89 z" clip-path="url(#p8be2cc9b7b)" style="fill: #6c00a8; fill-opacity: 0.6"/>
<path d="M 494.27 2276.87 L 495.51 2271.01 L 496.7 2263.04 L 497.85 2270.06 L 498.95 2275.42 z" clip-path="url(#p8be2cc9b7b)" style="fill: #350498; fill-opacity: 0.6"/>
<path d="M 591.59 2232.49 z" clip-path="url(#p8be2cc9b7b)" style="fill: #a62098; fill-opacity: 0.6"/>
<path d="M 529.64 2253.92 L 530.98 2247.32 L 532.34 2241.79 L 533.34 2247.27 L 534.34 2253.04 L 532.99 2259.41 L 531.65 2265.53 L 530.65 2259.96 z" clip-path="url(#p8be2cc9b7b)" style="fill: #6e00a8; fill-opacity: 0.6"/>
<path d="M 490.83 2273.03 L 492 2264.8 L 493.17 2272 L 494.27 2276.87 z" clip-path="url(#p8be2cc9b7b)" style="fill: #350498; fill-opacity: 0.6"/>
<path d="M 551.27 2246.72 L 552.7 2242.77 L 554.09 2234.88 L 555.05 2243.07 L 555.97 2247.91 L 554.54 2250.55 L 553.1 2253.55 L 552.19 2250.04 z" clip-path="url(#p8be2cc9b7b)" style="fill: #8305a7; fill-opacity: 0.6"/>
<path d="M 524.94 2254.93 L 526.25 2247.89 L 527.59 2241.31 L 528.61 2247.53 L 529.64 2253.92 L 528.31 2260.54 L 526.99 2266.78 L 525.97 2261.14 z" clip-path="url(#p8be2cc9b7b)" style="fill: #6e00a8; fill-opacity: 0.6"/>
<path d="M 586.93 2232.14 z" clip-path="url(#p8be2cc9b7b)" style="fill: #a82296; fill-opacity: 0.6"/>
<path d="M 520.24 2256.03 L 521.53 2248.78 L 522.84 2241.39 L 523.89 2248.32 L 524.94 2254.93 L 523.63 2261.75 L 522.32 2268.1 L 521.29 2262.39 z" clip-path="url(#p8be2cc9b7b)" style="fill: #6c00a8; fill-opacity: 0.6"/>
<path d="M 486.15 2275.2 L 487.29 2266.73 L 488.49 2274.11 z" clip-path="url(#p8be2cc9b7b)" style="fill: #38049a; fill-opacity: 0.6"/>
<path d="M 572.9 2233.01 L 574.36 2224.57 L 576.71 2225.24 L 577.58 2232.46 L 576.11 2242.59 L 574.65 2250.02 L 573.78 2242.78 z" clip-path="url(#p8be2cc9b7b)" style="fill: #a11b9b; fill-opacity: 0.6"/>
<path d="M 546.56 2245.36 L 547.98 2241.88 L 549.37 2235.02 L 550.34 2242.37 L 551.27 2246.72 L 549.84 2249.52 L 548.42 2253 L 547.49 2249.03 z" clip-path="url(#p8be2cc9b7b)" style="fill: #8808a6; fill-opacity: 0.6"/>
<path d="M 481.47 2277.38 L 482.59 2268.83 L 483.81 2276.29 z" clip-path="url(#p8be2cc9b7b)" style="fill: #310597; fill-opacity: 0.6"/>
<path d="M 582.26 2232.15 z" clip-path="url(#p8be2cc9b7b)" style="fill: #ab2494; fill-opacity: 0.6"/>
<path d="M 515.53 2257.24 L 516.81 2249.76 L 518.09 2242.1 L 519.17 2249.26 L 520.24 2256.03 L 518.95 2263.04 L 517.65 2269.51 L 516.6 2263.71 z" clip-path="url(#p8be2cc9b7b)" style="fill: #6a00a8; fill-opacity: 0.6"/>
<path d="M 510.83 2258.53 L 512.08 2250.83 L 513.34 2242.96 L 514.45 2250.28 L 515.53 2257.24 L 514.26 2264.4 L 512.98 2271.02 L 511.92 2265.12 z" clip-path="url(#p8be2cc9b7b)" style="fill: #6700a8; fill-opacity: 0.6"/>
<path d="M 477.9 2271.12 L 479.13 2278.49 z" clip-path="url(#p8be2cc9b7b)" style="fill: #310597; fill-opacity: 0.6"/>
<path d="M 568.21 2233.65 L 569.65 2223.64 L 572.01 2224.04 L 572.9 2233.01 L 571.45 2242.95 L 570 2249.99 L 569.11 2243.1 z" clip-path="url(#p8be2cc9b7b)" style="fill: #a31e9a; fill-opacity: 0.6"/>
<path d="M 506.12 2259.92 L 507.35 2252.01 L 508.59 2243.91 L 509.72 2251.41 L 510.83 2258.53 L 509.57 2265.87 L 508.31 2272.53 L 507.23 2266.64 z" clip-path="url(#p8be2cc9b7b)" style="fill: #6600a7; fill-opacity: 0.6"/>
<path d="M 541.83 2243.95 L 543.25 2240.66 L 544.64 2234.92 L 545.61 2241.31 L 546.56 2245.36 L 545.13 2248.56 L 543.73 2252.65 L 542.78 2248.15 z" clip-path="url(#p8be2cc9b7b)" style="fill: #8e0ca4; fill-opacity: 0.6"/>
<path d="M 501.41 2261.41 L 502.62 2253.28 L 503.84 2244.94 L 504.99 2252.63 L 506.12 2259.92 L 504.89 2267.45 L 503.63 2274 L 502.54 2268.28 z" clip-path="url(#p8be2cc9b7b)" style="fill: #6300a7; fill-opacity: 0.6"/>
<path d="M 563.51 2234.19 L 564.93 2223.22 L 567.29 2223.37 L 568.21 2233.65 L 566.78 2243.21 L 565.34 2249.6 L 564.44 2243.3 z" clip-path="url(#p8be2cc9b7b)" style="fill: #a62098; fill-opacity: 0.6"/>
<path d="M 496.7 2263.04 L 497.89 2254.66 L 499.08 2246.07 L 500.26 2253.96 L 501.41 2261.41 L 500.2 2269.16 L 498.95 2275.42 L 497.85 2270.06 z" clip-path="url(#p8be2cc9b7b)" style="fill: #5e01a6; fill-opacity: 0.6"/>
<path d="M 492 2264.8 L 493.16 2256.17 L 494.33 2247.31 L 495.52 2255.4 L 496.7 2263.04 L 495.51 2271.01 L 494.27 2276.87 L 493.17 2272 z" clip-path="url(#p8be2cc9b7b)" style="fill: #5b01a5; fill-opacity: 0.6"/>
<path d="M 537.09 2242.71 L 538.49 2239.16 L 539.89 2234.35 L 540.87 2239.95 L 541.83 2243.95 L 540.42 2247.79 L 539.03 2252.62 L 538.06 2247.52 z" clip-path="url(#p8be2cc9b7b)" style="fill: #9410a2; fill-opacity: 0.6"/>
<path d="M 468.53 2276.35 z" clip-path="url(#p8be2cc9b7b)" style="fill: #330597; fill-opacity: 0.6"/>
<path d="M 473.21 2273.62 z" clip-path="url(#p8be2cc9b7b)" style="fill: #3c049b; fill-opacity: 0.6"/>
<path d="M 558.81 2234.6 L 560.2 2223.26 L 562.57 2223.19 L 563.51 2234.19 L 562.09 2243.36 L 560.66 2248.89 L 559.75 2243.37 z" clip-path="url(#p8be2cc9b7b)" style="fill: #a72197; fill-opacity: 0.6"/>
<path d="M 577.58 2232.46 L 576.71 2225.24 z" clip-path="url(#p8be2cc9b7b)" style="fill: #b7318a; fill-opacity: 0.6"/>
<path d="M 487.29 2266.73 L 488.43 2257.81 L 489.57 2248.67 L 490.79 2256.97 L 492 2264.8 L 490.83 2273.03 L 488.49 2274.11 z" clip-path="url(#p8be2cc9b7b)" style="fill: #6001a6; fill-opacity: 0.6"/>
<path d="M 554.09 2234.88 L 555.47 2223.69 L 557.84 2223.43 L 558.81 2234.6 L 557.4 2243.27 L 555.97 2247.91 L 555.05 2243.07 z" clip-path="url(#p8be2cc9b7b)" style="fill: #aa2395; fill-opacity: 0.6"/>
<path d="M 482.59 2268.83 L 483.7 2259.61 L 484.81 2250.19 L 486.06 2258.69 L 487.29 2266.73 L 486.15 2275.2 L 483.81 2276.29 z" clip-path="url(#p8be2cc9b7b)" style="fill: #5901a5; fill-opacity: 0.6"/>
<path d="M 532.34 2241.79 L 533.73 2237.48 L 535.13 2233.33 L 536.11 2238.32 L 537.09 2242.71 L 535.7 2247.34 L 534.34 2253.04 L 533.34 2247.27 z" clip-path="url(#p8be2cc9b7b)" style="fill: #99159f; fill-opacity: 0.6"/>
<path d="M 477.9 2271.12 L 478.97 2261.59 L 480.06 2251.89 L 481.34 2260.58 L 482.59 2268.83 L 481.47 2277.38 L 479.13 2278.49 z" clip-path="url(#p8be2cc9b7b)" style="fill: #5502a4; fill-opacity: 0.6"/>
<path d="M 574.36 2224.57 L 572.9 2233.01 L 572.01 2224.04 z" clip-path="url(#p8be2cc9b7b)" style="fill: #be3885; fill-opacity: 0.6"/>
<path d="M 527.59 2241.31 L 528.95 2236.05 L 530.34 2231.92 L 531.34 2236.72 L 532.34 2241.79 L 530.98 2247.32 L 529.64 2253.92 L 528.61 2247.53 z" clip-path="url(#p8be2cc9b7b)" style="fill: #9d189d; fill-opacity: 0.6"/>
<path d="M 569.65 2223.64 L 568.21 2233.65 L 567.29 2223.37 z" clip-path="url(#p8be2cc9b7b)" style="fill: #c03a83; fill-opacity: 0.6"/>
<path d="M 549.37 2235.02 L 550.73 2224.33 L 552.12 2214.46 L 553.1 2224.02 L 554.09 2234.88 L 552.7 2242.77 L 551.27 2246.72 L 550.34 2242.37 z" clip-path="url(#p8be2cc9b7b)" style="fill: #b42e8d; fill-opacity: 0.6"/>
<path d="M 522.84 2241.39 L 524.17 2235.05 L 525.54 2230.17 L 526.56 2235.48 L 527.59 2241.31 L 526.25 2247.89 L 524.94 2254.93 L 523.89 2248.32 z" clip-path="url(#p8be2cc9b7b)" style="fill: #a11b9b; fill-opacity: 0.6"/>
<path d="M 463.86 2279.3 L 464.84 2268.85 L 465.83 2258.31 L 467.19 2267.48 L 468.53 2276.35 z" clip-path="url(#p8be2cc9b7b)" style="fill: #5102a3; fill-opacity: 0.6"/>
<path d="M 473.21 2273.62 L 474.26 2263.77 L 475.31 2253.79 L 476.61 2262.65 L 477.9 2271.12 z" clip-path="url(#p8be2cc9b7b)" style="fill: #6100a7; fill-opacity: 0.6"/>
<path d="M 468.53 2276.35 L 469.54 2266.18 L 470.57 2255.92 L 471.9 2264.95 L 473.21 2273.62 z" clip-path="url(#p8be2cc9b7b)" style="fill: #5901a5; fill-opacity: 0.6"/>
<path d="M 564.93 2223.22 L 563.51 2234.19 L 562.57 2223.19 z" clip-path="url(#p8be2cc9b7b)" style="fill: #c23c81; fill-opacity: 0.6"/>
<path d="M 518.09 2242.1 L 519.39 2234.61 L 520.72 2228.61 L 521.78 2234.75 L 522.84 2241.39 L 521.53 2248.78 L 520.24 2256.03 L 519.17 2249.26 z" clip-path="url(#p8be2cc9b7b)" style="fill: #a21d9a; fill-opacity: 0.6"/>
<path d="M 544.64 2234.92 L 545.99 2224.84 L 547.34 2213.53 L 548.36 2224.61 L 549.37 2235.02 L 547.98 2241.88 L 546.56 2245.36 L 545.61 2241.31 z" clip-path="url(#p8be2cc9b7b)" style="fill: #b7318a; fill-opacity: 0.6"/>
<path d="M 560.2 2223.26 L 558.81 2234.6 L 557.84 2223.43 z" clip-path="url(#p8be2cc9b7b)" style="fill: #c33d80; fill-opacity: 0.6"/>
<path d="M 513.34 2242.96 L 514.61 2234.88 L 515.9 2227.61 L 517 2234.65 L 518.09 2242.1 L 516.81 2249.76 L 515.53 2257.24 L 514.45 2250.28 z" clip-path="url(#p8be2cc9b7b)" style="fill: #a21d9a; fill-opacity: 0.6"/>
<path d="M 539.89 2234.35 L 541.23 2225.19 L 542.55 2213.21 L 543.61 2225.04 L 544.64 2234.92 L 543.25 2240.66 L 541.83 2243.95 L 540.87 2239.95 z" clip-path="url(#p8be2cc9b7b)" style="fill: #bb3488; fill-opacity: 0.6"/>
<path d="M 508.59 2243.91 L 509.84 2235.64 L 511.09 2227.31 L 512.22 2235.25 L 513.34 2242.96 L 512.08 2250.83 L 510.83 2258.53 L 509.72 2251.41 z" clip-path="url(#p8be2cc9b7b)" style="fill: #a21d9a; fill-opacity: 0.6"/>
<path d="M 503.84 2244.94 L 505.06 2236.46 L 506.29 2227.79 L 507.45 2236.04 L 508.59 2243.91 L 507.35 2252.01 L 506.12 2259.92 L 504.99 2252.63 z" clip-path="url(#p8be2cc9b7b)" style="fill: #a11b9b; fill-opacity: 0.6"/>
<path d="M 535.13 2233.33 L 536.47 2225.35 L 537.77 2213.43 L 538.85 2225.29 L 539.89 2234.35 L 538.49 2239.16 L 537.09 2242.71 L 536.11 2238.32 z" clip-path="url(#p8be2cc9b7b)" style="fill: #be3885; fill-opacity: 0.6"/>
<path d="M 499.08 2246.07 L 500.28 2237.37 L 501.49 2228.51 L 502.67 2236.91 L 503.84 2244.94 L 502.62 2253.28 L 501.41 2261.41 L 500.26 2253.96 z" clip-path="url(#p8be2cc9b7b)" style="fill: #a01a9c; fill-opacity: 0.6"/>
<path d="M 552.12 2214.46 L 555.47 2223.69 L 554.09 2234.88 L 553.1 2224.02 z" clip-path="url(#p8be2cc9b7b)" style="fill: #cc4778; fill-opacity: 0.6"/>
<path d="M 494.33 2247.31 L 495.5 2238.35 L 496.69 2229.29 L 497.89 2237.85 L 499.08 2246.07 L 497.89 2254.66 L 496.7 2263.04 L 495.52 2255.4 z" clip-path="url(#p8be2cc9b7b)" style="fill: #9e199d; fill-opacity: 0.6"/>
<path d="M 489.57 2248.67 L 490.72 2239.44 L 491.88 2230.15 L 493.11 2238.88 L 494.33 2247.31 L 493.16 2256.17 L 492 2264.8 L 490.79 2256.97 z" clip-path="url(#p8be2cc9b7b)" style="fill: #9c179e; fill-opacity: 0.6"/>
<path d="M 530.34 2231.92 L 531.69 2225.28 L 532.98 2214.03 L 534.08 2225.36 L 535.13 2233.33 L 533.73 2237.48 L 532.34 2241.79 L 531.34 2236.72 z" clip-path="url(#p8be2cc9b7b)" style="fill: #c13b82; fill-opacity: 0.6"/>
<path d="M 484.81 2250.19 L 485.93 2240.69 L 487.06 2231.11 L 488.33 2240.04 L 489.57 2248.67 L 488.43 2257.81 L 487.29 2266.73 L 486.06 2258.69 z" clip-path="url(#p8be2cc9b7b)" style="fill: #99159f; fill-opacity: 0.6"/>
<path d="M 480.06 2251.89 L 481.15 2242.1 L 482.25 2232.24 L 483.54 2241.37 L 484.81 2250.19 L 483.7 2259.61 L 482.59 2268.83 L 481.34 2260.58 z" clip-path="url(#p8be2cc9b7b)" style="fill: #9511a1; fill-opacity: 0.6"/>
<path d="M 547.34 2213.53 L 552.12 2214.46 L 550.73 2224.33 L 549.37 2235.02 L 548.36 2224.61 z" clip-path="url(#p8be2cc9b7b)" style="fill: #d24f71; fill-opacity: 0.6"/>
<path d="M 475.31 2253.79 L 476.37 2243.72 L 477.44 2233.57 L 478.76 2242.89 L 480.06 2251.89 L 478.97 2261.59 L 477.9 2271.12 L 476.61 2262.65 z" clip-path="url(#p8be2cc9b7b)" style="fill: #920fa3; fill-opacity: 0.6"/>
<path d="M 470.57 2255.92 L 471.6 2245.57 L 472.64 2235.13 L 473.98 2244.62 L 475.31 2253.79 L 474.26 2263.77 L 473.21 2273.62 L 471.9 2264.95 z" clip-path="url(#p8be2cc9b7b)" style="fill: #8d0ba5; fill-opacity: 0.6"/>
<path d="M 465.83 2258.31 L 466.83 2247.67 L 467.84 2236.94 L 469.22 2246.59 L 470.57 2255.92 L 469.54 2266.18 L 468.53 2276.35 L 467.19 2267.48 z" clip-path="url(#p8be2cc9b7b)" style="fill: #8707a6; fill-opacity: 0.6"/>
<path d="M 525.54 2230.17 L 526.9 2224.7 L 528.18 2214.49 L 529.3 2225.06 L 530.34 2231.92 L 528.95 2236.05 L 527.59 2241.31 L 526.56 2235.48 z" clip-path="url(#p8be2cc9b7b)" style="fill: #c5407e; fill-opacity: 0.6"/>
<path d="M 542.55 2213.21 L 547.34 2213.53 L 545.99 2224.84 L 544.64 2234.92 L 543.61 2225.04 z" clip-path="url(#p8be2cc9b7b)" style="fill: #d45270; fill-opacity: 0.6"/>
<path d="M 520.72 2228.61 L 522.08 2223.61 L 523.38 2214.73 L 524.49 2224.22 L 525.54 2230.17 L 524.17 2235.05 L 522.84 2241.39 L 521.78 2234.75 z" clip-path="url(#p8be2cc9b7b)" style="fill: #c9447a; fill-opacity: 0.6"/>
<path d="M 537.77 2213.43 L 542.55 2213.21 L 541.23 2225.19 L 539.89 2234.35 L 538.85 2225.29 z" clip-path="url(#p8be2cc9b7b)" style="fill: #d5536f; fill-opacity: 0.6"/>
<path d="M 515.9 2227.61 L 517.25 2222.05 L 518.56 2214.74 L 519.67 2222.89 L 520.72 2228.61 L 519.39 2234.61 L 518.09 2242.1 L 517 2234.65 z" clip-path="url(#p8be2cc9b7b)" style="fill: #cc4778; fill-opacity: 0.6"/>
<path d="M 532.98 2214.03 L 537.77 2213.43 L 536.47 2225.35 L 535.13 2233.33 L 534.08 2225.36 z" clip-path="url(#p8be2cc9b7b)" style="fill: #d6556d; fill-opacity: 0.6"/>
<path d="M 552.12 2214.46 z" clip-path="url(#p8be2cc9b7b)" style="fill: #e26660; fill-opacity: 0.6"/>
<path d="M 511.09 2227.31 L 512.39 2220.45 L 513.72 2214.2 L 514.82 2221.18 L 515.9 2227.61 L 514.61 2234.88 L 513.34 2242.96 L 512.22 2235.25 z" clip-path="url(#p8be2cc9b7b)" style="fill: #ce4b75; fill-opacity: 0.6"/>
<path d="M 547.34 2213.53 z" clip-path="url(#p8be2cc9b7b)" style="fill: #e56b5d; fill-opacity: 0.6"/>
<path d="M 506.29 2227.79 L 507.54 2219.54 L 508.85 2213.08 L 509.97 2219.9 L 511.09 2227.31 L 509.84 2235.64 L 508.59 2243.91 L 507.45 2236.04 z" clip-path="url(#p8be2cc9b7b)" style="fill: #d04d73; fill-opacity: 0.6"/>
<path d="M 528.18 2214.49 L 529.47 2203.52 L 532.98 2214.03 L 531.69 2225.28 L 530.34 2231.92 L 529.3 2225.06 z" clip-path="url(#p8be2cc9b7b)" style="fill: #de6164; fill-opacity: 0.6"/>
<path d="M 542.55 2213.21 z" clip-path="url(#p8be2cc9b7b)" style="fill: #e76f5a; fill-opacity: 0.6"/>
<path d="M 501.49 2228.51 L 502.7 2219.45 L 503.96 2211.63 L 505.12 2219.38 L 506.29 2227.79 L 505.06 2236.46 L 503.84 2244.94 L 502.67 2236.91 z" clip-path="url(#p8be2cc9b7b)" style="fill: #d14e72; fill-opacity: 0.6"/>
<path d="M 537.77 2213.43 z" clip-path="url(#p8be2cc9b7b)" style="fill: #e87059; fill-opacity: 0.6"/>
<path d="M 496.69 2229.29 L 497.87 2220.05 L 499.08 2210.88 L 500.29 2219.73 L 501.49 2228.51 L 500.28 2237.37 L 499.08 2246.07 L 497.89 2237.85 z" clip-path="url(#p8be2cc9b7b)" style="fill: #d14e72; fill-opacity: 0.6"/>
<path d="M 532.98 2214.03 z" clip-path="url(#p8be2cc9b7b)" style="fill: #e87059; fill-opacity: 0.6"/>
<path d="M 491.88 2230.15 L 493.04 2220.72 L 494.21 2211.07 L 495.46 2220.38 L 496.69 2229.29 L 495.5 2238.35 L 494.33 2247.31 L 493.11 2238.88 z" clip-path="url(#p8be2cc9b7b)" style="fill: #d14e72; fill-opacity: 0.6"/>
<path d="M 523.38 2214.73 L 524.62 2202.74 L 527.05 2203.04 L 528.18 2214.49 L 526.9 2224.7 L 525.54 2230.17 L 524.49 2224.22 z" clip-path="url(#p8be2cc9b7b)" style="fill: #e56b5d; fill-opacity: 0.6"/>
<path d="M 487.06 2231.11 L 488.2 2221.45 L 489.35 2211.65 L 490.62 2221.08 L 491.88 2230.15 L 490.72 2239.44 L 489.57 2248.67 L 488.33 2240.04 z" clip-path="url(#p8be2cc9b7b)" style="fill: #d04d73; fill-opacity: 0.6"/>
<path d="M 482.25 2232.24 L 483.36 2222.29 L 484.48 2212.26 L 485.78 2221.85 L 487.06 2231.11 L 485.93 2240.69 L 484.81 2250.19 L 483.54 2241.37 z" clip-path="url(#p8be2cc9b7b)" style="fill: #cf4c74; fill-opacity: 0.6"/>
<path d="M 518.56 2214.74 L 519.78 2202.67 L 522.2 2202.62 L 523.38 2214.73 L 522.08 2223.61 L 520.72 2228.61 L 519.67 2222.89 z" clip-path="url(#p8be2cc9b7b)" style="fill: #e76f5a; fill-opacity: 0.6"/>
<path d="M 477.44 2233.57 L 478.53 2223.33 L 479.62 2213 L 480.94 2222.78 L 482.25 2232.24 L 481.15 2242.1 L 480.06 2251.89 L 478.76 2242.89 z" clip-path="url(#p8be2cc9b7b)" style="fill: #cd4a76; fill-opacity: 0.6"/>
<path d="M 472.64 2235.13 L 473.69 2224.59 L 474.75 2213.97 L 476.11 2223.93 L 477.44 2233.57 L 476.37 2243.72 L 475.31 2253.79 L 473.98 2244.62 z" clip-path="url(#p8be2cc9b7b)" style="fill: #cc4778; fill-opacity: 0.6"/>
<path d="M 467.84 2236.94 L 468.86 2226.11 L 469.89 2215.18 L 471.27 2225.32 L 472.64 2235.13 L 471.6 2245.57 L 470.57 2255.92 L 469.22 2246.59 z" clip-path="url(#p8be2cc9b7b)" style="fill: #ca457a; fill-opacity: 0.6"/>
<path d="M 513.72 2214.2 L 514.94 2203.16 L 517.36 2202.88 L 518.56 2214.74 L 517.25 2222.05 L 515.9 2227.61 L 514.82 2221.18 z" clip-path="url(#p8be2cc9b7b)" style="fill: #e97257; fill-opacity: 0.6"/>
<path d="M 508.85 2213.08 L 510.09 2203.54 L 512.51 2203.38 L 513.72 2214.2 L 512.39 2220.45 L 511.09 2227.31 L 509.97 2219.9 z" clip-path="url(#p8be2cc9b7b)" style="fill: #eb7655; fill-opacity: 0.6"/>
<path d="M 529.47 2203.52 L 528.18 2214.49 L 527.05 2203.04 z" clip-path="url(#p8be2cc9b7b)" style="fill: #f48948; fill-opacity: 0.6"/>
<path d="M 503.96 2211.63 L 505.22 2203.66 L 507.66 2203.64 L 508.85 2213.08 L 507.54 2219.54 L 506.29 2227.79 L 505.12 2219.38 z" clip-path="url(#p8be2cc9b7b)" style="fill: #ed7a52; fill-opacity: 0.6"/>
<path d="M 524.62 2202.74 L 523.38 2214.73 L 522.2 2202.62 z" clip-path="url(#p8be2cc9b7b)" style="fill: #f58c46; fill-opacity: 0.6"/>
<path d="M 519.78 2202.67 L 518.56 2214.74 L 517.36 2202.88 z" clip-path="url(#p8be2cc9b7b)" style="fill: #f68d45; fill-opacity: 0.6"/>
<path d="M 514.94 2203.16 L 513.72 2214.2 L 512.51 2203.38 z" clip-path="url(#p8be2cc9b7b)" style="fill: #f79044; fill-opacity: 0.6"/>
<path d="M 499.08 2210.88 L 500.33 2203.22 L 501.5 2191.87 L 502.78 2203.52 L 503.96 2211.63 L 502.7 2219.45 L 501.49 2228.51 L 500.29 2219.73 z" clip-path="url(#p8be2cc9b7b)" style="fill: #f3854b; fill-opacity: 0.6"/>
<path d="M 510.09 2203.54 L 508.85 2213.08 L 507.66 2203.64 z" clip-path="url(#p8be2cc9b7b)" style="fill: #f79342; fill-opacity: 0.6"/>
<path d="M 494.21 2211.07 L 495.42 2202.19 L 496.6 2192.18 L 497.88 2202.76 L 499.08 2210.88 L 497.87 2220.05 L 496.69 2229.29 L 495.46 2220.38 z" clip-path="url(#p8be2cc9b7b)" style="fill: #f48849; fill-opacity: 0.6"/>
<path d="M 489.35 2211.65 L 490.51 2201.69 L 491.69 2192.45 L 492.96 2201.81 L 494.21 2211.07 L 493.04 2220.72 L 491.88 2230.15 L 490.62 2221.08 z" clip-path="url(#p8be2cc9b7b)" style="fill: #f48948; fill-opacity: 0.6"/>
<path d="M 484.48 2212.26 L 485.61 2202.08 L 486.76 2192.17 L 488.06 2201.83 L 489.35 2211.65 L 488.2 2221.45 L 487.06 2231.11 L 485.78 2221.85 z" clip-path="url(#p8be2cc9b7b)" style="fill: #f48948; fill-opacity: 0.6"/>
<path d="M 479.62 2213 L 480.72 2202.59 L 481.82 2192.01 L 483.16 2202.33 L 484.48 2212.26 L 483.36 2222.29 L 482.25 2232.24 L 480.94 2222.78 z" clip-path="url(#p8be2cc9b7b)" style="fill: #f48948; fill-opacity: 0.6"/>
<path d="M 501.5 2191.87 L 505.22 2203.66 L 503.96 2211.63 L 502.78 2203.52 z" clip-path="url(#p8be2cc9b7b)" style="fill: #fca338; fill-opacity: 0.6"/>
<path d="M 474.75 2213.97 L 475.82 2203.25 L 476.89 2192.44 L 478.27 2202.89 L 479.62 2213 L 478.53 2223.33 L 477.44 2233.57 L 476.11 2223.93 z" clip-path="url(#p8be2cc9b7b)" style="fill: #f48948; fill-opacity: 0.6"/>
<path d="M 469.89 2215.18 L 470.92 2204.15 L 471.97 2193.03 L 473.37 2203.67 L 474.75 2213.97 L 473.69 2224.59 L 472.64 2235.13 L 471.27 2225.32 z" clip-path="url(#p8be2cc9b7b)" style="fill: #f48849; fill-opacity: 0.6"/>
<path d="M 496.6 2192.18 L 501.5 2191.87 L 500.33 2203.22 L 499.08 2210.88 L 497.88 2202.76 z" clip-path="url(#p8be2cc9b7b)" style="fill: #fdaf31; fill-opacity: 0.6"/>
<path d="M 491.69 2192.45 L 496.6 2192.18 L 495.42 2202.19 L 494.21 2211.07 L 492.96 2201.81 z" clip-path="url(#p8be2cc9b7b)" style="fill: #fdb22f; fill-opacity: 0.6"/>
<path d="M 486.76 2192.17 L 491.69 2192.45 L 490.51 2201.69 L 489.35 2211.65 L 488.06 2201.83 z" clip-path="url(#p8be2cc9b7b)" style="fill: #fdb42f; fill-opacity: 0.6"/>
<path d="M 481.82 2192.01 L 486.76 2192.17 L 485.61 2202.08 L 484.48 2212.26 L 483.16 2202.33 z" clip-path="url(#p8be2cc9b7b)" style="fill: #feb72d; fill-opacity: 0.6"/>
<path d="M 501.5 2191.87 z" clip-path="url(#p8be2cc9b7b)" style="fill: #fcd025; fill-opacity: 0.6"/>
<path d="M 496.6 2192.18 z" clip-path="url(#p8be2cc9b7b)" style="fill: #fcd025; fill-opacity: 0.6"/>
<path d="M 491.69 2192.45 z" clip-path="url(#p8be2cc9b7b)" style="fill: #fcd225; fill-opacity: 0.6"/>
<path d="M 486.76 2192.17 z" clip-path="url(#p8be2cc9b7b)" style="fill: #fbd724; fill-opacity: 0.6"/>
<path d="M 476.89 2192.44 L 477.98 2181.53 L 480.46 2181.41 L 481.82 2192.01 L 480.72 2202.59 L 479.62 2213 L 478.27 2202.89 z" clip-path="url(#p8be2cc9b7b)" style="fill: #fccd25; fill-opacity: 0.6"/>
<path d="M 471.97 2193.03 L 473.02 2181.8 L 475.5 2181.63 L 476.89 2192.44 L 475.82 2203.25 L 474.75 2213.97 L 473.37 2203.67 z" clip-path="url(#p8be2cc9b7b)" style="fill: #fccd25; fill-opacity: 0.6"/>
<path d="M 481.82 2192.01 L 480.46 2181.41 z" clip-path="url(#p8be2cc9b7b)" style="fill: #f3f027; fill-opacity: 0.6"/>
<path d="M 477.98 2181.53 L 476.89 2192.44 L 475.5 2181.63 z" clip-path="url(#p8be2cc9b7b)" style="fill: #f0f921; fill-opacity: 0.6"/></g>
<g><text style="font-size: 9.29px; text-anchor: middle; fill: #111111; stroke: #111111; stroke-width: 0.15" x="575.75" y="2063.96">3D Scatter Plot with Fitted Surface (Interpolated)</text></g>
<g><defs>
<path id="C2_0_f52a0d4f5b" d="M 0 2.4 C 0.64 2.4 1.25 2.15 1.7 1.7 C 2.15 1.25 2.4 0.64 2.4 -0 C 2.4 -0.64 2.15 -1.25 1.7 -1.7 C 1.25 -2.15 0.64 -2.4 0 -2.4 C -0.64 -2.4 -1.25 -2.15 -1.7 -1.7 C -2.15 -1.25 -2.4 -0.64 -2.4 0 C -2.4 0.64 -2.15 1.25 -1.7 1.7 C -1.25 2.15 -0.64 2.4 0 2.4 z"/>
</defs>
<g clip-path="url(#p8be2cc9b7b)">
<use href="#C2_0_f52a0d4f5b" x="692.25" y="2243.9" style="fill: #0000ff; fill-opacity: 0.3"/></g>
<g clip-path="url(#p8be2cc9b7b)">
<use href="#C2_0_f52a0d4f5b" x="670.03" y="2216.45" style="fill: #0000ff; fill-opacity: 0.31"/></g>
<g clip-path="url(#p8be2cc9b7b)">
<use href="#C2_0_f52a0d4f5b" x="692.37" y="2240.85" style="fill: #0000ff; fill-opacity: 0.31"/></g>
<g clip-path="url(#p8be2cc9b7b)">
<use href="#C2_0_f52a0d4f5b" x="623.79" y="2258.17" style="fill: #0000ff; fill-opacity: 0.36"/></g>
<g clip-path="url(#p8be2cc9b7b)">
<use href="#C2_0_f52a0d4f5b" x="670.68" y="2196.04" style="fill: #0000ff; fill-opacity: 0.37"/></g>
<g clip-path="url(#p8be2cc9b7b)">
<use href="#C2_0_f52a0d4f5b" x="623.87" y="2253.34" style="fill: #0000ff; fill-opacity: 0.38"/></g>
<g clip-path="url(#p8be2cc9b7b)">
<use href="#C2_0_f52a0d4f5b" x="554.4" y="2269.07" style="fill: #0000ff; fill-opacity: 0.43"/></g>
<g clip-path="url(#p8be2cc9b7b)">
<use href="#C2_0_f52a0d4f5b" x="554.39" y="2267.79" style="fill: #0000ff; fill-opacity: 0.44"/></g>
<g clip-path="url(#p8be2cc9b7b)">
<use href="#C2_0_f52a0d4f5b" x="463.95" y="2281.37" style="fill: #0000ff; fill-opacity: 0.59"/></g>
<g clip-path="url(#p8be2cc9b7b)">
<use href="#C2_0_f52a0d4f5b" x="463.86" y="2279.3" style="fill: #0000ff; fill-opacity: 0.59"/></g>
<g clip-path="url(#p8be2cc9b7b)">
<use href="#C2_0_f52a0d4f5b" x="476.4" y="2261.62" style="fill: #0000ff; fill-opacity: 0.71"/></g>
<g clip-path="url(#p8be2cc9b7b)">
<use href="#C2_0_f52a0d4f5b" x="473.32" y="2178.62" style="fill: #0000ff"/></g></g>
<g><g><path d="M 665.38 2086.15 L 721.58 2086.15 Q 723.13 2086.15 723.13 2084.6 L 723.13 2074.02 Q 723.13 2072.47 721.58 2072.47 L 665.38 2072.47 Q 663.83 2072.47 663.83 2074.02 L 663.83 2084.6 Q 663.83 2086.15 665.38 2086.15 z" style="fill: #ffffff; opacity: 0.8; stroke: #cccccc; stroke-width: 0.77; stroke-linejoin: miter"/></g>
<g><defs>
<path id="ma0c81cf114" d="M 0 2.4 C 0.64 2.4 1.25 2.15 1.7 1.7 C 2.15 1.25 2.4 0.64 2.4 0 C 2.4 -0.64 2.15 -1.25 1.7 -1.7 C 1.25 -2.15 0.64 -2.4 0 -2.4 C -0.64 -2.4 -1.25 -2.15 -1.7 -1.7 C -2.15 -1.25 -2.4 -0.64 -2.4 0 C -2.4 0.64 -2.15 1.25 -1.7 1.7 C -1.25 2.15 -0.64 2.4 0 2.4 z"/>
</defs>
<g><use href="#ma0c81cf114" x="674.67" y="2079.42" style="fill: #0000ff"/></g></g>
<g><text style="font-size: 7.74px; text-anchor: start; fill: #111111; stroke: #111111; stroke-width: 0.15" x="688.6" y="2081.45">Actual Y</text></g></g></g>
<g><g><path d="M 797.9 2349.5 L 1087.8 2349.5 L 1087.8 2079.5 L 797.9 2079.5 z" style="fill: #ffffff"/></g>
<g><path d="M 897.46 2245.88 L 897.48 2245.86 L 897.46 2245.71 L 897.39 2245.86 z M 900.39 2243.15 L 902.92 2240.41 L 900.32 2240.41 L 900.24 2243.14 z M 903.32 2240.33 L 905.83 2237.68 L 903.32 2237.34 L 902.99 2237.68 z M 906.25 2237.44 L 908.64 2234.95 L 906.25 2234.32 L 905.68 2234.95 z M 909.17 2234.57 L 935.53 2207.41 L 939.77 2202.23 L 938.46 2200.31 L 917.91 2221.32 L 908.33 2232.23 z M 941.39 2200.37 L 942.1 2199.5 L 941.39 2197.52 L 939.7 2199.5 z M 944.31 2196.86 L 944.39 2196.77 L 944.31 2196.22 L 943.66 2196.77 z" clip-path="url(#p6c5fed2d78)" style="fill: #130789; stroke: #130789; stroke-width: 1.1"/>
<path d="M 830.53 2314.05 L 833.39 2310.99 L 830.11 2314.48 z M 848.59 2294.95 L 929.5 2215.86 L 944.57 2199.5 L 953.25 2188.59 L 954.54 2185.86 L 953.1 2185.05 L 950.17 2187.52 L 932.41 2204.95 L 904.4 2234.95 L 896.03 2243.14 L 894.53 2244.78 L 894.53 2245.86 L 882.82 2257.56 L 876.96 2262.23 L 876.96 2264.95 L 862.32 2278.59 L 862.32 2281.32 L 847.68 2294.95 L 847.68 2295.92 z M 897.39 2245.86 L 897.46 2245.71 L 897.48 2245.86 L 897.46 2245.88 z M 900.24 2243.14 L 900.32 2240.41 L 902.92 2240.41 L 900.39 2243.15 z M 902.99 2237.68 L 903.32 2237.34 L 905.83 2237.68 L 903.32 2240.33 z M 905.68 2234.95 L 906.25 2234.32 L 908.64 2234.95 L 906.25 2237.44 z M 908.33 2232.23 L 917.91 2221.32 L 938.46 2200.31 L 939.77 2202.23 L 935.53 2207.41 L 909.17 2234.57 z M 939.7 2199.5 L 941.39 2197.52 L 942.1 2199.5 L 941.39 2200.37 z M 943.66 2196.77 L 944.31 2196.22 L 944.39 2196.77 L 944.31 2196.86 z M 956.03 2183.24 L 956.08 2183.14 L 956.03 2183.09 L 955.98 2183.14 z" clip-path="url(#p6c5fed2d78)" style="fill: #20068f; stroke: #20068f; stroke-width: 1.1"/>
<path d="M 815.78 2330.41 L 819.04 2327.08 L 815.47 2330.73 z M 831.45 2314.05 L 861.01 2284.05 L 939.48 2207.68 L 951.75 2194.05 L 957.97 2185.86 L 962.88 2177.68 L 961.88 2175.79 L 958.96 2177.58 L 950.17 2185.77 L 918.87 2218.59 L 910.34 2226.77 L 909.17 2228.1 L 909.17 2229.5 L 894.53 2243.14 L 894.53 2244.78 L 897.46 2241.98 L 932.41 2204.95 L 953.1 2185.05 L 954.54 2185.86 L 953.25 2188.59 L 944.57 2199.5 L 934.76 2210.41 L 913.21 2232.23 L 851.06 2292.23 L 847.68 2295.92 L 847.68 2297.68 L 833.06 2311.32 L 830.11 2314.48 L 830.11 2315.44 z M 955.98 2183.14 L 956.03 2183.09 L 956.08 2183.14 L 956.03 2183.24 z M 879.89 2259.98 L 888.8 2251.2 L 879.03 2260.31 z" clip-path="url(#p6c5fed2d78)" style="fill: #2a0593; stroke: #2a0593; stroke-width: 1.1"/>
<path d="M 800.48 2347.1 L 797.9 2349.5 L 798.18 2349.5 z M 816.45 2330.41 L 827.03 2319.64 L 818.45 2327.68 L 815.47 2330.73 L 815.47 2331.42 z M 832.38 2314.05 L 881.72 2264.95 L 939.26 2210.41 L 952.89 2196.77 L 957.84 2191.32 L 963.69 2183.14 L 969.22 2172.23 L 969.87 2169.5 L 967.74 2168.96 L 961.88 2173.75 L 943.94 2191.32 L 926.74 2209.17 L 926.74 2210.05 L 953.1 2182.94 L 958.96 2177.58 L 961.88 2175.79 L 962.88 2177.68 L 957.97 2185.86 L 951.75 2194.05 L 939.48 2207.68 L 858.26 2286.77 L 833.04 2312.34 L 830.11 2315.44 L 830.11 2316.41 z M 897.46 2240.57 L 901.35 2236.79 L 896.16 2241.62 z M 910.34 2226.77 L 924.48 2212.52 L 909.17 2226.77 L 909.17 2228.1 z" clip-path="url(#p6c5fed2d78)" style="fill: #330597; stroke: #330597; stroke-width: 1.1"/>
<path d="M 800.83 2347.32 L 806.02 2341.94 L 800.48 2347.1 L 798.18 2349.5 L 798.74 2349.5 z M 817.13 2330.41 L 859.39 2287.84 L 903.32 2245.17 L 947.24 2205.99 L 967.74 2190.59 L 976.53 2183.15 L 1011.78 2150.41 L 1022.28 2139.5 L 1020.45 2138.59 L 988.24 2165.38 L 979.45 2171.76 L 976.53 2172.9 L 975.52 2172.23 L 974.96 2169.5 L 975.78 2164.05 L 973.6 2162.73 L 970.67 2164.49 L 964.81 2169.48 L 941.39 2193.25 L 941.39 2194.04 L 958.96 2176.48 L 967.74 2168.96 L 969.87 2169.5 L 969.22 2172.23 L 966.68 2177.68 L 959.99 2188.59 L 955.44 2194.05 L 939.26 2210.41 L 903.32 2244.06 L 870.56 2275.86 L 834.98 2311.32 L 815.47 2331.42 L 815.47 2332.11 z M 912.1 2224.31 L 918.32 2218.26 L 910.03 2225.97 z M 928.14 2207.68 L 941.36 2194.07 L 927.32 2207.68 L 926.74 2209.17 z M 1023.38 2138.05 L 1024.48 2136.77 L 1023.38 2136.3 L 1022.76 2136.77 z M 1026.31 2134.11 L 1026.36 2134.05 L 1026.31 2134.03 L 1026.28 2134.05 z" clip-path="url(#p6c5fed2d78)" style="fill: #3c049b; stroke: #3c049b; stroke-width: 1.1"/>
<path d="M 800.83 2347.9 L 812.2 2336.18 L 806.02 2341.94 L 798.74 2349.5 L 799.29 2349.5 z M 817.8 2330.41 L 856.47 2291.58 L 897.46 2251.72 L 926.74 2225.69 L 941.39 2213.66 L 956.03 2202.79 L 982.38 2179.27 L 1047.53 2117.68 L 1046.8 2115.31 L 1026.31 2130.66 L 999.95 2152.74 L 991.17 2159.4 L 985.31 2162.55 L 982.38 2162.71 L 981.54 2161.32 L 981.2 2158.59 L 979.45 2156.68 L 976.53 2158.23 L 967.74 2166.02 L 942.45 2191.32 L 941.39 2192.45 L 941.39 2193.25 L 964.81 2169.48 L 970.67 2164.49 L 973.6 2162.73 L 975.78 2164.05 L 974.96 2169.5 L 975.52 2172.23 L 976.53 2172.9 L 979.45 2171.76 L 988.24 2165.38 L 1020.45 2138.59 L 1022.28 2139.5 L 1019.89 2142.23 L 1006.04 2155.86 L 976.53 2183.15 L 967.74 2190.59 L 947.24 2205.99 L 903.32 2245.17 L 846.71 2300.41 L 815.47 2332.11 L 815.47 2332.8 z M 1022.76 2136.77 L 1023.38 2136.3 L 1024.48 2136.77 L 1023.38 2138.05 z M 1026.28 2134.05 L 1026.31 2134.03 L 1026.36 2134.05 L 1026.31 2134.11 z M 927.32 2207.68 L 936.41 2198.68 L 926.74 2207.68 L 926.74 2208.3 z M 1049.73 2115.45 L 1050.32 2114.95 L 1049.73 2113.69 L 1047.34 2114.95 z M 1052.66 2112.54 L 1053.06 2112.23 L 1052.66 2111.68 L 1051.75 2112.23 z M 1055.59 2109.55 L 1055.66 2109.5 L 1055.59 2109.45 L 1055.51 2109.5 z" clip-path="url(#p6c5fed2d78)" style="fill: #44039e; stroke: #44039e; stroke-width: 1.1"/>
<path d="M 800.83 2348.48 L 844.75 2303.97 L 894.53 2255.47 L 920.89 2232.26 L 950.17 2209.44 L 967.74 2194.02 L 1058.52 2109.5 L 1058.52 2106.77 L 1087.8 2079.5 L 1086.89 2079.5 L 1070.23 2093.91 L 1029.23 2125.64 L 997.02 2152.08 L 991.17 2155.38 L 988.24 2156.02 L 985.31 2151.74 L 982.38 2152.32 L 973.6 2159.51 L 957.78 2174.95 L 956.03 2176.79 L 956.03 2177.56 L 973.6 2160.65 L 976.53 2158.23 L 979.45 2156.68 L 981.2 2158.59 L 981.54 2161.32 L 982.38 2162.71 L 985.31 2162.55 L 988.24 2161.22 L 997.02 2155.13 L 1020.45 2135.35 L 1043.88 2117.3 L 1046.8 2115.31 L 1047.53 2117.68 L 1004.73 2158.59 L 964.81 2195.19 L 953.1 2205.2 L 932.6 2220.75 L 900.39 2248.97 L 838.9 2309.07 L 803.76 2344.86 L 799.29 2349.5 L 799.85 2349.5 z M 1047.34 2114.95 L 1049.73 2113.69 L 1050.32 2114.95 L 1049.73 2115.45 z M 1051.75 2112.23 L 1052.66 2111.68 L 1053.06 2112.23 L 1052.66 2112.54 z M 1055.51 2109.5 L 1055.59 2109.45 L 1055.66 2109.5 L 1055.59 2109.55 z M 942.45 2191.32 L 955.26 2178.39 L 941.7 2191.32 L 941.39 2192.45 z" clip-path="url(#p6c5fed2d78)" style="fill: #4c02a1; stroke: #4c02a1; stroke-width: 1.1"/>
<path d="M 800.83 2349.06 L 847.68 2301.81 L 894.53 2256.43 L 917.96 2236.19 L 941.39 2218.4 L 950.17 2210.88 L 1014.59 2151.66 L 1028.46 2139.5 L 1029.23 2138.77 L 1029.23 2137.11 L 956.03 2204.46 L 923.82 2229.83 L 897.46 2252.73 L 838.9 2309.8 L 803.76 2345.45 L 799.85 2349.5 L 800.41 2349.5 z M 941.7 2191.32 L 950.46 2182.87 L 941.39 2191.66 z M 957.78 2174.95 L 976.53 2156.8 L 982.38 2152.32 L 985.31 2151.74 L 988.24 2156.02 L 991.17 2155.38 L 994.09 2153.93 L 999.95 2149.97 L 1029.23 2125.64 L 1070.23 2093.91 L 1086.89 2079.5 L 1084.46 2079.5 L 1070.23 2091.46 L 1032.16 2120.93 L 999.95 2146.99 L 994.09 2149.82 L 991.17 2149.31 L 990.1 2147.68 L 988.24 2146.79 L 982.38 2150.33 L 957.04 2174.95 L 956.03 2176.02 L 956.03 2176.79 z" clip-path="url(#p6c5fed2d78)" style="fill: #5302a3; stroke: #5302a3; stroke-width: 1.1"/>
<path d="M 800.83 2349.5 L 850.61 2299.68 L 894.53 2257.4 L 912.1 2242.35 L 932.6 2226.84 L 944.31 2217.01 L 1023.25 2145.08 L 1029.23 2139.5 L 1029.23 2138.77 L 947.24 2213.46 L 917.96 2236.19 L 894.53 2256.43 L 844.75 2304.71 L 800.41 2349.5 z M 957.04 2174.95 L 971.83 2160.24 L 956.31 2174.95 L 956.03 2176.02 z M 976.29 2155.86 L 982.38 2150.33 L 988.24 2146.79 L 990.1 2147.68 L 991.17 2149.31 L 994.09 2149.82 L 997.02 2148.68 L 1002.88 2144.98 L 1029.23 2123.25 L 1067.3 2093.78 L 1084.46 2079.5 L 1082.02 2079.5 L 1005.81 2140.11 L 999.95 2143.65 L 997.02 2144.53 L 994.09 2142.67 L 991.17 2142.37 L 982.38 2149.5 L 973.6 2157.82 L 973.6 2158.46 z" clip-path="url(#p6c5fed2d78)" style="fill: #5b01a5; stroke: #5b01a5; stroke-width: 1.1"/>
<path d="M 803.76 2347.2 L 844.75 2306.16 L 891.61 2261.04 L 906.25 2248.36 L 929.67 2230.46 L 941.39 2220.61 L 1023.25 2145.08 L 944.31 2217.01 L 932.6 2226.84 L 912.1 2242.35 L 894.53 2257.4 L 841.82 2308.34 L 809.61 2340.63 L 800.97 2349.5 L 801.52 2349.5 z M 956.31 2174.95 L 966.02 2165.64 L 956.03 2175.25 z M 975.63 2155.86 L 985.31 2146.85 L 991.17 2142.37 L 994.09 2142.67 L 997.02 2144.53 L 999.95 2143.65 L 1005.81 2140.11 L 1082.02 2079.5 L 1079.59 2079.5 L 1008.74 2135.38 L 1002.88 2138.83 L 999.95 2139.55 L 997.02 2137.91 L 994.09 2138.68 L 991.17 2140.7 L 973.6 2157.18 L 973.6 2157.82 z" clip-path="url(#p6c5fed2d78)" style="fill: #6300a7; stroke: #6300a7; stroke-width: 1.1"/>
<path d="M 803.76 2347.78 L 844.75 2306.86 L 888.68 2264.63 L 903.32 2251.95 L 935.53 2226.83 L 1002.88 2165.61 L 1002.88 2164.26 L 938.46 2223.17 L 906.25 2248.36 L 891.61 2261.04 L 835.97 2314.82 L 803.76 2347.2 L 801.52 2349.5 L 802.08 2349.5 z M 974.96 2155.86 L 988.24 2143.12 L 994.09 2138.68 L 997.02 2137.91 L 999.95 2139.55 L 1002.88 2138.83 L 1008.74 2135.38 L 1079.59 2079.5 L 1077.16 2079.5 L 1011.66 2130.77 L 1005.81 2134.21 L 1002.88 2134.72 L 999.95 2133.58 L 994.09 2136.78 L 983.94 2146.23 L 973.6 2156.54 L 973.6 2157.18 z" clip-path="url(#p6c5fed2d78)" style="fill: #6a00a8; stroke: #6a00a8; stroke-width: 1.1"/>
<path d="M 803.76 2348.35 L 844.75 2307.55 L 885.75 2268.21 L 900.39 2255.49 L 920.89 2240.04 L 929.67 2232.74 L 988.24 2179.24 L 1002 2167.59 L 1002.88 2166.77 L 1002.88 2165.61 L 935.53 2226.83 L 903.32 2251.95 L 888.68 2264.63 L 835.97 2315.49 L 803.76 2347.78 L 802.08 2349.5 L 802.64 2349.5 z M 974.3 2155.86 L 983.94 2146.23 L 973.6 2155.9 L 973.6 2156.54 z M 990.98 2139.5 L 997.02 2134.84 L 999.95 2133.58 L 1002.88 2134.72 L 1005.81 2134.21 L 1011.66 2130.77 L 1077.16 2079.5 L 1074.73 2079.5 L 1014.59 2126.26 L 1008.74 2129.68 L 1005.81 2130.2 L 1002.88 2129.7 L 999.95 2131.03 L 988.24 2141.3 L 988.24 2142.01 z" clip-path="url(#p6c5fed2d78)" style="fill: #7201a8; stroke: #7201a8; stroke-width: 1.1"/>
<path d="M 803.76 2348.92 L 844.75 2308.24 L 885.75 2269.08 L 897.46 2258.98 L 915.03 2245.82 L 926.74 2236.08 L 1002 2167.59 L 988.24 2179.24 L 929.67 2232.74 L 920.89 2240.04 L 900.39 2255.49 L 885.75 2268.21 L 835.97 2316.16 L 806.68 2345.37 L 802.64 2349.5 L 803.2 2349.5 z M 973.63 2155.86 L 977.22 2152.49 L 973.6 2155.9 z M 990.21 2139.5 L 999.95 2131.03 L 1002.88 2129.7 L 1005.81 2130.2 L 1008.74 2129.68 L 1014.59 2126.26 L 1074.73 2079.5 L 1072.3 2079.5 L 1014.59 2123.81 L 1011.66 2125.34 L 1008.74 2125.99 L 1005.81 2125.67 L 1002.88 2127.49 L 988.24 2140.6 L 988.24 2141.3 z" clip-path="url(#p6c5fed2d78)" style="fill: #7a02a8; stroke: #7a02a8; stroke-width: 1.1"/>
<path d="M 803.76 2349.5 L 838.9 2314.61 L 882.82 2272.6 L 894.53 2262.43 L 912.1 2249.16 L 923.82 2239.46 L 994.36 2174.7 L 926.74 2236.08 L 915.03 2245.82 L 897.46 2258.98 L 885.75 2269.08 L 833.04 2319.69 L 803.76 2348.92 L 803.2 2349.5 L 803.75 2349.5 z M 989.45 2139.5 L 1002.88 2127.49 L 1005.81 2125.67 L 1008.74 2125.99 L 1011.66 2125.34 L 1017.52 2121.8 L 1072.3 2079.5 L 1069.86 2079.5 L 1017.52 2119.48 L 1014.59 2121.08 L 1008.74 2122.14 L 1005.81 2123.76 L 998.6 2129.85 L 988.24 2139.9 L 988.24 2140.6 z" clip-path="url(#p6c5fed2d78)" style="fill: #8104a7; stroke: #8104a7; stroke-width: 1.1"/>
<path d="M 803.76 2349.5 L 804.31 2349.5 L 838.9 2315.25 L 879.89 2276.1 L 891.61 2265.88 L 920.89 2242.89 L 973.6 2194.75 L 973.6 2194.05 L 981.11 2187.05 L 923.82 2239.46 L 912.1 2249.16 L 894.53 2262.43 L 882.82 2272.6 L 838.9 2314.61 L 803.75 2349.5 z M 988.68 2139.5 L 998.6 2129.85 L 988.24 2139.9 z M 1002.88 2125.93 L 1008.74 2122.14 L 1014.59 2121.08 L 1017.52 2119.48 L 1069.86 2079.5 L 1067.43 2079.5 L 1020.45 2115.24 L 1017.52 2116.91 L 1011.66 2118.33 L 1008.74 2120.12 L 1001.66 2127 z" clip-path="url(#p6c5fed2d78)" style="fill: #8808a6; stroke: #8808a6; stroke-width: 1.1"/>
<path d="M 806.68 2347.66 L 841.82 2313.06 L 879.89 2276.92 L 891.61 2266.9 L 915.03 2248.77 L 973.6 2195.71 L 973.6 2194.75 L 920.89 2242.89 L 891.61 2265.88 L 879.89 2276.1 L 830.11 2323.82 L 804.31 2349.5 L 804.87 2349.5 z M 1008.44 2120.41 L 1011.66 2118.33 L 1017.52 2116.91 L 1020.45 2115.24 L 1067.43 2079.5 L 1065 2079.5 L 1023.38 2111 L 1020.45 2112.81 L 1014.59 2114.61 L 1011.66 2116.64 L 1005.81 2121.73 L 1005.81 2122.57 z" clip-path="url(#p6c5fed2d78)" style="fill: #8f0da4; stroke: #8f0da4; stroke-width: 1.1"/>
<path d="M 806.68 2348.22 L 838.9 2316.54 L 876.96 2280.38 L 888.68 2270.26 L 903.32 2259.29 L 915.03 2249.41 L 958.96 2209.24 L 973.6 2196.67 L 973.6 2195.71 L 915.03 2248.77 L 891.61 2266.9 L 879.89 2276.92 L 833.04 2321.58 L 806.68 2347.66 L 804.87 2349.5 L 805.43 2349.5 z M 1007.42 2120.41 L 1014.59 2114.61 L 1020.45 2112.81 L 1023.38 2111 L 1065 2079.5 L 1062.57 2079.5 L 1026.31 2106.85 L 1014.59 2112.94 L 1005.81 2120.88 L 1005.81 2121.73 z" clip-path="url(#p6c5fed2d78)" style="fill: #9613a1; stroke: #9613a1; stroke-width: 1.1"/>
<path d="M 806.68 2348.79 L 835.97 2320 L 874.04 2283.81 L 885.75 2273.62 L 900.39 2262.54 L 912.1 2252.64 L 973.6 2196.67 L 958.96 2209.24 L 912.1 2251.97 L 903.32 2259.29 L 888.68 2270.26 L 876.96 2280.38 L 830.11 2325.06 L 806.68 2348.22 L 805.43 2349.5 L 805.98 2349.5 z M 1006.39 2120.41 L 1014.59 2112.94 L 1026.31 2106.85 L 1062.57 2079.5 L 1060.14 2079.5 L 1029.23 2102.67 L 1026.31 2104.69 L 1019.16 2107.97 L 1005.81 2120.88 z" clip-path="url(#p6c5fed2d78)" style="fill: #9d189d; stroke: #9d189d; stroke-width: 1.1"/>
<path d="M 806.68 2349.35 L 835.97 2320.62 L 874.04 2284.58 L 909.17 2255.91 L 967.83 2202.14 L 909.17 2255.2 L 885.75 2273.62 L 874.04 2283.81 L 827.18 2328.52 L 805.98 2349.5 L 806.54 2349.5 z M 1020.45 2107.3 L 1026.31 2104.69 L 1029.23 2102.67 L 1060.14 2079.5 L 1057.7 2079.5 L 1029.23 2100.66 L 1023.38 2103.68 L 1020.45 2105.84 L 1020.45 2106.77 L 1019.16 2107.97 z" clip-path="url(#p6c5fed2d78)" style="fill: #a31e9a; stroke: #a31e9a; stroke-width: 1.1"/>
<path d="M 806.68 2349.5 L 871.11 2288 L 882.82 2277.9 L 906.25 2259.22 L 958.23 2211.09 L 906.25 2258.46 L 882.82 2276.97 L 874.04 2284.58 L 835.97 2320.62 L 806.54 2349.5 z M 1022.98 2104.05 L 1029.23 2100.66 L 1057.7 2079.5 L 1055.27 2079.5 L 1032.16 2096.63 L 1023.38 2102.18 L 1020.45 2104.69 L 1020.45 2105.84 z" clip-path="url(#p6c5fed2d78)" style="fill: #aa2395; stroke: #aa2395; stroke-width: 1.1"/>
<path d="M 809.61 2347.54 L 868.18 2291.41 L 879.89 2281.17 L 900.39 2265.05 L 944.31 2225.04 L 944.31 2224.32 L 903.32 2261.76 L 882.82 2277.9 L 871.11 2288 L 827.18 2329.72 L 807.1 2349.5 L 807.66 2349.5 z M 1021.35 2104.05 L 1055.27 2079.5 L 1052.84 2079.5 L 1035.09 2092.61 L 1028.05 2096.97 L 1020.45 2104.05 L 1020.45 2104.69 z" clip-path="url(#p6c5fed2d78)" style="fill: #ae2892; stroke: #ae2892; stroke-width: 1.1"/>
<path d="M 809.61 2348.1 L 868.18 2292.11 L 900.39 2265.61 L 944.31 2225.77 L 944.31 2225.04 L 900.39 2265.05 L 879.89 2281.17 L 868.18 2291.41 L 827.18 2330.32 L 807.66 2349.5 L 808.21 2349.5 z M 1029.23 2096.21 L 1035.09 2092.61 L 1052.84 2079.5 L 1050.41 2079.5 L 1034.2 2091.24 L 1028.05 2096.97 z" clip-path="url(#p6c5fed2d78)" style="fill: #b42e8d; stroke: #b42e8d; stroke-width: 1.1"/>
<path d="M 809.61 2348.66 L 865.25 2295.5 L 897.46 2268.77 L 944 2226.77 L 944.31 2225.77 L 897.46 2268.18 L 876.96 2284.47 L 868.18 2292.11 L 827.18 2330.91 L 808.21 2349.5 L 808.77 2349.5 z M 1035.09 2090.7 L 1050.41 2079.5 L 1047.98 2079.5 L 1035.09 2088.89 L 1035.09 2090.41 L 1034.2 2091.24 z" clip-path="url(#p6c5fed2d78)" style="fill: #ba3388; stroke: #ba3388; stroke-width: 1.1"/>
<path d="M 809.61 2349.22 L 865.25 2296.21 L 894.53 2271.95 L 944.31 2226.49 L 894.53 2271.33 L 874.04 2287.76 L 865.25 2295.5 L 827.18 2331.5 L 808.77 2349.5 L 809.33 2349.5 z M 1036.79 2087.68 L 1047.98 2079.5 L 1045.54 2079.5 L 1038.26 2084.73 L 1035.09 2087.68 L 1035.09 2088.89 z" clip-path="url(#p6c5fed2d78)" style="fill: #bf3984; stroke: #bf3984; stroke-width: 1.1"/>
<path d="M 809.61 2349.5 L 862.32 2299.55 L 891.61 2275.17 L 940.41 2230.4 L 894.53 2271.95 L 865.25 2296.21 L 809.33 2349.5 z M 1040.95 2082.86 L 1045.54 2079.5 L 1043.88 2079.5 L 1038.26 2084.73 z" clip-path="url(#p6c5fed2d78)" style="fill: #c43e7f; stroke: #c43e7f; stroke-width: 1.1"/>
<path d="M 812.54 2347.43 L 862.32 2300.22 L 891.61 2275.83 L 931.05 2239.13 L 891.61 2275.17 L 862.32 2299.55 L 824.25 2335.49 L 809.89 2349.5 L 810.44 2349.5 z" clip-path="url(#p6c5fed2d78)" style="fill: #c9447a; stroke: #c9447a; stroke-width: 1.1"/>
<path d="M 812.54 2347.98 L 859.39 2303.56 L 885.75 2281.58 L 916.06 2254.05 L 917.96 2252.27 L 917.96 2251.64 L 888.68 2278.42 L 862.32 2300.22 L 824.25 2336.06 L 810.44 2349.5 L 811 2349.5 z" clip-path="url(#p6c5fed2d78)" style="fill: #cd4a76; stroke: #cd4a76; stroke-width: 1.1"/>
<path d="M 812.54 2348.53 L 856.47 2306.91 L 885.75 2282.1 L 916.73 2254.05 L 917.96 2252.9 L 917.96 2252.27 L 882.82 2284.15 L 859.39 2303.56 L 824.25 2336.63 L 811 2349.5 L 811.56 2349.5 z" clip-path="url(#p6c5fed2d78)" style="fill: #d24f71; stroke: #d24f71; stroke-width: 1.1"/>
<path d="M 812.54 2349.08 L 856.47 2307.55 L 882.82 2285.23 L 917.4 2254.05 L 917.96 2252.9 L 882.82 2284.69 L 856.47 2306.91 L 824.25 2337.2 L 811.56 2349.5 L 812.12 2349.5 z" clip-path="url(#p6c5fed2d78)" style="fill: #d6556d; stroke: #d6556d; stroke-width: 1.1"/>
<path d="M 812.54 2349.5 L 856.47 2308.18 L 879.89 2288.38 L 916.92 2255.02 L 917.96 2253.53 L 879.89 2287.81 L 856.47 2307.55 L 812.12 2349.5 z" clip-path="url(#p6c5fed2d78)" style="fill: #da5b69; stroke: #da5b69; stroke-width: 1.1"/>
<path d="M 815.47 2347.33 L 853.54 2311.48 L 876.96 2291.56 L 916.92 2255.02 L 879.89 2288.38 L 853.54 2310.85 L 821.33 2341.14 L 812.67 2349.5 L 813.23 2349.5 z" clip-path="url(#p6c5fed2d78)" style="fill: #de6164; stroke: #de6164; stroke-width: 1.1"/>
<path d="M 815.47 2347.87 L 850.61 2314.8 L 876.96 2292.17 L 909.54 2261.89 L 876.96 2291.56 L 853.54 2311.48 L 821.33 2341.69 L 813.23 2349.5 L 813.79 2349.5 z" clip-path="url(#p6c5fed2d78)" style="fill: #e26660; stroke: #e26660; stroke-width: 1.1"/>
<path d="M 815.47 2348.41 L 850.61 2315.41 L 871.11 2297.93 L 888.68 2281.97 L 888.68 2281.46 L 874.04 2294.79 L 850.61 2314.8 L 821.33 2342.24 L 813.79 2349.5 L 814.35 2349.5 z" clip-path="url(#p6c5fed2d78)" style="fill: #e66c5c; stroke: #e66c5c; stroke-width: 1.1"/>
<path d="M 815.47 2348.95 L 847.68 2318.68 L 871.11 2298.42 L 888.68 2282.48 L 888.68 2281.97 L 868.18 2300.51 L 847.68 2318.09 L 818.4 2345.59 L 814.35 2349.5 L 814.9 2349.5 z" clip-path="url(#p6c5fed2d78)" style="fill: #e97158; stroke: #e97158; stroke-width: 1.1"/>
<path d="M 815.47 2349.49 L 847.68 2319.27 L 868.18 2301.53 L 888.68 2282.99 L 888.68 2282.48 L 847.68 2318.68 L 818.4 2346.14 L 814.9 2349.5 L 815.46 2349.5 z" clip-path="url(#p6c5fed2d78)" style="fill: #ec7754; stroke: #ec7754; stroke-width: 1.1"/>
<path d="M 815.47 2349.5 L 816.02 2349.5 L 847.68 2319.89 L 888.09 2284.05 L 888.68 2282.99 L 847.68 2319.27 L 815.46 2349.5 z" clip-path="url(#p6c5fed2d78)" style="fill: #ef7e50; stroke: #ef7e50; stroke-width: 1.1"/>
<path d="M 818.4 2347.76 L 844.75 2323.16 L 888.64 2284.05 L 888.68 2283.5 L 844.75 2322.57 L 818.4 2347.22 L 816.02 2349.5 L 816.58 2349.5 z" clip-path="url(#p6c5fed2d78)" style="fill: #f2844b; stroke: #f2844b; stroke-width: 1.1"/>
<path d="M 818.4 2348.29 L 888.68 2284.02 L 844.75 2323.16 L 818.4 2347.76 L 816.58 2349.5 L 817.13 2349.5 z" clip-path="url(#p6c5fed2d78)" style="fill: #f58b47; stroke: #f58b47; stroke-width: 1.1"/>
<path d="M 818.4 2348.82 L 877.68 2294.28 L 841.82 2326.41 L 818.4 2348.29 L 817.13 2349.5 L 817.69 2349.5 z" clip-path="url(#p6c5fed2d78)" style="fill: #f79143; stroke: #f79143; stroke-width: 1.1"/>
<path d="M 818.4 2349.36 L 841.82 2327.55 L 859.39 2312.06 L 859.39 2311.58 L 838.9 2329.67 L 817.69 2349.5 L 818.25 2349.5 z" clip-path="url(#p6c5fed2d78)" style="fill: #f9983e; stroke: #f9983e; stroke-width: 1.1"/>
<path d="M 818.4 2349.5 L 859.39 2312.54 L 859.39 2312.06 L 841.82 2327.55 L 818.25 2349.5 z" clip-path="url(#p6c5fed2d78)" style="fill: #fb9f3a; stroke: #fb9f3a; stroke-width: 1.1"/>
<path d="M 821.33 2347.65 L 859.39 2313.02 L 859.39 2312.54 L 835.97 2333.5 L 818.81 2349.5 L 819.36 2349.5 z" clip-path="url(#p6c5fed2d78)" style="fill: #fca636; stroke: #fca636; stroke-width: 1.1"/>
<path d="M 821.33 2348.17 L 859.39 2313.5 L 859.39 2313.02 L 833.04 2336.75 L 819.36 2349.5 L 819.92 2349.5 z" clip-path="url(#p6c5fed2d78)" style="fill: #fdae32; stroke: #fdae32; stroke-width: 1.1"/>
<path d="M 821.33 2348.7 L 859.39 2313.99 L 859.39 2313.5 L 830.11 2339.99 L 819.92 2349.5 L 820.48 2349.5 z" clip-path="url(#p6c5fed2d78)" style="fill: #fdb52e; stroke: #fdb52e; stroke-width: 1.1"/>
<path d="M 821.33 2349.23 L 859.39 2313.99 L 827.18 2343.24 L 820.48 2349.5 L 821.04 2349.5 z" clip-path="url(#p6c5fed2d78)" style="fill: #febd2a; stroke: #febd2a; stroke-width: 1.1"/>
<path d="M 821.33 2349.5 L 839.43 2332.64 L 821.04 2349.5 z" clip-path="url(#p6c5fed2d78)" style="fill: #fdc527; stroke: #fdc527; stroke-width: 1.1"/>
<path d="M 824.25 2347.54 L 833.04 2339.44 L 833.04 2338.91 L 821.59 2349.5 L 822.15 2349.5 z" clip-path="url(#p6c5fed2d78)" style="fill: #fdcb26; stroke: #fdcb26; stroke-width: 1.1"/>
<path d="M 824.25 2348.06 L 833.04 2339.97 L 833.04 2339.44 L 822.15 2349.5 L 822.71 2349.5 z" clip-path="url(#p6c5fed2d78)" style="fill: #fbd324; stroke: #fbd324; stroke-width: 1.1"/>
<path d="M 824.25 2348.58 L 833.04 2340.51 L 833.04 2339.97 L 822.71 2349.5 L 823.27 2349.5 z" clip-path="url(#p6c5fed2d78)" style="fill: #f9dc24; stroke: #f9dc24; stroke-width: 1.1"/>
<path d="M 824.25 2349.1 L 833.04 2341.04 L 833.04 2340.51 L 823.27 2349.5 L 823.82 2349.5 z" clip-path="url(#p6c5fed2d78)" style="fill: #f7e425; stroke: #f7e425; stroke-width: 1.1"/>
<path d="M 824.25 2349.5 L 833.04 2341.04 L 823.82 2349.5 z" clip-path="url(#p6c5fed2d78)" style="fill: #f4ed27; stroke: #f4ed27; stroke-width: 1.1"/>
<path clip-path="url(#p6c5fed2d78)" style="fill: #f1f525; stroke: #f1f525; stroke-width: 1.1"/></g>
<g id="matplotlib.axis_39">
<g><g><defs>
<path id="m9289c929e7" d="M 0 0 L 0 2.83" style="stroke: #111111; stroke-width: 0.81"/>
</defs>
<g><use href="#m9289c929e7" x="816.02" y="2349.5" style="fill: #111111; stroke: #111111; stroke-width: 0.81"/></g></g>
<g><text style="font-size: 8.08px; text-anchor: middle; fill: #111111; stroke: #111111; stroke-width: 0.15" x="816.02" y="2361.3">12.5</text></g></g>
<g><g><g><use href="#m9289c929e7" x="861.32" y="2349.5" style="fill: #111111; stroke: #111111; stroke-width: 0.81"/></g></g>
<g><text style="font-size: 8.08px; text-anchor: middle; fill: #111111; stroke: #111111; stroke-width: 0.15" x="861.32" y="2361.3">13.0</text></g></g>
<g><g><g><use href="#m9289c929e7" x="906.61" y="2349.5" style="fill: #111111; stroke: #111111; stroke-width: 0.81"/></g></g>
<g><text style="font-size: 8.08px; text-anchor: middle; fill: #111111; stroke: #111111; stroke-width: 0.15" x="906.61" y="2361.3">13.5</text></g></g>
<g><g><g><use href="#m9289c929e7" x="951.91" y="2349.5" style="fill: #111111; stroke: #111111; stroke-width: 0.81"/></g></g>
<g><text style="font-size: 8.08px; text-anchor: middle; fill: #111111; stroke: #111111; stroke-width: 0.15" x="951.91" y="2361.3">14.0</text></g></g>
<g><g><g><use href="#m9289c929e7" x="997.21" y="2349.5" style="fill: #111111; stroke: #111111; stroke-width: 0.81"/></g></g>
<g><text style="font-size: 8.08px; text-anchor: middle; fill: #111111; stroke: #111111; stroke-width: 0.15" x="997.21" y="2361.3">14.5</text></g></g>
<g><g><g><use href="#m9289c929e7" x="1042.5" y="2349.5" style="fill: #111111; stroke: #111111; stroke-width: 0.81"/></g></g>
<g><text style="font-size: 8.08px; text-anchor: middle; fill: #111111; stroke: #111111; stroke-width: 0.15" x="1042.5" y="2361.3">15.0</text></g></g>
<g><g><g><use href="#m9289c929e7" x="1087.8" y="2349.5" style="fill: #111111; stroke: #111111; stroke-width: 0.81"/></g></g>
<g><text style="font-size: 8.08px; text-anchor: middle; fill: #111111; stroke: #111111; stroke-width: 0.15" x="1087.8" y="2361.3">15.5</text></g></g>
<g><text style="font-size: 8.08px; text-anchor: middle; fill: #111111; stroke: #111111; stroke-width: 0.15" x="942.85" y="2372.35">Independent Variable 1 (X1)</text></g></g>
<g id="matplotlib.axis_40">
<g><g><defs>
<path id="m89ad6e5d9e" d="M 0 0 L -2.83 0" style="stroke: #111111; stroke-width: 0.81"/>
</defs>
<g><use href="#m89ad6e5d9e" x="797.9" y="2333.62" style="fill: #111111; stroke: #111111; stroke-width: 0.81"/></g></g>
<g><text style="font-size: 8.08px; text-anchor: end; fill: #111111; stroke: #111111; stroke-width: 0.15" x="792.24" y="2336.69">540</text></g></g>
<g><g><g><use href="#m89ad6e5d9e" x="797.9" y="2301.85" style="fill: #111111; stroke: #111111; stroke-width: 0.81"/></g></g>
<g><text style="font-size: 8.08px; text-anchor: end; fill: #111111; stroke: #111111; stroke-width: 0.15" x="792.24" y="2304.92">560</text></g></g>
<g><g><g><use href="#m89ad6e5d9e" x="797.9" y="2270.09" style="fill: #111111; stroke: #111111; stroke-width: 0.81"/></g></g>
<g><text style="font-size: 8.08px; text-anchor: end; fill: #111111; stroke: #111111; stroke-width: 0.15" x="792.24" y="2273.16">580</text></g></g>
<g><g><g><use href="#m89ad6e5d9e" x="797.9" y="2238.32" style="fill: #111111; stroke: #111111; stroke-width: 0.81"/></g></g>
<g><text style="font-size: 8.08px; text-anchor: end; fill: #111111; stroke: #111111; stroke-width: 0.15" x="792.24" y="2241.39">600</text></g></g>
<g><g><g><use href="#m89ad6e5d9e" x="797.9" y="2206.56" style="fill: #111111; stroke: #111111; stroke-width: 0.81"/></g></g>
<g><text style="font-size: 8.08px; text-anchor: end; fill: #111111; stroke: #111111; stroke-width: 0.15" x="792.24" y="2209.63">620</text></g></g>
<g><g><g><use href="#m89ad6e5d9e" x="797.9" y="2174.79" style="fill: #111111; stroke: #111111; stroke-width: 0.81"/></g></g>
<g><text style="font-size: 8.08px; text-anchor: end; fill: #111111; stroke: #111111; stroke-width: 0.15" x="792.24" y="2177.86">640</text></g></g>
<g><g><g><use href="#m89ad6e5d9e" x="797.9" y="2143.03" style="fill: #111111; stroke: #111111; stroke-width: 0.81"/></g></g>
<g><text style="font-size: 8.08px; text-anchor: end; fill: #111111; stroke: #111111; stroke-width: 0.15" x="792.24" y="2146.1">660</text></g></g>
<g><g><g><use href="#m89ad6e5d9e" x="797.9" y="2111.26" style="fill: #111111; stroke: #111111; stroke-width: 0.81"/></g></g>
<g><text style="font-size: 8.08px; text-anchor: end; fill: #111111; stroke: #111111; stroke-width: 0.15" x="792.24" y="2114.33">680</text></g></g>
<g><g><g><use href="#m89ad6e5d9e" x="797.9" y="2079.5" style="fill: #111111; stroke: #111111; stroke-width: 0.81"/></g></g>
<g><text style="font-size: 8.08px; text-anchor: end; fill: #111111; stroke: #111111; stroke-width: 0.15" x="792.24" y="2082.57">700</text></g></g>
<g><text style="font-size: 8.08px; text-anchor: middle; fill: #111111; stroke: #111111; stroke-width: 0.15" x="771.91" y="2214.5" transform="rotate(-90 771.91 2214.5)">Independent Variable 2 (X2)</text></g></g>
<g><path d="M 797.9 2349.5 L 797.9 2079.5" style="fill: none; stroke: #111111; stroke-width: 0.81; stroke-linejoin: miter; stroke-linecap: square"/></g>
<g><path d="M 1087.8 2349.5 L 1087.8 2079.5" style="fill: none; stroke: #111111; stroke-width: 0.81; stroke-linejoin: miter; stroke-linecap: square"/></g>
<g><path d="M 797.9 2349.5 L 1087.8 2349.5" style="fill: none; stroke: #111111; stroke-width: 0.81; stroke-linejoin: miter; stroke-linecap: square"/></g>
<g><path d="M 797.9 2079.5 L 1087.8 2079.5" style="fill: none; stroke: #111111; stroke-width: 0.81; stroke-linejoin: miter; stroke-linecap: square"/></g>
<g><text style="font-size: 9.7px; text-anchor: middle; fill: #111111; stroke: #111111; stroke-width: 0.15" x="942.85" y="2074.65">Contour Plot of Interpolated Y values across X1 and X2</text></g></g>
<g><g><path d="M 1105.9 2349.5 L 1119.9 2349.5 L 1119.9 2079.5 L 1105.9 2079.5 z" style="fill: #ffffff"/></g>
<g><path d="M 1105.9 2349.5 L 1119.9 2349.5 L 1119.9 2344.31 L 1105.9 2344.31 L 1105.9 2349.5" clip-path="url(#pef673ddcd8)" style="fill: #130789; stroke: #130789; stroke-width: 0.81"/>
<path d="M 1105.9 2344.31 L 1119.9 2344.31 L 1119.9 2339.12 L 1105.9 2339.12 L 1105.9 2344.31" clip-path="url(#pef673ddcd8)" style="fill: #20068f; stroke: #20068f; stroke-width: 0.81"/>
<path d="M 1105.9 2339.12 L 1119.9 2339.12 L 1119.9 2333.92 L 1105.9 2333.92 L 1105.9 2339.12" clip-path="url(#pef673ddcd8)" style="fill: #2a0593; stroke: #2a0593; stroke-width: 0.81"/>
<path d="M 1105.9 2333.92 L 1119.9 2333.92 L 1119.9 2328.73 L 1105.9 2328.73 L 1105.9 2333.92" clip-path="url(#pef673ddcd8)" style="fill: #330597; stroke: #330597; stroke-width: 0.81"/>
<path d="M 1105.9 2328.73 L 1119.9 2328.73 L 1119.9 2323.54 L 1105.9 2323.54 L 1105.9 2328.73" clip-path="url(#pef673ddcd8)" style="fill: #3c049b; stroke: #3c049b; stroke-width: 0.81"/>
<path d="M 1105.9 2323.54 L 1119.9 2323.54 L 1119.9 2318.35 L 1105.9 2318.35 L 1105.9 2323.54" clip-path="url(#pef673ddcd8)" style="fill: #44039e; stroke: #44039e; stroke-width: 0.81"/>
<path d="M 1105.9 2318.35 L 1119.9 2318.35 L 1119.9 2313.15 L 1105.9 2313.15 L 1105.9 2318.35" clip-path="url(#pef673ddcd8)" style="fill: #4c02a1; stroke: #4c02a1; stroke-width: 0.81"/>
<path d="M 1105.9 2313.15 L 1119.9 2313.15 L 1119.9 2307.96 L 1105.9 2307.96 L 1105.9 2313.15" clip-path="url(#pef673ddcd8)" style="fill: #5302a3; stroke: #5302a3; stroke-width: 0.81"/>
<path d="M 1105.9 2307.96 L 1119.9 2307.96 L 1119.9 2302.77 L 1105.9 2302.77 L 1105.9 2307.96" clip-path="url(#pef673ddcd8)" style="fill: #5b01a5; stroke: #5b01a5; stroke-width: 0.81"/>
<path d="M 1105.9 2302.77 L 1119.9 2302.77 L 1119.9 2297.58 L 1105.9 2297.58 L 1105.9 2302.77" clip-path="url(#pef673ddcd8)" style="fill: #6300a7; stroke: #6300a7; stroke-width: 0.81"/>
<path d="M 1105.9 2297.58 L 1119.9 2297.58 L 1119.9 2292.38 L 1105.9 2292.38 L 1105.9 2297.58" clip-path="url(#pef673ddcd8)" style="fill: #6a00a8; stroke: #6a00a8; stroke-width: 0.81"/>
<path d="M 1105.9 2292.38 L 1119.9 2292.38 L 1119.9 2287.19 L 1105.9 2287.19 L 1105.9 2292.38" clip-path="url(#pef673ddcd8)" style="fill: #7201a8; stroke: #7201a8; stroke-width: 0.81"/>
<path d="M 1105.9 2287.19 L 1119.9 2287.19 L 1119.9 2282 L 1105.9 2282 L 1105.9 2287.19" clip-path="url(#pef673ddcd8)" style="fill: #7a02a8; stroke: #7a02a8; stroke-width: 0.81"/>
<path d="M 1105.9 2282 L 1119.9 2282 L 1119.9 2276.81 L 1105.9 2276.81 L 1105.9 2282" clip-path="url(#pef673ddcd8)" style="fill: #8104a7; stroke: #8104a7; stroke-width: 0.81"/>
<path d="M 1105.9 2276.81 L 1119.9 2276.81 L 1119.9 2271.62 L 1105.9 2271.62 L 1105.9 2276.81" clip-path="url(#pef673ddcd8)" style="fill: #8808a6; stroke: #8808a6; stroke-width: 0.81"/>
<path d="M 1105.9 2271.62 L 1119.9 2271.62 L 1119.9 2266.42 L 1105.9 2266.42 L 1105.9 2271.62" clip-path="url(#pef673ddcd8)" style="fill: #8f0da4; stroke: #8f0da4; stroke-width: 0.81"/>
<path d="M 1105.9 2266.42 L 1119.9 2266.42 L 1119.9 2261.23 L 1105.9 2261.23 L 1105.9 2266.42" clip-path="url(#pef673ddcd8)" style="fill: #9613a1; stroke: #9613a1; stroke-width: 0.81"/>
<path d="M 1105.9 2261.23 L 1119.9 2261.23 L 1119.9 2256.04 L 1105.9 2256.04 L 1105.9 2261.23" clip-path="url(#pef673ddcd8)" style="fill: #9d189d; stroke: #9d189d; stroke-width: 0.81"/>
<path d="M 1105.9 2256.04 L 1119.9 2256.04 L 1119.9 2250.85 L 1105.9 2250.85 L 1105.9 2256.04" clip-path="url(#pef673ddcd8)" style="fill: #a31e9a; stroke: #a31e9a; stroke-width: 0.81"/>
<path d="M 1105.9 2250.85 L 1119.9 2250.85 L 1119.9 2245.65 L 1105.9 2245.65 L 1105.9 2250.85" clip-path="url(#pef673ddcd8)" style="fill: #aa2395; stroke: #aa2395; stroke-width: 0.81"/>
<path d="M 1105.9 2245.65 L 1119.9 2245.65 L 1119.9 2240.46 L 1105.9 2240.46 L 1105.9 2245.65" clip-path="url(#pef673ddcd8)" style="fill: #ae2892; stroke: #ae2892; stroke-width: 0.81"/>
<path d="M 1105.9 2240.46 L 1119.9 2240.46 L 1119.9 2235.27 L 1105.9 2235.27 L 1105.9 2240.46" clip-path="url(#pef673ddcd8)" style="fill: #b42e8d; stroke: #b42e8d; stroke-width: 0.81"/>
<path d="M 1105.9 2235.27 L 1119.9 2235.27 L 1119.9 2230.08 L 1105.9 2230.08 L 1105.9 2235.27" clip-path="url(#pef673ddcd8)" style="fill: #ba3388; stroke: #ba3388; stroke-width: 0.81"/>
<path d="M 1105.9 2230.08 L 1119.9 2230.08 L 1119.9 2224.88 L 1105.9 2224.88 L 1105.9 2230.08" clip-path="url(#pef673ddcd8)" style="fill: #bf3984; stroke: #bf3984; stroke-width: 0.81"/>
<path d="M 1105.9 2224.88 L 1119.9 2224.88 L 1119.9 2219.69 L 1105.9 2219.69 L 1105.9 2224.88" clip-path="url(#pef673ddcd8)" style="fill: #c43e7f; stroke: #c43e7f; stroke-width: 0.81"/>
<path d="M 1105.9 2219.69 L 1119.9 2219.69 L 1119.9 2214.5 L 1105.9 2214.5 L 1105.9 2219.69" clip-path="url(#pef673ddcd8)" style="fill: #c9447a; stroke: #c9447a; stroke-width: 0.81"/>
<path d="M 1105.9 2214.5 L 1119.9 2214.5 L 1119.9 2209.31 L 1105.9 2209.31 L 1105.9 2214.5" clip-path="url(#pef673ddcd8)" style="fill: #cd4a76; stroke: #cd4a76; stroke-width: 0.81"/>
<path d="M 1105.9 2209.31 L 1119.9 2209.31 L 1119.9 2204.12 L 1105.9 2204.12 L 1105.9 2209.31" clip-path="url(#pef673ddcd8)" style="fill: #d24f71; stroke: #d24f71; stroke-width: 0.81"/>
<path d="M 1105.9 2204.12 L 1119.9 2204.12 L 1119.9 2198.92 L 1105.9 2198.92 L 1105.9 2204.12" clip-path="url(#pef673ddcd8)" style="fill: #d6556d; stroke: #d6556d; stroke-width: 0.81"/>
<path d="M 1105.9 2198.92 L 1119.9 2198.92 L 1119.9 2193.73 L 1105.9 2193.73 L 1105.9 2198.92" clip-path="url(#pef673ddcd8)" style="fill: #da5b69; stroke: #da5b69; stroke-width: 0.81"/>
<path d="M 1105.9 2193.73 L 1119.9 2193.73 L 1119.9 2188.54 L 1105.9 2188.54 L 1105.9 2193.73" clip-path="url(#pef673ddcd8)" style="fill: #de6164; stroke: #de6164; stroke-width: 0.81"/>
<path d="M 1105.9 2188.54 L 1119.9 2188.54 L 1119.9 2183.35 L 1105.9 2183.35 L 1105.9 2188.54" clip-path="url(#pef673ddcd8)" style="fill: #e26660; stroke: #e26660; stroke-width: 0.81"/>
<path d="M 1105.9 2183.35 L 1119.9 2183.35 L 1119.9 2178.15 L 1105.9 2178.15 L 1105.9 2183.35" clip-path="url(#pef673ddcd8)" style="fill: #e66c5c; stroke: #e66c5c; stroke-width: 0.81"/>
<path d="M 1105.9 2178.15 L 1119.9 2178.15 L 1119.9 2172.96 L 1105.9 2172.96 L 1105.9 2178.15" clip-path="url(#pef673ddcd8)" style="fill: #e97158; stroke: #e97158; stroke-width: 0.81"/>
<path d="M 1105.9 2172.96 L 1119.9 2172.96 L 1119.9 2167.77 L 1105.9 2167.77 L 1105.9 2172.96" clip-path="url(#pef673ddcd8)" style="fill: #ec7754; stroke: #ec7754; stroke-width: 0.81"/>
<path d="M 1105.9 2167.77 L 1119.9 2167.77 L 1119.9 2162.58 L 1105.9 2162.58 L 1105.9 2167.77" clip-path="url(#pef673ddcd8)" style="fill: #ef7e50; stroke: #ef7e50; stroke-width: 0.81"/>
<path d="M 1105.9 2162.58 L 1119.9 2162.58 L 1119.9 2157.38 L 1105.9 2157.38 L 1105.9 2162.58" clip-path="url(#pef673ddcd8)" style="fill: #f2844b; stroke: #f2844b; stroke-width: 0.81"/>
<path d="M 1105.9 2157.38 L 1119.9 2157.38 L 1119.9 2152.19 L 1105.9 2152.19 L 1105.9 2157.38" clip-path="url(#pef673ddcd8)" style="fill: #f58b47; stroke: #f58b47; stroke-width: 0.81"/>
<path d="M 1105.9 2152.19 L 1119.9 2152.19 L 1119.9 2147 L 1105.9 2147 L 1105.9 2152.19" clip-path="url(#pef673ddcd8)" style="fill: #f79143; stroke: #f79143; stroke-width: 0.81"/>
<path d="M 1105.9 2147 L 1119.9 2147 L 1119.9 2141.81 L 1105.9 2141.81 L 1105.9 2147" clip-path="url(#pef673ddcd8)" style="fill: #f9983e; stroke: #f9983e; stroke-width: 0.81"/>
<path d="M 1105.9 2141.81 L 1119.9 2141.81 L 1119.9 2136.62 L 1105.9 2136.62 L 1105.9 2141.81" clip-path="url(#pef673ddcd8)" style="fill: #fb9f3a; stroke: #fb9f3a; stroke-width: 0.81"/>
<path d="M 1105.9 2136.62 L 1119.9 2136.62 L 1119.9 2131.42 L 1105.9 2131.42 L 1105.9 2136.62" clip-path="url(#pef673ddcd8)" style="fill: #fca636; stroke: #fca636; stroke-width: 0.81"/>
<path d="M 1105.9 2131.42 L 1119.9 2131.42 L 1119.9 2126.23 L 1105.9 2126.23 L 1105.9 2131.42" clip-path="url(#pef673ddcd8)" style="fill: #fdae32; stroke: #fdae32; stroke-width: 0.81"/>
<path d="M 1105.9 2126.23 L 1119.9 2126.23 L 1119.9 2121.04 L 1105.9 2121.04 L 1105.9 2126.23" clip-path="url(#pef673ddcd8)" style="fill: #fdb52e; stroke: #fdb52e; stroke-width: 0.81"/>
<path d="M 1105.9 2121.04 L 1119.9 2121.04 L 1119.9 2115.85 L 1105.9 2115.85 L 1105.9 2121.04" clip-path="url(#pef673ddcd8)" style="fill: #febd2a; stroke: #febd2a; stroke-width: 0.81"/>
<path d="M 1105.9 2115.85 L 1119.9 2115.85 L 1119.9 2110.65 L 1105.9 2110.65 L 1105.9 2115.85" clip-path="url(#pef673ddcd8)" style="fill: #fdc527; stroke: #fdc527; stroke-width: 0.81"/>
<path d="M 1105.9 2110.65 L 1119.9 2110.65 L 1119.9 2105.46 L 1105.9 2105.46 L 1105.9 2110.65" clip-path="url(#pef673ddcd8)" style="fill: #fdcb26; stroke: #fdcb26; stroke-width: 0.81"/>
<path d="M 1105.9 2105.46 L 1119.9 2105.46 L 1119.9 2100.27 L 1105.9 2100.27 L 1105.9 2105.46" clip-path="url(#pef673ddcd8)" style="fill: #fbd324; stroke: #fbd324; stroke-width: 0.81"/>
<path d="M 1105.9 2100.27 L 1119.9 2100.27 L 1119.9 2095.08 L 1105.9 2095.08 L 1105.9 2100.27" clip-path="url(#pef673ddcd8)" style="fill: #f9dc24; stroke: #f9dc24; stroke-width: 0.81"/>
<path d="M 1105.9 2095.08 L 1119.9 2095.08 L 1119.9 2089.88 L 1105.9 2089.88 L 1105.9 2095.08" clip-path="url(#pef673ddcd8)" style="fill: #f7e425; stroke: #f7e425; stroke-width: 0.81"/>
<path d="M 1105.9 2089.88 L 1119.9 2089.88 L 1119.9 2084.69 L 1105.9 2084.69 L 1105.9 2089.88" clip-path="url(#pef673ddcd8)" style="fill: #f4ed27; stroke: #f4ed27; stroke-width: 0.81"/>
<path d="M 1105.9 2084.69 L 1119.9 2084.69 L 1119.9 2079.5 L 1105.9 2079.5 L 1105.9 2084.69" clip-path="url(#pef673ddcd8)" style="fill: #f1f525; stroke: #f1f525; stroke-width: 0.81"/></g>
<g id="matplotlib.axis_41"/>
<g id="matplotlib.axis_42">
<g><g><defs>
<path id="m26468df2b7" d="M 0 0 L 2.83 0" style="stroke: #111111; stroke-width: 0.81"/>
</defs>
<g><use href="#m26468df2b7" x="1119.9" y="2349.5" style="fill: #111111; stroke: #111111; stroke-width: 0.81"/></g></g>
<g><text style="font-size: 8.08px; text-anchor: start; fill: #111111; stroke: #111111; stroke-width: 0.15" x="1125.56" y="2352.57">0.0</text></g></g>
<g><g><g><use href="#m26468df2b7" x="1119.9" y="2318.35" style="fill: #111111; stroke: #111111; stroke-width: 0.81"/></g></g>
<g><text style="font-size: 8.08px; text-anchor: start; fill: #111111; stroke: #111111; stroke-width: 0.15" x="1125.56" y="2321.42">2.4</text></g></g>
<g><g><g><use href="#m26468df2b7" x="1119.9" y="2287.19" style="fill: #111111; stroke: #111111; stroke-width: 0.81"/></g></g>
<g><text style="font-size: 8.08px; text-anchor: start; fill: #111111; stroke: #111111; stroke-width: 0.15" x="1125.56" y="2290.26">4.8</text></g></g>
<g><g><g><use href="#m26468df2b7" x="1119.9" y="2256.04" style="fill: #111111; stroke: #111111; stroke-width: 0.81"/></g></g>
<g><text style="font-size: 8.08px; text-anchor: start; fill: #111111; stroke: #111111; stroke-width: 0.15" x="1125.56" y="2259.11">7.2</text></g></g>
<g><g><g><use href="#m26468df2b7" x="1119.9" y="2224.88" style="fill: #111111; stroke: #111111; stroke-width: 0.81"/></g></g>
<g><text style="font-size: 8.08px; text-anchor: start; fill: #111111; stroke: #111111; stroke-width: 0.15" x="1125.56" y="2227.95">9.6</text></g></g>
<g><g><g><use href="#m26468df2b7" x="1119.9" y="2193.73" style="fill: #111111; stroke: #111111; stroke-width: 0.81"/></g></g>
<g><text style="font-size: 8.08px; text-anchor: start; fill: #111111; stroke: #111111; stroke-width: 0.15" x="1125.56" y="2196.8">12.0</text></g></g>
<g><g><g><use href="#m26468df2b7" x="1119.9" y="2162.58" style="fill: #111111; stroke: #111111; stroke-width: 0.81"/></g></g>
<g><text style="font-size: 8.08px; text-anchor: start; fill: #111111; stroke: #111111; stroke-width: 0.15" x="1125.56" y="2165.65">14.4</text></g></g>
<g><g><g><use href="#m26468df2b7" x="1119.9" y="2131.42" style="fill: #111111; stroke: #111111; stroke-width: 0.81"/></g></g>
<g><text style="font-size: 8.08px; text-anchor: start; fill: #111111; stroke: #111111; stroke-width: 0.15" x="1125.56" y="2134.49">16.8</text></g></g>
<g><g><g><use href="#m26468df2b7" x="1119.9" y="2100.27" style="fill: #111111; stroke: #111111; stroke-width: 0.81"/></g></g>
<g><text style="font-size: 8.08px; text-anchor: start; fill: #111111; stroke: #111111; stroke-width: 0.15" x="1125.56" y="2103.34">19.2</text></g></g>
<g><text style="font-size: 8.08px; text-anchor: middle; fill: #111111; stroke: #111111; stroke-width: 0.15" x="1152.92" y="2214.5" transform="rotate(-90 1152.92 2214.5)">Interpolated Y Value</text></g></g>
<g id="LineCollection_6"/>
<g><path d="M 1105.9 2349.5 L 1112.9 2349.5 L 1119.9 2349.5 L 1119.9 2079.5 L 1112.9 2079.5 L 1105.9 2079.5 L 1105.9 2349.5 z" style="fill: none; stroke: #111111; stroke-width: 0.81; stroke-linejoin: miter; stroke-linecap: square"/></g></g>
<g><text style="font-size: 7.35px; fill: #1a1a1a; stroke: #1a1a1a; stroke-width: 0.15" transform="translate(700.63 513.11) rotate(-90)">Dependent Variable (Y)</text></g></g>
<defs>
<clipPath id="p2ca0eb7456">
<rect x="77.3" y="51" width="268.4" height="211"/>
</clipPath>
<clipPath id="p0b103eb5af">
<rect x="386.3" y="51" width="267.7" height="211"/>
</clipPath>
<clipPath id="p9f50dae199">
<rect x="37.3" y="852.5" width="285" height="218"/>
</clipPath>
<clipPath id="p8e01f671bc">
<rect x="354.3" y="852.5" width="285.7" height="218"/>
</clipPath>
<clipPath id="pada82138fc">
<rect x="34.7" y="1736.7" width="319.3" height="243"/>
</clipPath>
<clipPath id="p652fbb1881">
<rect x="390.3" y="1736.7" width="319.4" height="243"/>
</clipPath>
<clipPath id="pcd8ccc15bb">
<rect x="737.7" y="44.7" width="332" height="219.6"/>
</clipPath>
<clipPath id="p6da63e842f">
<rect x="758.3" y="847" width="302" height="225"/>
</clipPath>
<clipPath id="pa552bdaac4">
<rect x="789.3" y="1734" width="333.4" height="249"/>
</clipPath>
<clipPath id="p2136cf4d94">
<rect x="68" y="356.7" width="270" height="251"/>
</clipPath>
<clipPath id="p40abf83371">
<rect x="354.7" y="356.7" width="12.3" height="251"/>
</clipPath>
<clipPath id="p9fa69020cc">
<rect x="37.4" y="1181.7" width="285.9" height="266.1"/>
</clipPath>
<clipPath id="p4d873676b3">
<rect x="341.1" y="1181.7" width="13" height="266.1"/>
</clipPath>
<clipPath id="p22197df7d2">
<rect x="30.6" y="2066.9" width="302" height="280.8"/>
</clipPath>
<clipPath id="pb5b67e1386">
<rect x="351" y="2066.9" width="14.2" height="280.8"/>
</clipPath>
<clipPath id="pacffe6cf81">
<rect x="762.9" y="361" width="269.6" height="251"/>
</clipPath>
<clipPath id="p66155dbe3a">
<rect x="1049" y="361" width="12.8" height="251"/>
</clipPath>
<clipPath id="pdb44d9960f">
<rect x="765" y="1202.1" width="261.7" height="242.9"/>
</clipPath>
<clipPath id="pf51bc879b7">
<rect x="1042.4" y="1202.1" width="12.7" height="242.9"/>
</clipPath>
<clipPath id="peca098c1ae">
<rect x="399.6" y="351.9" width="284.6" height="284.6"/>
</clipPath>
<clipPath id="p6e7cc7ef3e">
<rect x="395.4" y="1181.4" width="285.3" height="285.3"/>
</clipPath>
<clipPath id="p8be2cc9b7b">
<rect x="424.5" y="2068.6" width="302.5" height="302.5"/>
</clipPath>
<clipPath id="p6c5fed2d78">
<rect x="797.9" y="2079.5" width="289.9" height="270"/>
</clipPath>
<clipPath id="pef673ddcd8">
<rect x="1105.9" y="2079.5" width="14" height="270"/>
</clipPath>
</defs>
<g id="labels"><text class="bd" x="10.7" y="23.3" font-size="46">a</text>
<text class="bd" x="0.5" y="819" font-size="48">b</text>
<text class="bd" x="10.5" y="1688.8" font-size="48">c</text>
<text class="ar" x="300.3" y="313" font-size="20">Scatter plot</text>
<text class="ar" x="764.3" y="313.3" font-size="20">PLS component score plot</text>
<text class="ar" x="107" y="698.3" font-size="20">Thermal Matrix Diagram</text>
<text class="ar" x="512.5" y="698.3" font-size="20">3D scatter plot</text>
<text class="ar" x="847.1" y="688.4" font-size="20">Contour map</text>
<text class="se" x="1145" y="90.5" font-size="25.65">X1/Variable 1</text>
<text class="se" x="1145" y="121.7" font-size="25.65">represents</text>
<text class="se" x="1145" y="153" font-size="25.65">temperature data</text>
<text class="se" x="1149" y="312.9" font-size="25.65">X2/Variable 2</text>
<text class="se" x="1149" y="344" font-size="25.65">represents</text>
<text class="se" x="1149" y="374.7" font-size="25.65">precipitation data</text>
<text class="se" x="1149" y="516.8" font-size="25.65">Y value/Dependent</text>
<text class="se" x="1149" y="547.4" font-size="25.65">Variable represents</text>
<text class="se" x="1149" y="578.3" font-size="25.65">the area of the tomb</text>
<text class="se" x="1149" y="609.4" font-size="25.65">chamber</text>
<text class="bd" x="50.6" y="755.4" font-size="28.6" textLength="1205.7" lengthAdjust="spacing">Correlation Analysis between Underground Tomb Area and Climate Change in Guanzhong Region</text>
<text class="ar" x="254" y="1122.7" font-size="21">Scatter plot</text>
<text class="ar" x="741.3" y="1128.7" font-size="21">PLS component score plot</text>
<text class="ar" x="74.3" y="1523.2" font-size="21">Thermal Matrix Diagram</text>
<text class="ar" x="500.2" y="1521.8" font-size="21">3D scatter plot</text>
<text class="ar" x="852" y="1522.7" font-size="21">Contour map</text>
<text class="se" x="1164.6" y="895" font-size="27">X1/Variable 1</text>
<text class="se" x="1164.6" y="927.8" font-size="27">represents</text>
<text class="se" x="1164.6" y="960.5" font-size="27">temperature data</text>
<text class="se" x="1168.3" y="1127.9" font-size="27">X2/Variable 2</text>
<text class="se" x="1168.3" y="1160.4" font-size="27">represents</text>
<text class="se" x="1168.3" y="1192.6" font-size="27">precipitation data</text>
<text class="se" x="1168.7" y="1361.6" font-size="27">Y value/Dependent</text>
<text class="se" x="1168.7" y="1394.3" font-size="27">Variable represents</text>
<text class="se" x="1168.7" y="1426.9" font-size="27">Depth of tomb</text>
<text class="se" x="1168.7" y="1459.7" font-size="27">chamber</text>
<text class="bd" x="5" y="1593" font-size="30.1" textLength="1376.3" lengthAdjust="spacing">Correlation analysis between the depth of underground tombs and climate change in the Guanzhong region</text>
<text class="ar" x="308.3" y="2034" font-size="21">Scatter plot</text>
<text class="ar" x="826.7" y="2041.7" font-size="21">PLS component score plot</text>
<text class="ar" x="75.2" y="2414.0" font-size="21">Thermal Matrix Diagram</text>
<text class="ar" x="501.9" y="2414.0" font-size="21">3D scatter plot</text>
<text class="ar" x="855.2" y="2413.7" font-size="21">Contour map</text>
<text class="se" x="1168.7" y="1776.4" font-size="27">X1/Variable 1</text>
<text class="se" x="1168.7" y="1809.2" font-size="27">represents</text>
<text class="se" x="1168.7" y="1841.9" font-size="27">temperature data</text>
<text class="se" x="1172.9" y="2011.3" font-size="27">X2/Variable 2</text>
<text class="se" x="1172.9" y="2043.9" font-size="27">represents</text>
<text class="se" x="1172.9" y="2076.2" font-size="27">precipitation data</text>
<text class="se" x="1182.8" y="2244.5" font-size="27">Y value/Dependent</text>
<text class="se" x="1182.8" y="2277.2" font-size="27">Variable represents</text>
<text class="se" x="1182.8" y="2309.6" font-size="27">The ratio of the tomb</text>
<text class="se" x="1182.8" y="2342.1" font-size="27">passage to the long</text>
<text class="se" x="1182.8" y="2375.1" font-size="27">side of the tomb</text>
<text class="se" x="1182.8" y="2407.4" font-size="27">chamber</text>
<text class="bd" x="11.9" y="2456.4" font-size="30.1" textLength="1295.8" lengthAdjust="spacing">Correlation analysis between The ratio of the tomb passage to the long side of the tomb chamber and</text>
<text class="bd" x="11.9" y="2492.5" font-size="30.1" textLength="516" lengthAdjust="spacing">climate change in the Guanzhong region</text></g></svg>

</div></body></html>
